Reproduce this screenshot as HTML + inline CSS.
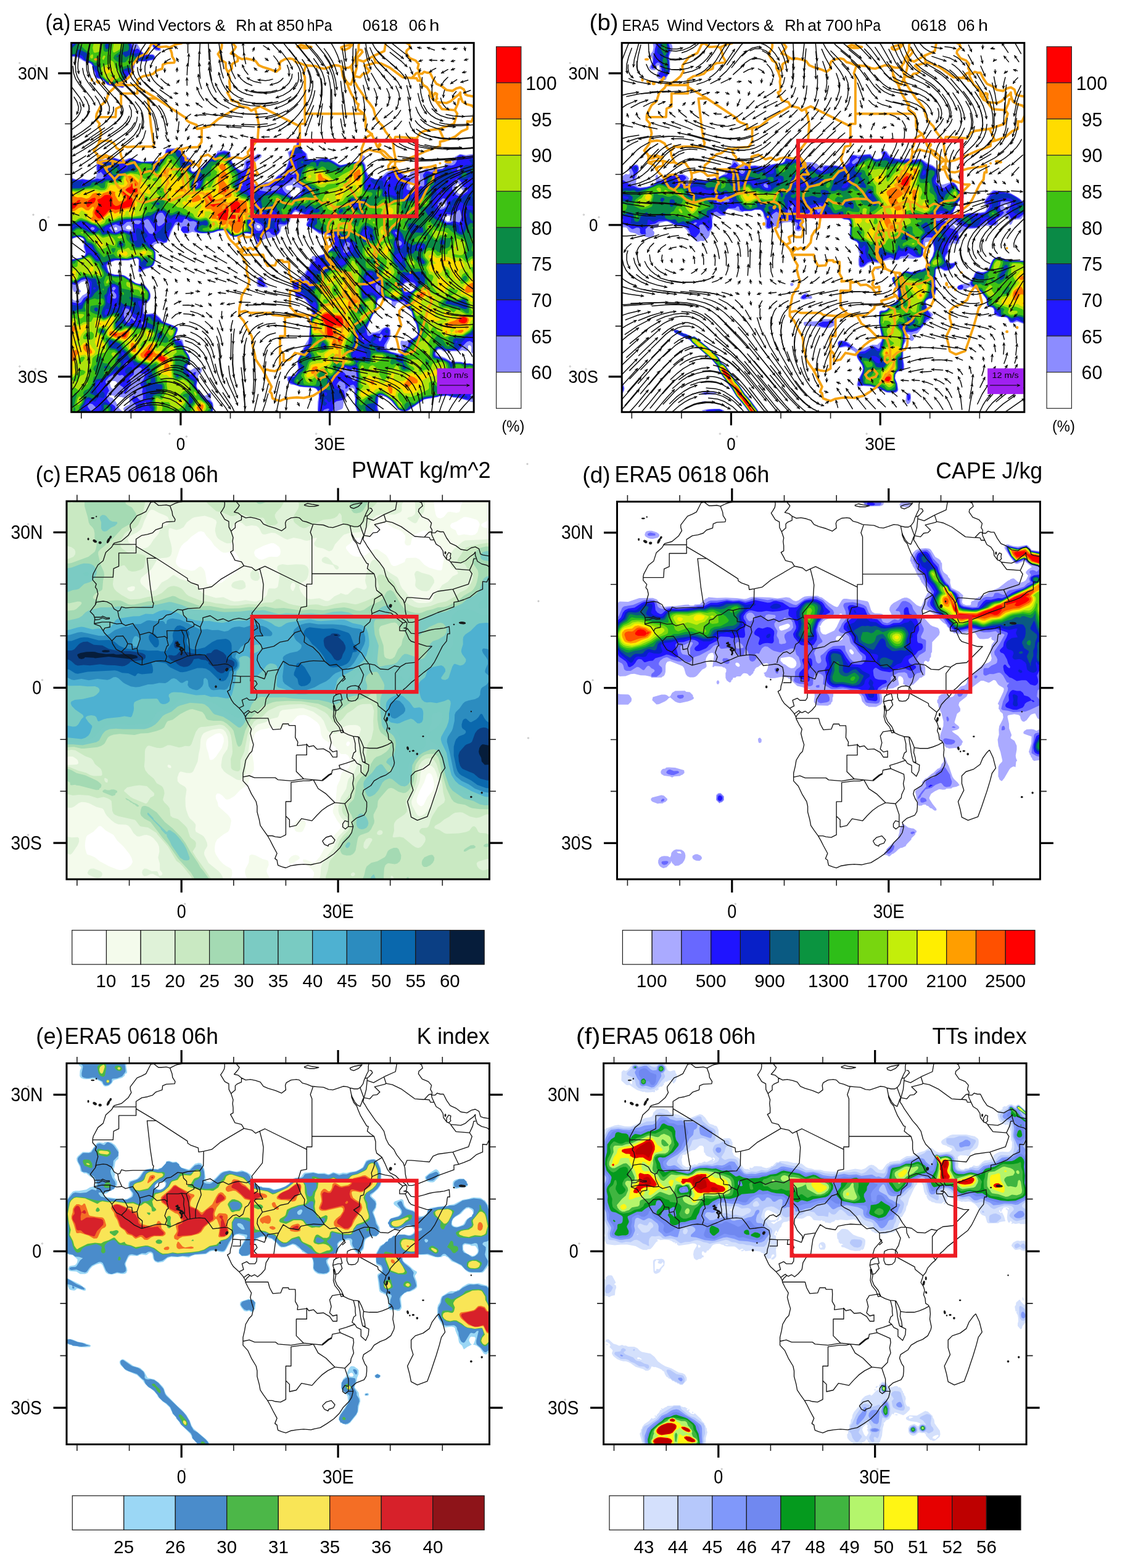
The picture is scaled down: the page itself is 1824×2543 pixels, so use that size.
<!DOCTYPE html>
<html lang="en"><head><meta charset="utf-8"><title>ERA5 0618 06h</title>
<style>html,body{margin:0;padding:0;background:#fff}svg{display:block}text{font-family:"Liberation Sans",sans-serif;fill:#000}</style>
</head><body>
<svg width="1824" height="2543" viewBox="0 0 1824 2543">
<rect width="1824" height="2543" fill="#fff"/>
<defs>
<clipPath id="cpa"><rect x="115.7" y="69.6" width="652.5" height="598.7"/></clipPath>
<clipPath id="cpb"><rect x="1008.2" y="69.6" width="652.6" height="598.7"/></clipPath>
<clipPath id="cpc"><rect x="108.0" y="812.9" width="685.5" height="613.1"/></clipPath>
<clipPath id="cpd"><rect x="1000.5" y="813.6" width="685.9" height="612.4"/></clipPath>
<clipPath id="cpe"><rect x="108.0" y="1724.5" width="685.5" height="618.0"/></clipPath>
<clipPath id="cpf"><rect x="978.6" y="1724.5" width="685.5" height="618.0"/></clipPath>
</defs>
<g clip-path="url(#cpa)">
<path fill="#8C8CFF" d="M111.7 65.6l110.8 0-.5 4 .8 2 5.9 10 3 3.4 4 2.5 12 .4 2 .8 2 2.9 .6 4-2.6 2.1-6 .6-6 1.8-16-.6-2 1.5-1.9 8.6-2.1 5-13 15-1.4 4 .4 6.8-2 2.3-22-3.6-4-1.4-4.8-6.1-3.2-2.6-10-2.1-1.3-1.3-5.6-20-1.5-2-10.9-4-12.7-7.3-12-.2zM217.7 66.3l-1.5 1.3 .1 2 1.4 2.2 2.3-2.2-.6-2zM247.5 67.6l1.1-2 13.1 0-1.8 8 1 8-1.2 1.2-6-.3-4-2.6-3.3-6.3zM483 227.6l.7-.4 2 .9 2 5 .9 6.5 3.1 5 2 .9 4.2 4.1 1.1 6 1.1 2 1.6 1 10 .3 10-2.7 8-.1 12 5.5 8 5.2 4 .4 30-6.5 2-1.1 .6-2-.3-4 1.7-1.8 4 1.5 0 2.8-2.5 3.5 .3 2 3.4 6 .9 8 1.3 4 4.4 6 4.2 2.9 4 2 2 .1 6-1.5 10.7-9.5 13.3-6 2 0 4.9 2 11.1 9.1 4 .3 2-1.3 1.2-2.1 1.2-6 1.6-1.9 2-.6 6-.7 2.9 1.2 3.1 3.6 2 .3 8-4.8 8 2.4 18-2.4 2.8-3.1 1.2-4.4 2-2.2 2-.2 4 1.9 2 0 1.8-1.1-.2-2-2-2 .4-2 14-7.8 10 1.7 10-1.7 8 1.2 0 320.3-6 1.7-2-.2-1.9-1.2 .5-8-.7-2-1.9-1.5-2 .1-1 1.4 .5 6-1.5 1.4-2 .5-6-1.4-6 1.7-16-.3-8 .9-4.6-2.8-3.4-.5-2 .6-1.9 1.9-.7 2 .1 2 1.6 2 12.9 4.6 10 6 16 .5 8 2.3 6-.1 12 2.9 0 60.4-4 .4-6-.9-10-3.1-12-2.8-6-.7-10-3-14 .8-2 1.2-6 .8-2 1-8 .8-6 1.6-26 18-6 1.8-6-1.5-4-2.1-12.2-14.9-7.8-5.6-8-2.9-2.2 .5-1.7 2-1.1 16 2.1 12 1.1 2-34.8 0-6-16 .5-12-1.8-6 .5-8-2.6-2.4-2 .1-7.3 6.3-.8 2 .2 6-4.5 8-1.3 10-2.3 2.1-8 2.9-1.5 3-.6 4-14 0-3.9-2.4-3.2 2.4-4.7 0-2.1-4.1-1-5.9 .4-12 1.7-8-.1-6-3-5.4-2-1.8-4-1.4-21.2-1.4-8.8-3.2-6-.7-3.7-2.1-2.3-5.2-.7-4.8 2.7-1.5 8-.5 2.8-2 2.6-4 1.5-4 .3-4-1.3-10 7.2-14 2.9-7.9 8.6-14.1 1.9-14-.1-10 1.4-12 2-6-2.7-10-8.8-12-4.3-2.2-6 .3-4.3-2.1-5.7-17.1-.6-4.9 .6-3.3 2-1.6 8.5-3.1 5.1-4 3.6-4 8.6-12 3.8-14 1.2-2 9.2-1.2 8-1.9 4-1.9 4-2.3 5.2-4.7 3.1-6-1.8-4-4.5-4 .4-6-1.8-2-14.6-2-14-10.7-4-.5-3.1-2.8 .4-4 1.6-4-1.6-6-3.3-3-14-5.4-4 1.7-1.9 2.7-4.1 12.2-2.4 3.8-3.6 2.2-7.4 1.8-1.5 8-5.1 6.3-4 2-14 2.9-4 1.4-4.4 3.4-5.6 5.8-2-.1-1.5-1.7-.3-6-2.4-6-3.8-3.1-4-1.3-4-.7-4 .4-6 3.2-6 1.9-4 .5-6-2.1-6.5-6.8-5.5-2-8 1.2-8 2.6-6 1-16 0-12-2.5-6 2.5-8 .1-4.6-4.9-.3-4-3.1-4-2-1.3-2 .1-2 1.2-2.7 4-10.4 24-6.9 1.6-8-.4-4 1.1-2 1.7-.7 2 .4 2 3.1 8 0 12-2.8 8-4 4.2-10 2.9-8 5.2-2.6-.3-1.7-2 .9-4 .4-14-3-2.7-12 3.5-22 .1-10 3.7-3.5 3.4 0 4 1.9 6 1 2 2.5 2 8.1 1.5 12 .6 4 1.9 16 11 6 1.7 6 .1 2 .7 2.4 2.5 6 8 1.7 4 .6 4-.5 4-1.9 4-7.4 8-.9 10 .8 2 3.2 1.3 14-1.3 8.2 8 2.5 4 2.4 2 18.9 7 4.5 3 .3 4-3.9 10-.4 2 .8 2 2.7 1.4 6-.8 2.4 1.4 2.8 12 3.9 8 3.3 4 2.3 6-.3 6-3.8 6-.6 2 .6 2 3.4 2.8 2-.1 6-3.8 2-.5 8 .7 1.4 .9 .4 2-1.1 4-5.3 6-.3 8-1.5 6-.1 4 4.5 7.8 6 5.6 2 .7 2-.3 4.3-3.8 4 0 .5 4-1.2 6 4 6 .9 4-.2 8-1.2 2-.8 6-120.7 0-5.6-2.4-4.7 2.4-101.3 0 0-192 4 1.7 4 3.6 2 .7 4-.5 4-3 4-4.8 6-3.3 2-2.2 1.3-4.2 .2-4-1.5-7.1-2-2.1-2-.7-6 1.8-4.6 4.1-.8 2 .5 4 4.2 4-.1 2-1.2 .6-4-1-6 .2-1.8-3.8-1.2-6-3-.8-2 1.4 0-44.7 6 .6 12-1.9 6-1.9 1.8-2.7 .6-4-2.5-8-.2-6 1.2-4-1.6-4-1.3-1.3-4-1.6-6 .2-6.7 2.7-5.3 5.4 0-106.5 12 4.5 6-.3 4-1.2 8 1.7 4 0 4-.4 3.4-1.2 2.2-2 1.5-4-.9-12 1-12 .8-2.2 2-.2 4 1.5 4 .3 8-2.3 10-1.3 10 3.4 6 .5 8-3 4-.4 10 4.6 6 1.7 22-1 8-2.9 4-2.8 3.1-3.9 1-6 1.9-4.1 2-1 12-.3 5.5 1.4 6.5 4.1 2.4 1.9 4.2 6 7.4 5.1 1.4 4.9-1 12 1.6 2 2 .7 4-1.1 9.1-5.6 14.2-14 2.7-1.1 5.5-4.9 1.7-2 .8-3.5 2-1.8 10-.9 8 2.1 2 2.8 1.9 11.3 2.6 6 5.5 6.9 6 2.9 2 0 3.1-1.8 1.2-4-.3-6 2.6-4 3.4-1.6 6-.9 10-7.5 4 .3 2.6 1.7-.6 3.1-10.7 8.9-4.9 8-.8 4 1.9 8-.5 8 1.2 4 1.8 2.4 2 .8 8-.2 6.6-3 7.4-.6 6-2.2 10-9.4 8-4.8 4.4-7 4.5-14-.2-4-2-6 1.3-2.1 6-3 5.5-4.9 2.1-8zM619.7 483.3l-4 1.3-3.4 3-1.9 14-6.9 12-7.7 18-.2 4 2.1 3.2 2 .8 8-.6 6-1.9 8-5.5 6-1.9 3.6 1.9 2 4 .4 6-1.6 8-5.3 10-.1 4 2.9 4 4.1 2.7 14 3.2 2.6-1.9 1.1-4-2.2-10 .5-4.6 2-.6 4 1 4-.4 12-5.8 4.4-3.6 1.1-6-2.9-12-4.1-8-3.4-12-7.6-6-5.5-8.2-4-1.2-4 .5-2.3 .9-3.7 6.9-4-.5-.8-2.4-.1-8-5.1-2.8zM657.7 459.6l-2 1.1-1.6 2.9-.3 4 1.9 3.7 2 .9 8 .5 5.2-3.1 1.7-4-.1-2-1.2-2-7.6-2.6zM667.7 296.9l-2.7 2.7-.8 2 .2 2 3.3 2.2 2 .4 3.4-.6 2-2 .4-2-1-2-2.8-2.3-2-.7zM675.7 280.8l-2 2.4 0 2.4 2 4.3 2 1.6 2 .4 .9-2.3-.7-8-2.2-1.3zM717.7 329.3l-3.6 2.3-.4 1 0 1.7 2 1.8 3.8-.5 1.7-2 .1-2-1.4-2zM723.7 350.3l-1.8 1.3-.9 2 1.4 4 3.3 1.9 4-1.6 1.4-2.3 .1-2-1-2-2.5-1.6zM741.7 296.9l-4 5.9-.3 2.8 5.2 8 3.1 1.2 2-.3 2.9-2.9 .2-2-5-6-2.1-6.2zM177.7 641.1l-.5 .5 .5 2.6 4 .9 4.8 4.5 7.2 13.3 8 7 1-.3-.1-2-2.7-4 .7-2 3.1-2.5 6.7-3.5-.9-6 .2-9-2 .3-2 3.9-2 1.4-6-2.2-6-.5-12-2.8zM179.7 618.6l-1.5 3 1.3 6 2.2 2.3 2 .5 2-.7 2.7-2.1 1.2-2 .1-5.1-2-2-2-.4-4-.3zM219.7 624l-2 3.8 2.1-.2 1.2-2zM185.7 369.3l-.3 2.3 1.7 2 2.6-.5 .6-1.5-.7-2-1.9-1.3zM205.7 366.8l-1.8 2.8 1.4 2 4.4 1 3.3-1 .2-2-1.5-2.4-2-1.4-2-.2zM417.7 364.9l-1.3 .7-.3 2 1.1 2 2.5 1 2-1 0-2.6-2-1.8zM465.7 301.2l-2.7 2.4 0 2 2.7 2.7 4 .3 1.8 1-.8 6 3 3.2 2 .4 2-.8 7.2-4.8 .8-1.3 .9-4.7-.9-2.7-4-.9-6 1.5-2-5.5zM477.7 295.1l-2 .6 0 3.1 2-1zM418.1 449.6l3.6-.8 3.9 .8 2.4 6 6.3 10-.6 .6-12-.1-4-1-1.6-3.5-.1-4 .4-4z"/>
<path fill="#2219FF" d="M111.7 65.6l2.6 0-.9 2 .3 1.7 2 1.1 2-.5 2-1.9 .3-2.4 93.3 0-.6 4 3 10.4 2 1.1 4-2.1 2 0 10 9.6 14 .7 2 1.4 1.3 2.9-1.3 2.6-6 .9-6 1.9-10 0-6-.8-2 1.2-1.4 2.2-2.6 10.9-14 17.1-1.4 4 .2 6-.8 1.6-2 .5-6-1.8-14-2-4-1.7-8-8-8-2.1-2-1.3-1.3-7.2-2.7-4.8-1.9-7.2-2.1-2.9-12-4.9-4-3.2-6-3.1-14-1.1zM249.3 65.6l11.2 0-1.9 8 .7 6-1.6 1.7-6-1.9-3.2-3.8-.9-4zM482.7 231.6l1-1.7 2 1.7 2.1 8 2.2 4 5.9 6 .8 6 1 2 2 1.5 14 .6 8-2.3 8-.1 6 2.3 12 7.2 4 1.6 8-1.4 12-3.6 14-1.4 2 .7 3.3 4.9 1.5 10 3.6 8 2.1 2 7.5 2 2 1.4 4 .3 4-.8 5.3-2.9 7.2-6 5.5-2.7 4.6-3.3 5.5 0 3.2 2 8.7 9.9 9.2 2.1 .5 2-.6 2-5.5 8-.4 4 .8 1.7 2 .9 8 .8 4-.7 8-6.5 4 .6 2-.8 .4-10-2.1-6 0-2 3.7-5.4 2-1 2 .2 6 2 2-.7 3.7-3.1 12.3-1.4 3.5-2.6 2.5-3.7 8 .6 4-1.1 2.4-1.8 2.4-4-.1-6 1.5-2 3.8-2.3 3.7 .3 6.3 2.4 10-2 8 1.2 0 291.4-1.9 3-.1 2 2 4.8 0 14.3-2 .7-2-.9 .2-8.9-4.2-4.4-4-2.2-4 1.1-1.9 1.5-12.1 12.6-22 .6-6-2.9-4-.6-2 .5-2.3 1.8-1.7 2.9-.5 3.1 .5 2.5 1.5 1.5 14.5 4.3 10 5.6 16 .2 8 2.2 6-.1 12 2.8 0 54.5-1.8-1.5 .4-6-2.6-2.4-3.9 .4-2.1 2-.7 2 .4 6-3.7 1.1-6.4-1.1-9.6-3.1-10-.8-8-2.8-14 1.4-2.6 1.3-21.4 3.6-24 16.7-4 2.2-4 1-6-1.5-4-2.1-10-12.8-8-6.4-8-3.8-4-.1-2.1 1.2-1 2-.3 10-1.1 6 .4 4 3.1 10-32.5 0-6.3-18 .8-10-1.3-6 1.4-8-1.1-3.9-2-3.2-2-.8-5.1 1.9-4.9 4.8-2-.5 .5-4.3-1.6-4-6.9-3.9-2 .6-2 2.6-1.5 2.7-.1 2 4 4 7.5 4 2.1 10.2-2 3.7-2 1.2-10 2.1-4 2.6-.5 2.2 1.2 6-2.8 4-.2 6-1.7 1.6-2 .2-3.4-1.8-1-2 .4-2.5 2.4-3.5-2.4-1.2-6 1.9-6 6.4-2-1.1-2-3.6 1.8-22.4-.2-6-3.1-6-2.2-2-4.3-1.4-14.7-.6-7.3-1.1-16-5.6-2-3.2-.7-4.1 2-2 6.7-.5 2-1.2 4.7-6.3 2.2-6-1.8-10 .9-5.2 5.3-8.8 4.7-9.8 4.9-4.2 1.1-2 2.2-10 .9-22 1.5-10 3.5-8-3.3-10-8.8-12.6-6-4.6-6 1.6-2.2-.4-1.6-2-1.5-8-3.1-8-.5-4 .9-2.3 2-1 10-4.1 2-.2 2.6 1.6 1.6 4 1.8 2.2 4 .9 1.6-1.1 .5-2-1.3-2-4.6-2-1.3-2-.4-4 5-10 4.2-6 2.3-5.9 2-1.6 4.1-.5-1.3-4 1.1-2 12.1-4.3 8-4.5 8.2-7.2 3.1-4-.3-2-5.3-6-.4-8-4.6-2-14.7-2.3-14-9.1-4-.3-2.4-2.3 .1-2 3.6-6-3.3-7.4-2-2.1-16-7.5-2 .3-4 4.6-6.1 14.1-1.9 2.9-4 1.7-8-.8-2 .8-.9 1.4 2.9 8-1.6 4-2.4 2.5-3.4 1.5-2.7 0-3.8-2-2.1-2.9-2-1.1-2 .3-4 2.2-2 2.8-2.6 6.7-5.4 4.3-2-.2-4.6-8.1-3.4-3.7-8-1.9-6 .1-6.3 3.5-5.7 1.8-4 .4-5.8-2.2-6.2-6.6-4-1.9-10 .9-8 2.7-6 1-12 .4-6-.9-4.7-1.6-1.7-2-.3-2 .7-2 3.6-6-.1-2-1.5-1.7-4-1.5-6 .5-2-.8-2.4-2.5-3.6-.6-1.4 .6-2.6 5.1-2 .5-6-1.7-2 .5-2 1.7-7.5 13.9-4.5 13.7-2 3.2-4 1-8-3.3-2 .1-7.2 3.3-2.1 2-.8 2 .4 2 3.7 4.9 1.8 5.1 .2 10-2 7.9-2 3.6-2 1.6-12 3.1-6 4.4-2-.2-.3-18.4-1.3-2-2.4-1.3-14 3.4-22 .3-8 3.1-3.6 2.5-1.5 2-.2 2 2.5 8 2.8 4 8 2.4 12 .1 4.3 1.5 17.7 11.7 4 1.4 8 .6 2 1 7.5 9.3 2.1 6 0 4-1 4-4.6 4.7-6 1.6-1.7 1.7 1.8 6-.2 8 1.4 2 2.7 .8 12.4-.8 3.6 .9 6 4.7 5.1 6.4 20.9 8 3.3 2 .9 2-.3 2-4 10-.2 4 2.3 2.5 8 .6 6.1 14.9 5.9 8.6 2.1 5.4 0 4-5.1 8-.5 2 1.2 4 4.3 7 2 1 4-3.2 2-.9 2.3 .1-1.8 6 .1 2 3.1 6-1.6 8 1.2 4 4.7 7.2 8 8.9 2.2 1.9 5.8 1.9 4.3 4.1 1.6 8-3.1 12-107.4 0 1.3-4-.7-2.3-2-2-2 .1-6 3-2 .2-3.3-1-2.5-2 2.2-4 .1-4-6.2-8 .2-4 1.5-3.3 2-.4 4 1.6 3.4 4.1 2.6 1.6 2 .6 2-.6 .2-7.6-1.6-6 1.1-4-.5-2-3.5-6 .1-2 5.1-6 2.5-6-1.4-3.5-6.2-.5-1.2-2 3.5-4 0-2-2.1-1.7-2-.1-8.2 3.8-.7 8-6.7 6 .1 2 2.1 4-.1 4-8.5 13.3-2 1.3-2-.5-2 .7-.4 1.2-3.6 .4-1.6-.4-1.8-2 1.4-1.1 2-.1 6 1.2 1.4-2 .3-4-.7-2-1.8-2-3.3-2-1.7-2-.3-2 .1-2.2 2-3.2 4-.8 2.2-1.8-.1-2-2.1-2.8-2-.9-4 1.2-6-3.3-2 .1-9.1 5.7-5.1 6-.5 2 6 14-3.3 5.1-.9 2.9 .9 6.1 4 5.2 7.3 4.7 1.8 2 1 4-2.1 4.2 6 .7 4 2.2 3 2.9-87 0 0-188.7 6 5.3 8 1.9 4-.6 2-1.6 4.1-6.3 6-4 1.3-2 1.7-6 .4-8-.3-4-1.8-4-2.3-2-3.1-.8-6 1.8-10 7.3-6-1.4-4 .4 0-40.5 6 .6 12-2.2 6-1.9 2.9-3.3 1-4-2.9-10 .2-10-.9-2-2.3-2.2-4-1.4-6 .3-8 3-4 4.5 0-104.1 8 3.3 6 1.2 8-1.1 10 1.5 8-1.1 6-2.1 4 1.1 4-.4 3.1-2.5 .2-2-5.3-6.8-4 2.4-2-5.8-.2-5.8 2.2-9.6 6 1.5 11.7-3.9 8.3-.9 10 3.8 6 .7 2-.3 6-3.5 4-.5 10 4.4 6 1.5 24-.5 10-5.4 3.8-5.3 2.2-7.4 2-1.9 6 .1 6-1 6 1.8 6.5 4.4 1.8 2 2.7 6 7.8 4 1.2 2 .3 4-1.4 10 3.1 3.3 4 .4 12.1-7.7 11.9-12.1 8-5.5 6-6.3 10-2.5 6 1.5 2 1.4 3.2 13.5 2.1 4 4.7 6.4 8 5.3 4 .2 2-.9 2.7-3 1.1-4-1.1-4 .2-2 1.3-2 3.8-1.2 3.5 1.2 .5 2-4.8 6-.4 2 3.4 10-.5 10 2.3 6 2 3.1 1.5 .9 6.5 .8 1.7 1.2 .3 4 2 1.5 14 2.4 8-2.4 8-.9 2.6-2.6 .3-2-2.9-2-4-.9-8 2.1-10 .8-3.2-2 .5-2 2.5-2 8.2-.9 6-2.7 4.9-6.4 3.1-2.6 4-.8 4 3.3 2-.3 .9-1.6-1.3-4 .4-2 5-10 4-14-1.5-8 10.1-8 1.7-2zM561.7 392.1l-2 1.5-3.1 10 0 4 .7 2 2.4 1 4-.8 1.7-2.2 .4-6 1.7-4 .2-2-1.4-2-2.6-1.4zM589.7 546.9l-2 1.1-.3 1.6 2.3 2 1-2zM613.7 459.1l-3.7 2.5-1.5 2 1.7 10 1.5 2.1 2 0 1.8-2.1 1.4-8 0-4-1.2-2zM627.7 286.4l-1.4 5.2 1.4 3.3 2.6-1.3 .6-4-.2-2-1-1.4zM641.7 375.6l-1.6 2 3.6 4.3 1.1-2.3-.4-2zM645.7 389.4l-2 2.2-1.2 4 1.2 2.7 4 .8 2.7-1.5 1.2-2-.1-2-1.8-2.5zM659.7 456.7l-4 1.8-2.3 3.1-.6 6 .9 3.1 2 2.6 2 .9 10-1.3 4-3 1.5-2.3 .9-4-.4-2.3-2-2.4-2-.9-6-1.6zM715.7 310.8l-1.8 .8 1.8 3.1 1.2-1.1-.3-2zM739.7 290.2l-6.1 11.4-.8 4 .5 2 6.4 8.6 4 1.7 4-.2 10-7.1 1-3-1-2.3-6-2.1-1.5-1.6-2.4-6-2.1-2.6-4-2.9zM743.7 271.3l-2 1.7-.8 2.6 .8 1.4 2 .8 2-1.2 .9-3-.9-2.2zM183.7 465.1l-2 2.5 .2 2 1.8 1.9 2-.9 2.2-3-1.3-2zM203.7 500.1l-2 2.5-1.2 9 3.8 10 1.4 1.5 2.5 .5 2.4-2 1.1-3.7 2-1.6 2.7 3.3 1.3 .7 2-.5 0-2.4-4.9-3.8-3.9-10-3.2-2.8zM229.7 521.2l-.4 4.4 2.4 1.4 2.1-1.4-2.1-3.7zM235.7 652.1l-1.7 1.5 1.7 3.8 2-1.3 .4-2.5zM145.7 654.5l-3.3 3.1-.3 2 3.6 5.1 2 1.7 6-2.8 1.7-2-1.1-2-4.6-4.4zM147.7 368.8l-1 .8 .2 2 2.8 1.6 2-.1 1.6-1.5 0-2-1.6-1.2-2-.4zM219.7 357.3l-4 1.8-10 .9-8 6.8-2 .4-8-3.4-5 1.8-5.8 4 5.5 6 3.3 1.2 4-.1 8-4.1 11.3 3 6.7 .2 1.3-2.2 .4-4-1.7-6.5 2-.4 6 1 2-.5 3.5-3.6-2.3-2zM237.7 355.4l-3.9 2.2-1.1 2 1 2 .5 6 7.5 10.7 4 1.3 2-.9 2-2.3 .9-2.8-.4-2-8.5-14.4-2-1.6zM257.7 345.5l-3.7 4.1-.9 4 1.6 10 1 2.4 2 1 4-1.8 6.9-5.6 1.2-2-1-4-4.8-8-2.3-.8zM315.7 296.7l-1.6 2.9 .1 2 1.3 2 2.2 .1 2.9-2.1 1-4-1.9-1.5zM391.7 298.1l-.6 1.5 .6 2.5 1.7-.5 .1-2zM407.7 357.3l-1.4 2.3 4.1 2 2.4 8 2.9 3.9 4 1.2 3.5-1.1 2.2-2 .4-4-3.2-4-9.5-4-2-2zM471.7 273l-1.6 2.6-.4 4 2 2.7 4 1.5 2.6-2.2 .7-4-3.3-5.6-2-.4zM557.7 596.9l-3.1 2.7-.9 2.3 4 2 4 4.8 4 .4 2 1.1 4 7.1 2 1.3 2-.8 2-2.5 .7-3.7-2-14-.7-.7-2 0-1.8 .7-4.2 3.7-2-.1-4-4.7-2-.5zM615.7 482.9l-2 1.3-2.4 3.4-1.5 14-6.2 10-9.3 20-.2 4 1.6 8 2 1.3 2-.1 6-3.6 6-.7 4 .5 3.7-5.4 2.3-2 4-1.9 2-.3 2 .8 2.2 3.4-.2 7.3-2.3 6.7-6.3 10-.7 4 1 2 2.3 2 6 2.9 10.7 3.1 5.3 2.3 2-.3 2-2.1 4-7.6 4-3 2-2.4 1.4-6.9 10.6-6.3 3.6-3.7 .6-6-2.6-12-3.6-6.3-3.9-13.7-6.1-6-6-10.4-2-.8-16 .4-8-4.6-6-1.6-4-.5zM715.7 323.5l-5.6 6.1-.7 2 1.7 6 2.6 2.3 2 .1 4-1.5 3.9-2.9 1-2-.4-10-4.5-1.9-2 0zM743.7 340.8l-10 7.9-8-1.5-4 .7-5.8 3.7 .4 2 4.9 6 2.5 1.5 6-.2 6-2.6 8 2.5 2-.8 3-8.4-3-11.3zM181.7 472.7l-3 4.9 .3 4 2.7 2.2 4 .7 2-.9 1-2-.4-4-4.6-5.8zM205.7 587.5l-2 2.1 0 2 2.3 0 2.7-2-1-1.8zM475.7 289l-6.2 6.6-10.8 6-1 2 1 4 3 4 10 8 4 1.4 12-6 3.8-11.4-2.1-2-5.7-2.8-4-7.9-2-1.7zM617.7 541.6l-2 2.4-1.9 7.6 1.9 2.1 2-1.5 3.2-6.6-.6-2zM416.1 253.6l4.2 0-1.2 2-5.4 2.9-.9-.9 .7-2zM295.6 367.6l6.1-.7 3.6 2.7 1.5 4-.2 2-1.6 2-7.3 .2-2-1.8-1.9-2.4-.1-2zM419.3 451.6l2.4-1.3 2 .7 6.1 10.6 .5 2-.6 .7-2 .6-8-1.5-1.7-3.8zM338.8 639.6l.9-.5 1 .5-.1 2-.9 .8-1.3-.8zM209 665.6l.7-1 2-.2 3.3 1.2-.4 2-2.9 1.7-2-.9z"/>
<path fill="#0631B3" d="M123.6 65.6l87.2 0-.5 4 1.8 8-.6 6 1.1 2 7.1 1.2 6-1.4 2 .9 6 6.2 2 .2 8-2.3 4 .9 1.3 2.3-1.3 1.3-12 2.4-8 .4-6-1-2 1.1-2.4 3.8-1.8 8-1.8 3.6-2 2.2-4 1.9-2-1.9-2-.5-2.5 .7-1 2 1.2 2 2.3 .6 1.1 1.4-.5 2-4.6 8-1.8 8-6.2-1.8-14-1.4-4-1.8-6-6.1-9.7-4.9 1.2-4-.4-2-1.1-2-4-3.3-3.6-8.7-2.4-2.3-9.5-3.7-2-2-2.5-5.2-6-1.8-4.2 1-5.8 0-5-2-1-1.5 .7-8.5 9.3-7.3 1.7-2.7zM250.6 65.6l8.4 0-3.3 11-2 .3-2-.8-2-2.1-.4-2.4zM482.1 239.6l1.6-1.4 2 .9 5.2 8.5-1.2 1.5-6-.6-6 2-1.3-.9-1-2 .6-2zM281.2 243.6l5.5 0 8.3 6 .9 2-.1 6 1.9 5.3 6-2.2 3.2 .9 1.1 2 .3 4-1.8 6 .2 2 3 3.5 4 1.8 4-.6 10-7.2 4.2-3.5 7.8-8.6 8-5.1 6-5.7 8-2.4 4 .4 3.7 1.4 2.3 3.7 1.2 8.3 1.1 2 5.8 8 10.3 10 .6 2-1.7 8-2.7 6 0 2 3.4 7.2 2 2.6 2 1 6-.5 2 2 2.8 5.7 3.2 2.5 1.8-.5 1-2-1.2-8 2.4-1.6 2 .5 6 7.9 2 .1 6-2.8 8 .3 8-2.3 4-.2 12 3.2 16 8.1 2-.4 12-5.9 1.9-2.9 .6-4 5.6-6-1.5-2-10.6-4.7-4.8-9.3-.2-2 2.6-8-1.6-6-.8-12 .8-.8 8-2 4 .4 4 3.8 2 .6 6-.9 8 .6 8-2.4 10 .5 8.7 4.2 7.3 4.8 4 1.3 22-6 12 .1 2 1.1 2 3.2 1.7 11.5 2.1 8-1.1 8 0 10 1.3 1.1 2 .1 8-1.9 6 .7 4-2-.3-2-1.7-1.2-6-2-3.3-2.8-1.5-2 0-2 .8-.4 4-.1 8 1.9 6-.4 1.7 3 .4 6 4.7 4-4 6-.8 2 .5 2 3.5 .9 8-.6 8 2.8 1.2-1.1-.1-2-4.3-8-.2-4 1.4-1.6 8-2.4 2-5.3 2.6 1.3 1.1 2 .6 16-1.1 6 1.3 2 3.5 1.2 3.1-1.2 1.8-2 1-6 2.1-1 3 1 0 2-2.3 4 1.1 2 4.2 .6 4-1.2 2.1-1.4 .2-2-2.9-4 .3-2 1.4-2 4.9-3.2 6 1.1 2-2 1.2-3.9-.6-6 .6-6-1.4-4 .2-2 2-2.1 2-.3 9.3 2.4 4.7 7.5 2 .8 3.7-2.3 1.6-4-1.2-2-6.1-2.3-1.2-1.7 .6-2 4.6-1.1 6 .1 8-5.1 5.1 2.1 1.7 4 4.7 4 .6 2-4.1 4.8-8 3.4-2.5 3.8 .4 4 4.1 4.3 .1 5.7-2.1 1.7-2 .3-2-.8-4-4.2-4-1.7-2 .3-3.4 2.4-2 2 1.4 1.2 .8 4.8-4.8 2.3-2 4.8-.5 10.9 4.5 2.9 1.4 3.1-.2 2-2.6 4-.5 2 2.9 4 9 5 6 5.7 4 .8 10-.9 4.8 1.4 2.5 2 .8 2 .4 6 1.5 2.3 2 .4 2.5-2.7 3.3-10-1.2-6 3.4-3.6 1.1-2.4-.1-4-1-1.9-4-2.8-.4-1.3 .6-2 1.8-1.1 4 1.8 6 0 4 1.1 2 4.5 3.9 5.7 .1 183.1-2-.3-2.7 1.2-3.3 7.5-6 2-4.1 2.5-7.9 8.9-4.4 9.1-1.6 1.3-18 .7-8-3.6-6 0-2.4 1.6-2.8 4-.9 6 .5 2 1.6 1.5 16 4.3 4.5 2.2 5.5 4 8-1.4 6 .3 10 2.5 6-.2 12 2.7 0 41.8-6-1.3-8-.3-8-5.8-8-2-4-3.7-4-.2-3.2 1.6-1.7 2 .6 8 4.8 2 8.4 2 1.5 2-1.2 2-7.2 1.5-12-3.8-38 6.8-4 1.9-10 8.2-11.4 7.4-6.6 2.6-6-1.5-4-2.1-8.3-11-7.7-6.7-8-4.6-6-1-3.7 2.3-.8 2-.6 10-2.6 6 .5 4 3.2 5.2 1.4 4.8-29.7 0-6.5-18 .9-8-1-8 1.7-8-.9-8 2.6-10-1.3-16-1.2-3-2-.8-8 1.6-8-1.7-4.3 1.9-5.1 4-6.6 9.6-7 6.4-1.4 2-.1 2 4.5 8 2 1.9 8 3.8 3.2 2.3 2.6 6 .2 2.4-1.8 1.6-8.2 2.8-6-.6-2 .6-2 3.3-2 .8-1.9-.9-2.1-3.8-2-1.1-1.9 2.9 .9 2 3.5 2-.5 2-2 2.2-2 .4-1.3-.6-5.4-6-.3-14-2.1-6-1.9-2-7-2.3-14-.7-10-1.7-7.6-3.3-4.5-4 0-2 6.1-4 9.7-12 .1-4-3.3-8 .3-4 9.2-15.8 6-5 2.3-3.2 1.4-8-.6-10 .9-17.8 2-8.4 2-2.8 4.1-3 .3-8 1.3-6-1.7-4.7-2-1.5-2 1.3-2 3-3.6-2.1-2.9-6-7.5-10-2-1.3-4-1.1-2-1.6-2.5-6 2.5-7.2 2-1.1 6.8 6.3 3.2 1.5 8 1 2-.1 2-1.4-.2-13 .8-6-.6-3.5-1.9-2.5-.2-2 2.1-.7 6 2.6 8 .5 8.2-4.4 1.8-3.9-.4-2.1-1.6-1.8-6-2.6-5-5.6 .2-2 6.8-3.6 10-7.8 8-3.1 6.2-3.5-1.5-8 4.1-6-2.3-4-2.5-2-6 .4-22-4.2-6-2.6-6-4.5-8.5-3.1 .5-2.1 6.2-1.9 1.7-2 .4-2-1.5-2-4.8-2.7-1.9-3.3-.1-2.5 5-5.5 0-2-1-1.4-2-.3-4 2.7-2 3.3-2 .8-4-1-3.7-2.1-4.3-4.3-4 .1-4 5.1-8.8 17.1-3.2 2.2-4-.4-3.7-1.8-1.5-2 .5-6-1.3-3.9-2-2.2-4-2-2.9-3.9-1.1-.5-2.7 4.5-5.3 3.5-2-.1-8-4.4-1.8 1 1.8 7.1 2 .7 4-1.1 2 .3 2 5.1 2 2.4 2 .5 6-1.7 1.2 .7 .9 2-.5 8 1 2 3.4 1.9 1.2 2.1-1.2 3.5-2 .9-2-.8-1.1-1.6-.9-4-2-1-10.1 1-1.9-1.9-3.1-6.1-8.5-6-1.5-4-2.9-1.3-2 .1-6 2.6-2.5 2.6-.6 2 1.1 5.7 6.2 8.3 .4 2-.6 .7-4 1.3-6-.7-4 .5-7.9 4.2-8.1 1.4-4.4-1.4-7.6-7.6-4-1.7-10 .8-8 2.9-6 .8-10 .5-8-1.4-3.4-2.3-.4-2 .4-2 4.2-6-.2-2-4.6-3.5-8-2-8-4-16-1.5-4 .7-4 3.3-2 .2-2-1.5-7.8-9.7-2.2-1.1-4-.2-4 1.5-6.8 5.8-.7 2 1.9 6-.4 3.2-2-.3-5.3-6.9-2.7-.9-10 2.9-8-.3-16 1.6-4 .7-6 2.9-12 2.1-11.7 5-2 2-.6 2 .3 2.3 2 1.2 4 .3 8 3 6 .1 10-3.3 14 4 2.6 2.4-1.9 6 .9 2 4.4 1.4 2.5-1.4-2.4-14 1.9-5.4 2-.2 8.4 3.6 5.6 5.6 1.4 2.4 0 2-4.9 4 5.1 6 2.7 6 5.7 4.1 2 2.8 .9 3.1-.3 14-2.6 5.7-2 2.1-8 2.3-8-1.3-2-1.3-.6-1.5-.5-8-1-2-3.9-1.9-16 3.4-20-.5-6 2-5.3 3-5 4-.4 2 2.7 3.9 2.5 6.1 3.5 3.2 8 2.1 14.4 .7 19.6 12.5 6 1.7 6 .6 2 1.1 8 10.9 .7 5.2-.3 4-2.4 4.1-4 1.7-10-1.6-2 .7 .6 5.1 3.7 8-.7 8-1.6 2-2 .4-6-2.7-2-2.6-2.1-5.1-3.9-3-6-1.5-2.9 .5-2.6 2-.8 10 .4 4 2.6 8 3.3 3.5 4 1.8 2-.2 4-2.1 2 .1 4 3.3 4 1.5 6 .7 5.8-.6 3.4-2-4.4-8-.6-4 .8-2 4.6-2 4.4-.4 2 .5 5.8 5.9 4.2 .3 8 5.4 22 8.5 1 1.8-.1 2-4 10-.4 4 .7 2 2.8 2.8 3.3 1.2 6.7 4.5 3.1 7.5 5.4 8 2.6 6-.1 4-.9 2-4.9 6-.5 2 3.1 10 4.2 6.4 7.4 3.6 2.1 2 .5 2-1.6 6 .5 2 11 16 4.1 4.4 8 3.7 3.9 3.9 .9 6-.9 4-3.6 8-99.2 0 4.8-8 .2-2-2.9-2-1.1-2 1.9-10-2-1.8-4-.8-1.4-1.4-.5-4 1.4-4 .1-4-1.1-4-3.7-6 .1-2 8.5-16-.3-4-3.1-4-4.9-4-7.1-1.8-8 1.1-2.2-5.3-5.8-3.3-4-1.1-4 .7-1.1 1.7-3.5 14-1.4 2.6-2 1.3-2 0-6-1.2-18 13.8-10 2.4-1.1 1.1-1 2-.4 4 1.5 10 1 1.8 2 .4 4-2.4 2-.4 2 .7 1.6 1.9 .4 2-.3 4-1.7 2-8-1.4-2 2-2 4.2-2 1.1-4-1.1-5.1-2.8-2.9 .2-1.8 1.8-2.5 6-3.8 6 .3 2 5.8 1 1 1 .4 2-3 6-26.4 0 0-172.5 3-1.5 1.2-4 1.8-1.4 10 1.5 4-1.1 6-8.8 8-5 2.3-5.2 .8-16-.1-2-1.1-2-5.9-4.2-4-.7-6 1.9-8 6-2 .6-10 0 0-37.9 6 .9 16-3.9 4.6-2.7 3.4-4.7 2-1.1 4 .4 8 9.8 2 .6 1.5-1 .3-2-1.8-4.5-5.7-5.5-2.3-6.8-2-2.8-2-.8-2 .4-4 3.2-1.5-3.2-.3-8-2.2-3.8-2-1.4-6-1.4-10 1.8-2 .9-4 4.5 0-16.4 4-2 6-5.6 4-.2 8 2.1 10 5.5 6 2.3 4-.3 2.3-2 .8-2-.3-2-2.8-2.8-8-1.7-6-3.8-8-1.5-5 1.8-3 3.2-12 2.7 0-77.9 10 3.8 11.8 .2 1.3 2-3.3 4 .2 2 5 0 2.3-2 1-4 5.7-1.9 10-1.3 8 1.4 8-3.6 8-1 .9-1.6-2.9-3.4-2-1.7-4-1.5-2-2.1-4.5-9.3 .4-2 2.1-2.7 10.2-5.3 5.8-1.3 5 1.3 2.9 4 4.1 11.5 2 1.6 2 0 6-3.1 1.7-2-.3-2-2.3-4 1.8-4 3.1-2.7 4-.7 8 3.9 4 1 22 .3 6 1.4 10-6.2 2.5-3 5.5-9.7 6-.9zM323.7 289.3l-8 4.3-2.2 2-1.5 6 .3 2 1.4 2 5.4 0 3.5-2 1.1-1.6 2.8-8.4-.8-3.7zM411.7 324.5l-.9 3.1 .9 5.1 4 4.9 5.8 4 .2 1 .5-7-1.1-4-5.4-7-2-.7zM559.7 389.4l-7.6 12.2 1.6 12.2 2 2 2 .7 11.9-4.9 1.7-2 3.9-8-.2-4-2.5-4-8.8-4.8-2-.3zM571.7 325.8l-1.5 3.8 1.1 4 4.4 1.5 4-.7 .6-.8-.6-2zM593.7 369.1l-2 .6-2 2.4-2.7 5.5-.5 2 .8 2 4.4 4.2 2 .9 8-1.1-.8-2-3.2-1.7-1.4-2.3-.1-2 2.9-6-2-2zM639.7 373.5l-2.7 2.1-.1 2 5.1 8 .3 2-1.8 6-.2 4 1.4 3.3 2 1.5 6 1.3 2-1.4 3.3-4.7 .2-4-4.8-8-4-10-2.7-2.2zM663.7 403.3l.6 2.3 1.4 .6 .7-.6-.7-2.4zM677.7 397.6l-1.9 2 .3 2 2.4 2 3.2 1 2-.2 2.8-2.8-.8-3zM739.7 552.6l-1.1 1-.3 2 1.4 1.1 1.6-1.1 .5-2zM527.7 635.5l-2 1.2-.2 .9 2.2 4.6 2-.9 .8-1.7-.4-2zM549.7 421.5l-2.8 4.1 .1 2 1.9 2 2.8 1.2 4-.9 3.6-2.3 1.2-2-.8-3.6-2-2.2-4 .1zM171.7 501.1l-2.3 6.5 .3 2.5 2 1 5.4-3.5 1.3-2 .1-2-2.8-2.6zM181.7 462.6l-3.6 5-1.9 8-2.6 6 0 8 2.1 2.3 4-.1 1.9 1.8-.1 4 .7 2 1.5 .7 6-.3 1.7-.4 .8-2-2.9-6 2.8-10-1.3-8 .5-6-.6-2-1.9-2-5.1-1.6zM197.7 570.5l-.8 1.1 .8 5.6 2-.3 2-3.3-1.1-2zM151.7 466.3l-.7 1.3 .5 2 2.6 0 1.3-2-1.7-1.9zM597.7 442.1l-2 1.6-2 4.5-.4 3.4 .6 6-.8 2-3.4 3.3-1.4 2.7 0 10 1.4 4.1 2 .3 8-5.6 4 0 8.5 7.2-2.3 8-.1 10-7.2 12-6.9 14.2-3.7 5.8-.3 7.7-4 1.6-8-1.4-2 1.7 1.6 8.4 10.4 7.3 4 1.4 6.9-4.7 2.5-6 2.6-2.8 2-.8 2 .5 .9 3.1-.7 2-2.2 2.6-3.1 1.4 .7 2 10.4 5.5 2.5 4.5 5.2 4 16.3 4.3 3.8 1.7 4.2 4 2-.2 2-2.2 4-7.6 7.5-8 4.2-8 8.3-6.3 2.9-3.7 .3-6-2.4-12-4.4-8-3.4-12-5-6-6-15.8-2-1.7-4 4.2-2 .9-4 .2-8-.9-19.6-6.9-.4-2 1.5-14-.5-4-5-4.7-6 .1-6-2-1.3-1.4-.2-2 1.2-2 2.7-2 .5-2-2.9-1.8zM649.7 409.6l-6 2.4-2.2 1.6-1.1 2 .1 4 1.2 3.5 4 3.2 4 .1 2.7-2.8 1.5-10-.6-2zM663.7 445.5l-2 .9-6 .3-1.3 .9-.6 2 .3 6-2.4 6 0 6 4 9.8 2 2.1 10-5.1 3.6-2.8 3.3-4 2.2-6 .3-2-5.6-6-2.6-8-1.2-.8zM179.7 554.9l-.9 2.7 .9 2.4 2 1 2-.7 .7-.7-1-2-1.7-2.2zM585.7 565.2l-12 5.2-2.5 5.2 .5 2.5 2 2.5 4 1.6 6-3.5 6-1.3 3.2 4.2 1.3 0 .8-2-4.3-12-1.8-2zM744.9 255.6l.8-1.5 2 .4 .5 1.1-2.5 .9zM762.4 257.6l3.3 .1 4 5.4 4 1.3 0 76.1-2-.9-3.2-4-2.8-1.7-4-.6-6 .6-2-.9-4-4.1-2-.8-5.1 1.5-2.9 3.1-6.3 .9-.9 2 3.2 1.3 2-1.2 .5 1.9-4.8 6-1.7 1.1-10.8-1.1 .1-2 7.8-6 .5-6 6.4-7.7 2-1 10 .6 6-4.9 6.9-3 4.4-6-.1-2-3.7-6 0-2 5.3-2-2.8-7.3-2-1-10 5.5-4-1.6-4.4-5.6-.1-2 5.9-6 3-8 3.5-2 6.1 0 3.8-2-3.8-4-.8-2zM640.3 277.6l3.4 .5 1 1.5-1 1.8-2 .3-2-1.3-.4-.8zM450.2 289.6l1.5-1.4 2 .5 9.1 4.9-1.2 2-3.9 1.7-6-.5-2.1-1.2-.5-2zM400.5 301.6l1.2-.9 1.1 .9 .4 2-1.5 3.1-2-1.4 0-2.4zM272.9 361.6l2.8-1.1 2 .6 1 2.5-.9 4-2.1 3.4-6.7 6.6 0 2 1.9 4-1.2 6.1-2 1.6-2-.3-8-4.7-8.2 1.3-.8-2 7-8.9 4-2.9 6-7.7zM413.6 379.6l2.1-1.4 2-.1 4 .2 1.8 1.3 0 4-1.8 3.6-2 .7-2-1.1zM624.8 535.6l2.9-1.1 1.4 1.1 .6 4-2 1.2-2-.8-1.6-2.4zM207.2 595.6l4.5-.9 2.2 .9-.3 8-1.9 3.2-2 .9-4-.4-3-3.7 .4-4zM751.3 641.6l4.4 .4 2 1.6 .1 2-4.1 .1-4.2-2.1 .2-1.3zM166.3 653.6l3.4-1.5 2 .4 9.8 7.1 .9 2-.2 2-3.1 10-30 0 4.6-3.7 10-4.9 1-1.4 .1-2-1.2-4 .6-2zM223.8 655.6l1.9-1.3 2.3 1.3 2.1 4-.7 2-3.7 1.3-1.1-1.3z"/>
<path fill="#0A8A46" d="M126.5 65.6l80.9 0-.2 4 1.9 6-.2 4-1.2 2.4-2 1.3-4 .4-2 1-1.2 .9 .1 2 5.1 5.5 6-3.5 4-.5 4 1.4 3 3.1-3.8 6-3.2 9.1-2 1.5-6 0-7.2 3.4-1 2 .1 4 2.8 4 .4 2-3.1 6.9-2 1.9-12 .8-8-1.3-13.5-10.3-.7-6-3-6-.8-4.3-4-.9-4-5.1-8.2-3.7-1.9-2 0-2 1.6-4 0-2-1.4-2-12.1-5.5-2 .9-1.1 4.6-1.7 2-5.2 .3-2-2-.4-2.3 2.3-6 7.9-8zM171.7 70.7l-1.6 2.9 .2 2 1.4 3.9 2 .2 2-2 .7-2.1-.2-4-2.5-1.6zM191.7 89.5l-2.4 2.1 .4 1.4 2.2-1.4zM253.3 65.6l2.6 0-2.2 4.4zM280.1 247.6l3.6-.8 1.1 .8 .9 4.6 5.5 5.4 1.2 10 3.3 5.6 6 1.6 6.3 4.8 6.9 4 1.4 2-.4 4-4.2 5.5-1.3 6.5 .9 4 2.4 1.9 2 .2 8-2.4 2-2.4 2.7-7.3 1.5-6-.1-4-2.1-3.6-3.1-2.4 .3-2 8.8-6.9 4-5.4 4-3.4 2-.5 4 1.2 2-.4 .6-.6-.3-4 .7-2 4.5-4 6.5-1.3 4 .7 2 1.2 2 3.4 0 6.6 13.6 15.4 2.2 4 .3 10-2.1 3.2-3.5 2.8 .1 2 5.4 5.5 4 6.8 2 1.7 6 1.3 2 1.2 6.8 7.5 5.2 14.9 4.4 5.1 .7 2-1.1 1.9-6 1.5-8.4 8.6-.5 4 .6 4 1.6 4 2.8 4-.4 2-9.7 .9-8 4.4-8 1.3-2.6-.6-3.3-2-6.1-6.7-4-1.3-10 .5-10 3.5-10 .6-7.7-.6-4.7-2-1-2 .6-2 2.8-2.8 4-2.1 6 1.4 2.2-.5 1.2-2 0-2-1.4-2.8-1.9-1.2-2.2 0-3.9 1.6-4 0-14-5.3-6-3.2-16-3.7-4 .3-6 2.3-2 0-8-7.5-6-2.3-6 1.7-12 8.2-6 .6-8 3.7-28.6 1.6-21.4 6.5-8 3.5-10 5.7-7-5.7-9-2.7-6-3.3-6-1.2-4-.2-8 3.9-10 2.3 0-59.9 4.8 1.1 13.2-.3 15.4-3.7 2.8-2 .1-2 3.2-2 4.5-.1 6 1.6 4 .1 4.3-3.6 3.7-1.6 12 1.2 4-1.1 4-2.3 1.7-2.2 .4-4 1.1-2 12.8-4.5 8-.6 1.9-.9 .5-4-1.6-4-6.5-2-2.1-2 .1-2 1.7-1.4 2-.3 2 1 4 4 14-.7 14 1.1 1.3 2.3-.3 8 1 1.4 2 .5 3.4-1.9 3.1-10 5.5-4.6 6-8.7 2-1.9zM253.7 328.9l-.6 2.7 2.6 1.2 2.6-1.2 .7-2-3.3-1.7zM489.1 261.6l2 0 .6 2.3-2 .8-1.5-1.1zM521 261.6l6.7 1.7 4-.7 4 .8 8 4.3 6 4.5 2 0 22-7.4 12 .6 2.3 2.2 1.3 4 2 16-1 8-.1 10 1.5 2.9 4 .5 8-1.2 6 .6 8-2.4 2.6 1.6 .3 2-1.2 6 .4 2 1.9 1.3 12 .8 6 3.6 2 .1 6-2.2 8 4.8 2 .4 6-1.1 6 .7 8-1.5 12-8.6 1.3-2.3 2.7-10-1-6 .4-4 2.6-6.9 2-.5 2 .7 2 2.5 2.3 8.2-.7 2-4.5 4 .7 14-2.2 14-1.6 3-5.8 5-.7 2 5 8 1.5 1.2 6 1.5 6 4.4 6 1 8 7.1 8 .4 6 1.2 2 1.2-1 4 1.2 2 3.6 4 4.2 2.7 4 .2 2-1.6 7.4-13.3 2.6-3.1 2-.9 2 .2 6 3.5 1.8 2.3 .1 4-4.3 8 .2 2 4.2 3.5 0 26.3-1.6 2.2 1.6 2.6 0 116.3-2-.2-3.5 1.3-5.1 6-7.2 4-6.2 4.7-2 .8-8-.9-4 1.4-1 2-.3 4 2.6 8-4.2 2-7.1 .5-4-1.2-4-4.2-8 1.3-2.5 1.6-3.4 4-1.5 4-.4 4 .1 2 1.7 2.7 16 4 6 2.9 2.1 2.4 1.9 4.9 2 2.7 3.3-5.6 4.7-2.3 7.2 .3 8.8 2.9 6-.5 12 2.6 0 38.5-14-2.3-8-5.4-6-1.8-6-4.8-4 .1-4 1.6-3.7 3.1-5.7 14-16.6 4.5-16 2-4 1.2-13.1 10.3-8.9 3-4.2 5-3.8 1.3-6-1-4-2.3-8.9-12-9.1-7-8-4.2-4-.3-3.7 1.5-1.9 2-1.8 4-.6 6.6-2 1.5-10 1.5-3.4 4.4 .4 4 3 5.2 2 1.1 6-1 2 .4 2.6 2.3 .5 2-23.5 0-1-2-2.6-10-3.4-6 1.1-8-1.2-8 2-10-.3-8 2-8-1.7-18-2.3-6 5.8-5.5 2-.2 10 2.5 2.5-.8 1-2 2.3-12-.5-2-2.1-2-.6-2 1.5-4 1.9-1 4 1.9 2 1.9 2.6 5.2 1.4 .9 8 .4 20.3 4.7 2.4 2 .5 2-.8 4 1.1 2 9.6 4-.1 6 1 2.7 2 .4 3-1.1-1-3.3-3.7-4.7 .1-10 1.4-6 2.2-4 7.5-8 5.5-8 7.7-6 1.8-2 .4-2-2.6-18-4.3-6.9-4.2-13.1-4.2-6-2.2-10 .7-4 4.5-10 6.6-6 4.8-6.3 4-2.1 4-.3 .8-1.3 .6-8-1.4-6.9-2-1.7-6-2.7-6 1.1-6-1.2-8 2.1-6-1.9-4 4.2-1 3 .2 6-1.8 4 .1 2 2.5 4.2 3.5 13.8-1.9 6-1.6 1.7-2 .6-12-1.4-12.7-4.9-2-2-.4-2 .7-16-6.2-8-2.9-6-4-4-4.5-2.6-6-.5-4.2 1.1-4.1 8-.9 10-2.6 8-.2 6 1.4 10 .6 2.2 2 .9 6-2.3 6-3.5 4 .9 3.4 3.8 .4 14-3.8 7.9-3.1 4.1-4.9 9.7-4 5.8-7.1 4.5-2.9 2.9-6 2.9-3.4 4.2 0 16-3.6 8-2 12 1.3 4 5.7 6 1.6 2 .3 2-2.3 2-3.6 1.3-4 .4-8-1-10.9 3.3-2.6 6-4.1 6-11 8-.9 6 3.7 4 1.9 4-.4 2-1.7 1.4-4.3-1.4-9.7-6-6 1.2-20.2-1.2-9.9-2-4.5-2-2-2-.5-2 1.9-4 5.2-7 6.8-5 2.3-4-.1-4-5-4-1.4-2-.6-2 2-5 4-4.1 2 .2 6 5.3 4-1.7 1.8-2.7-.6-2-4.5-6-.3-2 3.4-6 3.4-10-.2-2-3-6 .5-18 1.5-6.1 1.9-3.9 5.9-4 .9-2 1.3-14-4-13.3-7.5-6.7 .3-2 6.2-6 2.6-8 3.1-4 .6-2-.7-2-2.6-2.8-.2-3.2 2.2-1.8 6 1.5 4-1.4 6.3-4.3 5.7-7.3 4-1.6 4 .6 6 3.6 2 .2 9.1-7.5 .8-2-.8-6 1-2 3.9-2.1 4-.3 8 3.5 2-.3 2.1-4.8-.1-3.9-3.7-6.1-1.2-8-1.3-2-8.8-6-5-5.7-2-.8-6 0-6-5.6-2-.4-8 1.7-10-.6-14-4.5-4.1-2.1-1.7-2 .6-2 2.9-2 .8-2-.5-8.6-2-1.9-6-.3-2-1.3 .3-1.9 3.7-3 6 .4 3.9-1.4 .8-2-1-2-1.7-1-6-.4-4-3.5-4-1.4-6 2.8-3.1-2.5-2.9-.6-12 1.7-4 3.6-10 17.9-2 2.2-2 .5-2.6-1.3-3.1-12-4.4-6-2.5-6-1.4-1.6-2-.6-4 1.2-6 8.2-4 .3-2.8-1.5-1.2-1.9-2.4-12.1 4.4-8 10-1.4 8-2.5 6 1 16 5.9 6 3.5 4 .8 18-9.8 6-.1 1-1.4 0-6 1-1.3 1.9-.7-.4-2-5.5-3.9-10-3.2-3.1-2.9-.9-4.6 2-3.5 1.1-5.9 4.9-10.2 2-1.6 6-1.4 2.1-2.8 3.9-1.2 3.9 1.2 1.2 2 .3 4 2.5 0 2.2-6zM551.7 339.5l-2.6 4.1 .6 1.9 2 .4 3.7-2.3 .7-2-.6-2-1.8-1.1zM569.7 321.5l-2.2 2.1-.3 2 .4 6 1.3 4 2.8 2.2 6 1 6 2.6 2.3-1.8 .7-8 7-3 1.5-3-2.1-2-5.4-.6-6 4.1-2-.2-2-.8-4-3.9-2-.9zM639.7 371.4l-4.7 2.2-1.4 2 .5 2 3.6 4 2.2 4-.2 4-1.7 6 1.7 10-.2 2-2.3 4 .8 8 1.8 6 5.4 6 2.5 4.6 2 2.1 2 .8 2-.3 4.4-5.2 .4-2-2.3-6-.1-4 3.6-8.8 2-1.5 8-.1 4-5.1 8 2.8 2-.7 5-4.6 1.5-4-.1-2-2.4-2.6-8-.7-4 .6-6 3.2-2-.6-6.6-3.9-3.4-3-2.2-3-3.1-8-4.8-6-3.9-2.5zM663.7 362.8l-1.8 .8-.2 2 3.6 12 1.9 2 2.5 .2 4-3.1 10 1 2-.8 .6-1.3-.6-5.5-2-2.5-6-1.2-6-4.1zM715.7 388.1l-2.5 3.5-.1 4 2.6 1.2 4-.2 1.4-1 .6-1.8-.5-2.2-3.5-3.8zM725.7 487.6l-2.8 2-.7 2 1.5 1.7 6 .3 6 1.9 6 .7 6 3.4 6 1.7 2 0 2-1.8 .1-3.9-2.2-6-1.9-3-2-.7-2 .4-4 2.3-4 1.1-8-.4zM587.7 497.3l-1.1 .3-.2 2 1.3 .6 2-.6zM523.7 554.5l-2 2-1.9 5.1 .4 2 1.5 1.4 4 .8 2-.6 1.4-1.6 .1-2-1.5-3.2zM507.7 304.6l-1.9 1 3.2 2 1.3 0 .1-2zM589.7 366.9l-2.2 2.7-4.5 10 .1 2 4.4 6 1.1 4 1.1 1.1 2 .1 6-2.7 6 .2 2.7-.7 1.3-2 0-2-3.6-8 1.3-4-.9-2-4.8-3.8-4-1.8-4-.1zM675.7 415.4l-.3 2.2 6.3 8.8 4 2 2.5-.8 .8-2-.9-2-4.4-4.9-4-2.4zM171.7 267.6l2 2-2 1.4-.9-1.4zM183.7 271.6l4-.4 2 1 3.1 5.4 .5 2-.5 2-7.1 2.1-2-.2-2-1.5-1.2-4.4 1.3-4zM763.7 273.6l2-1.4 2-.2 3.6 1.6 .6 2-2.2 2.3-4 0-2.3-2.3zM753.2 279.6l2.5 .5 1.5 1.5 0 2-1.3 2-2.2 1.4-4 .8-1.7-2.2 .7-2 3-3.3zM770.2 311.6l3.5-1.8 0 14.7-1.5 3.1 1.5 .9 0 7-4-7.2-4.1-10.7 .7-2zM761.1 345.6l.6-.8 2-.2 5.1 7 .9 2-.2 2-1.8 2.1-2 .6-2.6-2.7-1.9-4zM433.3 363.6l2.6 0 2.7 2-1.9 2-3 .2-1.3-2.2zM124 369.6l3.7-.5 4 .7 10.6 5.8 7.4 2.2 6-.9 6-4.6 3.6 7.3 2.4 1 8-2.3 12 2 10-3 4-.1 8.7 4.4 .6 2-1.1 4 .7 2 6.9 6 2.2 4.7 4 .6 4-.7 4-5.4 2-.4 7.3 7.2 6.8 4 2 4-.1 12.3-4 7.6-4.6 2.1-3.6 0-1-2 2.7-4 .4-2-1.9-3.7-2-.5-2 .7-4 5.5-1-4-1.4-2-2.3-2-3.3-.8-16 3.4-22-1.5-4 1.1-8 4.9-6.2 .9-1.1 4 1 4 7.7 10 6.6 3.2 6 1.3 14 .4 20 12.4 6 1.8 6 .8 8 8.9 1.2 3.2 .4 4-1.3 6-2.3 1.9-2 .2-11.3-4.1-14.1-2-.5 2 1.5 2 6.8 6 .7 4-1.1 1.4-2 .4-15.1-3.8-2.9-1.7-2-3.1-.4-7.2-1.8-6 .1-8-1.3-4-6.6-3.6-4-.3-7.1 7.9-1.8 8-3.8 4 1.7 8 .3 6-4 6-2.5 8 .2 2 1.8 4 1.2 1.4 2 .4 12-7 8-1.6 3.1 .8 1.7 4 .3 6-1.1 2.3-4 1.6-2 3.6 0 4.8 2 2.2 3.8-.5 2.2-7.7 2 0 6 4 4 1.4 6-.5 8 2.8 6 .5 12-1 6 2.7 4-.2 1.3-2-1.3-2.9-2-1.7-7.8-3.4-2.6-4 .4-4 4-1.9 2 1.2 4 5.9 2 1.2 8 .4 26 9.5 1.6 1.7 .1 2-4.6 12 .9 6 2 3.7 4 4.8 2 .3 4-1.1 2 1.7 3 6.6 5 7.3 1.9 4.7-.3 4-1.6 2.3-5.1 3.7-.8 2-.8 12 4.7 3.5 4.2 4.5 7.8 4.9 .9 1.1-1.2 6 .9 2 5.4 6.3 6 9.6 5.7 6.1 8.3 4.7 2 1.5 .8 1.8 .5 4-1.3 4.1-2 2.6-6 4.8-31.1 .5 .5-2-.8-2-2.6-1.1-2 1.1-.5 2 .5 2-51.3 0 3.5-10-.2-2.8-3.8-5.2 1.6-8-.2-4 2.4-3.1 8.6-2.9 5.3-8-.2-4-1.7-2-6-.6-2.2-1.4-1.3-2-.5-6.6-2-3.1-3-2.3-.7-6-5.8-8-4.5-2.5-12-2.3-12.6-7.2-2.1-2-3.5-8-7.4-6-3.7-8-14.7-6.1-2.3 .1-1.7 2 1.4 8 2.6 2.8 8 1.5 4.2 3.7 1.6 6-3.4 8 .3 2 1.3 1.7 4 .7 .6 1.6-.6 3-2 3.3-2 .8-2-3.2-2 .9-8.4 11.2-9.6 6.4-4 1.8-10.3 1.8-1.7 2.6-2.5 11.4-4.9 6-.2 2 1.6 1.5 4 1.2 1.6 1.3 .7 2-.3 2.2-2 1.5-8-3.3-4 1.6-2 2.7-1.8 5.3-5.1 8 .1 8-2.8 4-16.4 0 0-169 8 .7 6-3.1 6-.8 2-1.4 2-6.4 3.5-6 10.1-6 4.1-6 6.3-5.7 .8-4.3-2.8-4.2-1.6-7.8-1.8-2-6.6-.2-8-2.7-8 2.1-6.2 4.8-3.8 2-10 .1 0-35 6 1.5 5.8-2.6 12.2-3.3 8-5.4 4 1.4 8 8.7 2 .8 3.9-.2 1.7-2-.6-4-1.6-4-6.5-8-3.9-8-3-2.3-6.6-1.7-2.7-6-2.7-3.3-6-2.3-14 1.3-2 .5-2 4 0-6.2 2-1.1 1.2-2.9 3.4-4zM163.7 535.5l0 2.5 2 1.7 2.5-.1 .9-2-.9-2-2.5-.6zM195.7 393.1l-2 .7-1 1.8 .2 2 2.8 1.8 2 .1 2.3-1.9-.3-2-2-2.1zM171.7 593.3l-3.4 2.3 1.4 1.6 2 .4 2.2-2-1-2zM257.7 539.5l-2.5 2.1-.6 4 .6 2 2.5 1.6 2-.3 1.7-1.3 1.6-4-1.3-3-2-1.1zM287.7 607.2l-2 .6-.3 1.8 2.3 2.2 3-2.2zM307.7 641l-1.5 2.6 .3 4-.9 6 1 2 1.1 .2 4-2.6 1.5-3.6-2-6-1.5-2.2zM153.7 499.3l-1.2 2.3 .5 2 2.7 1.7 2-.6 1.4-3.1-.6-2-2.8-1zM535.8 407.6l3.9-.3 4 1.5 4-1.4 1.1 2.2-1.4 4-5.7 7.3-8 2.5-3.6-1.8-1.6-2-.7-4 2.5-4zM578.2 557.6l1.5-1.7 2-.2 3.1 1.9 .8 2-3.9 1.9-2-.8zM241.2 613.6l2.5-.7 1 4.7-1 2.4-2 1.9-2 .7-2-.7-.5-2.3 .6-2zM168 657.6l1.7-1.4 4 .5 4.1 2.9 1.2 2-.1 4-1.2 3.9-3.2 4.1-11.7 0 6-10z"/>
<path fill="#3FC213" d="M131 65.6l8.8 0 1.9 .6 5-.6 53.3 0 .8 6-2.5 8-2.6 2.8-9.8 7.2-2 4 .8 2 3 2.9 6 3 8-.3 2-.8 5.7-6.8 2.3-1.4 2-.2 2 .8 1.2 2.8-3.2 7.7-2 2.1-6 1-6 2.2-4-.8-1.7 1.8 3.4 18-1.7 3-2 .9-10 1.1-8-.6-2-.8-6.9-5.6-1.9-2-1.2-6-2.2-6 1.9-8-3.7-3.7-6 2-10.5-6.3-.5-2 1.5-8-7.7-6-2.8-3.3-4.8-2.7zM157.7 91.2l-1.8 2.4 1.8 1.9 1.6-1.9zM173.7 67l-5.6 2.6-1 2 .9 10 1.5 2 2.2 .6 4-1 1.7-1.6 2.6-8-.2-4-.9-2-1.2-.9zM271.3 253.6l4.4-1.2 4 .6 6.8 6.6-1.1 4 .7 2 7.6 9.9 10 3.3 7 4.8 1.4 4-2.9 10-.4 6 2.3 4 4.6 1.5 8-2 3-1.5 1.5-2 2.8-10 2.7-5 2-1.5 4.7-1.5 1.7-2-.8-6 2.3-8 8.1-4.9 2.5-3.1 0-6 3.5-2.4 4-.4 2.6 .8 1.6 2 .4 4 1.5 4 7.3 8 .6 6.4 2 1.7 2 .6 2 2.6 .9 6.7-.5 2-5.1 4-.8 2 1 4 6.5 6 2.2 4 3.8 4.5 2 1.6 8 2.3 4.3 3.6 2.4 4 2.6 10-.1 4-2.9 8-5.1 6-1.6 4 .5 6 2.5 8-8.6 2.7-6 3.8-6 1.3-6-1.5-6-6.7-4-2.3-12-.2-10 3.8-10 .1-4.6-1-1-2 1.6-1.6 6-1 3-3.4 .4-4-1.4-3.2-2-2.2-4-.7-6 1.5-4-.2-7.8-3.2-8.2-4.8-8-1.3-8-5.3-2-.3-8 3.9-4 0-11.7-10.2 .5-2 2.5-4 .2-2-1.2-2-2.3-1.2-6-.7-4 .7-6 4.3-3.9 .9 1.9 .8 8.5 7.2-.5 2-2.4 2-5.6 2.6-6-.3-5.7 5.7-4.3 2.6-16 1.4-10 0-10 1.8-8 3.1-8 1.7-10 5.5-4 1.3-4-.4-6-2.7-6-1.6-6-3.5-10-2.5-4 .8-6 3.3-10 2.1 0-55.6 16 1.1 12-2.9 10-1.2 6-3.5 4.5 1.2 3.5 3.3 4 .6 2.6-1.9 .4-6 1-2.3 4-1.6 10 1.7 6-1.5 4-2.7 4-7.1 2-1.8 10-3.1 8 0 2-.7 1.1-.9 2.9-9.2 5.3-2.8 12.7 1 2 1 0 2.6-2 2.7-6 .7 2 1.3 4 5.3 4 .6 6-1 4-3.4 3.6-8.8 4.4-4.6 3.6-7.4zM259.7 309.4l-.4 2.2 2.4 1.1 .8-1.1-.8-1.5zM569.8 267.6l5.9-1.7 6 .3 4 1.1 1.8 2.3 2.1 16-.9 10 0 12 .6 2 2.4 1.5 10 .6 2 1.9 0 2-2 2.6-4 1.9-10-.9-8 3.2-6-3.1-2-.3-4 .8-3 1.8-.9 4 .7 8 1.6 8 1.6 2.1 8-1.1 5.9 3 1.9 2-5.2 4-8.6 2.1-2-.6-4-4.3-2.9-1.2 .6-6-2.1-6-1.6-2-4-1.4-2 .1-1.6 1.3-2.4 6-2.6 4 0 2 2.6 2.9 7.1 3.1 1.2 4 3.7 1.8 6-.5 2 .7 2.5 4 7.5 5.3 2 .3 1.3-1.6 2.7-8.6 6-2.4 2-3 1.1-4-2.7-10 1.6-2.7 2-.2 8 3 4-.7 13.7-13.4 4.3-1.3 6.7 1.3 .5 4 2.8 1.2 8-1.6 6-2.5 2 .5 2.4 2.4 .7 2-2 4-.2 4 2.8 8 2.3 1.9 3.6-1.9 2.4-.3 1.1-1.7 1-6-.1-2.1-1.9-3.9 .5-2 11.4-1.3 6 .2 6-6.3 8-5.3 2 .6 .4 4.1-.9 8-2.3 4-5.2 2.3-6-2.3-2.1 0-.4 2 2.1 4 .8 4-2.4 3.8-2 .5-4-.6-6 .3-6-1.4-2 2.7 0 2.7 1.6 4-1.2 2-3.3 2-.9 2 3.7 8 .1 2.7-.7 1.3-1.3 .8-2-.5-6-2.2-2.8-2.1-2.6-4 1.4-.3 2-2.1 .9-1.6-.9-1.1-2 0-2.1 5.1-5.9 3.5-2 .6-2-.7-4-3.8-1.4 2.4-.4 4 1.1 4 7.1 8 .7 2-1.1 2.1-4 .3-1.4 1.6 5.9 8 .5 4-2.6 8 0 2 3.6 15.4 4.8 8.6 1.8 6 0 2-2.5 6-.7 10 .4 4 1.3 2 4.9 2.2 3.7 7.8-1.1 6-2.6 2.5-10-.5-6-1.8-4.1-2.2-3.9-3.9 .1-4.1 1.9-2.2 2 .4 4-2.3 3.3-3.9 .2-2-.9-2-2.6-2-10-2.6-3.6-3.4-1-4-.1-6 5.4-8-.7-5.7-2-3.2-2.2 2.9-5.8 3.8-.1 2.2 1.4 4-1.3 1.6-2-.4-6-2.6-8-1.1-2-1.5-1-4 .1-6-5.1-7.1 0-12.4 .6-2.5 1.8-2 7.6-5.4 2-.6 8 1.7 2-.2 1.2-1.5 .4-10-1.6-12.9-12-8-4-1.6-2 0-2 1.2-4.5 5.3-5.5 10.3-2 .2-4-1.8-18-2-6-2.1-10 2.4-6 0-4-1-1.1-2 .1-6-2.3-2-4.7-.5-3.3-5.5 0-4 1.3-2 5.3-4 1.4-2-.2-2-4-8-4.5-5.6-2-1.1-4 3.7-2 .4-2.7-1.4-4.2-4-.1-2 5-6.1 2-1.3 4 1.2 3.3-1.8 1.4-2 .5-4-2-4-5.2-5.6-10-5-7.9-1.4-2-2 1.2-14 4.2-8 2.5-1.2 6-.9 2 .7 3.8 3.4 2.2 .6 2.8-.6 5.2-3.3 2 0 4 2.1 2.6 5.2 3.4 2.6 2 .1 6-3.3 10 3.7 2.7-1.1 1.8-2 .3-4 1.2-1 1.7-1 4.3-.8zM603.7 346.6l-.6 1 3.9 6 4.7 1.7 2-1.2 .6-2.5-.4-2-2.2-2.7zM609.7 415l-2 .6-4 3.9-6.7 4.1 .1 2 4.6 1.7 5 .3 9.6-6-1.1-2zM613.4 309.6l2.3-.7 2 .7 0 4-2 4.8-2 .1-3.3-2.9-.5-2 .7-2zM443.7 317.6l6-.9 5.6 2.9 1.2 2 .1 2-2.9 5.6-2 1.7-12-5-2.3-2.3-.5-2zM493 319.6l2.7-.7 2 .4 2.1 2.3 1.2 4-3.3 3.4-4 1.4-12.9-.8 4.1-6zM461.8 323.6l1.9-.9 4 .5 11.6 6.4-9.1 8-6.5 11.7-2 1.9-2-.1-3.8-11.5 1.8-1.5 4-.2 2-1.1 1.8-3.2-.3-4-3-4zM693.7 357.6l4-1.1 .8 1.1-.4 2 1.3 2 6.3 6.4 4 1.7 2-.5 .3-1.6-1.5-4 .2-2 1-.9 2 .2 2.4 2.7 .7 4 .9 .9 4 1.6 5-.5 3.4 4 8.1 6 14.8 8 1.5 2 2.4 6 1.3 12-1.3 4-3.3 4-.2 2 2.3 3.3 2 .2 4-4.1 4-1.7 8 3.6 0 111.8-4-.1-2 1-6 6.7-12 7-14 1-4-.5-4 1.2-.8 .6-.1 2 3.3 4 .5 2-.9 4-2 2.1-2 .1-2-1.6-4-7.3-5.6-5.3-.4-2.5-2-2.1-2.4 .6-5 6-.8 2 .5 2 4.6 2 1.4 2-8.6 10-1.4 8 .7 6 3 1.7 15.5 2.3 3.9 2 2.6 4 2.3 12 3.7 3.7 4.2 2.3 1.4 2-.4 2-7.2 4.8-6 6.9-6 2.5-1.3 1.8 0 2 1.4 4-2.1 1.7-4-.2-1.2-1.5 .1-4-1.4-4-3.5-3.1-2 .1-2.2 7 .1 2 2.1 2 4.4 2-1.6 2-20.8 3.2-5.2 2.8-5.3 6-3.5 2.3-2 0-4-1.7-6 0-3.5 3.4-.7 2 .3 4-2.1 1.5-2 0-4.5-1.5-9-12-8.5-6.6-10-6.2-4-.2-4 1.3-4 2.9-6 .8-3.6 2-5.6 6-4.8 7-2 .8-3-1.8-1-1.9 .4-4.1-2.5-10 3.1-12-.9-6 1.9-8-1.8-20 .2-2 1.6-2.9 2-1.2 2 0 10 2.5 2-.7 2-3.7 .7-8 1.3-3 2-1.5 2-.3 12 .4 5.4 2.4 2.6 5.4 6-2.6 1.3 1.2-.1 2-2.1 6 .3 2 2.3 2 6.3-2 4 .4 2.3 1.6 1.9 6 1.8 3.2 4 .9 8-1.2 1.2-.9 0-2-4.9-6-1.8-4 .1-2 2.8-4-.6-2-2.8-2.9 0-3.4 2.2-3.7 7.7-8 6.1-8.3 10-5.7 1.5-2 .5-5.2 2-.8 1.3-2 .7-2.2-2-4-2 2.2-1.8 6-.6-2-1.6-1.6-1.7-4.4 0-2 1.7-2.6 2-1.4-.1-2-1.9-2.1-4-1.1-2-1.8-5.1-13-3.9-6-1.1-6 3.5-16 2.8-4 9.8-7.4 4-.5 8 1.2 1.3-1.3-2.5-8-1.6-16-1.9-2-7.3-3.9-10 0-6-1.9-2-1.5-2.8-4.7-1.4-4 .3-4 1.9-4.1 2-1.2 2 0 2.2 1.3 2.9 4 10.9 11.3 4 1 2-.5 2.8-1.8 1.8-4-.8-2-5-6-1.5-4 1.6-4 5.1-5.9 2-1.8 2-.5 8 2.4 3.1 1.8 2.9 3 2 .3 6-4.2 8.7-3.1 2.7-2 .9-6 2-4-.3-2.7-2-1.2-6 .9-6-2.4-4 1-4 4.8-2 .8-4-2-6.8-7.2-5.2-6.6-1.8-3.4-.6-4 .4-3.3zM753.7 447.2l-2 .9-2.1 3.5 .1 4 2 .8 4-1.4 1.8-3.4-.2-2-1.4-2zM689.7 581.3l1 8.3 1 1.6 2-.6 2.3-3-.1-2zM751.7 483.5l-2 .3-6 3.1-4 .6-6-.5-6-2.3-4 .3-3.6 2.6-3.3 4-1.2 2 0 2 2.1 1.5 10-.5 8 2.7 6-.3 8.7 4.6 5.3 3.9 4 .5 .7-2.4 0-8-.7-3.7-3.7-8.3zM765.1 369.6l.6-1.4 2 .5 .6 .9-.6 1.7-2-.6zM126.9 371.6l6.8 1.1 8 5.6 8 1.4 10-1.4 6 4.2 2 .5 8-2.4 12 1.5 10-3 4 .2 2.4 2.3 .9 6 1.2 2 7.5 7.7 2.1 4.3 1.9 1.2 4 .7 6-.4 6-2.9 2 .1 12 7.3 1.1 4-1.1 10.5-2 1.6-4-5.4-4-1.5-8 1.9-6-2.8-2-.1-16 3.4-14-1.2-4-1.7-4-4.5-4 1.4-6 .1-4 3.4-2 0-9.6-11.1-4.5-8-3.9-3.6-8-3.5-4.5-6.9-7.5-3.1-10 .9-1.5-1.8 1.7-4 3.8-3.1zM181.7 402.6l-1.1 1-.2 2 3.3 5.2 .3-1.2 1.7-1.1 2-4.9-2-1.4zM191.7 391.2l-1.3 2.4-.7 6.9 2 1.1 6 .6 4-1 1.8-3.6-1.1-4-1.6-2-3.1-1.4zM676.6 383.6l3.1-1.7 2-.1 10 .9 1 .9 .4 4-1.4 2.9-2 1.1-18 .7-2-.7-.1-2zM762.9 387.6l.8-1 2-.3 2.5 1.3 .3 2-2.8 5.1-2.3-3.1zM766.2 397.6l1.5-.5 6 1.9 0 8.6-4 1.5-2-.2-2.1-1.3-1.1-2 .1-2zM535.4 409.6l2.3 .3 1.4 1.7 .2 2-1.6 2.4-4 .8-1.9-1.2-.5-2 1.1-2zM142.2 415.6l3.5 0 2.6 2 5.4 7 6.9 3 2.1 6 5 8 1.1 4-.4 2-4.7 4-2 .3-6-3.7-8 .4-6-1.9-4 .1-8 3-4 4-4 2.3-10-.1 0-30.6 2 1.5 6 1.2 2-1.4 2-3.2 3.7-1.9 8.3-2.3zM566.6 419.6l3.1-1.6 4 1 7.6 6.6 5.2 14-2.5 16-.2 14 1.8 16 .9 2 1.2 1.3 14-5.9 2-.4 2 .8 1.9 4.2 .6 8-.4 4-2.2 4-4.6 6-3.3 6.8-6 6.6-6 1.2-5-4.6-3-1.6-2 .1-.7 1.5-1.4 8 1.1 6-2.8 6-.3 8-1.6 8-2.3 3.4-4 1.4-2 1.9-1 5.3 1 3.2 2.7 2.8 3.1 6 6.2 7.4 .1 2.6-4.1 1.8-10-.5-6 .9-2-.4-6-3.3-2-.1-2 .9-2.3 4.7 .5 2 3.7 4 0 2-4.4 6-3.5 1.7-6-1-2-1-4-5.4-2 0-4 3.1-1.3 2.6-.9 6-1.9 4-1.2 6-2.7 1.1-4 .3-12-1.4-1.7-2-.5-6-3.4-6 .5-2 7-8 4.4-12 1.7-2 7-4 1.9-2-1-4-4.5-6-.5-2 2.8-10 5.1-6 .2-2-1.3-2-3.7-1.8-2.4-2.2-.5-16 .9-5.2 2-4.3 6-4 2-3.1 1.3-5.4 .4-10-2.3-16-4.9-4-.5-2 4.5-6 1.5-5.1 4-4.9 3.7-8 10.3-8 6-5.9 2-1 4 .1 6 4.1 4 0 2.6-1.3 7.4-10zM585.7 492.7l-6.9 6.9-.5 2 1.4 6.6 2 .5 2-.8 8-4.4 1.6-1.9 .5-2-.6-2-5.5-4.8zM519.7 548.7l-1.5 .9-1.1 2 .1 4-2.3 8 1.6 2 5.2 2.9 6-.7 3.2-2.2 .8-2-1.1-6-.9-2-6-6.2zM172.3 447.6l3.4-.3 8 2.7 6 .6 6-1.1 4 .2 18 11.4 14 4.2 7.2 8.3 .6 2-.5 8-1.3 1.6-2-.4-3-3.2-5-.3-12-3.6-3.7-6.1-2.3-1.3-12-2.3-1.1-2.4-.5-6-8.4-1.8-4-3-2 .3-6 7.4-4 2-2-.6-1.5-6.3 2.7-8zM167.4 467.6l1.2 2-.9 1.9-2-1.9zM197.7 473.6l2 .1 1.2 1.9 0 2-1.2 .8-2.1-.8-.5-2zM148.3 485.6l5.4-1.7 4 1.7 8-1.5 2.1 1.5 1.1 4-1.2 4.5-4 2.6-6-2.3-10 1.6-1.2 1.6-.5 6 1 2 3.1 2 9.6 3.3 6 5.6 2 1 4-1 10-5.9 4-.5 4 1.8 1.1 1.7-.1 2-4 6-1.1 4 .3 6 1.8 2.2 4 .9 4-.3 2.3-.8 3.7-3.2 12 1.4 8 2 8 .2 6-1.2 4 .1 10 4.1 2 2.3-.1 4.3-3.3 6 9.4 4.3 10 2.2 3.1-.5 2.4-2 .1-4-9.6-11.2-6.4-2.8-1.3-2-1.1-8 2.8-.4 6 1.3 3.5 1.1 4.5 3 7.1 1 4.2 2 .8 2-.3 2-5 12 .6 6 8.6 10.3 6-1.1 2 2.1 3.3 6.7 2.9 4 1.3 4-1.5 2.1-4-7.3-4-1.4-6 1.3-3.8 3.3-.7 4 1.1 6-2.6 4.6-.8 3.4 2 14 1.1 2 3.7 1.4 8-2.8 4 .2 8 5.2 2.1 2 1.4 8 6.5 5.7 7.3 12.3 14.7 13.4 .6 2.6-.7 2-6.5 6-5.7 4-21.6 0 1.1-6 2.8-4.5 1-3.5 4.6-6 1.2-4-1.1-4-3.7-6.6-2-1.8-2-.6-10 2.9-1.7 2.1 1.7 2 4 .9 1.7 3.1 0 2-3.6 12-4.4 4-2.3 8-44.1 0 3.3-12-2.8-8 .6-8 1.6-2.5 2-.8 6 1.1 2-1.1 5.4-12.7-.4-4-1.9-4-3.1-1.5-6-.3-.9-2.2 .1-4-3.1-10 .1-6 2.1-6-.3-1.6-2-.5-6 2.8-10-3.7-12-2.2-10-8.1-8-10-4-3.2-2-2.8-1.7-4.7-2-2-14.3-5.5-10-2.3-.8 1.8 2.8 6.6 2 9.6 2 1.7 8 .5 4 2.8 1.5 2.8-.5 4-3.5 6-.8 6-4.7 5.5-2 .5-4-5.6-8-1.3-1-1.1-1-6.9-2-2.6-2-.7-2 .5-2.4 1.7-2 4 1.3 6-.5 2-2.7 2-2.2 4 .3 2 2.2 2.6 2.5 5.4-.2 2-2.3 .7-2 1.9-1.9 9.4-4.1 6.4-2 2.5-6 2.5-2.1 2.6-.5 2 .8 6-1.3 8-6.4 10-.9 8-3.5 4-3.1 0-3-1.5-1.9 1.5-4.1 0 0-16.2 4 .5 3.8 1.7-.8 6 1 3 2.3-3 .3-2-.6-2.2-1.8-1.8 .2-2 4.6-18-.7-2-2.3-.6-3.4 6.6-2.6 2.2-4 1.3 0-138 4 2.8 12-6.3 10.3 0 1-2-1.8-6 2.1-6 4.1-4zM163.7 533.1l-2 .7-1.3 1.8 .1 2 1.5 2 3.7 2.4 2 .9 2-.3 1.4-5-.2-2-2.2-2zM738.9 591.6l2.8-.6 5.4 .6 6.6 5 8-2 4 1.2 8 .1 0 35.4-14-2.8-8-6-4-.8-3-2.1-1.8-4 .8-1.6 2-1.4 6-.1 2-.7 1.3-4.2 0-4-1.3-3.2-2-.6-8 1-4.3-1.2-1.8-2-.4-2 .3-2zM176.6 599.6l1.1-.7 1.1 .7 .3 2-.9 2-2.4 2-6.1 1.4-1.3-1.4 .5-2zM481.2 615.6l.5-.6 2 .6 1.2 4-1.2 1.1-3.1-1.1-.6-2zM172.9 663.6l.8-1.6 2 .9 .3 2.7-2.2 4-2.1 1.2-1-1.2zM586.3 665.6l1.4-1.7 2.4 3.7 .3 4-.7 .4-2-.8-1.6-3.6z"/>
<path fill="#AEE30C" d="M152.7 67.6l1.9-2 16.1 0-7 .6-.4 3.4 .8 10-2.4 4.2-8 2-2-1.4-1.5-6.8zM185 65.6l11.1 0 .3 2-1.9 12-2.1 2-6.7 3.4-2 0-1.1-3.4zM147.1 89.6l2.6-1.9 1.5 1.9-.4 4-1.1 1.4-2-.3-1.3-1.1-.2-2zM166.7 91.6l1-1.2 2-.3 1.4 1.5-3.4 6-2.1-2zM178.9 99.6l.8-1.9 3.3 1.9 1.5 2 2.3 8 5.8 6 1 4-.8 6-1.2 2-15.9 2.1-4-2-4.2-4.1-3.2-12 .4-2 3-2.8 9.4-3.2zM179.7 121.4l-.6 .2 .6 1.7 2-.1 .8-1.6zM271.7 257.6l2-.6 2 1.2 4 8.6 6.6 4.8 .6 2-2 4-.2 2 2.8 6 2 2 2.2 .7 3.4-.7 1.7-2 .7-4 2.2-1.4 4 1 3.7 2.4 1.4 4-2.1 10 .2 6 2.8 4.7 4 2.2 2 .1 17.7-5 2.3-1.9 4 .4 2-1.2 4-7.2 6.4-16.1-.7-2-3.7-2.4-.7-1.6 .4-2 9.7-10 2.6-3.8 2-.3 4 6.1 5.2 6 1.8 10 4.7 8 0 2-3.5 6-.5 2 1.9 6 8.4 11.3 5.5 4.7 2.5 1.3 8 1.5 4 3.2 1 2 2.2 12-2.9 10-5.7 8-.3 4 1.1 10-1.4 1.7-10.7 6.3-5.3 .8-4-.7-2-1.4-5.6-6.7-2.4-1.6-16-1.2-6 4-4 .4-2.7-1.6 2-6 .2-4-2-4-3.5-3.9-2-.6-10 2-5.9-1.5-2.7-2-1.8-4-1.6-1.6-6-2.4-4.1-4-5.9-2.4-8-1.2-6-5.2-8-2-2-1.6-3.2-5.6-.6-2 .8-6-1-4-3.3-4-4.7-2.3-2 .2-2 1.6-2.5 4.5 1 4 4.3 4 0 2-4.8 .8-6 3.5-2-.5-4-3.4-4-1.9-2-.2-1.6 1.7-1 6 .9 8-1.6 4 .2 6-1.8 4-2 2-15.1 2.5-8-.5-12 1.5-10 4.1-4-.7-4-1.9-2 .3-2 1.9-2 4.8-2.9 2-5.1 1.2-12.2-3.2-7.8-4.4-10-3.8-4 1-6 4.2-10 2 0-51.9 14 1.9 10-3.1 6-.9 12-.4 10 2.4 6-.7 2.9-2.3 1.5-4 .2-4 1.4-1.3 10 1.4 6-1.2 6-3.9 3.5-7 2.2-2 8.3-2.6 12 1.8 6 4.8 6 2.9 6 1.5 2-.8 1.3-1.6-.1-2 1.1-2 3.4-2 4.3-1.2 4.1-2.8 5.9-9.8 4.8-4.2zM289.7 320.3l-1.5 1.3-.4 2 1.9 1.2 3.2-1.2 1.2-2-2.4-1.9zM249.7 289l-1.5 .6-1.5 2 2.4 2 4.6 .9 2-.9 .9-2-.9-2.2-2-1.1zM574.9 269.6l4.8-1.2 4 .1 2 1.2 .9 1.9 1.7 16-1 8 .4 6-.9 12-3.1 3.6-4 1.6-6-2.8-12 2.2-2 1.7-4 6.4-6 1.6-3 1.7-1.1 2-.6 6-1.3 2-4 1.8-4-.1-4-2.5-1-1.2-1.8-6-6.6-6 .3-2 7.9-14 2-2 13.9-4 2.4-2 2.5-4-1.6-1.4-2-.1-6 1.8-8 .7-3.6 1-4.4 4-6 .4-4-1.9-10-8.2-8-.5-1.9-1.8-.3-4 1.3-8 2.9-5.9 2-.7 4 .4 6 3.5 10-1.8 2 .2 2 1.5 2.7 4.8 5.3 3.5 4 4.2 4 2.1 2-.3 12-8.1 14.6-7.4 2.8-2zM557.7 293l-4 2.6 4 1.3 2-.1 2.2-1.2 .6-2-.8-1.2zM334.2 293.6l1.5-.8 1.5 .8 .9 2 .1 4-2.5 3.9-2-.4-1.9-3.5zM447.2 321.6l2.5-1.1 2 1.1 .1 2-2.1 1.8-2-.7-.9-1.1zM490.4 323.6l3.3-1.4 2 .8 .2 2.6-2.2 1.8-2.5 .2-2.4-2zM688.5 325.6l1.2-.4 2 1.1 0 3.3-2 1.7-2-.6-.9-1.1-.1-2zM616 331.6l7.7-1.7 10 2.8 10-1.2 2 .7 1.2 5.4-.7 6 3.5 8.4-2 1.2-6-2.8-2 1.2-4 5.1-2 .5-6-.3-8-3.3-1.8-4-.4-4 2.6-6-2.4-1.6-4-.6-1-1.8 .7-2zM669.4 335.6l2.3 .2 2 1.8 1.7 4-3.7 1-2.7-1-1.2-2 0-2zM541.2 351.6l.5-1.1 2-.3 2.7 1.4 4.3 6 3 2.6 2 .9 8 .6 4 3.5 4.8 2.4 1.4 2-.4 2-3.8 1.1-6-.4-7.7-2.7-2.3-1.7-4-.5-2 .3-6 3.8-3.9 .1-2.1-1.1-.9-.9 .1-2 6.2-6zM596.9 353.6l.8-1 2 0 1.9 3-1.9 1.3-2-.8zM604.5 359.6l1.2-.6 1.6 .6 .4 2.4-2 .8-1-1.2zM693.7 365.6l2-.6 2.2 .6 2 2 .5 2-.7 1.3-4 .4-2-.9-.9-2.8zM617.3 367.6l2.4-1.4 2 .2 1 1.2 5.2 14-.7 2-4.9 4-1 4-1.6 1-3.4-1-1.3-2 0-6-1.3-6 .5-6zM701.9 373.6l1.8-.7 8 2 8 .3 5 2.4 1.8 2-4.8 1.8-8 .2-6 4.6-2 0-2-1.5-1.9-3.1-.6-4zM131.2 377.6l.5-1.4 2 .2 1.2 1.2-1.2 1.1zM152.3 381.6l5.4-1 2 .4 6 4.2 2 .4 8-2.3 4.4 .3 2.9 2 4.1 6 .4 4-1.8 2.6-2 .5-8-2.9-4 6.2-8 2.5-4-3-8-10.4-8-3.3-1.3-2.2-.1-2 1.4-1zM191.3 383.6l6.4-1.7 1.3 1.7-1.3 2.2-4 1.2-3.3-1.4zM737.8 387.6l1.9-1.4 6 2.6 4 .6 2.8 2.2 1.2 2.2 .7 3.8-1.1 10-1.5 4-2.1 1.7-4 .8-10-2.2-2 .4-1.1 1.3 1.4 2 5 2 8.7 .3 2 1 6 6.6 2 .3 6-5.6 2-.9 4 .3 4 1.7 0 14.6-4.2-2.3-3.8-.6-2.8 .6-.5 2 4.6 10 6.7 4.7 0 42.3-2.6 1-1.3 2 0 2 1.9 3.4 2 .2 0 27.2-1.9-.8-2.1-2.7-2-1.2-2 1.3-.3 4.6-3.4 6-10.3 6.9-4 1.3-18 .1-8 3.2-2-1-6-7.3-4-1.4-2-1.7-.9-4.1-1.1-1-4-.3-4 6.7-2-2.5-2.1-8.9-5.9-5.8-1.1-2.2-.8-6-1.3-2-2.8-.3-4 3.3-2 0-2-2.3-2.7-6.7-2.6-4-.9-6 2.3-8 1.8-10 2.1-2 8-4.2 4-1 6 1.6 3.5 1.6 4.5 3.7 6 2.6 3-.3 1.1-2-8.1-10.2-4-3.8-.6-2 .6-2 3.1-2 1.9-6-.2-2-2.8-2-4-.6-1.9-5.4-2.5-4-.1-2 4.3-8-.5-2-5.3-5.9-1-2.1-.2-2 1.2-2.9 2.6-3.1 3.4-1.5 6.3 1.5 2.5 2 3.2 4.3 2 1 2-.1 6-3.1 6 .7 1.8-.8 .5-4 6.4-4 3-4zM755.7 441l-6.3 4.6-3.4 12 1.7 2.7 2 0 6.6-2.7 2.7-2 1.1-2 .2-8-2.6-4.3zM721.7 437.4l-.8 4.2 .4 4 2.4 4.5 2 1.2 2.6-1.7 .7-2-.2-6-.6-2-2.5-2.6-2-.7zM729.7 467.4l-2 1.2-1 3 1.1 8-8.1 4.3-9.5 7.7 3.5 7.6 2 1.4 6-1 6 .6 5.3 5.4 2.7 1.1 4-3.9 2-.5 16 8.7 4 1 2-.8 2.4-3.6 .2-2-2.9-4-1.4-8-4.3-9.1-2-2-4-1.5-4 .7-4 2.8-4 1-4-.2-4-1.7-1.4-2 .9-2 8.6-4 2.6-4-.7-1.5-4-.3-5.5-2.2zM622.3 393.6l3.4-.4 4 1.4 4 3 .9 2 .1 2-2.4 6-.4 4 1.8 9 .7 9 3.9 6 1.5 6-6.1 10.8-12-1.9-2-2.9 .5-6 4.7-6 2.3-10-.5-4-1.9-2-9.1-4.8-4-4.1-2-.6-4 1.8-4 4-4 1.4-4-1.4-2.4-4.3 .2-6 2.2-2.8 8-3.1 14 .4 4.1-2.5zM207.7 401.6l2 1.2 2 2.9 2 .2 14-.4 8-2.3 10 5.8 1 2.6-1 2.4-4-.8-10 2.9-2 .3-6-2-8 1.1-4-.8-5.2 2.9-2.8 .3-12-2.3-1.8-2-.5-4 2.3-4.2 2-.7 8-.2zM142.6 417.6l1.8 0 2.8 2 4.5 7.8 6 3.5 6 7.7 2 5-.3 2-1.7 2-2 .5-8-3.1-6 .8-6-1.9-6.9-.3-1.1-.4-2-2.5-2 .1-2.5 2.8-.7 6-2.8 3.9-4 .9-6-1.3-2 .3 0-9.5 4-8.3 2-1.5 6-1.2 1.9-1.3 .4-6 1.1-2zM663.3 421.6l.4-1 2-.8 4 3 3.1 4.8-.8 2-4.3 .8-2.2-.8-1.8-2-.6-2zM570 423.6l1.7-1.2 2.5 1.2 2.9 6 2.6 2.6 2.3 5.4 .1 8-2.4 12 1.7 6 .1 6 2.6 18-.8 4-1.6 2-4.9 4-3.1 4-5.9 4-.9 2 .7 4 4.1 6 .5 16-4.2 12-4.3 3.5-1.6 2.5-4.7 16 1.7 6 11.1 14-4.5 1.9-11.5 .1-6.5-4.9-8-2.8-1.6 7.7-6.4 7.9-8 .6-4 1.6-4.1 3.9-4.6 8-6 4-1.7 2-1.1 4-.6 0-3.9-2.3-2-2.6-2.7-7.1 1.2-4 5.5-7.6 2-8.1 2-2.4 2-1 8-1.9 4 .1 2.8-1.1 1.1-2-.5-2-1.4-1.7-4.4-2.3-2.3-4 .7-.9 6 1.6 4-.6 7.9-4.1 1.5-2 .4-2-1-8-8.8-9.1-4-1.5-12-2.2-1.8-3.2-.4-10 .9-6 3.3-5.4 6-3.4 3.4-9.2 .3-12-.8-8 1.9-6-.4-10 1.1-6 3.9-8 4.1-6 8.5-6.6 8-1.9 10 .5 12-1 2.2-1 .7-2-1.6-8zM525.7 485.1l-2 2.5-.1 2 2.1 2.5 4 .1 2.3-2.6 0-2-2.3-1.8zM543.7 461.3l-3.6 2.3-1.8 4 0 4 1.4 5.5 2 2.3 2 0 4-1.8 1.6-2 .3-2-1.9-7-2-4.1zM174.5 453.6l1.2-1.1 .9 3.1-.9 2.7-2 1.7-1.1-.4-.8-2zM205 457.6l2.7-.3 10 5.3 8.3 3 5.7 3.8 4 4.5-4 2.5-2 .5-2-.6-1.5-4.7-2.5-1.9-8-.8-8-3.3-2-1.5-1.1-2.5zM634.9 471.6l2.8-1.8 2 0 6 1.2 2 1.2 2 3.4 0 2-2 4-2 .6-8-.2-5.3-2.4-1-2 .6-2zM599.1 487.6l4.6-.8 1 .8 .8 2 .4 10-2.2 4.2-4.3 3.8-4 8-3.7 3.5-4 .8-4.5-4.3 .4-2 4.1-4.2 8-4.2 2-7.6-.6-2-3.4-1.8-2.1-2.2 2.1-2.5zM127.3 509.6l2.4-.7 4 .3 1.7 .4 1.2 2-2.9 3.3-2 1.3-2 .2-3.4-2.8-.4-2zM179 513.6l4.7-1.6 3.3 1.6 .5 2-3.4 8-.2 6 .8 4 3 1.9 8 .9 8-3.6 2-.2 8 1.5 2.7 1.5 .7 2-3.5 8 2.1 1.9 17-11.9 5-1.4 2 .4 8 3.8 1.3 1.2 .7 2-2 4.4-8 5.6-.9 2 10.9-.3 4 1.7 1.4 2.6-2.3 6 .9 1.5 2-.8 4-3.8 4 .3 4 2.3 8-3.6 4 .8 3.6 3.3 3.1 6 .1 2-4.8 4-1.2 2 .5 12-1.9 6-.3 4 1.9 14 1 2.2 4 1.8 4 .1 6-2.1 2 0 2 1.2 6.5 4.8 2.5 10-11 2.9-5.2 5.1-.7 4 1.9 2.1 6 1.8 1 2.1-1 3.8-2 3.2-6 5.7-2 1.1-6-1.9-4 1.5-2-.1-2.1-1.3-.6-2 1-4-2.3-3.1-12-1.1-1.3 2.2 2.3 4 .9 4-2.4 10-2.2 2-7 0-.2-2 2.2-6 .6-4-.3-4-2.6-7.4 .2-2.6 1.8-2.4 2 .1 6 2.9 2-1.3 3.7-7.3 4.2-6-1.5-10 1.1-6-1.5-1.7-4 .1-4-1.2-4-4.3-2.4-4.9-.9-6 1-4 2.1-4-.4-2-3.4-2.7-2 0-6 2.6-2-.1-8-2.7-8-1.1-4-1.7-1.8-2.3-1.6-4-6.6-3-3.1-3-4.9-8-2-2-1.2-4-1.6-2-5.2-2.6-18-5.6-3.2-1.8-1.8-2-.4-2 .7-6-.6-2-2.7-1.6-8-.3-3.1 1.9-.9 4 .9 2 6.1 4 1.7 2 .4 6 4.9 5.6 .5 2.4-.7 10-1.8 2.4-8 1.1-4 1.5-6.6 5-1.4 2-.7 10-1.9 4-4.7 6-.4 2 2.5 6-.8 1.6-4 .5-1.2 1.9 1.2 5.2 2.6 2.8-1.4 2-6.8 2-2.4 6-2 1.3-4-.8-4-3.5-10 3.1 0-116.9 2 1.1 8 .2 2 .9 1.2 2.6-.3 4 .7 2 2.4 1 3.2-1 4.8-3.4 12-.2 4-7.2 8 .7 8 3.8 4-1zM231.7 553.8l-3.9 5.8-.1 2.1 2 .5 1-.6 3.4-4 .6-2-1-1.9zM267.7 564.2l-2.5 3.4-.5 2 .7 2 4.3 2.2 4.9-.2zM131.7 579.1l-2 1.6-1.3 2.9-.7 6.7 6-3.7 3.6-5-.1-2-1.5-1.1zM139.7 539.3l-4 4.5-1 3.8 .6 2 2.4 .6 6-.6 4 1.5 2.7-1.5 1.3-2 .5-4-.3-2-1.4-2-2.8-1.7zM129.7 600.6l-4.1 5-9.1 8-.4 2 1.6 1.4 6 1.8 2-1.1 4-7.1 2-1.9 4.1-1.1 2.9-4-1.4-2-3.6-1.7-2-.2zM261.2 531.6l.5-1.3 2-.6 1.9 1.9-1 2-.9 .2zM273.6 535.6l4.1-1.4 3 1.4 .8 2-.3 2-1.5 3.1-2 1.7-2-.2-2.5-2.6-.9-4zM694.6 541.6l1.1-1.9 2 .4 2.4 5.5-6.4 12 0 2.6 3.6 5.4-.2 8-1.4 4.1-2-.4-2-1.8-2.6-3.9-1.4-4.3-2-1.2-6 1.9-2.3-.4-3.5-6-.3-2 2.1-3.3 4-1.1 11.3-7.6zM665.5 567.6l2.2-.6 1 .6 2 2 .6 2-.6 2-3 2.9-4-.5-2.8-2.4 .8-2.6zM182.7 571.6l3-.3 2.9 2.3 .3 2-.8 2-2.4 1.8-2-.3-3-3.5 0-2zM609.8 575.6l9.9-.2 2.2 2.2-.3 2-7.9 6.7-4 1.7-4 .4-1.2-4.8 .6-6 2.6-1.8zM666.9 583.6l2.8-1.1 6 .7 4-1 2 .3 2 1.7 1.6 3.4-.1 2-6.3 10 .2 2 2.6 1.9 8-4.3 6 .9 1.2-.5 2-2 1.2-6 1.7-2 1.9-.8 4 .3 6-2.2 5.2 .7 2.5 2 1 2 1 4 .2 8 3.8 6-.2 4-3.7 6-1.8 1.9-2 .3-8 .7-8-4.7-4 .4-2.7 1.4-1.6 2 .3 8-2 2.5-14 7.2-12 4.3-2 .4-10-2.3-8-5.8-2 2.1-1 3.6 2.8 8 4.3 4 .3 6-2.4 1.5-2-.8-2-2.5-2.7-6.2-23.3-17.5-6 .4-6 3.7-8 2.2-12 7.9-2-.7-2-2.2-2-4.3 0-4.2 2-4.4 4.7-4.9 .8-2-3.5-2.1-1-1.9 .1-2 .9-2.6 2-2.7 1.6-.7 .9-2-4.5-1.6-.8-2.4-1.2-8.1 2-6.2 2-.7 1.4 1 2.6 7.6 2 1.6 2.4-1.2 2.6-6 1.9-2 3.1-1.4 2 .8 9.3 6.6 .9 2-1.1 4 .2 2 4.7 7.7 2 1.2 2.7-.9 3.3-4 .8-2-.3-6 .9-4 .6-.7 8-.6 4-4.8 2-.6 2 .8 2.8 7.9 3.2 2.2 12-.6 5.5-1.6 2.5-2 0-2-2-2.7-6-3.1-1.4-2.2-.1-2zM531.3 599.6l.4-1.8 6 1.4 2.3 2.4-.5 2-1.8 1.7-2.1 .3-3.1-2-1.1-2zM759.3 605.6l2.4-.9 2 1.3 4.9 5.6 5.1 .9 0 16.9-8-3.2-4.3-.6-2.1-2 1.2-2 .1-2-2.1-6zM314.1 635.6l1.6-.5 2 1.8 1 2.7-.2 2-.8 .5-2-2.1zM127.9 643.6l1.8-.7 2 1.9 1.1 4.8-1.1 3.6-4 3.4-2-.2-1.3-2.8 1-6zM320.4 649.6l1.3-1.4 4 1.2 6 4 1.9 2.2 1.1 6-1.8 4-8.1 8-16.6 0 1.3-4 2.6-4 1.6-6zM111.7 661.6l0-.8 2 .8 .8 2-.8 3.4-2 3.7z"/>
<path fill="#FFDC00" d="M170.8 109.6l2.9-.9 4 .2 4 2.6 .9 2.1-1 2-9.9 4.8-2-2-1.3-4.8 .1-2zM358.3 263.6l3.4-.9 6.8 6.9 1.2 8 3.4 10-2.7 6 0 4 2.9 8 5 8 1.4 5.4 6 1.5 6 2.7 8 1.3 3 3.1 1.9 10-.2 4-1.6 6-4.5 6-1.7 4 .1 12-.9 2-7.1 6-3 1.4-4 .3-4.2-1.7-7.8-9.6-2-.6-6 .9-4-.6-2.8-2.1-3.5-6-1.7-1.1-6 .4-2-1.2-2.8-4.1-.5-2 3.9-6-.6-2-2-.8-6 0-1.4 .8-.6 1.8 .2 4.2-2.2 1.8-4 .9-4.7-.7-1.1-2 1.2-6 5.5-8 .2-2-1.1-2.3-6.2 .3-7.8 5-10.6-3-4.1-2-1.5-2 .7-2 3.5-2.2 2 2.1 2 .1-.6-4 1-2 3.6-3.1 .6-.9-.6-.6-2-.7-6 .4-6-1-4 .7-5.5 3.2-2.9 6-1.6 .6-2.9-.6-1.7-2-1.1-8-2.7-8-2.7-4-6.9-6-.5-2 .9-4-.7-2-3.4-4 0-2 5.7-9.6 2-1.9 4-1.3 4 .5 3.7 2.3 2.3 7.7 4 3.6 4 5.6 10 1.5 1.8 1.6 1.2 6 1.2 2 5.8 7.2 4 3.2 4 .6 8-2.1 16-2.2 4 .2 4 1.8 2-2.1 .5-2.6-1.2-8 2.9-10 3.6-8-.2-2-3.4-6 2-4zM580.5 271.6l3.2-.5 2 2.4 1.1 12.1-1.3 10 .4 8-4.2 8.7-2-1.1-1.6-3.6-.8-6-1.3-2-6.3 1.6-2 0-2-1.2 .8-4.4 3.2-6-.6-2-4.5-2-.5-2 4.3-4 7.3-3.7zM514.4 279.6l3.3-1.2 4 .4 4 5.1 8 4.7 2.8 3 .7 2-2.8 2-8.7 1.4-6 2.4-4-1.2-2.7-2.6-1-4 0-10zM207.4 283.6l4.3-.8 4.1 .8 11.9 10.1 6 2.2 8.5 11.7 2.1 4-.2 2-2.4 1.3-8-3.1-2 .7-2.3 9.1-1.7 2.4-4 1.6-1.6 2 .5 6-5.5 6-.1 2 2.4 4-.5 2-3.2 2-5.2 0-1.7-2 .3-4-1.4-1.5-2 0-2.3 1.5-.6 4-2.5 2-8.6 .6-4.4 3.4-3.6 1.2-2.7-1.2-3.3-5-7.6 5-6.4 7.4-4 1.2-10-2-7.1-4.6-2-2 0-2 1.7-4-8.6-6-2 0-4 5.4-2 .6-4-.6-6 1.3-2-.9-2-3.1 0-33.6 8.9 .9 5.1 4.3 2 .3 2-1.2 2.5-3.4 5.5-2.4 16 0 10 2 6-1 4.7-2.6 3.3-6.3 2-1.4 6 .7 8-1.4 4 .9 3.1-.5 .6-2-.3-6 1.2-4 1.4-2zM501.7 283.6l2 .3 .9 1.7-.2 2-2.7 2-2.3-2 .3-2zM249.2 299.6l3.1 0-.6 2.8-2 1.1-1.1-1.9zM554.2 303.6l3.5-1.8 2 0 2.9 1.8-4.7 8-4.2 10.3-4 2.1-4-.1-1.4-2.3-.3-10 1.7-2 6-3.1zM529.5 321.6l2.2-.7 .8 .7 .6 2-1.4 1.8-2-.9zM535 333.6l.7-1.2 2-.1 1.4 1.3-.5 2-2.9 .2zM628 337.6l1.7-1.9 2 .1 3.9 1.8 1.6 2 .7 4-2.2 3.9-2 1.6-2-.1-3.8-3.4zM343.7 367.6l2-1.1 .1 3.1-2.1 .5zM617.4 373.6l2.3-1.5 2 3.1 .1 4.4-2.1 1.4-2.4-3.4zM155.6 383.6l2.1-.2 2 1.6 .7 4.6 5.3 3.6 1.9 2.4 .1 2-2 1.7-2 .4-2-.8-2-2.2-1-3.1 .6-4-4.5-4zM624.7 399.6l3-1.9 2 .3 2.2 1.6-.1 4-3.1 6-1 4.9-4-.5-4.8-2.4-.3-2 3.1-2.6zM203.3 407.6l2.4 .7 1.3 3.3-1.3 2.7-2 .9-8-2.3-2.2-1.3-.1-2 2.3-1.5zM230.9 407.6l2.8-.8 3 .8 .5 2-1.1 2-3.5 2-2.9 .2-3.5-2.2 1-2zM595.5 407.6l2.2-.3 2 1.8-.9 2.5-1.1 .5-2-1-.6-1.5zM217.7 409.6l2.5 0 1.5 2-4 1.1-1.2-1.1zM696.2 413.6l3.5-.6 2 .5 6 5.1 4-.5 6-2.1 10 1 4 2.1 6 4.7 8-1.1 3 .9 4 6 .4 2-1.4 2.2-6 3.7-1.6 2.1-.4 2 2 5.5 .1 2.5-2.1 4.6-2 .9-2.9-1.5-5.1-9.2-2.6-6.8-3.4-3-6-3.1-3 .1-1.6 8-1.4 2.1-4 2.2-4-.1-10-4.1-2.5-4.1-.3-2 .8-2.2 4-2.7 7-1.1-1.4-2-10-8-.7-2zM133.4 423.6l1.6 0-.8 2-2.5 .3zM764.2 423.6l3.5-1.5 2 .5 2 1.5 .5 1.5-.5 2-4 1.6-4-1.1-.7-2.5zM146.5 433.6l1.2-1.9 2 .1 1.6 1.8 .6 2-1.3 4-2.9 1.4-2.8-1.4-.1-2zM117.6 439.6l4.1-1.2 1.5 1.2-1.1 6 .6 4-1 1.9-2 0-2-1.1-2.8-2.8 .2-4zM158.6 439.6l1.1-.3 2 1.1 .8 3.2-.8 .7-2.6-.7-1.7-2zM625.2 439.6l2.5-1.2 4 .2 2.1 1 .5 2-2.6 4.7-2 1.3-4 0-3.1-2-.3-2 .8-2zM548.6 445.6l5.1-1 10 .6 2.1 .4 5.3 4 .4 4-1.8 6.5-2 2.4-5.1 3.1 .4 2 2.2 2 2.5 .9 8-.6 4 4.9 2 4.6 .7 4.2 .1 4-1.4 4-14.7 12-3.2 4-1.5 3.7-4-7-2-.6-3 1.9 5 4.8 4 1.3 6 5.2 2.3 4.7-.3 12-10.4 18-6.2 18 1 6 8.9 8 .9 2-2.9 2-5.7 0-2.2-2-.4-8-1-.6-6 .6-6-5.3-8.5 7.3-.3 2 4.4 4 .5 2-1.1 2-15 7-10 11.9-2 1.2-8 2.9-2-.5-1.2-2.5 .2-2 5-6.4 2-7.7 1.4-1.9 10.6-2.6 6 .1 2-1 3.2-4.5 .4-2-1.6-6 1-2 8.2-6 .8-2-.9-12-5.1-3.5-6-6.9-4-2.4-2-.5-8 .1-2-1.4-1.1-7.4 1.1-8 2-2.9 2-1.4 3.4 .3 1.5 2 1.3 4 1.1 8 .7 1.3 2-.1 1.7-3.2-.2-2-1.5-5-4-7-.1-2 1.8-6 4.2-6-1.9-4 .2-2 1.8-1.6 6 .4 7.3-6.8 2.9-4 5.8-2.8 4-.2 4 3.6 2 .6 4-1.5 3.8-3.7-.2-2-1.6-1.3-6-1.4-1.5-1.3-3.3-12 .4-2 1.5-2 8.5-6 1.1-2-.8-2-3.9-.9-8.1 .9-1.9 .8-2.7 3.2-9.3 5.5-4 1.4-1.7-.9-.2-2 1-2 2.9-3.3 4-1.8 8-1.9zM543.7 493.3l-.2 2.3-4 6-.5 2 .5 2 2.2 1.8 4.6 .2 4.8-2 .2-2-3.2-6 .3-2 2.1-2-4.8-1.9zM715.1 447.6l2.6 .7 2 1.9 4 6.5 6.5 2.9-.7 2-3.8 2.6-2.8 3.4-2.2 6-1 .8-2-.1-4-1.8-3.6-2.9-1.3-2 1.3-6-1-6 .3-4 2.3-3.2zM765.4 451.6l2.3 0 2.7 4 3.3 2.6 0 20.5-8-1.5-2.9 2.4 .4 2 3.7 4 .4 2-1.6 2-2-.4-1.3-1.6-1.4-4-1.6-2-5.7-3.2-6-1.9-.7-.9 .9-4 4-8 2-2 7-4zM681.6 471.6l4.1-1 4.2 1 3.7 2 2.2 4-.7 2-11.4 8-.9 2 .7 6 2.1 6-1.7 2-6.2 3.5-2 .3-4.6-9.8 .1-4 1.9-6-.5-10 1.1-2.2zM638.4 473.6l3.3-.6 2.3 .6 2.5 2 .3 2-1.1 1.5-2 .7-6.2-.2-1.4-2 .5-2zM526.3 475.6l3.4-1.2 3.4 1.2 1.3 2 .2 2-.9 1.5-2 .4-4.8-1.9-1.4-2zM697.3 479.6l4.4 0 2.9 2 .3 2-1.1 2-4.1 3.8-2 0-.8-1.8-.4-6zM691.7 495.6l2-1.6 2-.1 3.3 5.7 2.7 1.3 6-1.3 1.2 2-3.2 4.7-.7 7.3 .7 1.4 2 .5 4-.7 1.8 .8 .7 2-1 2-11.5 3.2-3.3-1.2-6.7-6-2-3.7 0-4.9 6.8-3.4-.1-2-4.7-2-.5-2zM721.3 505.6l4.4 0 4 2.3 2.3 3.7-.3 4 2 .9 4-1.2 10-5.2 6 .9 10 5.1 2-.7 4-3.8 2-.3 2 1.7 0 7.4-8-1.8-2 1.4-2.5 5.6 0 6-.8 2-1.7 2-9 6.1-15.5-.1-2.5-2 4-2.9 1.5-3.1-1.5-1.2-2-.1-3.4 1.3-.8 2 2.2 4-6 3.8-4 .3-2.3-2.1-1.9-4-.3-8 .7-4 2.1-2 5.7-2.2 4-3.8-2.7-2-5.2-2-2.2-2 0-4zM178.7 515.6l3-1.4 2 0 1.2 1.4-3.3 10 .5 8 1.9 2 9.7 2.4 4-.5 8-3.2 6 1.3 1.5 2-3.1 8-.1 4 1.7 1.9 8 1.2 2 1.3 1 1.6 .6 8 2.4 4.5 2 .3 2-1 10-9.7 2-1.1 6-1.5 2.9 .5 1.3 2-2.4 6 0 2 1.2 2 3 2 6-.8 4.4 4.8 8.8 4 4.5 6 .9 4-1.5 14 1.3 6-.4 3.9-2 .7-6-4.5-4 .5-8-5.7 0-4.4 3.4-2.5 1-2-.4-2-1.6-2-4.4-3.6-4-1.5-5.9 3.1-2.1 .1-16-5.1-2-1.4-2-4.6-2-1.9-8-2.4-3.4-4.7-1.8-8 .7-6-1.5-1.4-6 .3-14-3.1-10-3.8-2-1.5-1.4-2.5 2.5-10-1.1-2.8-2-.4-4.1 1.2-7.9 .2-6 1.3-1.8-1.5-.1-6 2.5-4 3.4-.7 6 2.3 4 .2zM115.5 521.6l2.2-1.1 2 1 1.1 4.1 4.9 3.6 4 0 7.6-3.6 2.4-.4 2.1 .4 2.3 2 .1 2-1.3 2-5.2 4.1-5.2 5.9-3.6 8-8 4-.9 2 2.9 4 4.8 2.4 2 0 6-6.2 2-.7 4 .9 5.2 3.6 2.8 4.6 3.4 3.4 1 2 0 2-2.4 3.5-8 4.3-6-4.1-6 .7-3.3 1.6-8.8 16-.3 2 2.8 6 0 2-2.4 2.8-4 2.1-2.6-.9-1.4-3 0-77.9 3.1-3.1zM125.7 537.1l-2 .7-1.1 1.8 1.1 2.3 2.5-.3 2.4-2-.8-2zM236.6 537.6l3.1-.5 5.6 2.5 1.5 2-.4 2-2.2 2-2.5 .9-2 .1-1.6-1zM158.7 543.6l3 .7 1.4 1.3 .4 2-.6 4 .7 2 4.8 4 .7 2-1.4 2.9-8 3.3-2-.9-4-9.3 3.2-10zM274.7 563.6l3-1.2 3.2 1.2 1.4 2 .2 2-.8 1.6-2 .9-4-1-1.9-3.5zM610.6 579.6l3.1-1.4 2 .3 .4 1.1-4.4 2.1zM672.8 589.6l.9-.9 2 .1 1.1 .8 .5 2-1.6 1.2zM712.9 595.6l2.8-1.7 2 1.3 1.5 8.4-.1 2-1.4 2.1-6-1.6-3.2 1.5-2.8 2.8-2 .4-4-1-12.4 5.8-2.5 2-.7 2 .4 4-.5 2-5.8 8-8.5 4.3-14 0-2.2-2.3-1.8-5.1-4-1.8-2 .5-2.3 2.4-2.8 12-.9 1.2-4-.8-4.1-2.4-4.4-4-3.5-5.7-4-2-10 .9-2 1.4-2.1 3.4-15.9 7.8-2 .4-2-1.1-1.5-3.1 .9-4 2.5-2 8.1-1.2 2.2-.8 1.3-2-1.2-4-5.5-6 3.2-8.4 2-2.7 2 .5 4 3.2 2 .2 4-2 2 .4 2.1 2.8 .6 4 1.2 2 4.1 2.2 2 .1 6-3.7 6.7-6.6 .2-4 1.1-2.3 2 .2 1.5 2.1-1.4 6 .8 2 3.1 3.1 12-.7 4-2.6 1.1-3.8-.6-4 1.5-1.4 12.1-.6 1.9 .2 4 2.6 2 .3 4-1.5 6-4.1 2.7 .5 5.3 3.1 6-6.5zM603.3 599.6l.4-1 2-.8 2 .9 2.4 2.9-.4 2.7-2 .6-2-1.2zM714.6 611.6l3.1-.6 1 2.6-.3 2-1.8 2-2.9 1.3-2 0-2-1-1.2-2.3 .6-2zM765.3 615.6l4.4 .2 4 1.9 0 9-2.6-1.1-1.9-2-3.7-6zM111.7 617.6l5.3 6-.8 2-4.5 2.8zM288.9 649.6l2.8-.6 4 .4 1.5 2.2-3.5 4.2-4 .6-1.7-.8-1.4-2 .3-2zM322.4 653.6l3.3-1 2 .3 3.8 2.7 .8 4-2.1 6-3.5 4-6.4 4-9.3 0 .7-2.1 4.2-3.9-.3-6 .7-2z"/>
<path fill="#FF7300" d="M359.7 265.6l2 .2 4.1 3.8 .4 4-2.6 4 4.1 4.2 .8 1.8-.1 2-4.1 4-1.3 2-.2 2 4.9 6 3.2 8 4.1 6 .6 2-.3 2-1.9 2-9.7 3.1-1 2.9 .1 4 .9 1.2 2 .6 2-.5 16-7.6 6 1.8 6.7 .5 3.6 2 0 6 1.7 6-.4 4-1.6 2.6-4-.9-2 .9-.7 1.4 1.1 8-.2 12-5.2 8-3 2.1-3.8-.1-2.5-2-7.7-12.3-4-.9-5.8 3.2-2.2-.3-2.9-5.7-2.4-2-4.7-2.7-6-.1-1.3-1.2 .3-2 3.6-4 .7-2-.6-2-4.7-4.7-6-.2-3.3-1.1-.4-2 1.5-6-2.6-8 2.8-8 2-1.2 4-.3 2 1.5 4 7.9 4 2.4 4-.3 8.9-4 .2-2-1.3-2-5.8-.7-2.3-1.3 1.9-10-2.1-6 .3-6 2.2-5.9 5-6.1 .4-2-4.3-4-1.2-2-.1-2 1.3-2zM265.6 275.6l2.1-1.2 4 .4 1.2 .8 .8 2-.7 2-3.3 2.4-4 .6-1.5-3zM579.8 275.6l1.9-1.1 2 .6 1.1 10.5-1.1 5.8-2 2.1-2 .2-4-.9-1.2-1.2-1.8-10zM517.5 281.6l2.3 0 3.9 6.7 8 3.3-2 .6-4-.5-6 2.3-2-.2-1.6-2.2-.8-6 .3-2zM207.6 285.6l4.1-.5 3.8 2.5 7.8 8 2.3 4 1.1 4 .5 6-.8 4-6.7 7.6-1.4 4.4 .1 8-2.7 2.7-4 1.8-8.9 1.5-9.1 3.3-6 3.2-2 .1-2.4-2.6-3.6-1.2-2 .9-5.8 6.3-8.2 7.1-6 2.4-8-1-2.5-2.5 .3-2 2.6-2 .5-2-.4-6 2.5-6-1-2.2-2 .2-6 5.7-4-.4-6-4.1-2-.6-4 1.1-5.7 4.3-2.3 .9-2 0-6-2.3 0-24.8 4 2.8 4 .1 6 2 6-.5 8 2.5 4-1.1 2-1.4 4-5.1 2-1.3 4-.7 2 .5 4 5.2 2-.7 3.1-4.1 12.9-4.4 7.4 2.4-.7 2 .7 4 4.7 8 1.9 1.1 4.9-1.1 2.3-2 .5-2-6.6-10-.8-4 2.6-2 9.1-3.9 1.7-2.1 .2-2-3.4-6-.1-2 .9-2zM292.4 305.6l1.3-.5 3.5 .5 4.2 2 1.7 2-1.4 .7-10-.1-4 2.4-2 .1-1.3-1.1-.2-2 1.5-1.2 4-.8zM549.2 313.6l2.6 0-.1 2.1-2 1.7-.9-1.8zM321 315.6l1.1 0 4.1 6-.2 2-4.3 2.4-8 2.1-2-.3-1.3-2.2 .2-2 1.7-2zM717.1 421.6l4 0 .6 1.1 2 .5 2.2-1.6 .9 2-7.1 .1zM763.4 459.6l4.3-1.5 4 1.4 2 1.8 0 11.9-2 .8-8-.3-6 1.5-3.3-1.6-1.2-2 2.5-6.2 1.3-1.8zM681.3 473.6l4.4-.8 2.9 .8 1.9 2-.4 2-3.3 4-5.1 1.8-4-1.1-2-1.9-.6-2.8 1.8-2zM571.2 477.6l2.5-.4 2 .5 4 3.5 1 4.4-.6 4-2.4 2.1-4 1-6 6.4-2 .9-2-.4 1.1-10 5.2-4 0-6zM529.5 505.6l4.2-.1 5.8 4.1 2.2 .6 10 .7 3.8 2.7 4.2 4.7 5.6 3.3 1 2 .3 6-.9 2.3-2 .2-4-1.6-6 1.3-8-.4-1.4 2.2 1.9 4 1.9 2 9.6 3.2 1.4 2.8-5.8 14-5.6 7.4-2-.2-2.4-3.2-5.6-3.6-.2-2.4 2.8-6-.6-1.3-8-1.1-2-1.7-2.9-5.9-.5-2 .6-8-.8-4-5.6-10-1-4 2.2-4.1 4-2.6zM745.6 513.6l4.1-1.5 2 0 4 1.3 3.1 2.2 1.3 2 .2 2-2.6 5.7-2 1.7-2 .4-8-1.3-4 .1-16 5.3-2-.7-.8-3.2 1.1-2 5.7-3.3 8-2.6zM511.2 523.6l.5-.4 2 1.5 .6 6.9-.6 2.3-1.6 1.7-2.4 .3-1.1-2.3-.1-4 1.2-4.5zM159.9 525.6l1.8-1.4 3 1.4-3 .7zM113.2 529.6l4.5-1.2 2.8 1.2 2 2-.1 2-4.7 8.3-2 2.2-2-.8-2-2 0-10.4zM743.2 535.6l6.5-.9 1.8 .9-.3 2-3.5 2.3-4.3-.3-1.8-2zM178.6 537.6l3.1-.5 12 3 12-4 4.1 1.5 0 2-3.3 8-2.8 2-2 .3-8-2.5-6 .3-5.7-2.1-3.6-2-1.5-2 .1-2zM722.3 537.6l1.4-1.9 1.8 3.9-1.8 .9-1.2-.9zM111.7 557.6l0-.6 4 2.4 1.4 2.2-.2 4 .8 2.5 2 .5 4-1.3 2 .7 3.3 3.6-4.5 4-2.8 8.1-2 1.8-2 .5-3.4-6.4-2.6-.7zM212.4 557.6l1.3-1.5 2 0 2 1.5 2.7 10 .1 2-.8 1-2 .6-4-1.6-2-7.8zM244.6 557.6l3.9 0 .2 2-1.9 4 0 2 4.9 7.1 2 1.1 6-.3 11.5 6.1 1.1 4-1.3 6 2.7 2 1.4 4-1.4 4.7-2 1.5-4 .7-1.3-.9-.9-2 1.5-8-11.9-8-3.4-4.2-2-.6-1.4 .8-1.5 4-3.1 1.9-10.5-3.9-3.4-2-1.7-2-.7-2 .5-2 3.8-3 9.9-11zM135.7 559.6l2-1.3 2 0 4 2.8 5.4 8.5 .4 2-1.5 2-4.3 .5-5.6-4.5-2.4-3.1-1-2.9zM507.1 595.6l4.6-1.6 2 .3 1.5 1.3-1.2 4-4.3 5.4-2 1.2-2 .1-1-.7-.3-2 1.3-5.5zM662.3 611.6l1.4-1.7 2-.3 6 2.5 4.8 3.5 1 4-1.8 2.2-6-.1-2 .7-6 6.4-2 .5-4.7-3.7-1-2 5.7-5.6zM601.5 617.6l4.3 0 1 2-1.1 4.4-2 .4-2.7-2.8-.6-2zM629 625.6l2.7-1.2 4 4.1 .7 3.1-.7 6.2-2 .9-2-1.2-1-1.9-2.1-6zM322.2 657.6l5.5-2 2.2 2-.2 3.2-2 4.6-2 2.3-2 .6-2-1.5-2.6-5.2 .6-2z"/>
<path fill="#FF0000" d="M213.9 297.6l1.8-1.1 2-.1 2 1.1 3.1 10.1 0 2-1.1 1.9-2 .5-4-.6-2.9 2.2-.4 2 2.1 6 .3 10-.9 2-4.2 2.2-22 4.5-6-1.5-2 .4-4 2.7-4.6 5.7-5.4 5-4 1.8-2-.4-2-1.5-3.9-4.9-.8-2 .9-4 5.9-10-.1-2.4-1.7-3.6 .2-2 5.5-2.1 6-5 4-.6 4 .7 3.6 3 1 2-.2 6 1.6 3.9 4 2.7 4-.8 12.7-7.8 1.5-2 .3-4-1.3-2-5.2-3.8-1.1-4.2 1.3-2 10.8-4 1.7-2zM361.4 305.6l2.3-1.2 1.6 1.2 1.2 4-.8 1.7-5.2-1.7-.3-2zM367.3 313.6l.4-1.2 2 .5 2.1 2.7-2.1 1.6-2-1.5zM336.3 319.6l1.4-1.3 2 .3 4 5.5 4 3.2 4 1.5 4-1.1 2 .9 0 1.4-2 1.6-6 1.2-2 2.3-2 .4-4-2.4-4-5.2-2.1-4.3-.2-2zM149.4 321.6l4.3-1.1 1 1.1 .5 2-1.7 4-1.8 2-4 1.7-4 4.5-2 .3-1.6-2.5 1.5-6 1.6-2zM125.4 325.6l2.3-1.3 2 .2 .7 1.1-5.7 8-3.9 4-3.1 1.2-6-1.6 0-9.1 10 1.2 2-1zM380.2 327.6l3.5-1.3 2 .5 3.1 2.8 .9 10-3.8 10 3.5 6 .2 4-1.9 .4-4-1.5-8 .7-18-3.8-4.2-1.8-1.4-2 .1-2 1.5-2.4 8.6-5.6 3.6-6 7.8-5.3zM767 463.6l.7-1 2 .1 .6 .9-.6 2.5-2-.4zM680.7 477.6l3-1.7 1.1 1.7-1.1 .9-2 0zM526.1 509.6l5.6-1.3 8 4.2 8 .1 4 .9 4 4.1 3 6-1.5 4-3.5 1.9-4-.6-6-2.3-2.8 1-1.7 2-1.2 4 2.6 8-1.1 2-3.8 2.7-2 .4-2-1.2-1.1-3.9-.2-8-1.1-6-7.5-12-.2-2 1.2-2zM746.4 515.6l5.3-1.8 4 1.5 1.8 2.3-.5 4-3.3 2.6-4 0-4-1.3-1.7-1.3-.4-2zM201.3 539.6l2.4-.5 1.6 .5 .2 2-1.3 4-2.5 1.3-3.1-1.3-1.2-2 .7-2zM182.8 541.6l2.9-1.1 2 .5 1.3 .6 .5 2-1.8 1.2-2-.2-2.2-1zM545.6 545.6l2.1-1 2 .2 2.6 .8 1.6 2-4.2 6.9-2 .7-2-1.7-.6-5.9zM241.5 567.6l4.2 2.4 2 3.6-6 6.3-2 1-4-1.5-1.8-1.8-.2-2 4.5-6zM256 577.6l1.7-1.4 2 0 7.1 3.4 1.6 2-.7 3.7-2 1.3-2-.2-4-1.9-3.2-2.9-.8-2z"/>
</g>
<g clip-path="url(#cpb)">
<path fill="#8C8CFF" d="M1023.2 65.6l9.4 0-2.4 2.2-4 .7zM1056.9 65.6l29 0 .4 2 3.5 6 .7 4-.6 4-3.5 6-1.4 4 .4 6 .8 2.1 .4 15.9-.5 2-5.1 8-.8 2.6-2 1.7-4 0-6-2.1-2.6-2.2 .1-8 4-6-1.5-5.4-2-.4-2.3 5.8-1.7 2.3-5.4-.3-3.6-2-.7-2 4.7-8 .4-2-.2-4-2.9-6 .5-2 3.1-4 1.3-6-.3-4zM1428.2 245.6l2-1.2 4-.5 3.7 1.7 4.1 6 2.2 1.9 8 3.4 12 .7 8-.9 12 1.5 6-.7 6.6 2.1 5.4 3.6 10 4.8 6 4.8 2 2.5 1.3 4.3 .9 12 1.4 4 2.4 3.3 2 .6 2-.5 14-4.4 4 2.2 3.8 4.8 4.2 9.2 2 1.9 4 1.1 .7 3.8-.3 4-6.4 3.7-1.9 2.3-8.5 16-.2 4 2.6 2.6 4 0 18-5 20-.8 6-1.2 2-1.6 1.5-4-.3-2-3.2-3.7-.9-2.3 .9-5.1 9.8-12.9 4.2-3.4 10 1 18 3.9 14.7 8.5 9.3 8.5 4 1.2 0 16.1-6 2.2-4.9 6-11.1 .8-1.4 1.2-2.6 5.6-2 1.6-1.9-1.2 0-6-2.1-4.2-4-1.7-4 0-4 1.3-3.5 2.6-.8 2 .5 4-.6 2-3.6 2.4-10 .5-6-.5-6 1.2-8 3-20 1.7-9.4 7.7 1.5 10-2.1 5.7-4 .4-4-1.1-2 .3-4 3.7-1.3 3-.7 8-5.2 8 .3 4 2.9 3.1 4 1.8 4-.3 6-2.1 2 .3 0 1.7-6 8-4 2.9-6 2.6-5.3 0-6.7-4.7-2-.3-2 .1-2.8 2.9-.8 22 1.9 10-1.1 2-.8 6-6.4 6.8-4 .4-4 2.8-1.2 2 4.2 14 7.9 6-4.9 9-6 3.8-14 17.3-2 1.2-5.6 .7-2.3 2 3.5 4 .4 1.7-2 3-2 .7-3.4-1.4-.6-2 1.5-6-3.4-2-2.1-.2-1.5 2.2-.5 4 1.6 4-4.6 8-.8 6 .3 18 1.4 8 .2 6-.6 2-1.5 1.5-8 1.7-2 1.5-2.2 3.3-.6 6 3.4 8 1.7 10-.3 2-1.4 2-2.6 1.3-10 .3-6-1-10-5.2-14-4.2-14-.7-6 1.2-2-.5-1-1.2 .3-4 2.8-8 4.4-8 2.1-6-.9-6-7.9-12-3.8-11.1-10-6.1-4-1.6-12 1.2-1.9-2.4-.3-6 2.2-2.8 2-.7 8 .4 5.9 3.1 12.1 9.9 2 1.2 2 0 10-2.5 12-5.3 8 .4 6-5.5 1.6-4.2-4.8-26 .4-18 2.8-2 6-.3 3.8-1.7 4.5-6 9.7-6.3 2.9-5.7 .1-12-8-14-1.4-6 2.4-2.8 6-.5 4-1.5 8-7.3 4-.1 6 1.4 4-.4 16-4.1 6-3.8 9.4-16.9 2.2-8 0-6-1-4-2.6-5.3-2-1.4-8 2.4-.2 6.3-2.8 6-.5 8-4.5 4.3-12 1.9-16-1.3-6 1.9-2 1.5-4 .4-10-1.4-10 2.5-8 3.9-6.6-1.7-3.4 0-6 1.6-8 6.3-4 .7-2.5-.6-1.8-4-.4-8 1.8-10-2.2-6 .1-10-3-3.5-8-3.7-2.6-2.8-.1-8 1.3-10-.8-8-1.8-2.2-2-.8-6-.6-8-3.9-6-1.7-12-1.1-10 3.5-8 .4-4 1.3-2-.1-6-3-4-.1-3.3 2.3-3.7 6 .8 6-1.8 6-2 2.3-4 1.4-4.5-1.7-1-2 1.1-6-.4-2-3.2-2.6-4-1.1-12 1.2-3.2 2.5-2.8 5.4-2 1.2-4-2.7-2-.5-8 4.3-4 .4-2-.9-1.8-3.2 .2-10-2.4-6.3-.9-5.7-3.1-3.8-2-1.2-8 0-6 1.8-12 .3-2 1.3-2-.1-14-4-8-1.1-4.8 4.8 1.1 2-.3 4.2-14 1-4.3-1.2-1.7 2.1-1.2 5.9 .2 8-.8 6-3.5 6-.5 4-2.2 4-6 4.8-2 .6-4-.4-4 1.3-2 0-2-1-8.3-7.3-3.1-4-2.6-5.7-4.4-4.3-5.6-2.3-10-1.6-12-6.4-4 .1-8 2.2-2.2 2-.6 4-1.2 1.5-5 .5-3 4 2.2 2 .6 2-.8 4.7-1.9 1.3-6.1 1.6-6-1.3-4-1.9-7.1-.4-4.9-3.2-8-1.6-2-1.3-3.9-5.9-2.1-.9-8 .2-2-.9 0-79.5 4-1.9 6-4.3 2-.1 2 .9 2-.7 1.1-2.8-2.5-4 1.1-4 2.4-2 5.9-2.7 4-.3 2 1 2 4-.2 4-3.3 10-1.7 12 1.4 4 2.8 2 3 .5 12-1.5 8-2.3 2-1.3 3.1-3.4-.6-10 1.5-2.2 2.1 .2 1.4 4 2 2 2.5 .5 4-.7 4-4.7 4-2 24-.2 5.6 3.1 3.7 4-2.6 4 .5 2 .8 .1 2-.9 3-3.2 3-.8 10 .2 10 1.8 4-.7 8-3 10-2.6 9.1-4.9 2.5-8 7.6-6 1.7-4 1.1-5.6 1.4-.4 2.6 1.2 6 7.3 4 2.1 8-1 6 1.3 8-.5 14 1.6 18-4.4 12-.7 3.4-2.9 2.4-8 2.2-.2 6 2 16 1.6 3 4.6 3 1.6 6-.3 8.7 .7 5.4 2 3.9 3.3 2 .4 8-1.6 8 .8 8-.6 12 2.2 2-.7 4.1-3.8 5.6-12 2.3-2.4 2-.8 10 1.1 18-2.1 2 .8 4 5.7 3 1.7 3 .4 6-1.8 1.9-2.6-.6-4-1.4-2zM1546.2 362.9l-1.5 .7 1.3 2 4.2 4.5 2 .3 .8-.8-.8-3zM1630.2 331.5l-2 .5-1.6 1.6 1.6 2.3 4 .6 1.3-2.9-1.3-1.7zM1202.2 274.7l-.1 2.9 2.1 .3 0-2.8zM1613.8 417.6l4.4-1 4 .3 8 3.6 8 .8 2 .9 26 .3 0 105.2-16-5.7-2-.1-6 2-4-.2-2.4-2.1-1.5-4-2.1-2.3-2-.7-12-.9-6-2.7-.7-1.4 .1-6-1.4-3.3-2-1.5-6-1.1-2.2-2.1-.6-8-1.5-4-7.7-9.6-10-6.2-8-2.6-8 4.4-8 .9-2-.3-2.5-2.6-.1-2 2.6-2.8 2-.3 2-1.4 4-.3 2-1.4 6-.5 2-1.6 5.6-7.7 2.2-6 2.2-3.4 4-.7 4 1.4 4 .2 6-1.9 3.1-3.6 2.7-8 3.2-6 1.5-2zM1420.5 433.6l1.7-1.3 2-.1 1.6 1.4 .6 2-2 2-3 0-1.4-2zM1281.6 459.6l2.6-1.2 2 1 .5 2.2-.5 1.2-2 1.3-2-.5-1.1-2zM1305 475.6l3.2-.5 4 3.9 4 1 .6 3.6-2.6 1.2-4-.6-6 1.7-5.1-.3-1.8-2 .7-2 2.2-2.6zM1332.7 517.6l17.9 0 3.7 4 .5 2-.6 3.7-7.8 4.3-8.2 .7-5.9-.7-2.1-1.2-6-1-8-.8-10 .3-2-1-1.1-2.3-.2-2 1.3-1.6 22-.9zM1092.6 535.6l1.6-1 4 .5 10 5.2 4 1 10 5 2-.9 2 .1 6 4.2 12 10.8 2 .9 15.5 14.2 3.6 4 4.9 8.3 6.8 5.7 9.8 14 7.3 12 4.1 4.4 10 14.9 6.2 6.7 13.3 18 3.5 6-.2 4-13.2 0-11.7-16-12-14-7.9-13-5.8-7-12.5-18-7-14-6.7-7.8-20.9-18.2-3.1-1.8-12-12.1-24-11.6-2.2-2.5zM1006.8 619.6l1.4-1.9 1.6 1.9 2.8 10-.6 4-1.8 3.3-2 1.3-2-1.5-1.6-5.1zM1142.6 635.6l15.6 .3 4.3 1.7-4.3 2.2-14 .8-6.6-1-.4-2zM1469.8 637.6l4.4-.4 2 1 .7 1.4 .1 8-.8 4-2 2.7-2 1.2-2-.5-1.9-5.4zM1137.5 651.6l4.7-1 8 1-4 1.8-4 .2zM1146.4 663.6l19.8-.7 8.4 2.7-1.7 2-2.7 .8-20 .7-9.4-1.5-3.1-2z"/>
<path fill="#2219FF" d="M1023.8 65.6l7 0-2.6 2-2 .2zM1061 65.6l22.4 0 .9 6 2.5 8-2.8 12 1.9 22-1 4-2.7 4.1-4 4.4-2 .6-6.4-1.1-2.3-2 .7-5 4-2.9 .7-2.1-2.5-10-1.9-2-2.3-.3-3.1 2.3-2.9 7.1-2 .7-2.4-1.8 .1-2 3-6 .7-12 1.6-4 .7-6 1.8-6-2.7-6zM1430.5 247.6l1.7-1.8 2 0 2.9 1.8 2.2 4 2.9 2.7 10 4 6 .4 6 1.5 8-2 10 1.8 8-1.4 4.2 1 7 6 10.8 4.5 6.7 5.5 1.4 6-3.2 12 .5 2 6.6 7.2 2 1.4 4 .9 6-4.7 6-3.3 2-.7 2 .6 4 3.7 6 12 4.8 4.9 .3 2-8.3 8-10.8 21.8-8-1.1-8-2.2-7.9 3.5-1.9 2-.2 4 2 2.5 2 .4 6-1.2 8 2.3 4 3.8 2 6.6 4 .7 9.1 4.9-.4 4 2 8-.7 2.4-2 1-8-2.7-2 1-5.2 10.3-.7 10-3 4-1.5 4 .7 4 3.7 4.4 2 1.2 4 .6 6-1.1 1.1 .9-1.1 2.4-3.1 3.6-3 2-5.9 2.3-4 .3-8-4.1-2-.2-2 .1-3.5 3.6-1.4 22 2.3 10-2.1 8-.9 2-4.4 4.3-4 .3-4 2-2.1 3.4 3.5 14 4.9 6 .6 2-.9 3-2 2.5-4 1.4-3.7 7.1-4.3 5.2-8 5.5-8 2.3-8-.2-2 .2-.7 1-1.1 6 .4 8-2.8 8-.5 8-.1 14 1.1 6 .3 8-.9 2-5.7 1.2-4 2.3-2.8 4.5-.6 6 3.4 8.7 1.1 9.3-.4 2-2.7 2.2-14 0-12-5.8-16-4.4-12-.8-6.2 .8-1.3-2 .5-2 2.6-8 4.8-10 1.2-6-1.9-6-5.6-8-2.1-4.2-1.1-5.8 1.2-2 11.9-2.3 12-7.4 4 .2 6 3.6 2-1 1.3-7.1 2.7-4.8 .6-3.2-5.3-26 .7-17 2-1.9 6-.4 4-1.7 5.5-7 9.8-6 2.3-6 1.1-8-.5-4-1.7-4-6.5-10.2-1.5-5.8 1.5-2.2 6-.6 4-1.2 6-6.1 2-1.1 4-.1 8 1.7 18-4.6 6.2-3.8 10.2-18 2.2-8-.3-8-4.3-14.6-8-.1-2 .3-2 1.8-1.7 6.6 1.3 8-1.3 4-.3 7.3-2 2.8-2 1.1-4 .4-6-1-8-4.9-2-.5-2 3.1-2 1-8 .8-2.9 3.9-3.1 1.4-4-.2-6-3.2-2-.2-16 7.4-4 0-6-1.6-6 1-4 1.9-5.5 5.5-4.5 1.2-2-1.1-.7-2.1-.1-10 2.4-8-.3-2-3.1-6-.4-8-2.7-4-9.1-4-2-2.4 1.2-21.6-1.2-5.6-2-1.8-8-1.2-8-4.2-4-1-14-2.1-4 .7-8 3.2-6-4.1-4 .8-2-.5-4-2.9-2-.1-8 5-7.7 9.8-1.3 2 2.9 4 .4 2-2.2 4-2.1 .9-2.4-.9-.1-2 2.3-6-.8-2-11-4.3-2-.3-12 2.2-6 4.5-1.7-.1-.1-2 1.8-4.3 .9-9.7-.9-2.2-2-1.6-2-.2-6 4.2-3.3 5.8 .5 4 5.7 6-3.3 4-3.2 2-2.4 .4-2.1-.4-1.4-2 .8-10-3.3-5.5-3-8.5-3-3.2-2-.6-8 0-6 1.9-12 .3-2 .7-3.4-1.1-1.6-2-.9-4-2.1-1-2 .7-2 2.3-12 .5-5.6 5.5-.4 4.3-2 .5-3.7-.8-6.3-4.3-4 .7-3.2 1.6-1.8 4 1.2 10-.1 8-2.1 3.9-4 4-6-9.9-2-1.5-4-.2-2.3 1.7-.7 2 1.8 8-.8 2-6 7-2 .8-4-1.8-2.1-2-2.8-8-6.2-6-4.9-1.6-8-.5-4-1.1-8.1-4.8-5.9-1.7-12 1.2-6 3.7-8 1.5-7.6 7.3 .2 6 .9 2-7.5 .4-2.5-2.4 0-6-1.5-2-4-.7-6 2.6-2-.2-6-4.5-9.3-3.2-.2-2 1.8-4-.4-2-1.7-2-4.2-2.7 0-50.4 2 .1 1.8-1-1.1-6 1.3-1.1 2-.2 2 .9 6 3.9 4 4 6 .9 6 3 4 .3 10-1.3 10-3 4.8-3.4 3.2-3.8 12-1.1 2-2.2 2-4.1 2-1.5 8 .4 14-1.5 4 1.4 2.1 2.4-.2 2-7.6 8 .7 2 5 .8 8-1.5 6.5-5.3 3.5-1.4 4-.2 10 1.7 4 0 11-4.1 7-1.3 8-3.7 6-1.4 1.5-1.6 .5-4 1-2 9-11.8 2 .2 3.8 3.6 .8 2 .2 6 1.9 4 3.3 2.4 2 0 2-1.2 2-3.2-1.1-6 1.1-2.2 2-.3 6 1 8-.8 8 1.6 8 0 16-4.4 12-1.4 4-2.7 2-4.5 2-1.8 6 2.2 6-.4 8 2.5 7.4 7.2 3.4 2 5.2 .3 4-2.1 6.3 5.8 9.7 3.8 2-.8 .5-1 0-4 3.5-2.2 8 .4 8-.8 10 2.5 4-.3 9.3-7.6 1.2-8 1.5-2.4 2-1.1 4 .3 3.4 1.2 .6 1.4 9.9-3.4 10.1-.5 6 6.1 2 1.3 4 .6 6-1.5 3.1-2 .8-4zM1126.2 360.9l-2 1.8 0 1.5 2 .5 2-.5 2.2-2.6-2.2-1.1zM1176.2 317.5l-6 5.2-8 2-.4 2.9 2.4 .9 4-2.1 2-.1 4 1.4 4 .2 4-1.2 .7-1.1-3.6-6-1.1-1.3zM1240.2 297.4l-2 1.3-.1 2.9 2.1 2.2 4 1.1 1.4-1.3-1-4-2.4-1.9zM1284.2 332.4l-2 1.3-4.8 7.9-.4 2 1.2 4.1 2 .6 2-1.4 2.4-3.3 2.6-10-1-1.7zM1324.2 333l-2.2 2.6 .4 2 3.8 7.5 2-.4 2-1.6 2-3.2 .6-4.3-2.6-2.8-4-.4zM1388.2 256.5l-6.3 5.1-.9 2 1.2 2.3 2 .4 2-1 4.9-3.7 1.4-2-.3-2.3-2-1.5zM1026.3 269.6l3.9-1.5 2 .3 2 1.7 .7 3.5-.7 3.5-3.6 6.5-2.4 6.6-2 .3-.8-2.9 1.8-6-.3-2-3.2-6 .3-2zM1608.8 311.6l3.4-1.6 2 0 20 3 6 2.2 7.7 4.4 5.7 4 6.6 6.5 6 2.4 0 12.6-7.1 2.5-6.9 5.7-6 .8-6 2.7-3.6-7.2-4.9-4-.5-2 5-3.7 3.1-10.3-.5-2-2.6-.9-12-.3-2 1.4-1 9.8 1 2.1 5 3.9 .3 2-3.8 4-8.7 6-.7 2 1.2 4-1.3 2.3-8 1.1-4-1.2-1.2-2.2-.1-4-.7-.6-2 .7-6 4.7-6 5.8-6 1.2-10 0-4-.9-8-3.5-8-6.4-1.6-3 .1-2 10.5-4 13-3.4 12 .6 12-1.8 2-.9 4.8-6.5 1.6-4-.6-2-5.8-1.1-1-2.9 .5-2zM1617.4 417.6l4.8 .1 8 3.6 10 1.5 26 .5 0 103.3-18-7.4-6 3.4-4-.4-4-6.5-2-1.5-10.5-.6-8.2-4-1.3-2 .5-4-1.7-4-2.8-1.8-4-.5-3.1-1.7-.9-2-.2-8-7.8-10.8-2-2.1-14.9-9.1-1.6-2-.5-2 .6-2 5.2-8 3.2-7.8 2-1.2 6 1.5 4 .1 6-2 3.9-4.6 2.8-8 3.3-6.1 2-2.2zM1554.1 463.6l4.1-1.5 2 .3 1.6 1.2-.3 4-3.2 2-4.1-.5-1.4-1.5-.2-2zM1301.5 479.6l2.7-1.6 2 .1 1.3 1.5 .3 2-1.3 2-4.3 1.2-2.6-1.2 .1-2zM1346.8 519.6l3.4 1 .8 1 0 2-.8 .7-6-.9-1.5 6.2-2.5 .9-4 .1-4.9-1-4.2-2-.9-1.6-1.3-.4 9.3-4 8-.2zM1093.6 535.6l4.6 0 10 5.3 4 1.2 10 4.7 2-.9 2 .2 20 15.9 14.8 13.6 3.8 4 5.4 9.3 4.3 2.7 3.3 4 7.2 10 8.5 14 4.7 5.2 9.8 14.8 6.2 6.6 12.8 17.4 3.6 6-.3 4-11.8 0-11.8-16-12.5-14.6-8-13.2-17.8-24.2-3.5-6-2-6-8.3-10-20.7-18-3.7-2.4-8.1-7.6-3.9-4.8-23.7-11.2-1.6-2zM1361 553.6l6.7 0 4.5 1.7 8.3 6.3 1.9 2-.2 .9-2-.2-8-3.5-4 .4-6 2.1-2-.9-1.2-4.8 .2-2zM1007.2 625.6l1-1.7 2 2 1 3.7-.7 4-2.3 1.8-1.8-1.8-.5-2 .3-4zM1140.3 637.6l3.9-.9 7 .9-7 2.1-2-.1zM1470.5 639.6l1.7-.9 2 .6 1.6 2.3 .3 4-1.9 3.6-2 .5-1.1-2.1zM1158.3 663.6l8.7 0 4.6 2-.9 2-6.5 .7-18-.6-2.1-2.1 6.1-1.5z"/>
<path fill="#0631B3" d="M1067.6 65.6l14.1 0 2.7 14-2 12 1.5 8 .7 14-1.2 4-3.2 3.1-2 .3-1.6-1.4-.4-6-4-11.6-2.4-4.4 1.3-6-.5-2-4.4-3.2-.8-2.8 .4-4 4.5-8-.1-2.3zM1400.9 253.6l9.3-.1 6 5.2 4 1.9 10-2.2 6-3.2 16 5.1 6 .5 6 1.8 8-2 10 2.8 8-3.6 4 1.1 2.7 2.7 3.3 5.2 12 3.9 4 2.4 1.8 2.5 .3 4-3.7 8-.9 6 .6 2 4.7 4 3.2 4.6 2 1.6 4 1.4 6 .1 2.9-1.7 5.1-6.5 2-1.4 2-.2 4 3.2 5.2 10.9 1.9 6-7.1 10-2.3 6-5.7 9.2-2 1.1-2-.2-8-3.3-6-.3-9 5.5-1.7 2 .4 6 2.2 4 2.1 1.7 5.8 2.3-2.7 6 .9 1.7 2 .2 6-2.7 2 1.1 .5 9.7 4.2 6 .5 2-1.2 4.7-8 .8-1.7 2.5 0 4 3.1 6-.8 6 2.4 10 5 7.7 8.9 .3-.9 2.4-4 2-2.9-.4-3.1-2.3-4 2.4-10-.5-3.6 2.4-.6 8-1.6 6-.2 6.5-1.6 5.5 3.6 5.6 0 3.3-4.4 11.1-9.6 3.1-2.6 2.9-.5 4 2.4 12 .3 10-2.3 4-2.6 8-4.7 4.8-10 5-8 1.1-8-2.2-.7 1.3-.2 18-2.1 8-.6 16-1.4 4 1.1 6 0 10-6.1 2.6-4 4.2-1.5 3.2-.5 6 3.4 10 .4 8-.9 2-2.9 1.2-12 0-12-6.1-8-1.5-6-2.2-13.1-1.4-4.1-2 1.1-4 .2-6 3.4-8 1.1-6-1.7-6-5.4-8-2.8-8 1.3-1.7 1.3-.3 8.7-.1 12-8.5 4 .1 4 4.4 1 .1 3-1.1 2-2.4 3.6-16.5-5.8-26 0-8 1.2-8 2.1-2 4.9-.4 4-1.5 6.9-8.1 8.4-4 2.5-4 2-10 .3-4-.9-4-2-4-5.2-6.8-2-4.1-.3-3.1 1.8-2 8.5-.9 8-7.3 4-.1 6 2 4-.1 16-4.4 4-2 3.7-3.2 4.7-10 5.1-8 2.2-8 .5-4-1.3-10 .1-10-1-3.1-2-1.7-8-.9-8 6.7-1.8 9 1.6 8-.8 10-1 2.5-2 1.3-4-.4-2-1.4-6-8-8-3.6-3.7 1.6-4.3 4.2-6-2-2.1 1.8-3.9 8.8-8-2.8-6-.5-6 2.3-.8 4.2-2 2-3.2 1.7-4-.1-8-2.4-6-.2-2.2-1-2.9-10-.5-4 .7-4-1.1-3.9-2 1-2 3.3-2 1-2-1.5-.6-5.9-2.2-4-9.2-3.9-2.6-2.1-.7-4 1-20-1.7-5.3-4-2-6.3-.7-7.7-4.8-9-1.2-9-2.8-8 .8-.2-2 2-10-.1-2-1.7-2.6-2-.3-10 1.3-9.6 3.6-1.7 2-1.5 4-7.2 5.6-2-.5-2-1.8-6-1.5-1.5-1.8 .3-2 4.5-4 1.1-2-.4-2.6-2-2.7-4-1.1-10-.4-2 .7-.8 2.1 .1 6-4 8 .4 8-1.7 3.5-2 .2-2-1.5-4-8.2-2.3-2-3.7-1.3-2 .5-7.7 6.8-2.3 3-2 1-2-.8-4.7-9.2-3.3-3.2-10 .3-8 2.4-10-.8-1.3-.7-1.9-4-4.8-4.5-8-2.3-2.8-5.2-9.2-9.7-2-.5-8 3.6-10-4.8-2-2.9-2-1.1-8 .1-9.2-4.7-4.8-1.3-10 1.5-2 2-3 5.8-.1 2 1.1 1.7 4 .2 6-5.3 2 .3 .9 1.1 .6 2-.6 4 1.1 .6 10 1.6 6-2 8 0 2 1.8-1.4 6 .7 2 5.8 8-3.7 4-7.4 4.2-1.2 1.8-1.3 6-1.5 1.9-6 1.3-6 2.8-6-.3-4 .8-6 3.5-2 3.9-2 1.5-8-3.2-11.9-.2-8.1-4.6-8-2.5-12-.9-7.7 4-2.3 .2-6-4.1-2 1.2-.6 6.7-1.1 2-2.3 2.1-4 1.4-6-3.6-10-1.2-4-2.2 1.4-8.5-1.4-3.5-2-.6-8 1.5-8-3.2 0-39.1 4-2.3 6-1.8 8 .8 6-.3 8 2.1 12-2.1 12-4.2 6-4.2 2-.5 12.4 1.4 1.6-1.1 2-5.7 2-1.7 2.9 .5 2.8 2 .9 2 0 6 1.7 2 1.7 .7 14 .6 10-.5 6-6.4 5.6-2.4 10.4 1.6 4-.2 12-4.6 6-1 8-3.6 4 .1 6 2.8 4-.4 3-2.7 1.1-4 1.9-2.5 2 .5 6 4.9 4 1.7 2-.9 6-10.2 2-1.3 8-2.3 2 .3 4 3 4-1.3 5.4 .1 2.7 2 1.9 4.3 2 2.2 6 .3 4-2 1.1-2.8-1.1-4.4-1.8-1.6 1.3-2 3.8-2 12.7-2.2 6-4.5 6 2.2 6-2 4 .7 4 2.2 3.5 5.6 2.5 2.2 4 1.2 12 1.4 10.8 5.2 7.2 1.1 3.1-1.1 2.5-2 .7-2-.5-2 10.2-2.9 4 .1 10 3.1 4-1.1 6-3.4 6 2.2 12.6-10 1.6-2 1.1-4zM1410.2 313.6l-2 .4-1.4 1.6 .1 2 1.3 .9 2 .4 2.5-1.3-.5-2zM1496.2 277.6l-1.1 6 1.1 1.1 4-2.4 .6-2.7-.6-2.4-2-1.6zM1414.2 577.3l-.9 .3-.7 2 7.6 8.2 4 1.8 2-.9 .9-3.1-1.5-4-5.4-3.8zM1460.2 528.6l-.9 1 .9 1.2 2 1.2 1.5-.4-1.2-2zM1008.2 317.1l-1.1 .5-.5 2 2.3 2 7.3 1.2 3.1-1.2-1.1-2.6zM1210.2 289.4l-4 2.2-8 2-2 1.4-1.2 2.6 1.2 3.3 2 .6 2-.4 8-4.7 6-1.4 4 1.6 2.7 5 1.3 1.3 2 .2 3.1-1.5 4.5-4-3.6-2.7-8-3.3-5.7-2zM1236.2 294.8l-3.8 2.8 .6 2 4.3 6 6.9 2.8 4.8-.8 1.3-2 0-2-2.6-6-5.5-3.6zM1260.2 291.1l-.8 2.5 .8 2.8 2 1.2 2-.7 2.5-3.3-.5-2.8-2-1-2 0zM1288.2 294.6l-1.2 1-.1 2 1.6 2 3.7 .9 4-.7 4 3.9 2.8-.1 3-4 0-2-1.8-1.8-2-.2-6 3.7-4-3.7zM1306.2 325.4l-1 2.2 3 1.6 1.1-1.6-1.1-1.7zM1374.2 287.4l-2.4 2.2 .7 4-.9 2-7.4 8 1.9 2 4.1-.8 4-2.4 3.3-6.8 2.7-2 .5-2-.5-2-2-1.9zM1234.2 329.6l-1.7 2 1.7 1.6 2-1.6zM1028.6 271.6l1.6-.8 2 .4 .7 2.4-.7 2.6-2 .6-1.2-1.2-1.1-2zM1244.8 271.6l3.4-.6 3.2 .6-3.2 3.2-2 .8-2.9-2zM1626.5 313.6l5.7 .4 5.9 1.6 13 8 9.1 8.1 6 2.4 0 7.5-2 .2-10 5.3-8-.6-4.2-2.9-1.2-2-.1-4 1.5-2 6 .3 1.1-2.3-.6-2-6.5-7.3-4-2.2-6-1-12 1.6-1.5 .9-.5 1.6 .2 6.4-2.1 4 0 2 4.9 8-.1 2-1.4 2-11.5 6.5-8-4.4-8 1.5-1.3-1.6-.3-2 3-2 4.6-.3 10.1-11.7-.1-6.2-3.4-5.8 0-2 1-2 2.4-2 8-3.6 4 .6zM1169.4 331.6l2.8-.4 8 1 3.6 1.4-7.6 5.6-4 4.2-2-.2-3.9-3.6-1.4-2-.3-2zM1286.8 349.6l9.4 .6 1.6 1.4-.7 2-2.9 3.1-4 .2-3.3-1.3-2.1-2-.1-2zM1564.4 349.6l5.8-1.2 4 .5 1.7 .7 2.3 4.8 4-1.4 4-.2 4 1.6 .5 3.2-4.5 7.7-2 1.5-4 .9-10-.6-12-7.7-2.3-1.8-1.1-2 .5-2 2.8-2zM1147.8 357.6l2.4-.8 1.1 2.8-1.1 2.6-2-.7-1.2-1.9zM1247.3 363.6l.9-.5 1 .5 .9 2-1.9 1.2-1.8-1.2zM1544 377.6l2.3 0 .8 2-.9 1.2-1.8-1.2zM1547.5 381.6l.7-.4 2 1.5 2 3.2-2 .4-1-.7zM1613.4 419.6l6.8-1.3 4 1.1 6 3.1 36 1.7 0 101.2-8.6-3.8-3-2-1.2-2-2.6-2-2.6-.1-2 .9-4 4-2 .5-2-1.2-2.4-4.1-3.6-2.6-8-.5-2.8-.9-3.2-5.2-2-.3-3.8-6.5-2.1-2-8.1-2.1-.9-1.9-.1-8-9-12.4-8.8-5.6-7.3-6-.8-2 .9-4 5.5-8 1.4-4 1.1-1.1 2 0 6 1.4 6-1.6 4-2.6 2.9-4.1 4.8-12zM1396.7 427.6l1.5-1.5 2.1 1.5-2.1 2.2-.7-.2zM1094.1 537.6l2.1-1.4 4.5 1.4 9.5 5.4 3.7 .6 6.3 3.6 6-.6 20 16 14.2 13 3.8 4 5.7 10 4.3 2.4 3 3.6 7.2 10 8.5 14 6.9 8 7.6 12 6.8 7.6 10 13.3 5.8 9.1-.2 4-10.6 0-12-16-13-15.3-7.5-12.7-17.8-24-3.4-6-1.8-6-8.3-10-25.2-21.1-8-7.5-4-5.3-8-4.4-10.4-3.7zM1361.5 555.6l4 0 1.8 2-1 2-4.1 1.9-1.4-1.9-.3-2zM1157.8 665.6l6.4-1.2 4 1.2-1.4 2-2.6 .1z"/>
<path fill="#0A8A46" d="M1072.2 65.6l7.7 0 .3 .9 2 15.1-2 6.2-2 3.1-2-1.4-4.8-9.9 2-8zM1076.1 93.6l2.1-1.3 3.2 5.3 .5 2-.9 6 1.2 8.3-2 0-4-7.4-2.2-8.9zM1405.7 257.6l2.5-1.3 2 .1 10 6.5 8-2.1 8-.8 3.6 1.6 1.2 4 1.2 .1 7.6-.1 6.4-2.8 8 1.5 8-.6 7.6 1.9 4.4 .1 2-.5 4-3.1 2-.2 2.3 1.7 2.5 6-5.5 16 .7 3.5 2 1.5 4 0 6-4.4 .9-2.6 .3-6 1.6-2 5.2 .7 2.1 1.3 1.2 2-.8 4-4.3 6 .1 4 1.7 8.9 1.7 3.1 .9 4 2.7 4 1.5 4 1.6 12-1 10-.9 2-2.4 2-6.6 2-2.5 2 .6 2 2.4 2.6 5.7 11.4 .2 2-2.1 8-1.8 1-2.9-1-5.1-11.3-2-1.8-2 .4-6.6 4.7-.3 2 5.4 6 1 4-5.4 6-.8 2-1.4 12 1.1 4 .1 8-1.1 3.2-2.7-1.2-4.8-8-6.5-1.4-6-2.5-2 .1-6 3.5-2-.1-3.1-1.6-.9-2.6-2-1.5-.6 6.1-1.9 4-1.5 2.3-2 1.5-2 .3-12-3.3-7.4-6.8-8.6-3-2 1.7-.8 3.3 10.7 14 .1 2-1.9 2-4.1-.1-4.2-1.9-9.8-6.5-1.2-3.5 2-6-2.8-8.7-2-2.5-2-.7-6 .9-6-3.5-8.9-3.5-1.2-2 .6-24-2.5-5-10-3.7-.8-1.3 .2-4-1.4-2.6-6 .3-4 2.9-4-.5-2.4-2.1-3.6-6.3-2-1.5-2.4-.2 .5-6-1.5-6 .2-4 3.1-8-1.6-2-6.3-1.9-4 .3-1.7 1.6-.1 2 1.9 4 .1 2-1.7 2-2.5 1.1-2 .1-6-2.5-4-.7-6 1.6-10 1-8-4-1.9 1.4-.5 2-1.6 1.2-2 .6-3.8-1.8-.3-2 2.1-2 4-.4 1.4-1.6-1.8-6 .4-2.2 2-.6 4 .6 6 5.8 2-.1 6-5.2 2-.8 6 .4 2-.7 4-6.3 2-1.6 4-.6 2 1.1 2 2.6 2-.9 3.5-5.5-.2-2-1.3-1-6-1.1-6-3.3-6 2.7-2-.5-3.6-4.8-1.2-4 4.8-1.9 4 1 4 3.8 2 .7 10 .1 14-3.5 2-4.3 2-2.1 4 .7 5.6 3.5 .6 2-6.2 2.7-1.3 1.3-1.4 4-3.6 4-1.4 8-3.4 8 .2 2 4.9 .4 6-2.3 2-.1 6 2.3 6-1.4 11.9-10.9 2.6-8 1.5-2 2-.7 1.5 .7 4 10-1.5 2.9-6 .1-1.6 1 0 2 1.1 2 2.5 .8 6-2.9 6 1.4 2-.3 .1-3-3.6-6-1.1-4-5-6 2.9-4-.6-2-6.7 .6-4-2.6-.9-2 1.1-4 3.1-4zM1408.2 306.7l-2 1.6-4.7 7.3-.4 4 3.1 4.4 2 .7 4-.8 2 .8 .6 .9 0 4 1.1 2 2.3 1.9 2 .6 2-.7 2.2-3.8-.2-4.7-6.6-9.3-3-8-2.4-1.1zM1472.2 375l-4 2.3-2.1 2.3-5.1 8 1.2 1.1 6 0 6.4-5.1 .3-4-.7-2.3zM1366.2 327.3l-.6 .3 .2 2 4.4 6.2 2 1 4-1.3 6 3.4 1.7-1.3 .5-6-2.2-4.5-4-1.4-4 1.3zM1285.6 265.6l2.6-1.4 4 .5 2 1.5 6.9 9.4 .6 2-3.1 8 .6 6-3 1.3-2.7-1.3-4.2-4-1.1-5.9-2 .8-4.8 11.1-3 10-.7 8-1 2-4.2 4-.2 4-1.6 2-.5 2 2.4 4 .6 4-4.5 4-.7 2-1.8 .4-6-3-8-2.6-4-.1-2.2 1.3-.5 2 2 4-3.3 3.8-2-.3-3.2-5.5 .4-2 2-2 0-2-3.2-5-4-2.1-4 1.1-2.7 2-.7 2 1.4 4.2-10.7 3.8-5 0-4.1-2-13.8-14-1.7-6 6.4-12 1.9-2 9-4.6 4-.4 2 .8 4 5.6 2 1.1 8-1.6 4.1 3.1 3.9 1.5 8 1.5 4.6-1 5.4-5.4 4-1.4 6-3.8 3.1-3.4 1.6-4-.7-4.8-2-1.4-8-1.6-1.5-2.2-.9-10 .8-2 6.4-2 11.2-1.9 6 2.2zM1264.2 309.1l2 9.8 2 1.4 2.1-4.7-4.1-5.5zM1217.7 277.6l4.5 .2 6 4.5 2 0 4-3.2 2 .1 6.8 8.4-1.2 2-7.6 1.6-21-5.6-1.8-2 .4-2 2.4-2.6zM1170 287.6l4.2-.4 4.2 2.4 3 4 2.4 6 4.8 4 .9 2 .2 4-1.5 3.5-2 1-2-.4-6-4.5-2-.5-6 2.7-2 0-3.5-1.8-3.4-4-3.1-1.8-4-.4-6 1.2-2.8-1-1.9-2-.7-2 1.8-2 13.6-5.9 6-.5zM1245.6 287.6l4.6-.8 3.6 .8 .8 2-.6 4-1.8 1.7-9.2-5.7zM1064.7 299.6l3.5-1.3 4 .1 12 4.1 10 2.1 12 .1 6 1.6 1.5 1.3-.4 8 .9 2 2 1.4 10 4.7 10-2.4 8.9 2.3 4.6 4 6.5 3.5 1.5 2.5 .1 2-1.6 2.4-9.1 3.6-1.3 2-.1 4-1.6 2-3.9 1.6-4 2.9-10 1.9-8 3.3-4 2.6-2-.5-4-2.9-8 2.9-2-1.2-2-3.3-2-1.3-6 .9-5.3-.9-4.2-2-.7-2 .2-5-2-.9-4 .8-12 4.8-1.6-1.7-6-2-4.4-3.4-8 5.1-1.6 2.3-2.4 6.6-2 1.4-2 .1-2-.5-2-1.9-1.4-9.7-.6-1.5-2-1.2-4-.6-8 3.6-8-2.4 0-17.5 6-1.7 12 1 2.3-1.7 1.3-4 0-2-5.6-4.5-9.4-1.5-1.4-2 1.3-2 3.5-.7 6 .6 8-.9 4 2.6 2 .1 26-9.2zM1072.2 320.9l-1.7 2.7 .3 2 1.4 1.7 2 .1 3.4-3.8-1.4-2.4-2-.8zM1088.2 323.2l-2 1.3-.6 3.1 .6 5.6 2 2.2 2-.6 2-1.7 2.3-3.5 0-2-2.2-4zM1545.2 303.6l3-.3 2 2.1 3.9 8.2 1 6-.6 2-2.3 3-7.2 5 .8 6-1.6 3.1-4 3.3-2-.5-4-2.7-4.3-1.2-1.3-2-.1-6 1.2-6 3.6-8 6.9-5.5zM1654.6 333.6l1.6-.9 2 .6 2.5 2.3-.3 2-2.2 3.8-2 1.2-2 .1-2.4-1.1zM1606.5 341.6l3.7-1.3 4 1 2.3 2.3 1 2-.1 2-1.9 2-5.3 2.1-4-.3-2.4-1.8-.7-2 1.4-4zM1564.3 351.6l4.3 0 3.1 2 2.9 6-.4 2.8-2 1.1-2-.1-10-6.3-1.1-1.5 .4-2zM1517.4 377.6l2.8-1.1 5.2 1.1 4.8 8.1-2 1.1-8-2.2-2-2zM1519.9 405.6l2.3 .5 2 2 6.7 17.5-.8 2-3.9 3.2-8 1.8-3.5 3-.4 8-1.8 6-.3 4.3-4.5 5.7 .5 4.2 2 3.5 3.1 .3 .9 2-2 1.2-2-1-2 1-2.4 4.8-.4 4-5.7 6-1.9 4-.9 6-2.9 2 .2 4 2.5 2 1.5 4 0 6-2.1 10-3.1 4-6.8 3.9-7.3 2.1-3.5 0-3.2-2-.5-2 4.5-1.2 4-2.4 3.6-4.4-.2-2-2.3-2-5.1-1.1-6-3 .9 6.1-.6 8-4.3-.1-8-2.7-2.3 2.8 1.7 4 4.6 4 1.2 2 .7 4-.1 12-1.6 8-1.1 14-1.1 2.5-3.4 1.5-1.4 2 .6 16-5.3 8-1.1 4 .1 6 2.9 8-1 8-1.4 1-5.6 1-6.4 .1-10-6.1-10-1.4-6-2.3-10-1.1-2-1.2-1.5-10 2.6-8 .5-8-1.4-4-4.8-8 .6-3.4 8 .3 10 4.8 2.4 2.3 3.6 6.6 2 1.3 6 .7 4-.5 2-1.5 1.6-2.6 .5-2-.7-2-4.2-4-6.2-8 .1-2 5.7-10 2.1-12-1.4-10-4.7-18 0-8 1-6 1.1-2 9.1-2.6 8-8.9 8-2.1 2.8-2.4 1.2-7 3.1-7-1.4-10-1.7-3.6-4-2.8-4-5.1-.9-2.5 .2-2 2.7-1.3 4-.1 4-1.2 6-6.2 4 0 8 3.3 4 .3 4-2.8 5.7-2 4.3-.5 4-1.9 5.7-5.6 3.7-10 5.6-8 3-8.9zM1410.2 600.9l-.9 2.7 .9 1 1.5-1 .8-2zM1616.2 419.6l6-.1 8 5 24 0 12 .8 0 89.8-6 .3-6-2-4-.4-10 3.2-8-4.4-8-1.2-1.1-1-.1-6-.8-1.6-2-.9-4-.1-6-5-6-1-1.6-1.4-.3-2 1-4-1.6-4-9.5-12.5-8-4.4-6.8-7.1-.2-2 1-2.7 2-2.3 2-.8 12 1.5 1.5-1.7-.1-6 8.1-6 2.4-4 4.9-12 1.3-2zM1630.2 429.4l-2.5 2.2-2.5 8-4.6 6-.4 4.4 2 4.6 4-2 2.5-3 .3-6 5.1-8 0-4-1.9-2.1zM1662 519.6l4.2 .8 0 1.9-2.9-.7zM1122.5 547.6l1.7-.6 2.7 .6 9.3 8.3 10 7.4 17.2 16.3 5.3 10 4.1 2 3.4 3.4 10 14.1 6.1 10.5 6.8 8 7.6 12 9.5 10.8 4.5 7.2 3.5 3.8 5.2 8.2-.2 4-9.4 0-16.8-22-8.8-10-6.7-12-18-24-3.5-6-1.5-6-1.3-2-7.1-8-33.9-29.3-1.4-2.7-.2-2z"/>
<path fill="#3FC213" d="M1076 75.6l.2-.9 2 .3 0 4-2-.7zM1409.3 259.6l2.9 .2 2.4 1.8 2.1 6 3.5 2.7 6-.3 6 1.5 16-1.6 2-.4 5-3.9 3-.9 14 1.2 8 1.5 12-.8 2 2.7-.1 2.3-4.4 14 .5 8.3 2 2.6 6 .5 6-1.1 2 .4 1.1 1.3 .8 2 .2 4-1.6 6 1.5 2.8 6 4.2 2 5.3 .6 5.7-4.2 12-8.3 6-4.1 5-2 .3-4-3.3-6-2.2-4-.4-4 1.2-6.3-.6-.2 2 6.5 2.7 6 6.8 6-.5 2.2 1-.4 2-1.8 .8-4 .1-2 3.1 2 5.4 7.8 6.6 .4 2-5 6-.3 6-2.1 6-4.2 4-4.6 .9-10-3.9-6 3.1-1.1-2.1 1.1-2.8 1.6-1.2 2.4-.8 6-4.2 6.5-1 2.3-2 .9-2-.6-2-3.6-4-.1-8-1.2-2-2.2-.8-4 .7-2 1.1-8.7 11-3.3 2-5.9 2-1.5 2 2.6 6-1.8 6 1 8-2.4 3.2-2 .7-4-.9-8-4.1-6-4.9-8-4.7-4-.5-6 2.9-2-1.2-3.1-4.5-2.9-1.9-8-1.1-11.7-3-2.4-2-.6-26-3.3-5.1-4.4-2.9-1.6-2-.3-2 .7-2 1.6-1.6 2-.6 6 2.2 10 .4 1.6-2.4 .2-2-.7-2-4-4-3-8-5.4-6-4.2-6-.5-2 1.8-4 2.2-1.5 2-.1 4.3 3.6 9.7 .6 1.2 1.4-3.8 6-.9 4 6.3 10 3.2 1.5 6 .3 2 2.1 0 8.3 2 .5 1.8-.7 6.3-4 3.5-4 1.6-4 .3-4-.7-4-7.7-10-1.1-10.1-2-1.8-4-.5-2-1.6-.4-2 1.3-4-.7-6-4.2-3.5-2-6.5-2-1.6-2-.4-6.9 0-2.3-2 1.1-4 2.1-2.2zM1442.2 281.3l-2 2.4 2 .7 .7-.8zM1392.2 373.3l-1.1 .3-.9 2 1.1 2 2.9 2.2 2 .2 .9-2.4-.9-1.8zM1264.6 269.6l5.6-.8 3.2 .8 1.3 2-.1 2-2.4 4.6-2 1-4 .3-2-.5-1.6-1.4-.9-4 .2-2zM1288.4 269.6l1.8-1.5 2 1.4 2.2 4.1-.2 2.5-4-2.8zM1169.2 289.6l3-.9 2 .5 2.5 2.4 .5 2-1 8.5-2 2.2-4 1.8-1.1-.5-.1-2 1.2-4-3.8-6 .7-2zM1342.1 295.6l2.1-1 2 2.4 .3 2.6-2 4-2.3 1.3-2.6-1.3-.4-2 1-3.3zM1064.5 301.6l3.7-1.2 6 .6 16 7.5 14-1.6 2 .4 2.5 2.3 .7 2-.2 8 1 2 8 1.4 6 3.3 2 .1 8-2.8 2.3 0 3.4 2 2.3 4.9 6 1 2.6 2.1-.9 2-13.7 5.8-3.2 2.2-1.6 2 0 2 2.1 2-1 2-4.3 0-6 2.9-8 1.6-2-.9-4-3.8-2-.2-4 1.2-6-2.7-6 .5-2-.6-1.4-2 .1-2 1.3-1.6 4-1.6 4.1-6.8 8.9-6 1.8-4 .1-2-.9-1.1-12-5.8-2 0-6 2.5-4-.1-8-2.8-6 0-4-3.1-2-.5-2 1.2-.6 1.7-.3 4-1.8 6 .3 8-1.7 2-7.9 2.8-8 1.6-12.9-6.4-.4-2 3.7-8 7.6-5.7 4-5.5 12.4-6.8zM1208.8 301.6l5.4-.5 6 6.7 8 1.4 6 2.2 14 1 8-2.3 2 .3 3.7 3.2 .9 4-.5 4-3.5 8-.6 .9-2 .1-6-2.7-6 .6-10-4.3-12 4.1-3.2 3.3 .4 4-3.2 1.7-1.8-1.7-.3-2-7.9-1.6-2.4-2.4-1.9-4-3.2-4-1.4-4 1-4 4.6-8zM1545.7 307.6l2.5-1 2 1.7 1.8 3.3 1.2 6-.8 4-2.2 1.8-6-.3-2 1.2-4 8.1-2 .6-2-.9-1.3-2.5 .6-4zM1358.1 311.6l2.1 .3 4 4.7 1.9 1 .6 2-2.5 .6-6-1.5-3.3 2.9-1.1 2-.1 2 2.7 2 3.8 5.1 4 1.8 1 1.1 .2 2-3.2 1.9-8 1.7-4-6-2.2-7.6-3.5-4-.3-4 2-3.8 2-1.3 6-1.1zM1004.2 331.6l8-.8 4 1.9 .6 .9-.7 4-3 6-2.9 .9-6-2.4zM1607.8 345.6l2.4-1.2 2.3 1.2-2.3 2.1-2-.2zM1031.4 349.6l.8-.9 1.8 .9 .2 2-2 2.5-1.3-2.5zM1518.5 415.6l1.7-1.1 4 2.5 2.6 4.6-.3 4-3.9 4-8.4 3.1-4 0-1-3.1 1-4.8 2-3.2zM1614.2 421.6l4-1 4 .4 3.1 2.6 .9 2-.1 2-3.7 10-5 8-1.2 8.4-2 1.9-6-4.2-1.7 1.9 .8 2 2.4 2 4.5 .3 4 2.7 2 .2 2-1 6-5 5.6-3.2 .5-2-.7-6 3-8 .5-4-.6-4 1.7-1.6 4-.6 12 .1 6 1.5 6 .2 0 85-6 0-8-1.8-12 3-2-.3-11.8-5.5 .1-2 2-4-2.8-2-3.5-1.1-6-.7-9-6.2 1.1-4-.8-2-5.3-3.8-3.9-4.2-6.1-10.7-6-1-2-2.3 .8-2 3.2-1.1 2 0 4 2.8 2-.9 7.2-12.8-2.4-4 5.6-8 3.6-10.2 2-3.8zM1632.2 464.9l-7.1 8.7 0 2 1.1 .8 2 .7 4-.5 2.1-1 1.3-2 1.3-6-.7-2-2-1zM1467.1 445.6l1.3 0-.8 2 1.8 2 12.8 2.6 6-.9 4 3.7 2 .7 3.6-2.1 2.4-7.2 2-1.2 4 .9 1.9 1.5 .5 2-.8 4-2.1 4 .7 10-5 14-5.2 8.2-4.4 3.8-1 2-.6 6.8 .4 1.2 4.4 4 1 4-3.8 12.6-2 1.3-2.1 .1 .9-4-4.8-7.1-6-2-6-4-4-.5-2 .6-1.9 3 .1 4 2.2 4 .3 2-.7 1.1-2 .4-6-2-2 1.3-2.1 3.2-.4 2 1.7 4 4.8 4.3 2.3 3.7 0 14-1.1 6-.2 8-1 6-1.4 2-4.6 3.2-1 2.8 .9 16-4.3 8-.9 4 0 6 1.8 6 .1 4-.6 1.6-2.7 2.4-4.2 2-3.1 .5-2.2-.5-4.7-6-3.1-1.2-10 .6-8-3.1-8.4-.3-1.3-2 .2-4 1.5-4.4 8-1.2 6-8.7 2-1.1 10-1.6 4-1.7 2.7-3.3 1.9-4 .4-2-.7-2-6.3-4.7-3.7-5.3 .4-4 7-14-2.2-16-2.3-10-3.4-8 .2-8.1 2-5.8 10-4.6 6.5-7.5 1.5-.5 2.6 .5 2 4 3.4 1.3 3.5-1.3 4.5-4.3 6.3-1.7-.4-4-1.9-3.4-1.1-.6 .8-6-2.7-10 .2-6-3.9-4-7.3-4.1-2.9-3.9 1.7-2 5.2-.3 4.5-1.7 3-2zM1422.2 609l-.9 2.6 .9 1.5 2 .1 1.4-1.6 .4-2-1.8-1.5zM1123.9 547.6l2.3 .2 26 21.5 10.5 10.3 3.6 8 .1 2 1.8 2 3.1 0 3.1 2 11.5 16 5.7 10 5.4 6 9.2 14.2 10.3 11.8 3.5 6 6.5 8 2.4 4-.2 4-8.2 0-1.8-2-15-20-8.8-10-6.7-12-18-23.7-4.3-8.3-.8-6-1.7-2-3.2-1.9-4-4.8-4-2.8-29.9-26.5-.9-4zM1399.9 585.6l6.3-.2 6 1.6 2.6 2.6-.1 4-2.5 1.5-6 1.1-2-1.9z"/>
<path fill="#AEE30C" d="M1395.8 267.6l4.4-1.2 2 .1 1.4 1.1-1.4 3-6 1.9-2.9-.9 .1-2zM1456.1 267.6l4.1-1.1 10 1 6 1.6 12 .2 2 .5 1.4 1.8-.7 6-2.8 8-1.6 10-1.7 4 1.9 2 4.9 2 2.1 2 1.6 6-.1 2-2.7 6 .2 2 1.5 2.2 6-1.1 2 1.9 5.1 11 .3 4-1.4 2.1-6 3.4-2 .2-16-5.5-10 1.8-4 2-1 2 .7 4 2.3 2.6 5.4 3.4 1.2 2-.2 4-2.7 2-14.2 6-.1 4-.9 2-14.5 6.9-7.2 9.1-1.4 4-1.4 1.3-14-5.6-8 .7-2-.7-9.4-5.7 .9-8-1.5-4.5-2-2.8-8-3.1-2.9 .4-3.1 1.9-1.2-11.9-3.8-8-.2-2 5.2-.7 8 1.9 4 0 1.5-1.2 .7-2 .2-6 1.6-1.9 2-.2 2 .5 1.5 1.6-1.4 6 .6 2 3.3 1.4 6-.3 4-2 10-8 5.6-3.1 .2-2-1.1-2-2.7-3.2-3.3-6.8-6.2-8-.4-12-4.7-6-2.6-12-4.1-4-.7-2 1.8-2 4.2-1.2 4 .7 8-1.4 4 1.1 6-.2 1.8 1-1.8 8 1 8 1 2.6 2 0 8-11.4 5.3-5.2 .5-6zM1418.2 353.3l-2.1 8.3 1.5 2 2.6 .2 2.3-2.2 .2-4-2.5-4.8zM1426.2 372.3l-2.9 3.3-.7 4 1.6 3.3 2 1.2 2 0 3.8-2.5 1-2-2.8-4.7-2-2zM1210 303.6l2.2-.3 2 .9 4 5.1 8 1.7 8 3.6 8-.7 8 .8 6-1.5 2 .4 1.8 2-.1 4-1.7 2.1-2 .7-6 .1-6 1.6-4-.5-6-2.2-12 3.9-6 3.4-8 .9-2-1.6-5.3-8.4-.8-4 6.1-9.3zM1064.8 305.6l3.4-1.5 3.1 1.5 .5 4-.9 2-2.7-.5-1.9-1.5-1.9-2zM1077 309.6l1.2-1.5 2 .5 4 3 .8 2-.8 1.1-2 .3-2-.8-2.9-2.6zM1050.1 311.6l4.1-1.5 2 1.9 .9 7.6-2.7 8-.4 4-2.3 2-5.5 2.1-4-.5-3.8-1.6-4.2-4-.1-4 1.8-2 4.3-2.1 4.2-5.9zM1101.3 311.6l2.9-.1 0 2.8-3.2-.7zM1546 311.6l2.2-1.5 2 1.4 .6 4.1-.6 2.2-2 .3-2-1.6-.8-2.9zM1115.1 325.6l3.1 .4 6 3.4 6-.6 2.4 .8-.9 8-2.6 4-4.9 4.5-2 .7-2-.4-6.7-6.8-2.3-4-.5-2 .7-4 .8-2zM1100.1 339.6l2.1-1.4 1.9 1.4 2.2 4 .1 2-2.4 0-3.3-4zM1477.9 395.6l2.3-1.5 2 .1 .9 1.4-2.9 1.7zM1516 421.6l4.2-.8 2 .5 .8 2.3-2.3 4-4.2 2-2.3 .1-2-1.1-.3-3 2.3-3zM1615.2 423.6l3-.8 3.3 .8 .8 2-.3 2-1.8 5.1-2 2.3-6 2-1.6-1.4 .4-4 1.2-4.1zM1641.2 427.6l3-.5 10.5 .5 11.5 5.9 0 75.3-6.3-1.2 .1-4-2.6-2-10.2-4-3-.4-2.5 .4-2.8 2 .6 2 2.7 2.2 6 .2 1.7 1.6-.6 2-5.1 2.7-6 .3-2-1-1.6-2-.4-2 1.5-4 0-2-19.5-6.9-2-1.1-.7-2 .7-2.8 4-.4 4.9-4.8 9.1-1.8 4-2 2-2.7 2.1-5.5 7.3-10-.1-2-4.5-8 0-6-2.8-.2-.9-1.8 .7-12zM1460.2 453.6l6-.8 20 3.3 4 2.7 2 .5 4-1.1 6-3 2.2 8.4-.4 6-5.8 14-4 4.8-4 1.5-2.3 1.7-2.2 14-1.5 1.4-4-.8-3.2-2.6-1.1-2-.5-6-2.8-8 1.6-6.2 6-1.7 .3-2.1-6.6-8-3-6-6.7-3.9-4.7-4.1zM1603.4 463.6l.8-1.3 2 .2 1.7 1.1 1 2-1.3 2-.3 2 5.6 8-1 2-3.7 1.2-4-.4-2-1.3-2.6-3.5-1.6-4 0-2zM1445.4 503.6l.8-.7 2 .4 6 3.9 4.2 .4 1.8 2-2.4 6-6.3 8-1.1 4 2.1 4 6.9 6 1.6 4-1.3 6 .8 6-.9 6 .6 8.3-2 4.8-4.1 2.9-2.6 4-.2 4 1.5 12-.2 2-3.1 6-1.2 4 .3 16-2.4 2.8-4 1.9-2-.6-5.1-4.1-10.2-4 .2-2 3.5-6-.3-8 1.5-2 6.5-4 5.5-8 1.6-4-1.2-2.8-6-1.6-4.3-3.6-1.5-4 1-4 2.8-5.1 2-1.5 6.7-1.4 6.6-4-.6-2-4.7-3-2.8-3-4-12 1.2-4 6.5-8-.7-2-2.2-2.4-2-.9-6-.6-1.3 1.9-.7 3.2-1.5-1.2 1.4-4-.6-4 .6-2 4.3-4zM1489 509.6l3.2 .9 .5 1.1-.5 2.9-2 .6-1.6-1.5-.7-2zM1122.3 549.6l1.9-1.1 2 .4 26 21.4 10 10.2 1.2 3.1-.2 2-1 1.2-2-.8-25-22.4-3.3-2-9.7-9.6zM1167 593.6l3.2-1.4 2 .6 4 4 9.1 12.8 5.5 10 5.6 6 9.8 15.3 9.5 10.7 3.5 6 6.5 8 2.6 4-.3 4-6.7 0-1.1-.8-15.8-21.2-8.8-10-6.6-12-18.4-24-4.4-9.4z"/>
<path fill="#FFDC00" d="M1459.3 269.6l9.7 0 3.9 2 1.3 1.5 2 .4 4-2.3 6-.2 2 .8 1.2 1.8-.5 6-4.7 11.7-5 4.3-.8 4 1.8 3.6 6 2 2.7 2.4 1 4-.9 6 .1 8-2.9 3.6-4 1.1-4-1.6-6-6.3-10.4 3.2-.3 2 2.7 3.8 6.8 4.2-1 2-3.8 3.1-1.8 2.9-1.8 12 .4 6-2.8 1.6-4 .4-2 1.5-1.9 8.5-2.1 2.2-4 1.3-12-3.4-1.8-2.1-1.5-4-3.4-4 1.5-12 1.2-1.5 8-1.2 6 1.3 2-.9 .5-3.7-2.3-6-17.4-22-1.8-4 1-2 2-.8 4-.1 10-10.5 7.8-2.6 .6-2-1.6-6 1.2-3.6 2-1.7 8-2.8 2.2-1.9 .7-2-.9-3.9-2.6-2.1zM1427.3 281.6l.9-.8 2 .1 2 2 1 4.7-.5 4-2.5 2.6-6 2-2-.1-3.3-2.5-.8-2 .1-2.5 1.4-1.5 4.6-2.1zM1216.8 313.6l3.4-1.2 4 .1 5 3.1 .7 2-1.1 2-2.6 1.7-10.8 4.3-3.2 .8-3.2-.8-5-8 .2-2.2 4-1.7 2.7 3.9 1.3 .9 2 0zM1048.7 315.6l3.5-1.1 2 1.4 .7 1.7-.7 4.6-2 2.2-2 .6-3.1-1.4-1.3-2 .9-4zM1496.2 329.6l2-1.6 2 .9 4 6.7 .3 4-2.3 1.9-3.3 .1-2.3-2-.9-8zM1117.6 333.6l.6-.7 8 1.3 1.2 1.4 .2 2-1.9 4-3.5 1.7-2-1.1-2.5-4.6zM1385.7 353.6l2.5-1.3 6.2 1.3 2.5 2 .7 2-.5 2-2.9 3.2-2 .5-4-.9-2.2-2.8zM1404.1 355.6l4.1-1.1 1.8 1.1 .7 4-1.4 2-3.1 .6-3.5-2.6 0-2zM1411.9 369.6l6.3 .1 1.5 1.9-.2 2-5 12-2.3 2-2 0-4-2.2-1.3-1.8 .1-2 3.5-6 1-4zM1654.3 439.6l1.9-1.3 2 .1 8 9.6 0 49.6-10-.6-6-4.3-14 2.5-9.2-1.6-2.6-2-.7-2 1.4-4 9.1-3.5 4-2.7 4-8.6 10.7-11.2-.5-2-3.8-4-1.1-4 .8-2 4.2-4zM1477.6 461.6l2.6-1 2 .7 8 8.1 2 1.1 2.2-.9 .6-6 1.2-1.3 2-1.3 2.6 .6 1 2 .1 4-2.6 6-1.9 8-3.2 3.5-4 .5-3.2-2-1.7-8-5.1-5-3.2-5zM1446.1 509.6l2.1-.1 4 3.3 .6 2.8-1.5 2-1.1 .5-2-1.3-2.5-5.2zM1445.3 533.6l1 0 1.7 2-1.8 1.2-2-.2-.8-1 .8-1.8zM1124.1 549.6l2.4 2-.3 1.3-2.3-1.3zM1127.4 553.6l2.8 .5 2 1.4 18 14.1 8.3 8 1.5 2 .2 2.9-2-.3-4-2.2-10-9.6-4.2-2.8-3.8-5.1-4.6-2.9zM1451.7 561.6l4.5 0 2 1.7 .4 4.3-2.4 3.2-4.4 2.8-3.6 5.8-2 .5-4-1.1-4 0-4-1.6-1.9-3.6 2-6 1.9-1.6 6-.6zM1447.7 587.6l.5-.7 2 3.5 .7 7.2-3.9 8-.8 14.8-2 2.9-2 .7-12-4.4-1.7-2 3.7-13.7 6.2-4.3 4-6zM1168.4 593.6l3.8 0 8.4 10 10.5 18 7.1 7.5 7.6 12.5 6.4 6.6 7.3 11.4 2.7 2.4 5 7.6 .6 2-.7 2-5 0-1.9-1.4-15-20.6-9-10.1-6.3-11.9-18.6-24-3.7-8-.3-2z"/>
<path fill="#FF7300" d="M1482.2 273.6l2-.4 2 .8 1 3.6-1 3.4-2 2.1-2 .5-1.2-6 .1-2zM1466.7 281.6l1.5-1.8 2-.2 8.7 4 1.8 2-4.5 8-1.4 8-.2 6-1.9 6-8.5 1.2-2.8 2.8-6.2 4-.8 2 .1 2 1.1 2 6 6 1 4-2.4 3-6 1.2-2-1-3.8-5.2-4.2-3.5-1.6-2.5-2-4 .2-6-2.7-4-.8-4 1.3-2 5.7-4 7.9-2.3 1.5-1.7 1.3-4-1.7-8 .8-2 8.1-2.5zM1481.7 307.6l2.5 .1 1.9 1.9 .1 1.5-1.6 4.5-.1 8-2.3 1.4-2-.6-1.5-2.8 .8-4-.4-8zM1222.1 315.6l2.1 1.1 .2 .9-2.2 .7-.9-.7zM1453 349.6l1.2-1.7 2-.1 1.5 1.8-.4 2-1.1 1.3-2 .1-1.3-1.4zM1437.3 353.6l2.9 .1 2.7 1.9 2.1 6 3.5 4 1.4 4-.3 2-1.4 1.7-2 .5-2-.6-6-3.6-1.2-2-3.7-8 1-4zM1656.1 447.6l3.5 0 1.7 2-.1 2-3 2.6-4-.5-2.3-2.1 .6-2zM1652 465.6l2.2-.8 2 .5 4 7.4 6 1.6 0 18.5-6 .9-2-1.5 0-.8 5-3.8 0-2-1.7-4-3.3-4-2-.4-2 .8-4 7-2 1.6-4 .4-1.1-1.4-1.4-6 1.3-6 1.2-2zM1490.8 477.6l1.4-.6 2 .7 .6 1.9-.6 1.4-2.4 .6-1.7-2zM1435.4 571.6l.8-1.3 2 0 1.3 1.3 .5 2-1.8 1.4-2-.3-.9-1.1zM1170 595.6l2.2-.3 2 1.6 6 7.2 4 6.2 2.5 7.3 3.5 5.9 4 2.5 4 4.6 6.1 11 9.9 10.5 2.5 7.5 3.5 2.4 6 8.1 .4 1.5-1 2-1.9 0-3.5-2-.8-2-5.2-6-8.2-12-9.8-11.2-8-14.8-16.2-20-2-4-.9-4zM1435.8 605.6l2.4-.5 4 .8 2 1 1.4 2.7 0 6-1.4 3.4-2 1.8-4 .2-3.9-1.4-2.8-2 .3-4 2.4-6.3z"/>
<path fill="#FF0000" d="M1470 285.6l2.2 .1 1.9 1.9-1 8-.9 2.9-2 2.4-4 .9-4.6-2.2-1.3-2 .2-2 1.7-3.1zM1646.1 473.6l2.1-.8 2 .8-2 4.8-2 .3-.8-1.1-.2-2zM1171.9 599.6l2.3-.4 6 6.6 2.3 3.8 1.3 4-.3 2-1.3 .9-8.9-10.9-1.8-4zM1437 611.6l3.2-1.1 2 .2 1.1 .9 .6 2-1.8 4-1.9 1-4.5-1-1.4-2 .8-2zM1190.9 627.6l2.1 0 1.1 2 2.1 1.1 2 2.3 4.7 8.6 .4 2 3.9 4 .5 2 2.5 .5 2 1.9 .6 1.6-.6 2 8.3 12 .4 2-.7 .5-4-5-3-5.5-5.4-6-4.9-8-6.3-6z"/>
</g>
<g clip-path="url(#cpc)">
<path fill="#F4FBEC" d="M104 808.9l598.6 0 2.3 18 1.7 8 1.4 3 2 1.8 4 1 4-1.4 2-1.5 6-7.4 4-.4 10 1.7 4-.9 1.6-1.9 1.4-8 3.4-8 .2-4 47.4 0 0 31.6-16.2 8.4-1.7 2 .6 2 3.3 2.5 14 2.7 0 572.8-293.9 0 5.1-12-.1-4-3.1-4.7-13.6-11.3-1.7-4 1.3-.9 4 .2 10 4.6 4-.5 2-1.4 6.9-8 6.4-12 10.7-8.1 6-14.4 10.7-11.5 .5-4-6.5-8-6.4-12-.8-4 5-18 1.9-22 4.7-10 2-10 2.8-4 8-4 1.9-2 1.7-4 .7-6-1.4-6-2.8-4-4-2.1-6 .3-2-.9-5.1-7.3-4-4-6.9-5.2-8.1-4.8-4.6-4-2.8-6-1.5-12-1.9-4-3.1-3.7-12-8.5-6-2.7-4-.6-6 .5-4 1.4-8.5 9.6-19.5 11.2-4 .2-8-2.1-4 .2-16 3.3-6 3.4-2 2.2-2 3.9-3.1 19.7 .2 12 2.4 12 .2 12-6.1 10-3.6 12-3.7 4-8.3 5.9-9.8 10.1-8.2 5.1-4 .7-2-.5-6-6.5-4-2.4-2-.6-2 .4-1.5 1.8-.7 2 .2 4 2.7 6 1.3 6.5 16 14.7 3.6 4.8 1.4 4-2.3 12-1.5 4-1.5 2-7.7 4.5-10 8-2.7 5.5-1.3 8 .4 6 1.3 4 6.3 10 5.8 6 4.2 3.2 8 4.4 1.9 2.4 .6 6-2.8 14-269.7 0 0-23.8 1.5-2.2-1.5-5.6zM160 1340.1l-8.6 8.8-9.4 5.5-2 2.5-1.5 6-.8 8 .7 6 2.4 8 1.2 1.1 6 1.7 6 2.9 8 6.3 15 8 13 5.1 4 1 4-.1 6-1.7 4-2.2 4.4-4.1 2.2-4 .3-2-1.7-6-3.4-6-9.6-12-10.4-10-5.8-8.8-12.4-7.2-7.6-6.8-2-.5zM322 862.3l-12 8.3-6.1 6.3-5.9 4.3-4 4.3-2.7 5.4-5.5 16-.8 4 .9 4 3.3 4 4.8 3.2 16 3.6 5.6-.8 6.4-5.1 2-1 2 .1 4 3.8 2.4 4.2 2.9 18 .7 2.1 2 1.3 18-2.6 4-1.3 14-11.1 7.8-4.4 2.2-2.6 2.7-5.4 1.8-6 .1-6-1.2-4-5.4-9-2-1.5-4-.2-10 2.4-4-.4-4-1.9-10.5-9.4-5.5-8.1-7.6-7.9-3.5-6-4.9-1.3zM440 880.7l-12.5 4.2-13.5 6.8-1.8 3.2-.1 2 1.2 4 1.4 2 5.3 4 4 .8 2-.2 10-4.3 4-.4 8 .5 2-.4 2.9-2 1.3-2 .7-4-.5-4-1.8-4-6.6-5-2.3-1zM618 848.6l-4 1.8-4 3.5-4 4.7-4 6.6-4 4.2-6 2.8-12 .1-4 .8-2.8 1.8-5.2 6.4-5.1 3.6-1.9 2-.2 2 2.4 4 4.8 5.6 4 2.7 4 1.3 10 .8 4-1.3 14-9.8 4-1.4 4 0 14 9.4 3.3 4.7 4.7 10 2 2.1 2 1 4-.3 14-6.1 1.5-4.7 1.7-2 14.8-.5 5.8 2.5 8.2 9.1 8 4.7 14 4.1 4 .5 2-.8 .9-1.6 1-8 2.5-10 .3-6-.7-4.3-1.7-3.7-5.2-6-9.1-6.3-4-3.7-2.6-4-3.4-8.7-4-1.8-4 .3-12 5.3-5 4.9-1.5 4-1.6 8-1.9 1.7-4 .1-2-1-1.8-2.8-.1-2 1.3-6-.4-4-5-6.6-4-2.3-10-3.6-10.3-7.5-3.7-1zM752 838.5l-12 7.5-8 2.8-2 3.1 .5 3 2.1 2 5.4 2.6 1.3 1.4 2.3 6 2.4 1.4 8-1.8 12 1.8 6.1-1.4 4-4 3.6-12-.3-2-2.1-4-2.4-2-10.9-3.2-6-1.3zM350 1190.1l-12 7.1-2 2.1-1.5 3.6-.4 4 .8 6 2.7 8 2.4 11.2 2 .6 4-1.5 4-3.9 9.7-14.4 3.1-10 0-6-2.8-5.9-4-2zM564 1202.5l-2 1.7-.8 2.7 .8 2.4 2 .9 2.2-1.3 1.4-4-1.6-2.5zM694 1254.4l-2.3 2.5-4 12-7.7 14.5-4.2 11.5-.3 4 .5 2.6 2 3.3 4 2.8 2 0 3-2.7 5.7-12 8.5-10 2.4-6 .2-6-1.8-8.8-1.8-5.2-2.2-2.5-2-.5zM485.8 1328.9l6.2 .2 2.5 1.8 1.4 4-.7 4-3.2 7.3-2 2.6-2 .7-4 0-4-1.1-2-2.1-.9-3.4-.2-4 1-4 3.6-4zM405.1 1386.9l2.9-1.1 6 1.3 12 6.2 7.1 1.6 2.1 2 .5 6-2.7 6-.8 4 1.3 4 4.2 8 .9 6-37.4 0-.3-4-3.4-10-.3-4 .9-4 5.2-10 .7-9.9zM476.3 1386.9l3.7-.4 4 1.5 2.1 2.9-.9 2-9.2 6.3-4 1.3-2-.5-2.3-3.1 .8-4 3.8-4z"/>
<path fill="#DFF2D8" d="M104 808.9l535.4 0 2.6 3.9 2 .7 2-.6 1.6-4 11 0-6.7 8-.6 2 .2 8-.6 2-1.9 2-9 3.7-24-.2-6 1.8-6 5.5-8 13.2-3.7 4-4.3 2.4-6 2-16 1.1-8 2.6-2.4 1.9-12.6 14-3 6.8-2 2.7-4 1.5-2-.3-8-4.2-10-2-3.7-2.5-1-4 4.7-8.3-2-.4-3.6 .7-6.4 3.1-4 .9-4-.5-6-2.2-12-2.1-10 3.2-4-1.5-16-9.2-6-.5-10 2.7-4-.4-2-1.9-4-8.3-4-3.2-8-1.1-8 1.6-2-.4-6-5.4-4-.9-6.3 2.1-2.3 2-2.3 4-.7 6 1.5 12-.5 4-.9 2-2.6 2-5.9 .4-4-1.5-8-4.5-2.8-2.4-2.5-4-2-8 .3-4 2.3-10-1.3-3.1-6-3.6-12-3.7-16 2.2-4 1.6-9.1 6.6-5.3 8-5.6 3.2-6 1.4-10-3.1-2 .9-.7 3.6 .2 8 4 14 1.1 6 0 6-1 4-1.6 2.8-2 1.6-4 1.1-10 .8-3.9 1.7-2.1 2-8.3 14-16.6 14-1.7 4-.1 2 1.6 4 10.8 10 4.3 1.7 4 0 4-1.7 2.5-2 7.5-10.1 10-5.3 8-6.5 2-.4 10 6.3 12 3.8 12 6.3 4 3.2 7.3 8.7 4.7 3.3 18 5.5 12-1.1 12 5.4 6 1.6 6-.3 12-2 14 2.1 4 .1 6-2.1 6.9-4.5 3.6-4 1.9-8 1.6-2.6 10 .3 3.2-1.7 1.5-2 3-20-.5-2-3.7-6 0-4 2.5-2.5 6-1.3 8 1.2 14-1.1 10 .2 4 .9 4 2.4 2.3 4.2 .3 4-.8 6-1.8 5.1-2 2.7-6.6 4.2-3.4 4-.8 4 2.2 6 5.7 8 5.3 4 5.6 .9 14-1.5 10 4.2 4 .2 3.5-1.8 6.5-5.7 9.4-4.3 .6-1.2 8 2.7 4-.4 8-7.4 6-3.3 4 .4 8 2.7 3.3-1.5 1.3-2 .1-2-2.1-6-.6-4 1.5-10 8.3-20 2.2-2.5 4-1.2 4 1.5 2 1.8 6.2 8.4 4.2 4 9.6 7.1 10 5.9 2 3 3.2 10 2.8 5.3 6 6.5 4.5 6.2 9 8 4.5 2.4 4 .8 10 0 6-1 4-2.2 1.7-2 2.3-8.5 7.7-7.5 5-8 9.3-5.4 8-9.1 8.1-3.5 .4-2-.8-2-1.7-2-8-5-1.9-5 .1-10 1-6 1.6-4 3.2-4.6 13.3-11.4 4.7-2.5 28-1.2 16-1.6 0 557.3-281.2 0 2.8-12 .7-12 2.1-6 10.5-16 7.1-8.5 2-3.7 4.3-11.8 2.2-4 9.6-10 3.6-6 .5-4-.6-2-1.6-2.4-6.2-5.6-3.7-6-1.6-6 .4-8 3.9-14 8.6-14 2.4-12 1.5-4 8.7-10 9.5-22 .1-4-2.2-6-.5-4 2.2-10-1.1-14.1 3.3-9.9-1.5-4-3.8-2.5-4-.7-10 .4-4.3 .8-4.5 2-2.6 2-6.6 7.4-2 1-4 .6-4-.7-4-1.9-2.5-2.4-1.5-2.4-5.3-13.6-4.6-6-12.1-8.7-16-5.7-6-.1-28 3.1-2.7 1.4-1.7 2-1.8 6-1.8 2.7-10 2.2-10 5.6-12 3.3-4 3-5.1 7.2-2.8 8-3.6 28-4 18 0 12-4.5 10.4-4 3.4-2 .5-4-.7-16-9.8-4.8-3.8-4.1-6-.6-4 1.8-12 1.7-4.5 6.6-9.5 1.3-6 .3-6-1.1-8-3.1-7.3-4-4.3-4-1.4-4 0-10 1.7-9.8 3.3-4.2 2.3-2.7 3.7-2 6-1 14-2.2 10-1.6 12-7.2 16-2.2 2-3.1 .9-6-.2-8-2.2-2 .2-2 2.3-2.4 7 .3 6 3.5 4 8.6 5.2 2 2.8 .4 2-1.9 14 .3 12 1 6 3.5 10 2.3 4 6.5 6 3 4 .3 2-.9 6 1.1 4 10.4 5.8 2.6 2.2 2.5 4 2.6 6 .5 4-.5 2-3.6 6-1.2 4 .6 4 6.5 12.5 16 13.1 4 4.4 2.3 4 3.8 10-99.6 0-6.5-8.5-10-5.1-4 .1-6 3-4 .9-2.7-2.4-1.1-4 1-4 2.8-2.3 4 .3 8 4 8.7 0 1.3 1.6 2 6 4-.8 1.4-2.8-.8-2-3.4-4 0-10-2.9-10 2.1-10-.5-8-2.7-6-6.8-8-4.4-3-6-1.8-4 .1-8 2.5-4-.5-5.6-5.3-4.7-8-3.7-3.9-4-1.5-12-.5-6-2.4-6-4.8-6.8-6.9-2.6-4-2.6-6-2-1.7-10-2.8-12-5.9-6-1.4-6-.3-4 1.4-8 6-4 1.9-4 0-8-1.6 0-67.6 20-1 2.3-1 .9-2-1.2-3.9-1.8-2.1-6.2-3.9-6-.3-8 2.9zM246 826.5l-2 .7-1.8 1.7-2.2 3.3-6 12.8-3.5 9.9-2.4 4-6.1 4.8-11.1 5.2-2.9 3.3-.7 2.7 1.2 4 3.6 4 5.9 3.7 6.4 2.3 5.6 1 6-1 4.1-2 3.9-3.8 5.1-8.2 6.9-8 1.3-2 2.7-8 4-3.2 6-1.3 2.3-1.5 1.4-4 .3-4-2-4.4-4-2.6-10-3.9-8-4.4zM272 1240.6l-.5 2.3 1.7 2 2.8 .9 1.6-.9-.2-2-1.4-1.9-2-.8zM476 944.8l-2 .2-1.9 1.9-1.1 4 .4 4 2.6 3.5 2-.5 3-7-.4-4zM690 1240.5l-4 3.6-2.5 4.8-1.9 6-.7 10-1.6 6-9.9 22-2.1 6 0 4 1.3 4 7.4 14.2 2 2 2 .8 4-.8 4-2.5 4-4.3 6.4-9.4 10.8-22 2.9-10 0-4-1.3-6-3.6-12-3.2-6.6-4-3.8-4-2.1-4-.5zM214 950.7l-6.9 2.2-1 2 1 2 2.9 1.8 2 .3 2-.1 3.7-2 1.3-4-1-1.8zM671.3 808.9l15.5 0 1.8 4 .6 4-1.1 10-1.3 4-6.7 8-4.1 8.1-2 1.5-2 .1-3.5-1.7-8.5-6 2-1.8 6-1.5 3.6-2.7 1.3-2 .7-4-.6-12zM523.2 904.9l2.8-1.7 2-.2 4 1.7 4.4 4.2 3.6 5.3 2 1.4 4.4 1.3 2.5 2 .5 2-1.3 2-2.1 .8-2-1-4-6.1-12-2.7-4-1.6-1.6-1.4-.8-2 .3-2zM410.9 922.9l1.1-1 2-.2 2 1.4 4 7.2 .7 4.6-.4 4-2.3 2.8-4 .2-3.5-1-2.5-1.7-1.5-2.3-.9-4 .5-4zM673.9 926.9l2.1-1 2 .3 6 2.9 12 3.2 4 2.3 2.1 2.3 1.9 4-.1 4-7.9 12.3-4.6 1.7-7.4-.7-6.7-3.3-3.3-3.1-.9-2.9 .9-8-2.1-10zM389.6 940.9l4.4 .3 3.4 3.7 1.1 6-.8 2-1.7 1.4-4 1.6-4 .3-8-2-4-1.9-1-3.4 2.2-4 3.6-2zM104 1356.9l0-1.7 6 2 6 1 10-.5 2 1.8 .2 5.4-2.4 6-7.8 11.5-2 2.4-2 1.2-10-3.3zM146.8 1408.9l5.2-.3 10.9 4.3 2.1 2 .9 2-.9 4-3 2.3-4 .9-4-.9-9.8-4.3-2-2-.3-2 2.2-4zM417.7 1426.9l2.3-1.9 2 .3 2 1.8 .5 3.8-8.4 0z"/>
<path fill="#C9E9C2" d="M104 808.9l9.5 0 .5 5.1 2 2.1 2.1-1.2-.1-3.3-1.3-2.7 119.9 0-4.4 20-4.6 14-3.5 8-4.1 4.4-14 6.6-3.7 3-5.6 10-1.9 8 1 4 2.2 2.8 12 8.4 4 .5 10-.4 4.8 .7 5.8 2 1.6 2 .3 2-2.8 14-1.7 2.5-4 2.6-8 2.5-6 .5-5.8-2.1-6.1-8-2.1-.2-12.2 4.2-2.9 2-1.1 2 .8 10-1.7 12 .7 4 1.7 4 3.5 4 8.3 6 10.9 6.2 4 1.1 14-.7 14-3.6 12-1.2 10-4.6 10.1-9.2 4.6-2 5.3-.7 6 1.2 6 2.8 2.9 2.7 5.1 6.7 4 2.8 18 7.2 4 1.2 12 1.3 10 2.5 10 .6 14 2.7 12 .1 16-2.5 16 1 12-3.2 11.3-.4 6.7-4.6 4-.9 16 7.5 8 2.2 12 1.9 4 .1 10-2.2 10-.7 4 .3 8.5 2.4 5.5 .2 14-3.9 12-2 6 .3 14 2.7 4-.7 12.5-4.6 15.5-6.7 4-2.8 1.8-4.5 1.2-10-3.3-10-.1-4 .5-2 1.9-2.7 4-.7 8 3 10 6.2 2.5 2.2 12.7 26 2.8 4.3 4 4 6 4.1 8 3.1 6 1.4 4-.1 16-2.7 12-4.8 14-2.9 14-8.1 8-6.8 8-3.4 3-2.1 5.1-6 3.2-6 1.7-6-.1-6-2.7-4-6.2-4.4-4-6.9-2-1.4-6.4-1.3-3-2-.8-2 .3-2 5.7-8 4.2-7.7 4-3.1 9.7-3.2 14.3-2.9 10-1.4 8 0 0 441.3-8-1.3-4 1.1-8 3.8-6 .9-10-2.2-12-6.4-4-.6-8 .8-4 1.9-6 4.8-7.8 4.2-6.2 5.4-8.4 4.6-1.3 2 .3 2 1.4 1.1 6 1.8 8 5.3 4 1.2 20-.7 12-2.3 5-2.4 4.6-6 2.4-.9 2 .6 2 1.9 3.4 6.4 2.6 1.8 10 .7 10 5.1 0 40.3-4-3.4-4-.3-14 3.8-2.7 2-.6 2 1.1 4 2.2 3 2 1.8 4 1.9 4-.4 12-3.8 0 23.5-268.8 0-1.1-6 .2-4 3.4-10 1.9-12 2.4-4.4 8.7-9.6 3.6-16 3.6-8 4.1-5.3 8.4-8.7 3.1-6 .5-6-1.1-4-2.9-3.7-6-5.3-2-3-1.3-4-.2-6 1.5-5.5 2-3.9 7.1-8.6 2.3-4 3.6-16 1.6-4 5.4-8 8.2-8 1.8-2.5 1.9-9.5 3.7-12 1.8-18 1.9-4 4.6-6 .6-2 3.1-14-.5-14 1.2-16-2.3-8.4-2-2.2-2-.8-12 .4-4 1-4 1.9-8 6.5-9.4 5.6-6.2 8-4.3 4-4.1 2.6-4 1.1-4.3-1.7-8.4-12-4.8-4-14.5-7.4-18-4.9-6-.6-18 .4-16 1.8-4 1.3-14 6.6-3.7 2.8-7.6 8-8.7 4.3-4 2.9-7.8 12.8-2.7 8-5.4 28-6.2 14-.2 14-1.7 3-2 1.1-4-.4-4-1.6-2.4-2.1-1-2-.6-14 2.5-8 .5-4-1-16-1.6-10-2.1-6-2.6-4-5.7-5.4-4-1.8-4-.4-22 3.1-8 .5-4 1.8-4.5 6.2-7.2 20-2.3 2.8-2 .5-6-.5-6 2.1-4 .5-14-3.8-4-.1-8 4.2-4 .7-6-.6-12-3.4-2 .3-2 1.4-2.4 3.9-.7 4-.2 14-.9 10 1.7 6 4.5 6.1 9.5 7.9 4.5 7.3 8 4.6 2 2.1 2 4.8 .6 5.2-2.5 10 2.1 4 6.2 6 2.6 4 1.4 12 3.6 3 8 2.4 2 1.3 10.1 9.3 3.4 4 4.5 14 2 2.3 6 4.6 1.8 3.1-.4 6-5.1 8 5.7 9.7 16.2 22.3 7.8 12.1 2 2.6 2 1.1 1.8 2.2-32.4 0-6.3-10-11.1-13.9-6-6.5-6-4.2-14-23.8-17.1-19.6-.9-1.8-14-9.1-12-1.8-2-1.5-6-7.9-2-1.4-26-5.6-6-2.6-2.2-2.3-1.7-4-1.4-16-2.7-2.3-4-2.2-6-1.8-10 1.8-14-4.4-16-.9-10 .9-8-2-6 .3 0-44.2 4-.7 4 .4 14 5.7 14 3.9 6.3 3.5 5.7 1.7 12-.4 1.6-1.3 .1-2-.5-4-1.7-4-9.5-7.6-3.4-6.4-2.6-3-10-3.7-16-9.4-6-.7-12 1.7 0-310.4 8-1.3 7-3.2 2.9-4 .4-4-1.4-4-4.9-3.5-6-1.7-6 .2zM170 1261.5l-1 1.4 .9 4 1.9 2 2.6 0 .5-4-.9-1.6zM218 1274.6l-11.9 2.3-4.1 4.1-1 1.9 11 9.8 4 2.4 20 8.1 1.6-.3 1.8-2 4.6-7.3 5.1-2.7 .9-1.3 .2-2.7-1.5-2-10.7-9.9-12-1.4zM614 1346.9l-2.1 2-.7 2 .3 2 2.5 1.3 2 0 3.2-1.3 1.2-2 0-2-1.2-2-3.2-.7zM634 1420.5l-.6 2.4 .6 2.5 2 2.1 2 0 .4-2.6-.5-2-1.9-2.3zM690 1230.4l-6 4.4-4.3 6.1-2.5 8-1.5 16-2.3 8-7.4 14.8-8.1 11.2-.2 4 2.4 10-.8 4-3.3 3.9-12.1 8.1-2.1 2-2.5 4-.7 4 .5 8-2.6 10 1.5 1.3 10-1 6 1.3 16 13.2 4 2.5 4 1.1 4-1.4 3.1-3 4-6 .9-4-1-4-1.6-2-6.4-4-1.1-2 .2-2 1.3-2 2.6-1.8 8-.7 2.2-1.5 1.8-3.1 2.4-8.9 2.8-6 9-14 9.8-7.2 1.6-4.8-3-12-1.7-16-9.1-30-3.8-6-3-2-5-1.3zM572 1414.7l-3 2.2-.2 2 1.2 1.8 2 .5 2-.8 1.3-1.5 .5-2-1.8-2zM598 1358.9l-4.6 2-3.4 6-.8 6 .8 2.1 2 1.8 2 0 2-1.6 7.4-12.3 .1-2-1.5-1.4zM263.8 808.9l7.8 0-1.6 1.7-2 .3zM332.2 808.9l280.7 0-.7 4-2.2 3.8-8.3 8.2-3.7 11.7-2.4 4.3-8.4 10-6.1 4-5.1 1-6-.5-8-2.1-3.9-2.4-3.4-4-.6-2-.1-8.1-2-3.9-2-1-3.1 5-4.9 3.3-6 1.6-12 1.1-12 5.5-6.9 2.5-9.1 5.1-4 .5-6-2.3-8-6.1-1.9-3.2-.3-4 1.3-6 6.3-10 1.2-4 0-4-.7-2-3.9-2.3-8-1.8-4 0-4 1.2-4 2.7-4.4 8.2-7.8 8-2.2 4 .4 4 4.4 8-.4 2-4 2.5-10 1.2-2-.5-2-1.6-2.7-7.6-1.3-2.1-2-1.2-14-.1-20-5.6-4 .2-10 3-4-.2-12-5.5-11.5-2.5-13.7-12-4.7-6z"/>
<path fill="#A4DAB3" d="M137 808.9l67.6 0-1.5 4 .8 4 2.1 1.9 8 4.1 6 9.2 1 2.8 0 4-1 2.9-2 2.9-5.8 4.2-14.2 8.2-16 17.5-8 5.9-4 4.4-7.5 6-3.2 4-.2 4 2.9 12 1.7 6 4.5 10 .9 6-1.9 8-1.2 14.8-2 2.3-6 2.4-3.8 2.5-3 4-.5 2 1.1 2 2.2 1.2 6 1.5 12 1.2 16-1.4 6 .3 4 1.2 10 5 4 .9 6-.3 22-5.2 16-1 24-7.7 4 .7 6.8 3.6 31.2 11.1 6 .9 12-.1 24 4.1 24-.3 16-2.2 14 .8 12-1.7 16 3.3 14-.8 28 4 16-1.7 20 1.4 18-3.2 16-1.5 8 1.4 12 3.8 6 .6 6-1.9 10-6.7 16.3-7.3 4.3-4 5.4-10 2-2.1 4-1.8 2 .2 4 2.9 12 20.2 6 7.2 4 2.5 6 2.2 8 2.1 6 .3 4-1 8-3.4 10-2.2 8-2.9 10-.7 6-1.6 18-9.9 8-6.8 12.5-7.2 3.7-4 3.4-6 1.9-6 1.9-10 .1-4-.9-4-6.7-10-1.5-4 .3-4 3.1-10 4.2-5.4 6-3.2 8-2.1 10 .5 0 425.8-20-.2-12-1.6-4-1.2-8-4.3-12-1.9-6-2.8-4-4.8-8-16.9-8-27.9-3.8-18-2.2-5.3-2-2.7-4-2.2-6-.3-6 .9-4 1.4-4 2.6-5.2 5.6-4.2 6-1.8 6-1.1 16-1.1 6-3.3 8-5.3 7.5-4 3.1-4 .7-8-2.1-8-5-4-1.3-4 .9-2 1.8-12.7 14.4-2.5 4-1 10-6.2 12 0 4 1.4 6-.5 4-4.9 10-3.5 4-2.1 1.4-12 4.3-2.8 2.3-1.4 4-3.2 18-2.3 4-2.3 2.4-4 1.9-6 .2-6-1.3-2-1.7-1.8-3.5-.6-4 .4-4.5 1.9-5.5 4.1-6.4 4-4.1 7.3-5.5 1.8-2 .9-2.4 .8-9.6-.8-9.1-2-6.1-5.6-8.8-.6-4 2.2-5.3 6.7-6.7 1.1-2 1.9-8 1.6-12 2.1-6 5.4-8 7.6-6 3.8-4 5.1-12 5-8 3.7-3.2 8-3 8-5.1 4.4-4.7 2.8-6 .3-4-1.5-4.6-3.1-3.4-10.9-8.4-2-2.9-1.8-4.7-2.3-14 0-14-1.5-26-.4-2.4-2-3.2-2-.2-2 1.1-6.3 6.7-3.7 2.6-24 6.9-4.3 2.5-13.7 10.3-8 3-4-1-10-6.1-14-5.8-28-4-22-.6-18 1-6 1.3-12 4.7-4 1.9-4 3.1-14 14.7-10.4 21.5-5.6 21.5-2 3.3-2 1.4-2-.7-2-4-5.4-21.5-2.9-4-7.7-7.2-6-3.6-4-1.1-12-.1-8-1.1-2-1-1.7-1.9-2.7-6-3.6-4.2-16-4.6-4 .4-6 2.4-10 5.4-12 9-8 2.3-2 2.2-4 8.1-4 2.5-8 3.1-14 3.4-12 .6-10 2.4-24-1.7-10 1.3-4.4 1.4-3.6 2.2-2 2.4-3.9 7.4-2.1 2.3-4 2.5-6 2-22 2.4-4-.2-12-2.7-16 .9 0-218 6-3.5 10-1.1 4-1.9 6.9-6.7 1.3-2 .1-2-2.3-1.2-4-.2-14 2.9-8-2.3 0-62.3 8 0 4-.8 27.2-10.1 10.2-8 1.9-4 1.5-8-.8-4-2.7-6 .1-8-1.1-6-2.3-3.6-4.4-4.4-1.8-4-1.5-8-5.2-18zM634 1010.3l-16 4.8-2.2 1.8-1.4 4 1 8 6.3 18 .9 14 .9 4 2.5 2.7 6 1.4 4-.7 4-3.4 5.2-12 5.1-6 .9-2 1.6-8 3.2-6.7 .6-3.3-2-4-6.6-5.2-4.8-6.8-3.2-1.5zM357.8 810.9l2.2-1.8 2 .3 1.7 1.5 .5 2-2.2 1.8-2-.2-2-1.6zM414.2 808.9l22 0-1.4 2-4.8 3.7-4 2-4 .9-3.6-.6-2.4-1.9-1.1-2.1zM568.7 808.9l31.8 0-12.5 19.8-4 2.6-6 1.3-4-.5-2-1.5-2.3-3.7-1.9-10zM104 858.9l1.7 2 .8 4-.8 4-1.7 2.2zM107.7 1246.9l2.5 0 5.7 2 8.1 4.9 14 3.4 17 7.7 3.6 2 4.6 4 1.4 2-.8 4-2.6 2-.7 2-4.5 .3-28-7.1-4-.4-2-1-6 .9-2-.6-.6-4.1-9.4-5.1 0-15.8zM168.2 1280.9l1.8-.7 4 1.3 4 0 2-.9 4-.3 2.8 .6 3.2 1.8 .1 2.2-3 2-.1 2-1 .8-4 1.4-14.8-6.2-1.2-2zM203.3 1294.9l.7-.7 4 2 8 5.2 6 2.5 3.5 3-1.5 1.4-2-.3-4-3.4-2-.6-2-1.9-2-.5-4-3.5-2-.3zM233.1 1306.9l2.9 0 5.5 2 12.5 8.5 13 15.5 13 10.5 13.1 13.5 7.4 10 7.9 14 12.2 18 4.4 8 5.1 6 9.9 13.9 1.3 4.1-22.6 0-9.3-16-20.2-22-16.8-24-8.7-10-19.7-26-10-5.1-5.1-4.9-1.4-4 .8-6 1.7-4.6zM786.3 1368.9l3.7-1 2.7 1 .9 2-1.6 2.2-4 .9-2-.4-1.6-.7-.3-2zM763.1 1370.9l4.9-.5 3.2 2.5-.9 2-2.3 1.1-6 .8-7.3 4.1-2.7 0 0-2 1.4-2zM638.2 1374.9l5.4 0 2.7 2 4.1 10-.4 6-2 4.4-4 3.3-4 .8-10-1.3-2 .4-3.1 2.4-1.6 4-.6 4-.7 12 .7 8-36.8 0 4.7-12 2.2-10 1.9-4 7.3-5.7 10-2.5 12-6.7 2-2.9 2.4-6.2 1.6-1.8 3.2-2.2zM695.6 1386.9l4.4-.7 2 .8 2.3 3.9-.4 4-2 4-3.9 4.1-6 2.9-4 .1-2.2-1.1-1.8-3.2-.3-2.8 1-4 3.3-4.4zM659.6 1422.9l2.4-.7 1.2 2.7-3.2 2.6-.9-2.6z"/>
<path fill="#7BCBC3" d="M163.1 836.9l2.9-1.8 4 .3 2.3 1.5 5.7 6.9 4 1.9 8 .9 .2 2.3-4 4-6.2 2.9-6.6 5.1-3.4 1.1-2-.2-2-1.1-2.1-3.8 .2-10-2.3-6 0-2zM784.1 894.9l5.9-1.4 8 1.3 0 16.8-6-1.7-8-1.1-4-2.5-1.1-3.4 .8-4 1.5-2zM130.7 914.9l5.3-1.1 8 .1 4 1.1 4 2.6 3.8 5.3 1 4-.5 4-2.6 6-3.7 4.8-4 2.2-9.4 3-8.6 8-4 1.3-6 .8-10 3.9-4-.4 0-39.5 6 .4 6-.8zM794.9 932.9l3.1-1.1 0 373.7-12 .4-8-1.5-10.5-5.5-15.5-4-18-12.4-4-4.9-2-3.7-5.2-15-3.2-12-2.4-14-2.2-8-2.2-4-2.8-3.1-6-2.8-6 .6-12 4.8-6.4 4.5-6.7 8-4.5 8-.8 16-1.6 8-2 4.4-4 4.5-4 1.6-6-1-4-2.5-10-8.1-4-1.3-2 .3-6 2.6-3.8 3.5-6.2 12.2-6 6.8-4 2.7-4 1.4-2 0-2-1.1-2-3.2-4.3-10.8-.5-6 1.1-4 4.5-6 8.7-8 6.5-9.2 6-4 2-.2 2 .7 8 11.1 2 1.3 2 .2 2-1.2 1.4-2.7-.6-4-2.8-3.5-5.5-4.5-.1-2 2.5-4 7.1-5.2 2.4-2.8 2.2-6 1.2-10-.9-8-2.9-5.5-4-3.7-10.8-6.8-2.9-4-1.3-4-2.1-20-.6-18 1-6 5.5-14 .4-6-1.4-4-7.8-14.2-2-2.5-2-.8-6 .5-4 1.4-2.5 1.6-3.5 4-1.4 4 0 2 2.6 8 .1 4-1.3 4.1-4 4.9-6 3-12 1.9-8 2.5-7.1 3.6-10.9 7.2-4 .1-10-3.7-16-3.4-18-.5-24-1.9-12-1.7-24 .3-14-1.4-4 1-8 6.5-4 5.1-10.7 28.4-3.3 5.1-4 3.7-2 .4-2-.7-14-10.7-10-6.1-14-4.2-2.2-1.5-7.8-10-6-4.5-4-1.2-20-1.5-16 4.5-4 1.9-10 8.1-10 4.2-4 2.5-8.2 10-4.2 4-5.6 3.6-6.1 2.4-5.9 1.5-4 .2-30 0-12-.8-10 .7-6 2.2-2.8 2.2-3.2 4-5.3 10-4.7 2.8-22 4.7-16-1.2-14 .1 0-199.6 18-3.9 6-1.9 4.9-3 5.8-6 5.3-3 19.2-5 16.8 .2 12-1.7 6 .4 12 3 6 .2 16-4.1 22-2.2 20-4.5 4 .4 16.6 4.3 13.4 6 4 1.2 20 1.3 10-.2 12 2.4 10 1.1 26-.9 16-2.1 12 .5 8-.6 4 .3 22 6 12-1.6 24 1.3 16-1.1 16 1.6 6-.7 14-3.2 14-.8 12 2 14 6.5 8 .8 8-.6 4.3-1.2 3.7-2.5 6-2.2 5.7-7.3 4.3-3 10-3.1 4 .1 1.1 2-.6 2-4.6 12-2.5 4-2.3 2-3.1 1.4-12 .3-2 1.2-1.3 3.1-.5 6 1.3 14 6.4 18-2.4 26 1.6 6 .9 1.5 2 .9 9.9-2.4 10.1-1.1 4-1.2 4-2.6 8-10.6 4-2.8 4 .1 14 4.9 6.8 3.3 3.2 0 3.6-2 4.1-6 3.6-12 2.7-5.4 4-3.7 8.6-2.9 9.4-5.7 2-2.3 1.9-4 .1-4.7-2-5.3-3.9-4-4.1-.8-4 .5-14.2 6.3-8.4 6-7.2 8-4.2 .8-2-.8-1.9-4-.1-12 2.6-6 3.4-2.9 10-3.5 9.2-5.6 10.8-3 10-.8 6-1.5 14-7.9 11.1-4.8 8.9-7.8 10-4.5 4-3.1 3.8-4.6 3.2-6 5-14.3 4-3.1zM238.9 1318.9l1.1-1.1 8.8 9.1 .4 2 20.8 20.1 1.2-.1 1.2-2 1.6-.7 2 .3 8 5.5 6 6.4 8 10.5 4.3 8 5.1 14 0 2-1.3 2-4.1 .6-4-.4-6-4-13.8-20.2-2.6-6-4.9-8-.7-4-2-.2-7.1-7.8-.6-2-21.2-22zM581.8 1320.9l2.2-1.5 2 0 4 1.6 4 4.4 2.6 5.5 .8 4-.9 4-2.5 3.5-4 2.2-4 .3-4-1.1-2-1.6-1.7-3.3-.6-4 .4-6 1.9-5.6zM562.6 1366.9l3.4-1.5 1.7 1.5 .3 2-2 4.6-2 1.5-2 .3-2.1-2.4 .2-2zM604.7 1418.9l1.3-.8 .8 .8 4.4 12-10.2 0-.8-4 .3-2 1.5-3.3z"/>
<path fill="#79CBC2" d="M136.7 928.9l3.3-1.1 2 .3 1.2 .8 .8 2-2 2.5-4 0-1.3-.5-1.3-2zM104 932.9l0-1.3 2-.3 4 .5 2.4 1.1 1.4 2 .2 2-1.9 4-4.1 2.3-4-.1zM796.1 952.9l1.9-.9 0 28.3-2-.6-2 .5-4.9 4.7-3.1 1.4-6 0-3.8-1.4-1.1-2 1.3-4 7.9-8 5.7-12.1 3.2-3.9zM268.2 982.9l7.4 0 14.4 3.8 4.6 2.2 8.3 6 5.1 2 4 .1 12-1.9 20 1.9 16 3 16-1.3 16-.2 22-2.7 12 1.1 26 7.1 12-2.4 24-.5 12-1.6 6 .1 14 2.5 16-3 14-1.7 10 .9 6 2.2 8.6 4.4 15.4 3.9 4 2.4 4 4.4 3.1 7.3 4.4 24-2.1 18-3.4 9.5-3.4 4.5-12.6 8-14 15.4-8 2.5-2.8 2.1-1.4 2-2.4 10-2.2 4-5.2 5.5-4 2-14 .4-12-1.6-22 1.3-18-1.3-6-1.1-12-3.7-12 .9-5-.4-5.2-2-9.8-6.2-6 .1-8 3.2-8.3 6.9-4.2 10-5.8 10-5.7 13.6-2 2.9-2 .9-4-1.2-24-15.1-8-6.4-4-1.8-18-5.8-20-1.7-10.2 .6-3.8 .8-4 1.8-10 9.3-4 2.6-18 6.3-4 2.1-8.2 13.1-3.8 3.3-4 1.8-4 .7-8-.7-12 1.7-26-1.5-12 1-6 2.2-4 3.1-14 15.5-12 5.7-6 1.8-4 .3-26-1.4 0-186 26-6.8 14-1.6 2-1.3 6-7.8 4-1.4 12 .3 28-6.2 14 1.1 10-.7 14-3.5 12 .1 12-3.6zM746.8 988.9l5.2-1 6 0 12 3.8 8.8 5.2 5.2 1 8-1.4 3-1.6 3-3.3 0 306.6-8 1.8-6-.5-12-7.1-16-5.5-16-9.2-4-3.3-4-5.9-5.2-11.6-3.4-14-2.7-16-2.7-7.5-4-6-4-4.4-11.7-8.1-1.4-2-2.9-10.2-4 3.1-1.3 3.1 .3 4 1.7 6-1 4-3.3 4-10.5 8-10.7 14-2.3 4-1.2 6 .2 12-1.9 5.9-2 2.3-2 .9-2 .1-2.7-1.2-2.1-2-1.7-4 .2-12-3.4-12 .3-4 3-12 1.8-14-.3-8-2.3-6-4.7-6-4.1-3.1-8-3.3-4-3.4-2-4.2-1.2-6-1.6-16-.2-10 1.8-6 5.2-6.9 10-9.7 6-2.9 4 .9 14 8.6 4 .4 1.6-2.4-.1-4-1.5-5.7-4-8.3 .4-2 5.6-9.2 6-2.9 8-7 14.3-8.9 11.9-10 7.8-8.4 6-2.1 8-.2 2-1.4 2.8-5.9-.4-12 2.4-16-.7-4-3.7-8 .2-4 2.2-4 3.2-3.3 4-2.8zM710 1154.8l-6.9 2.1-2.5 2-1.1 2-.2 12-4.7 12 .1 2 1.3 1 6-3.7 10-8.3 4-5.7 1.8-7.3-1.1-6-2.7-2.1zM643.6 1096.9l.4-1.1 2-.2 4 1.8 4.8 3.5 .4 2-1.5 2-3.7 2.5-4 .7-2-1.7-1.2-3.5z"/>
<path fill="#4EB1D1" d="M258.3 990.9l7.7-1.6 8 .9 14 3.7 14 8.2 14 4 12 1.1 12-.2 8 1.8 10 1.2 4-.1 12-2.9 26-.5 12-3.8 6 .1 8 2 8 2.9 6 3.1 6 4.3 6 1.9 4-.8 7.8-5.3 4.2-1.3 32-5.2 4 0 10 2.3 6 .6 32-2.4 6 .2 4 1.1 10 4.5 14 2.9 6 3.7 2.7 3.6 2.1 6 1.7 12-.1 8-4.3 16-4.7 8-17.4 15.8-22 12.2-3.2 4-2.8 11.4-2 4.6-2 2.1-4 1.9-6 .3-8-2.4-26 5-12 .2-10-1.9-12-6.1-10.9-3.1-2.1-2-.6-2 1.8-26-.9-4-1.3-2-2-1.4-4-1.3-4-.1-2.6 .8-3.4 2.5-6 8.3-8 7.2-4 2.5-2 0-2-1.9-.7-2.6 .8-10-2.6-12-2.9-4-2.6-2.1-4-1.1-4 .3-4 1.5-2 1.6-.7 1.8 1.7 6-.2 6-1.8 4-3.4 4-2.5 18-4.6 18-1.7 4-2.8 2.8-2 .8-4 0-14-2.5-10 .2-10-3.1-14 .3-24-4.4-12-.4-4 .6-4 2.9-.6 2.8 1.8 4-.1 4-3.1 3.2-4 1.6-4 .2-3.1-1-2.1-2-2.8-4.7-2-1.1-24 .3-9.2 3.5-3.1 2-1 4 .4 6-.5 4-2.6 8.3-2 2-10-1.8-8 1.5-20 2-6 1.6-8 3.6-1.6-1.2-2.3-6-2.5-2-5.6-1-5.9 1-3.2 2 .2 2 4.2 6 5.9 6 .2 2-3.5 10-2.6 4-5.3 3.8-6 1.7-28-2.9 0-19.6 14 2.5 4-.1 2-.8 2.8-2.6 5.2-8.7 3.3-3.3 0-2-1.4-2-11.9-8.1-5.6-5.9-1.7-4 .2-2 1.1-1.5 5.3-2.5 12.7-1.1 18-4.2 4.1-2.7 4-4 1.2-2 .2-2-.7-2-1.8-2-5-1.8-12 .2-12-1.3-18 .2-4-1.3-4-2.7 0-85 10-2.1 12-3.7 6-.9 4 .4 14 3.8 10-1.4 6.1 1.6 3.9 .3 4-1.4 4.5-2.9 4.4-4 3.5-6 2.2-2 3.4-1.6 24-3.9 10-.1 10-3.7 12 .4zM412 1046.4l-4 2.9-2.9 3.6-.3 4 1.2 1.8 2 .9 4-.2 5.7-2.5 4.3-3 1.7-3 0-2-1.1-2-2.6-1.4-4-.3zM777.1 1010.9l10.9-.8 10 .5 0 280.3-8 1.6-4-.4-21.8-9.2-20.2-11-6-5.4-6-9.6-4.3-16-3.7-19.8-7.7-16.2-1.6-6 .6-4 8.8-16 2.9-8 1-6 .1-8 2.7-16-.6-4-2.2-2.1-2-.3-5.6 2.4-12.4 3.3-10-1.5-6 .5-4-.9-4-3.5-1.9-3.9-4.2-16 .3-4 1.6-4 2.2-2.6 6.6-5.4 1.4-2.1 2.4-7.9 1.6-2.3 4-3.2 4-1.6 12-2.6 2 .1 3.1 1.6 2.9 4 .1 4-6.9 10 .5 2 2.3 1.4 4 .4 3.9-1.8 1.6-2 5.9-18 2.6-3.9 2-.2 8 2.6 4-.9 2.4-1.6 2.8-4 .2-4-6-8-1.6-4 .4-4 2.5-8-.1-8 .7-4 3.1-4 8.9-6 9.9-10zM643.5 1126.9l4.5-.3 6 2.9 10.4 9.4 5.6 8 2 1.4 8-1 4 1.8 1.9 3.8 .4 4-.5 10-1.8 4.4-4 2-3.4-.4-6.6-6-4-1.5-10 3.5-8 3.8-4 .9-10-1.9-3.9-2.8-2.1-4-1.6-10-.8-10 1-6 2.6-4 2.8-2.4 4-2.5z"/>
<path fill="#2C8CBF" d="M272.3 1004.9l3.7-1.5 4-.3 12 1.8 13.6 6 8.4 5.2 10 4.6 4 .3 8-.7 8 1.6 10-.2 10 2.6 5.9-1.4 6.1-4.3 4.3-1.7 7.7-.6 8 1.4 12-4 6-.3 12 1.9 6 2.5 4.6 3.1 4 4 .9 2-.2 2-1.3 2.1-2 .8-12-.4-12-1.7-6 .7-2 1.5-2.9 7-3 4-9.3 6-6.8 9.6-2.7 6.4 .7 2 3.4 4 1.5 4 .2 4-1.1 3.7-3.4 4.3-5.7 4-2 12-2.9 8.4-4 6-4 1.5-8-.5-10 1.1-4-1.2-3.7-5.3-1.5-10-2.8-2.9-2-.4-2 1.9-.3 7.4-1.7 4-4 4.2-3.5 1.8-2.5 .3-6-1.4-5.3-2.9-2.5-4 1-6-1.2-1.1-2 .1-6 3.7-2 0-2-.9-6-5.2-4-1.4-4 .9-6 4.9-4 2-10-.3-10 2.2-8 .2-14 4.1-6 .5-8-1.4-9-4.3-3.2-2-7.8-6.9-4-1.9-4 .2-6 3.5-4 .9-16-1.6-14 2.1-12-2.1-12 2-4-.9-12-6 0-65.6 10-1 12-3.8 6-.8 28 6.1 8 .2 8.3-2.4 9.7-6.8 12-4.7 4-.9 6 .1 8-4 12-.6 10-5.5 4-.4 10 1.2 12-.4 2.7 2 1.3 3.2 2-.5 .4-4.7zM218 1032.3l-2.8 4.6-1.1 6 1.9 4.5 2 1.4 2 .3 2-.4 2.3-1.8 2.1-4 .6-4-1-3.4-2-2.5-2-1.3-2-.2zM495.4 1010.9l6.6-.6 14 2.2 24-.1 14 1.1 6 .9 12 3.9 12 1.7 4 2.4 2 2.8 2 7.7 .1 6-1.6 6-8.2 16-8.4 14-5.6 6-8.3 4.7-16 6.1-4.2 3.2-5.7 6-5.4 4-10.7 5.1-8 4.8-18 5.9-8 .3-6-1.7-4.3-2.4-12.1-8-2.8-4-.7-8 2.2-18-1.8-12 1.5-2.7 4-2.7 6-2.5 12-2.6 4-2.6 2.3-2.9 .7-4-1.1-2-7.5-6-2.7-4-2-6-.2-4 1.5-4 7-5.9 4.2-2.1zM782 1052.9l2-1.4 6 1.1 4 2.5 4 4.6 0 224.8-6 1-6-.8-16-5.6-10-7.2-12-5.6-8.6-7.4-2.5-4-1.4-4-6.7-32-4.1-16 .2-4 1.3-4 6.5-10 1.5-4 2.7-12 .3-10 1.7-4 6.1-6 5.6-8 3.4-2.8 6-2.2 10-1.8 5.9-3.2 2.5-4 .4-6 1.3-4 1.9-2.1 6.3-3.9 3.2-4 1.5-6-.3-4-1.1-2-4.7-4-.7-2 1-4 3.6-8 0-6-1.9-4-5.9-8-1.4-4zM636.7 1136.9l5.3-1.5 6 1.4 6 6.1 3 6-.1 4-2.7 4-10.2 7.2-4 1.3-4-.9-2-1.8-1.7-3.8-1.3-8 .5-8 2.5-4z"/>
<path fill="#0A68AD" d="M287.3 1014.9l4.7-.7 6 2.3 5.7 4.4 3.1 4 .4 4-4.2 8-.5 4 1.2 4 2.4 4 1.9 2 4 2 8 .2 12-3.1 12-8.8 8-3.7 14-1.4 3 .8 3.2 2 2.6 4 .8 4 .1 18 1.1 2 3.2 1.5 2.6 2.5 1.9 4 .1 4-.6 2.2-3 3.8-3 1.8-6 2-2 7.8-4 6.2-4 2.1-4-.1-2-.8-16-15.9-6-3.5-6-1-8-.1-18 5.9-6 1-4-.2-16-7.6-4-3.2-1.6-2.4-2.4-1.5-16-2.4-6.7 1.9 2.2 6 .7 6-.8 4-1.4 1.1-16 1.6-6-1.5-1.8 .8-2.2 3.4-2 .1-10-4.5-10-.7-8-3.1-4-.8-44 2.2-16 3.2-4-.7-10-6.3-8-.7 0-45.6 12 .2 14-5.3 6-.8 6 .2 18 4.8 16-.5 5.4 .9 4.6 2.2 7 5.8 8.3 4 2.7 .5 12 2.1 16 .4 8 1.3 16-.1 4 1.2 6 .1 4.9-1.5 2-4 6.9-10 1-4-1-6 .6-4 3.1-8zM496.7 1018.9l5.3-1.6 22 2.5 16-.5 8.4 1.6 15.6 5.1 2 1.2 2.6 3.7 5 14 2.4 .7 2.6 3.3 .9 4-.2 2-1.3 2.2-6 .9-2.1 6.9-2.7 6-3 4-2.6 2-5.6 2.6-8 2-8 1-4-.8-3.9-2.8-1.5-2-5.7-12-4.9-7-8-8.6-6-4.9-6-8.3-7.4-7.2-.3-2 1.1-4zM247.1 1026.9l2.9 .6 2 1.4 2.8 4 2.8 6 .1 6-1.7 3.5-2 1.5-2 .1-2-1.1-6-7.3-2.4-4.7-.5-4 .9-2.8 2-2.2zM483.3 1074.9l2.7-.1 8 7.1 10 17 .2 4-1.5 4-4.6 4-4.1 1.7-5.6 .3-3.3-2-1.2-2-1.6-8-5.8-6 .3-4 3.2-8 .6-6zM778.3 1158.9l1.7-1.5 2 1.1 3.4 6.4 3 4 3.6 2.6 6 2.3 0 103.8-4 .9-6-.6-14-5-10-7.1-16-8.4-3.2-2.5-2.8-4-2.1-6-4.2-20 0-14 2.1-8 1.7-4 4.5-4.7 8.5-3.3 2.2-2 .7-2-.6-2-4.8-3.5-1.3-2.5-.2-4 1.6-6 1.9-2.5 2-.8 2 .2 6 5.3 2 .2 8-4.5 3.8-3.9z"/>
<path fill="#0B3F84" d="M536.3 1028.9l1.7-1.3 4-.6 6 .7 2 1.2 2.3 2-2.3 1.7-1.8 .3 8.4 8 3.2 6 .6 4-1.1 4-3.4 6-1.9 6-1.4 2-3.1 2-3.5 .3-3.8-2.3-5.2-8-9.3-10-2-4-1.1-8 1.2-4 4.2-3 6-1.8zM134.9 1040.9l7.1-.3 10 5.1 14 1.1 10 5.5 16 3.5 18 0 20 3.2 4.1 1.9 1.9 2-.1 4-3.9 3.7-20.7 2.3-1.3 2.3-4 2.9-4 1.8-4 .7-12-1.6-12-.2-12-1.6-16 2.1-10-.7-10 .9-4-1.4-6-5.7-4-2.4-4-.7-4 .4 0-16.5 6 1.8 5.9-.1 2.1-.7 2.5-1.3 7.2-8 2.7-2zM283.3 1040.9l.7-1.1 4-.7 2.2 3.8 .4 4-2.6 4.9-4-.8-1.2-2.1-.6-4zM573.7 1048.9l2.3 .7 .8 1.3 .2 2-1 1.9-2-.4-1.1-1.5-.5-2zM345.6 1054.9l2.4-1.4 4-.2 10 4.9 4.4 4.7 1.6 6 8 1.7 3.1 2.3 1.1 2-.2 4.3-2 2.3-2 1-4 .7-2 3.8-2 1.9-2-1-4 3.5-4 .5-6-3.2-7.1-7.8-6.3-4-.8-2 .6-2-2.4-.4-2-1.8-8-1-4-1.6-7.7 .8-3 6-3.6 4-3.7 2-6 .8-6-1.7-4.4-3.1-3.6-3.7-6.4-2.3-5.2-6 .4-2 1.2-.3 4 0 4 1 4-1.1 6-6.5 2-.7 5.1 1.6 8.9 1.4 2 1.2 4 .2 8 2.1 4 .3 2 1 4 .3 2-.5 .3-2 1.7-1.1 6.1-.9zM778.7 1180.9l5.3-1.2 4 .6 10 5.2 0 80.1-8 .1-10.8-2.8-3.7-2-7.5-6.3-18-7.7-2-1.8-2-3.4-2-6.8-.8-10 2.1-6 8.7-9.9 2-1.4 6.8-2.7 2.4-2 5.1-14 3.7-4.8z"/>
<path fill="#061D3B" d="M540.9 1028.9l5.1 0 2.3 2-5.4 0zM285.5 1044.9l.5-1.8 2 0 0 4.5-2-.1zM165.6 1054.9l4.4-.9 6 .5 1.4 .4 .4 2-3.8 1.1-6 .1-2.6-1.2zM130.6 1058.9l9.4-1.6 10-.2 4 .1 5.6 1.7 12.4 1.9 12-.5 4 1.1 4 .1 8-.7 12 .1 8.8 2 2.4 2-.4 2-8.8 2.1-38-3.9-22 2.3-2-.7-14-.7-2 1.9-4 1.1-4-1.3-2.7-4.8 .5-2zM779.7 1208.9l2.3-1.6 2-.1 10 2 1.7 1.7-.1 4 2.4 3.9 0 21.1-12 .6-5.1-5.6-.7-6-3.2-6-.9-4 1.1-6z"/>
</g>
<g clip-path="url(#cpd)">
<path fill="#AAAAFF" d="M1408.8 811.6l1.7-1.4 14 .9 6.8 2.5 1.7 2-.3 2-2.2 2.1-4 1.3-20 .2-2-1.8-2-.2-3.5-3.6 3.5-3.4zM1460.3 815.6l4.2-1.6 4 0 7 1.6 2.9 2-.8 2-5.1 2.2-4 .6-6-.4-4.1-2.4 .2-2zM1048.6 861.6l3.9-.9 4 .1 8 2.4 3.4 2.4 1.2 2-.1 2-2.5 2.3-8 2.1-4-.2-4-1.2-4-2.6-1.3-2.4 1.2-4zM1630.8 883.6l1.7-.9 2 .1 8 2.8 8 .7 14-2.6 2.9 1.9 5.1 6.2 18 2.7 0 236.1-.7 1 .2 18-2.2 2-.2 2 .1 2 2.1 2 .7 11.4-7.6-3.4-1.6-2-2.8-6.3-2-.1-4 1.3-2 1.5-6 8-4 2.6-2-.3-2-1.6-1.8-3.1-.7-4-2.3-2-7.2-1.3-10 1.8-1 1.5 .1 2 2.3 10 .3 8 3.8 10-.1 2-1.3 2 .1 2 6.2 4 3.6 7.9 0 5.9-1.8 10.2 .6 4 1.8 4-1.7 2-.9 8.6-2-1-2 .1-4 2.2-2 2.4-8 13.8-4 5.1-2-.7-2.5-2.5-.3-2-1.3-2 .2-16 1.9-3.9 4.1-4.1 .6-2-3.1-14-3.4-10-1.2-10 2.2-8-.4-8 .9-6 5.2-10 1.3-4-.9-6-4.5-4-.4-2-1.9-2 .7-6-2-2 9.2-20 .8-4-.9-2-7-4-2-2-3.3-5.6-2-1-2 .1-6 3.7-2 .4-8-3.2-4-.1-15.3 11.7-4.7 6.4-3.2 7.6-10.8 8.3-1.3 1.7-1 4 2.9 6-.3 4-5.1 4-4.2 14 1.3 2 5.2 4 1.3 2-.4 2-3.3 2-8.2 2 1.6 2 8.6 6 6.9 8.2 .6 1.8-1.5 2-.1 2-7 6.2-4-.9-10 1-2-1.1-2-.1-3.3-3.1-.3-2-3.9-4-.1-2-3.4-4 .4-4 5.5-16 .2-8-3.6-14-1.5-2.7-.7-3.3-2-2-.5-6-1.8-2-.1-4 1.9-2 .4-4 4.8-3.6 6-1.1 4 1.8 4 4.4 4-1 2-1.9 5.2-8.6 4.8-5.4 2-1.3 5.4-1.3 2.4-2 1.1-2 1.5-8 3.2-4 8.4-5.5 12-11.6 2-.2 2-1.6 6-1.9 4-3.1 1.3-4.1-2-8 .1-6 2-8 4.5-6-4.4-2-.8-2 .6-2-1.3-.4-4 2.5-8 .8-6-.2-3.3-2.7-2.1-4-2.6-3-4-1.8-24 4.1-2-1.7-4-.1-2-1.8-2-.3-3.2-3.4-.4-2-3.8-4-.6-2.3-5.7-3.7-12.2-12-10.1-6.2-6-2.5-4-.5-1.3 3.2 1 6 2.3 4.8 10 11.2 3.4 2 8.6 2.6 2 2.3 1.2 5.1-1.2 4.1-11.1 11.9-.3 16-1.5 2-.2 6-1.9 2-.4 4-2.6 2.2-2-1.8-2-.6-2.4 2.2-.1 2 2.3 8-.3 10-.6 2-2.9 1.3-2 1.9-3.7 .8-1 2-9.3 8.9-2 .2-2 1.8-8-.2-2-2-2.3-.7 .7-6-1.2-4-3.2-2.8-2-.2-1.9 1-.7 4 1.8 8-.9 2-2.3 .8-2 1.9-2 .4-2 1.5-12 1.2-5 2.2-1.6 2-.8 4 1.9 12-2.5 4.7-8 4.2-12-.1-2-1.5-2-.2-6.8-7.1-1.9-8-3.3-4-4-1.4-10-.4-12-3.9-6 .7-8 2.1-1.2 .9-.4 6-1 2-.2 6-2 2-.3 2-.9 .9-2 .4-2 1.5-2 .2-16-.5-4.4-4.5-.6-2 1.4-8-.4-4.8-2.3-3.2-2.9-2-8.8-3.9-14-3.2-12-11.6-2-.3-2-1.8-10-1.1-10 2-8 .4-2-1.4-4-.3-2.9-2.8 .1-2-1.5-2 .3-.7 2-.4 2-1.6 2.3-5.3 1-6-1.3-1.5-2-.5-6 1.1-4 2.2-3.1 2.7-2.9 1-2.8 3-.2 2-1.9 2-.1 2-5 4.7-2.4-.7-1.4-2-2.2-1.3-4-.5-2 .7-4 4.4-6 .2-2 1.8-4 .3-.4 2.4-2.3 2-.4 2-.9 1-2 .1-4.2-3.1-1.9-4-.1-8 1.1-2 .1-4-1.9-2-1.1-1-2-.1-2-1.6-12-.6-2 1.6-1.3-.3 2.6-18-1.2-4-2.1-1-3.5 1-2.7 2-3.4 6-.8 4 1.6 8-.3 2-1.9 2-5 2.3-8.2 9.7-2.7 2-3.1 .9-6 0-4-1.7-2.6-3.2-2.9-10-2.5-3.4-20-8-4 .9-2.3 2.5-1 4-.2 10-1 4-1.5 2.6-2 .7-2 1.9-16 .3-2-1.9-8-1.6-8-.4-10-2.5-6 .6-8 3.2-10 .6-2-2-2-.4-4-4.3 0-109.2 2-.5 6-5.2 14 .5 18-6 22-.2 6 2.1 2 1.9 6 9.3 4 1.1 8-1 12-.4 14-2.1 6-.1 2 1.4 6-.1 2-1.6 8-.3 10-9.4 2-.2 2-1.9 14 1.3 14-.5 18 .6 12 1.5 4-.4 6-2.3 4-.6 28 .8 12 1.5 14-1.8 5.9 1 6.1 4.5 4 1 4-1.4 6-4.3 4-1.8 6-.9 12-.5 4 .4 2 1.5 4 1 12 8.8 8 5.1 4 1.6 2-.6 6-9.9 2-2.4 2-.6 4-.1 8 1.2 10 0 16 3 2 2.2 3.8 12.2 2.2 3.1 4 2 8 .2 4 .9 6 6.2 4 1.1 2.9-1.5 1.5-2 .5-2-.4-2-3.1-6 .5-4 2.2-4 3.9-3.6 14-7.6 4-1.1 4 0 4.9 2.3 11.1 9.9 6 2.6 2-1.7 5.2-12.8 5.4-10-2.6-4.5-9-11.5-.4-2-1.8-2-.2-2-3.7-4-.1-2-1.7-2-.2-2-1.5-2-.4-2-3.9-6-.4-2-1.8-2-.2-2-1.7-2 1-7.2 4.7-6.8 3.3-3.4 6-2.1 10-1 6 .6 2.8 1.9 7.2 11.6 6 3.6 2.8 2.8 .3 2 1.7 2 .1 8 1.1 3.8 2 3 6 4.6 .8 2.6 3.4 4-.2 6 2.4 8 12.1 6 6.6 6-1.7 10 .3 2 1.4 2 4.9 1.9 6-.1 2-1.5-.5-2.3 1.4-2 1.1-1.1 2-.3 4-4.1 2 0 2-2 2 0 2-1.8 4-.2 2-1.7 2-.2 6-4.8 14.5-5.8 15.5-12.1 2-.6 2-1.6 4-1.2 2 .4 6 5.5 4 .9 4.8-1.3 3.3-2 1.5-2 3-6-3.8-4 0-2 3.5-4 6.2-4-12.5-10.2-10 4.8-2 .5-3.4-1.1-7.4-10-8.9-14 0-4zM1192.5 1075.6l-.2 2 1.2 2 3 1.9 2-.2 1-1.7-.4-2-1.6-2-3-1.2zM1276.5 1011.5l-12.6 4.1-1 2 1.3 4 2.3 1.2 2-.2 8-2.9 3.1-2.1 1.2-2-.2-2-2.1-1.8zM1362.5 995l-2 1.8-2 3.5-2 1.5-14 1.9-4 1.4-4 2.8-2 2.4-2 4.1-2.2 1.2 1.5 2 .5 6 2.2 3.6 2 1.4 4 .7 14-6.6 4-5.9 5.2-11.2 4.2-6-.2-2-1.1-2zM1378.5 1052.9l-.9 .7-.6 2 .6 2 2.9 3.5 2.3 .5 1.5-2-.3-2-3-4zM1278.5 1065.3l-12 1.6-.9 .7-.3 4 5.2 5.3 2.1 .7 5.9 4.5 4 1.7 4-.3 2-1.2 2.2-2.7 .7-4-.9-3.2-2-2.8-4-3.1-4-1.3zM1358.5 1031.4l-2 1.2-1.5 3 .2 2 1.3 1.4 4 .4 4.4-1.8 1.4-2-.5-2-3.3-2.1zM1163.2 1103.6l1.3-.3 1.7 2.3 0 2-1.7 2.3-2-.6-.7-1.7 0-2zM1093.2 1121.6l1.3-1 16-.3 2 1.8 6 .4 5 5.1 0 2 1.5 2-.5 1.8-3.6 2.2-5.5 2-12.9 2.6-4-.7-4-1.8-8-6.6-2 .9-3.3 3.6-3 2-9.7 4.3-4 .7-7.2-7 1.2-5.1 14-4.1 6 .1 2.8 1.1 3.2 2.4 2-.5 3.3-5.9zM997.7 1125.6l.8-.7 8 1 12 .4 2.3 1.3 2.6 4 .8 2-.6 4-5.1 5.2-16-.1-4-3.6-2 0 0-12.7zM1689.8 1179.6l.7-1.1 0 53.5-14 2-2.9-2.4-.3-2-2-2-.2-2-1.7-2-.2-2-1.3-2 4.2-14 .4-11-12-4.3-1.1-.7-.1-2 1.3-2 3.9-2.6 8-.6 4 .9 4 1.9 7.2-3.6zM1229.7 1197.6l.8-.9 2-.2 2.4 3.1-.4 4-2 1.5-2-.4-.8-1.1-.8-4zM1532.3 1227.6l3.5 10 2.7 4.8 5.7 17.2 2.6 4 6.4 6 2.5 4-5.2 2.4-6 1.1-2 1.6-8 .4-2 1.4-4 .2-6-.8-7.2 3.7-5.8 4-2.8 6 .1 2 5 8 6.4 8 .3 2.4-2 .7-2-.4-4-3.4-2-.2-4-3.8-2-.2-2-1.9-4 .1-2 1.5-4 .4-2-.9-1.2-4.3 .6-2-2.3-2 .1-6-2-8 1.4-2 7.4-6 2-3.9 2.5-.1-2.3-2 .8-2 5-5 2.8-1 7.2-6.6 2.8-1.4 7.2-7.2 2-.2 2.7-2.6 1.2-4 3.3-4 .2-2 1.1-2-.3-2zM1079.3 1245.6l1.2-.9 4-.3 10 .7 14 3.8 .7 .7 .5 4-3.2 3-2 .3-2 1.6-10 .7-2 1.5-2-.1-2-1.4-10-1.2-4.1-2.4-1-2-.1-2 .8-2 2.4-2.5 4-.7zM1688.3 1271.6l2.2-1.2 0 44.4-2-.1-1-1.1-.1-2-1.1-2 .9-6-.8-10 1.1-10 0-8zM1163 1287.6l1.5-1.4 4-.1 5.5 5.5 0 6-3.5 3.6-2 .2-2 1.7-5.6-5.5 .2-8zM1072.4 1289.6l4.1 .9 5.4 5.1 0 2-1.9 2-1.5 1.5-2 .1-2 1.8-6-.1-2 .6-8-2.9-1.7-1-1.4-2 0-2 1.7-2zM1462.4 1337.6l2.1-1.5 8 5.8 6 1.7 2-.2 2 1.1 3.6 3.1-.1 2-1.9 2-.2 2-6.2 6-.2 2-7.7 8-1.3 2.6-6 2.8-2 0-4 2.4-4 4-4 3.1-2 .4-4 3.8-2 .1-2-1.7-4-.5-1-1-.2-2 3.5-4 .2-2 9.5-9.5 4-2.5 4.3-4 3.6-12 .1-4zM1096.2 1377.6l8.3 .5 4 2.3 2 3.1 .9 4.1-.4 4-1.5 4-3 4.5-6 3.6-6 .5-4.9-4.6-1.1-3.1-.9 3.1-7.1 7.2-2 .1-2 1.1-2-.3-4-2.3-2-2.3-1.4-3.5 .1-4 1.6-4 3.7-2.7 4-.6 6 .2 4 2 1.4-2.9 .5-4 1.4-2 2.7-2.7zM1098.5 1381.3l-1.4 .3 2.1 2 5.3 .8 .2-.8-2.2-2.8zM1127.1 1385.6l3.4-.4 5.2 2.4 1.7 2 .7 2-.8 2-2.8 2.3-2 .1-4-.3-4-1.9-1.7-2.2-.4-2 1-2z"/>
<path fill="#6868FF" d="M1410.3 811.6l15.3 2 3.3 2 0 2-2.4 2-14 1-6-.2-2-2.1-2.4-.7-1.1-2 1.5-2 6-.8zM1054.2 863.6l8.3 1.9 0 2.9-10 .6-2-.8-.5-.6 .3-2zM1631.6 885.6l2.9-1.2 1.9 1.2 6.1 1.5 8 1.1 14-3.5 8 8.4 16 2.2 2 1.3 0 193.1-2 1.9-1 4 1 5.4 2 2.3 0 11.2-3 1.1-5 4-1.4 10 3.3 4 4.1 2.4 .1 5.6-.1 .9-2 1.1-17.2 8-6.8 2.3-20 1.2-8-2.4-8-.9-2-.9-1.2-1.3 2.8-12 7.9-18 .3-4-1.5-2 .1-2 3.5-4-3.9-.9-6.2-11.1-3.8-3.8-2-.8-2-.1-8 2.3-6-.3-6 2.9-2-.3-2.1-1.9 0-8 1.4-2 6.7-.2 4.9-3.8 7.1-3 2-2.2 .7-4.8-1.7-4-2.9-4-.6-4 .7-2 8.3-12 7.5-13.4 0-1.1-3.4-1.5-4.6 .1-2-.7-4-3.6-10 1.8-10 .3-4-.9-6.9-3-5.1-.7-6 .5-20 4.5-6-.8-2.3-1.5-7.7-8.6-.3-1.4-2.1-2-3.2-6-1.8-2-13.4-10-5.2-5.4-6-4.5-1.3-2.1-.1-4 5.2-10 1.8-8-3.6-5.7-5.5-6.3-6.5-15.8-6-6.7-3.7-5.5-.3-4.2-3.5-5.8-.5-2 4.3-10 3.7-3.8 10-2.4 4 .1 2 1 4 4 4.3 9.1 9.6 10 2.1 10.3 4 9.8 4 6.5 6.5 7.4 3.5 6.4 6 2.4 5.4 5.2 2.6 6 .8 8 1.2 2.5 4 2.6 14 1.9 6-.2 2.1-.8 .9-6 1-1.3 8-6.9 4-1.3 10 .1 2-1.2 2-4.7 2-.9 3.9 .2 8.1 3.1 2-.3 2-1 2.6-3.8 3.2-2 14.2-2.9 9.9-3.1 6.1-6.1 2-.4 1.6-1.5-1.7-4 .2-2 2.7-4 .3-2-2-2-.5-2 1.2-2 4.2-1.1 3.6 1.1 2.4 1.7 2-1.2 2.1-2.5 .8-2-.3-2-14.6-3.9-10-8.2-12 5.4-2-.4-9.1-10.9-6-12zM1313.4 969.6l5.1-1.7 4 .1 11.8 5.6 8.2 9 8 6.8 1.7 4.2-.3 2-1.4 2-10 2.4-6 3.8-5.6 5.8-2.4 5-1.1 5 .1 4 4.2 10 3.8 6-.4 2-6.6 4.2-6.1 11.8-.4 2 2 6 .9 6 1.6 3 2 1.3 2-.2 2-1.3 1.2-2.8-1.4-6 .2-2.4 4-2.6 8-7.8 8-4.7 2-.3 16-.7 1.5 .5 1 8 7 12 4.5 4.7 4 1.1 6-.3 3.3-1.5 1.7-2 .7-4-1-2-5.6-6-5.1-7.4-6.9-6.6-1.6-4-1-6-1.1-2-4.8-4-6.6-1.2-2.1-.8-2.2-2-.5-2 2.8-4.1 2.7-5.9 6.6-8 .4-2-1.3-10-3.4-8-.2-2 1.2-2.8 2.8-1.2 11.2-1.1 12 2.6 6 2.1 4 2.8 3.9 9.6 3.5 4 4.6 1.9 8 .3 2 .7 2 1.9 2.2 5.2 1.8 1.6 6 1.5 3.3-1.1 4.7-3.5 4-1.7 6 1.5 2.8-2.3 1.1-4-1.1-6-.8-1.5-2-1-2 .2-2-.9-.3-.8 4.3-5 4-6.8 2-2.2 2-.9 4 .1 6 2.8 4 3.8 2 6.7 11.3 15.5 2.1 8 3.9 8-.4 4-4 8-.2 2 1.3 1.9 5.8 2.1 1.2 2-.6 16-1.9 2-8.5 4.9-3.7 5.1 .5 4 3.2 3.7 .7 2.3 1.8 2 .3 2 1.6 2-.4 5.9-2 1.2-6 1.3-6 5.7-4 2.5-2.9-.6-1.4-2-1.7-5.3-4-2-10 .6-10 5.5-1.6 1.2-.7 2 0 8-1.7 3.3-4 2.5-8 2.5-3.9 3.7-.9 6 1.1 8-.3 4-2 2.6-4 1-14-1.2-2-.7-1.7-1.7-2.8-8-7.3-8-2.2-1.3-12-1.3-6-1.8-6-.8-12 1.2-6-.2-2-.7-12.2-7.1 1.1-10-.9-3.5-4-3.3-6-1.9-2.4 .7-2.6 6-1.2 6-.1 6-1.3 2-2.4 1.1-4 .3-8-3.8-6-.2-5.1-1.4-2.9-1.6-1.5-2.4 2.1-8-.2-6 2.7-4 5.7-4 1.1-4-3.2-12-4.1-4-2-8-2.6-1.9-4 .1-10 3.1-6 3-2 .1-10-2.5-4-2.2-6-4.6-4-.4-2 .7-3.2 2.6-4.8 8.7-4-.8-2 .9-.4 1.2 2.4 4-.1 2-2.8 4-3.1 1.4-2-.2-2-1.1-1.5-2.1-1.3-10-1.2-3.2-2-2.7-2-.6-.4 .5-1.8 8-1.7 2-4.1 .1-4.6-2.1-5.4-6.6-6-3.1-4-.8-10 1.2-2-.4-4-4.7-2-1.2-2-.2-4 2.2-5 5.6-17 9.1-8.6 2.9-2.4 2-2.2 4-2.8 2.4-4-.1-6-2.9-6 1.8-4-.4-10-3-6-3.1-2-.3-4.9 1.6-5.3 4-2.2 4 .4 2.9 4 3.5 .8 1.6 .4 4-.5 2-2.7 3.7-6 4.4-8-.1-.7-2 .7-2.9 4.1-3.1 .9-2-1.5-2-3.5-1.7-4-3.8-2-.3-2 1.4-4 5.2-2 .4-6-4.2-2-.9-2 .1-10 6.1-6 .2-2-.5-2.5-2-1.5-6.7-2-2.9-6-3-6-4.3 0-4.6 1.8-4.5-.1-2-1.7-3.9 0-47.5 6.5-6.6 5.5-13.4 2-2 2-.9 14-2.3 18-7.6 10-.9 6.7 1.1 3.2 4 2.1 6 2 2.2 4 1.7 4 0 5.6-1.9 4.4-.5 14 1.2 24-2.8 6-1.8 8-.4 3.9-1.7 6.1-4.4 4-1.3 10 .1 16-2.1 10 1.5 10-.7 10 1.9 6-1.4 6-2.7 4-.7 20 3.5 8-1.6 2 .8 14 0 18 8.1 4 .6 2-.7 12-8.7zM1118.5 1041.3l-8 4.1-6.7 2.2-.8 2 1.2 8 2.3 3.5 10 1.9 2.5-1.4-.1-10 4.4-8-.8-2.1zM1196.5 1041l-2 .9-2 3-.4 2.7 .7 2 1.7 1.8 2 .5 8-1.1 1.2-1.2-2.3-4-4.9-4.1zM1214.5 993.4l-3.1 2.2-1.4 2-.1 4 2.6 4 2 1.6 2 .3 4-1.9 2.4-2 .9-2 0-2-.7-2-2.6-2.8-2.3-1.2zM1242.5 997.2l-2 2.4 0 2.1 2 2.7 4 1.2 4-.4 6-2.6 1.3-3-1.4-2-9.9-1.3zM1272.5 1001.4l-2 1.5-2 3.1-2 1.3-8-.3-3.2 4.6 .5 4 4.8 8-1.2 6 .1 2 3.3 6 .5 6 3.2 1.2 6.9-1.2 1.4-2-3-8 .2-4 3.9-4 6.6-3.1 3.6-4.9-1-8-2.3-4zM1172.9 1067.6l5.6 0 4 1.8 .3 4.2-.7 2-1.6 1-2 .2-4-1.4-2-1.8-.9-2-.1-2zM1257 1083.6l1.5-.5 2.1 .5 1.3 6-.2 2-1.2 .9-2.5-.9-2.3-6zM1580.7 1095.6l3.4 0 .4 .7 .3 1.3-2.3 2.6-2 0-.5-.6-.6-2zM1323.8 1111.6l4.7-.9 0 4.3-4 .2-2-1.6zM1559 1117.6l4.7 0 .2 2-1 4-4.4 5.6-4 .9-1.9-2.5-.1-4zM1334.3 1121.6l2.2 .2 2 1.2 5 4.6 1.5 4 0 4-1.2 2-3.3 1.4-10 1.4-2.8-.8-2.1-2-.2-4 5-10zM1098.6 1127.6l7.9-.8 1.7 .8 .6 2-1 2-1.3 .8-4 .8-3.7-1.6-1.2-2zM1534.5 1163.6l0-.9 2-.8 2 3.6 0 2.8-2 2.2-1.8-2.9zM1625.9 1177.6l.6-.5 2 1 1.1 3.5-1.1 2.5-4 .3-.8-.8 .8-5.2zM1542.9 1179.6l1.6-1.4 2-.2 2.8 1.6-.8 .7-2 .2zM1678.4 1189.6l4.1-1.3 8 .5 0 36.6-2 .8-4 .7-4-.7-8-4.6 .4-10 2.5-10 .8-8 .5-2zM1531.6 1197.6l2.9 0 12 2.4 1.9 1.6 .1 2-1.5 2-4.4 2-8.1-.1-3.1-1.9-2.1-4 0-2zM1527.9 1245.6l2.6-1.3 2 .3 8 12.4 .7 4.6 2.2 6-.6 4-2.1 4-6.2 1-2-.5-2-1.1-4-4.7-2-.6-8 3.4-6 4.6-10 2.5-6.9 9.4-1.1 2.9-3.2 3.1-1.3 0 .5-3.4 6-8.5 7.5-8.1-1.4-6 .1-2 1.2-2 6.6-3.6 6-1.5 3-6.9zM1082.4 1249.6l2.1-1.4 2-.2 6 2.5 6-.2 2.3 1.3-.1 2-8.2 3.4-4 .1-5.3-1.5-2.9-2 .3-2zM1165.4 1287.6l3.1 0 4.2 4 .3 2-.1 4-2.4 2.5-2 .3-2 1.4-4.4-4.2-.3-2 .7-5.8zM1494.4 1293.6l2.1-.2 4 1.7 1.7 2.5 0 2-5.7 2.2-2.9-.2-1.1-1-.5-3 .3-2zM1074 1295.6l2.5-.1 .9 2.1-1.8 2-3.1 .7-.9-.7 .6-2zM1476.8 1349.6l3.7-1.2 2.8 1.2-.9 2-3.9 1.3-2.2-1.3zM1444.9 1371.6l3.6-1 1.4 1 .2 2-1.2 4-2.4 3.1-4 3.4-2 .7-3.3-1.2 1.2-6zM1072.9 1397.6l1.6-.8 6-.5 2 .4 .9 .9-.1 2-2.8 2.4-4 .8-2.8-1.2-1.2-2z"/>
<path fill="#1F14FF" d="M1406.1 815.6l2.4-1.4 2-.3 5.8 1.7 2.9 2-2.8 2-8.9 0-1.7-2zM1634.2 885.6l16.3 3.8 14-3.8 7.1 8 16.9 2.7 1.7 1.3 .3 1.1 0 19.2-2 1.6-16-4.1-2-.8-8-7.2-2-.8-12 5-2-.5-8.2-9.5-3.3-6-2.9-8zM1492.2 895.6l8.3-1.4 2.9 1.4 3.1 3.1 6.5 12.9 7.1 8 2.3 8 8.1 15 4 5 2 1 2 2.3 2 4.8 1.5 1.9 6.5 3.3 2.5 2.7 2.7 6 2.1 10 2.7 3.2 4 1.5 14 2.1 10-.7 8-9.9 4-3 8-.1 12-2.6 6 .2 6.9-2.7 9.1-6 8-3.8 8-2.1 4.7-2.1 5.3-3.7 9.1-4.3-4.6-4-.2-4 1.2-2 4.5-2.6 8-.9 6-5.7 0 112.2-1 1-.3 2 .2 16 1.1 5.3 0 9.1-5.4 15.6-4 8 1.7 6 .3 4-.6 2.6-2 2.6-2 1-2-.1-6-1.7-6-6.3-2-.5-6 0-8 1.4-8-4.8-4-1.4-7.2-6.8-1.8-4-1-6 .5-2 1.5-1.8 2 .2 2.5 3.6 2.9 2 1.3 0 .8-2-3.5-5.5-1.8-6.5-4.4-8-1.8-1.9-4-1.5-1.7-2.6 .8-2 4.9-5.2 1.3-6.8 4.2-8 2.2-6-1.3-2-16.4-5.7-14 1.9-12-.8-14-2.8-4 .2-18 4.2-6-.3-4.2-2.7-11.9-16-13.9-10.8-3.1-3.2-6.6-8-.9-4 4.2-12 2.2-4 .2-2-6-9.3-5.6-6.7-4.4-13.5-8-8.5-2-8-3.1-6 .3-4 1.6-4 1.3-2zM1318.4 971.6l6.1 .7 8 4 2.9 3.3 3.1 5.3 7.2 6.7-.1 2-7.1 3.5-4 3-8 9.7-3.6 11.8 1.7 10-.3 6-3.8 6.4-2 2.2-2 .9-6-1.6-8 1.2-4-.8-4-3.6-7.2-8.7-1.3-4 .1-2 4.5-8 .2-4-3.5-10-2.8-3.2-4.6-2.8-1.5-2-.3-4 .9-4-.5-2-14 3.5-12 .9-10-1.3-8 1.5-6 .1-10-2.4-4 .2-5.2 3.5-3.9 6 .4 4 2.8 4 1.4 4-2.8 8 1 10-1 4-2.7 1-10-1.1-6 1.4-2 0-4-1.9-14-.8-2.6 1.4-1.7 4-1.7 1.6-12.4 6.4-3.2 4-2.4 1.8-9.5 4.2-2.5 .5-4-.4-2.3-2.1-.1-2 1.1-2 5-4 .8-2-.6-2-1.9-1.7-4-2-6-.8-12 4.2-8 .5-3.8 1.8-1.6 2 0 2 4.1 14 .3 2-1 2.3-4 0-10-3.8-4-.5-8 3.1-10 2.7-4 4.1-6 .4-6 2.1-2 0-4.2-4.4-3.8-.9-2 .5-2 1.7-2.8 4.7-3.2 3.3-4 2.7-2 .4-2-1-1.8-5.4-2.2-3.1-9.9-6.9-1.7-2-2.5-8-3.9-8 0-34.8 .6-1.2 3.4-4.4 6.2-5.6 3.2-8 3.3-4 5.3-2.7 10.3-1.3 11.7-7.5 4-1.8 12-.9 2 .3 2 1.4 1.2 2.5 1.1 10 3 4 4.7 2.5 2.8-.5 6.5-6 4.7-2.2 4-.4 12 .9 22-1.7 10-2.1 8-.5 12-6.1 10 .1 16-3.4 10 1.3 10-.8 10 2.8 16-4.3 20 4.4 4-.4 6-2.4 4-.4 10 2.5 12 8 8 .4 4-1 7.2-6.7 4.8-3.3 4-1.4zM1377.7 981.6l4.8-.4 18 5.1 2 2.3 3.8 9 4.2 3.8 4 2.2 8 .9 8 7.8 4 1.4 4 .4 4-.8 6-2.8 10-.5 3.6-2.4 1.7-2 1.7-4 .4-4-.6-6 .7-4 2.5-2.6 2-.5 2 1.4 2 9.7 4 1.2 2 1.4 5.2 5.4 2.1 4 2.3 10 .2 4-3.5 8 .3 10 1.4 2.9 6 1.3 1.5 1.8 .5 4.1-2 3.7-6 2.7-4 5.5-10 6.9-1.2 1.1-.5 2 1.7 3.9 2 1.5 7.7 2.6 1 2-.4 2-4.3 3.3-4 1.1-6.4-2.4-3.6-2.4-4-.4-10 2.8-6 3.3-4 1.3-12-1.9-4-1.6-6-3.6-2.2 .5-2 2-.7 2 .9 8 2 4.2 2 1.3 4 1.1 12 .9 1.6 2.5-.9 2-6.7 3-6.5 5-1.5 3.7-.7 4.3 .9 10-.5 2-1.7 1.3-2 .4-10-1.5-2-1.1-6-12.8-4-3.2-6-1.6-10-.8-14-2.6-4-.1-6 1.2-6-.6-6-3.1-3.2-3.5-.9-2-1.2-10-2.1-8 .3-2 3.4-6-.3-3.8-1.6-4.2-.3-4 .9-4 2.9-6 4.1-3.5 4-1.5 4-.4 6 .2 2.9 1.2 3.1 3.3 6 9.8 6 7.8 4 2.8 14 .7 4-2.7 3.3-5.7 .3-4-.7-2-1.5-2-7.4-5.4-5.5-8.6-5.5-6-3.7-10-3.3-4.1-7.2-5.9-1.4-2-.1-4 1.8-4 2.9-2.9 7.8-5.1 0-2-3.3-4-.6-6-1.9-6 .6-2zM1242.1 1017.6l2.4-.5 4 .6 4 2.5 2.6 3.4 .2 4-.9 6 .3 6-.7 2-1.5 1.6-2 .4-6-.8-4 .3-4 1-4 2.1-2-.4-1-2.2 2.4-8-1.4-2.5-6.7-3.5-1.1-2 .1-2 2.3-4 3.4-3.2 2-.4 6 1.4zM1303.2 1067.6l11.3-.1 1.7 2.1 .5 2 .4 6-.6 1.9-3.7 4.1-2.4 4 0 4 2.6 8-.5 4.1-2 2-12-4.8-2-1.3-1.1-2 .1-4 1-3.1 6.7-6.9 .1-4-2.7-8 .2-2zM1640.7 1119.6l1.8-.5 6 1.5 6-.1 4 3.1 2 4.2 6.1 1.8 3 2 2.9 3.7 2.5 .3 2.2 2-.7 .9-2 0-2-2.2-2 .1-6 2.6-2.9 2.6-1.1 2.9-2.3 3.1-9.7 3.7-6-.2-10.5-3.5-1.9-2 0-2 .8-2 4.2-4 .8-2-.7-8 1.6-4 1.7-2.4zM1684 1191.6l2.5-.3 4 1 0 29.9-4 1.3-4-.3-4-2-2-2.9-1-4.7 .3-6 3.7-12 1-2zM1507.5 1273.6l1-1.1 4 1.1-6 3.3-1.5-1.3zM1164.3 1291.6l2.2-1.5 2 .3 1.6 1.2 1 2 0 2-1.1 2-1.5 1.1-2 .2-2-1.1-.9-2.2z"/>
<path fill="#0820C8" d="M1632.8 887.6l1.7-1.6 4 1.7 12 2.3 14-3.9 6 7.6 6 1.9 12 1.6 1.6 2.4-.2 18-1.4 1.3-8-1.9-2-1.1-6-.9-12-9.4-12 5.3-2-1-7.7-8.3-3.1-6zM1495.7 897.6l4.8 .2 4 3.3 5.5 14.5 8.5 7.6 8.3 16.4 5.6 8 3.9 2 1.7 2 2.5 6 2 .5 6.2 5.5 2.2 4 2.2 10 1.4 3.1 2.5 2.9 3.5 1.8 16 2.4 6-.2 6-1.2 1.9-.8 8.1-8.5 16-4.2 12-1.3 20-11.2 16-6.6 14-7.8 .6-.4-.6-1-3.5-3-.7-2 .4-2 1.8-2.1 2-.9 4-.4 4 1.3 4 2.9 2-.8 0 96.2-2 0-2 1.8 1.6 12-.4 10 1.7 10-1.5 6-1.4 3-2 1.8-2-1.2-2-3.9-.5 .3-.7 2 2 10-.4 2-1.5 2-2.9 1.4-2 .1-4-1.1-3.8-2.4-1.6-2-1.2-8-1.4-3.2-6-4.5-4-1.1-6 1-2-.3-2-1.4-1.1-2.5 2-6-.9-3.1-2-1.8-6-1.8-2-1.4-1.2-3.9 0-4 2.3-4 6.9-4.8 9.5-1.2-2.7-6 0-2 2.5-6-3.3-.3-10 2.5-8-1.5-8-3.6-26 2.7-4-.3-10-2.9-6-.5-4 .6-8 2.7-8 1.4-4 0-2.4-.8-2.6-2-12.4-16-15.1-12-5.3-8-1.3-4 .4-4 1.4-4 5.7-10-5.6-10-7.8-8-1.4-4-2.4-14-1.2-1.6-4-2-2-2.1-5.2-10.3-.2-4 1.4-3.3 2-1.7zM1306.5 975.6l6-1.3 8-.3 8 2.9 4.5 4.7 3.1 10-9.6 14.5-2.8 5.5-3.1 10 .5 8-1.8 6-2.8 2.8-4 1.7-10 1.3-4-1.2-2-1.4-4-3.9-2.2-3.3-.2-4 3.6-6 1.2-6-.9-8-2.7-8-.4-6 .2-2 7.8-10 4.2-4zM1174.3 977.6l4.2-1.1 8 .9 10-.9 14 4.6 12-2.4 2.9 .9-.9 2.5-8 2.4-4 2-10.2 11.1-.9 4 2.2 8 0 4-4.9 8-.8 4-1.4 1.5-2 .7-4-.1-12-2.4-6 1.8-8 .3-3.4 2.2-3 6-1.9 2-3.2 2-2.5 .6-10 .1-10-4.4-8-1.6-6 .9-8 2.2-8 .6-14 3.7-10 1-4 2.3-1.4 2.6 2.8 8-.4 2-1.9 2-3.1 .6-8-.4-8-2.1-2 1.7-2.2 4.2-1.8 1.5-4 .5-8-1-3.2 1-2.2 2-3.4 6-1.2 1-2 .3-14-11.8-4-4.4-8-17.2 0-21.8 2-2.5 3.5-7.6 7.4-6 1.5-2 2.9-8 4.7-3.3 4-.6 6 .2 4-1 8.3-7.3 3.7-2.4 4-.5 8.1 .9 1.3 2 .1 2-2.6 10 1.4 2 3.3 2 10.4 2.7 4.2-.7 6.6-8 5.2-2.5 26-.2 12-1.1 8-1.7 8-.2 12-5 12 .2zM1254.4 979.6l4.1-.9 4 .9 3.2 2 .8 2-1.9 2-5.7 2-6.7 0-3.3-2 0-2zM1384.2 989.6l2.3 0 2 4.3-2 .9-1.2-1.2-1.2-2zM1393.9 1001.6l4.6-.3 4 .7 3 1.6 5 4.3 10 1.4 8 5.8 8 1.6 4-.2 10-2.7 10-.8 6-2.7 6-1 2-2.4 2-1 2 1.3 4.3 6.4 .3 4-4 6 .9 8-.4 2-5.1 2.6-1.2 3.4 3.2 10.9 3.3 5.1 .5 2-.8 2-3 2.1-8 2.4-3.5 3.5-2.7 6-1.8 1.8-6 2.1-10 7.1-4 1-6 .1-6-1.8-6.8-8.3 0-4 2-6 0-2-1.2-1.5-2-1.1-10-1.6-12-6-10.1-11.8-3.2-8-9.9-12-2.3-4 .2-2 1.3-1.5 10-4.4 2.5-2.1 3.5-4.6zM1243.7 1029.6l2.8-1.9 2 .1 .9 1.8-.9 3.1-2 1.8-2 .4-2-1-.2-2.3zM1346.4 1057.6l4.1-1.6 4-.1 4 .4 4 1.7 3.6 3.6 3.6 8 6.8 10.1 2 1.5 12 .7 3.5 1.7 4.5 4.4 11 5.6 .7 2-.4 2-5.9 4-1.2 2-1.6 6-1.8 2-3.4 2-5.4 .6-10-.3-16-2.8-10 1-6-1.7-3.5-2.8-1.7-4-.6-6 .1-4 2.1-8 .4-4-2.4-14 1-6zM1650.5 1087.6l2-1.9 4.2 1.9 .9 2-1.1 1.4-2 .4-2.9-1.8zM1410.5 1101.6l2 .4 2.9 3.6 .7 2-1.3 4 1.7 2.3 1.3 3.7-.9 12-.4 1-2 1.1-4-.2-2-1.4-1.7-4.5 .6-6 3.6-6-2.5-4-.4-2zM1641.7 1127.6l.8-1.2 2-.3 4.1 1.5 1.5 2-.7 8 .9 6-1.8 2-3.4 0-2.6-2-.5-2 1.2-6zM1683.8 1195.6l2.7-1.2 4 1.2 0 23.6-4 1.8-4-.5-2-1.3-2.3-3.6-.9-4 1.2-6.2 3.6-7.8z"/>
<path fill="#0A5A82" d="M1633.3 887.6l1.2-1.1 4 1.6 12 2.3 4-.6 10-3.3 6 7.7 6 1.7 6 .6 2 1.2 4 .3 1.2 1.6-.4 18-.8 .7-8-1.8-2-1.1-6-.9-10-8.6-2-.7-12 5.1-2-1.1-7.2-7.6zM1494 903.6l2.5-1.9 2 0 2.9 1.9 1.6 4-.5 2.5-1.2 1.5-2.8 1-2-1.5-2-3.7zM1508.6 923.6l1.9-1.3 4 0 2 1 2 2.3 6.9 14 3.8 6 1.7 2 5.6 3.2 3.4 6.8 3.8 2 .8 2.1 3.6 3.9 2.4 8 1.4 2 2.8 8 2.8 2 3 1.1 16 2.2 10-.8 7.3-2.5 7.8-6 4.9-2.9 8-2.3 10-1.2 16-8.7 22-10 15.8-8.9 .1-2-3.5-2-.8-2 .6-2 1.8-1.4 4.3-.6 3.7 1.8 2 2.9 4-.3 0 89.5-4-.7-2-1.9-3.4-7.3-2.2-8-2.4-5.4-5.7 11.4-.3 2 1.2 2 8.8 6.9 1.1 3.1 0 2-3.1 8-.9 8-2.5 6 .4 8-4.4 12 .2 4-.8 .4-.9-4.4-1.1-1.1-3.5-8.9 .1-2 3-6-.5-2-7.1-4.7-3.4-7.3-.1-2 .9-2 3.7-6 1.3-6-.1-8-2-4-2.3-2.5-2-.7-8-.2-10 3-6 1-4-.6-6-2.5-18 2.4-10 2.3-4-.5-8-2.8-6-1-6 .7-8 3-8 1.3-4-.2-4-2.3-10.9-14.4-15.1-12.1-3.1-3.9-1.9-4-1.1-4 .1-4.1 2.6-5.9 4.7-6 .1-2-6.7-12-5.6-6-3.9-8-.8-4 .3-2zM1307.2 977.6l9.3-1.6 4 .4 3.8 1.2 5.2 4 1.1 2 .5 4-4.8 14-3.8 8-3.7 10-.6 8-1.2 4-4.5 3.4-6 1.7-4-.5-4-1.8-3.5-2.8-.7-2 .3-2 3.1-6 2.1-10-3.6-14 .5-6 4-8 3.4-4zM1177.9 979.6l18.6-1 4 1.3 5 3.7 1.1 2 0 2-1 2-5.8 6-1.7 4 1.4 10-1 4-6 5.3-4 2.4-12-.9-16 4.1-3.3 3.1-3.4 6-3.3 2.2-10 .3-12-3.9-6-.6-24 3.3-10 3.1-10 .4-8.6 3.2-2.5 2-1.2 2-1.7 6.7-2 2.1-2 .3-6-1.6-4 0-4.6 2.5-3.5 4-3.9 .9-8-.2-4 1.9-4 4.1-2 .1-6-3.5-8-6.5-4-5.5-3.2-9.3-.8-1.3-2-.9 0-17.3 2-.8 6-10.9 9-6.8 3-8.2 1.9-1.8 2.1-.8 10 .6 4-.9 4-2.6 5.5-6.3 2.5-1.2 4 1 1.1 2.2-3.9 8-.1 2 1.2 2 3.7 2.2 6 1.7 14 1.7 4-1.3 5.8-8.3 4.2-2.5 28-.7 18-2.6 10-.1 10-3.9 10 .8 4-.3 6-1.8zM1396.3 1015.6l2.2-.5 4 .5 4-.9 6 1.3 6-1 2 .3 8 3.5 6 .8 20-3.2 8 .1 4 1 5.2 6.1 1.3 4-.1 2-3.5 10 .6 14-1.5 2-8-1.2-10 1.5-4 0-8.4-6.3-1.4-2-.8-6-1.4-3.7-2-2-2-.6-2 .7-2 1.9-9.5 15.7-2.5 .1-8-3-13.3-9.1-1.2-2-2-8-5.4-6-.5-2 1.6-2zM1682.5 1041.6l2-.9 1.9 6.9-.6 10 1.8 8-1 6-2.1 2-2.4-2-1.3-6 1.1-10-.6-8zM1652.3 1057.6l2.2-1.4 2-.1 1.9 1.5-.4 2-3.5 .8-2.4-.8zM1350.3 1059.6l4.2-.1 4 .8 3 1.3 2.1 2 3.5 12-.6 12 2 2.6 2.2 1.4 3.8-.1 8-5.2 4-1 2 .5 5.3 5.8 6.3 4 0 2-3.6 7.5-3.2 4.5-4.8 1.9-6 .4-18-3.1-10 .5-4-1.3-3-2.4-1-2-.6-6 3.1-10 .2-4-2.1-20 1.4-2.9zM1428.6 1067.6l3.9-1.3 4 .2 12 5.1-2.6 6-3.4 3.2-4 1.5-6 0-3.8-2.7-2.9-6 .7-3.3zM1684 1199.6l2.5-1.8 2 .1 2 1.7 0 16.2-2 2.1-2 .7-4.1-1-1.9-2.1-1.2-3.9 1.1-6z"/>
<path fill="#0B9440" d="M1633.8 887.6l.7-.6 4 1.4 12 2.5 14-4 6 7.7 18 4 .7 1 .1 4-.1 12-.6 2-16.1-3.5-10-8.8-2-.4-12 4.7-2-.9-6.8-7.1zM1511.4 923.6l3.1 .1 2.4 1.9 8.1 16 5.5 7.8 2-.3 2 .8 2 1.8 2.8 5.9 3.9 2 4.9 8 .4 2.5 2.7 5.5 3.3 9.7 6 2.7 16 2 10-.8 10.7-3.6 11-8 4.3-1.5 12-2.1 16-8.8 22-10 20.3-11.6-.3-1.7-2 .4-3.3-.7-1.2-2 1.3-2 3.2-.6 1.7 .6 1.3 2-.9 2 1.9 .8 6-1.8 0 83.2-2-.3-2-1.4-2.9-4.5-4.2-14-.9-9-4 6.4-2 1.3-2 .1-10-3.3-4.1 .5-1.9 2.2-6-1.1-2 .2-6 3.8-8 1.6-8 3.5-6 1.3-8 .6-14 4.3-4 .1-10-3.6-6-1-6 .7-8 3.3-4 .9-6 .3-3.4-1.1-2.6-2.4-8.5-11.6-5.5-5.3-10-7.3-3.8-5.4-1.6-6 .1-4 3.8-8 3.9-4-7.8-14-6.6-8-4.1-8 .1-4 2-2.6zM1308.2 979.6l6.3-1.3 6 .7 4.2 2.6 1.8 4-3.4 16-6.3 16-1.8 10-2.5 2.8-4 .9-4.9-1.7-1.9-2-.6-2 2.1-14-3.3-12-.4-4 1.3-6 1.8-4 2.9-4zM1188.2 981.6l4.3-.9 4 .2 4 2.4 1.4 2.3 .2 2-1 2-7 8-.3 2 2 8-1.3 3.6-2 1.7-4 1.9-8 .6-12 3.5-10 1.9-3.5 2.8-3 6-1.5 2-2 1.1-8 .4-10-3.5-8-1.1-10 .3-16 3-8 3.2-10 .7-11.7 3.9-2.7 2-3.6 5.9-2 1.5-6 .1-14 4.8-10 1.6-10 3.3-4-1.1-8-5-3.6-5.1-2.4-8.1-4-2.3 0-13 4-2.3 4-8 1.9-2.3 9.2-6 4.3-8 2.6-1.6 10 1.9 6-.5 18 7.3 18 1.1 4-1.6 5.1-8.6 2.3-2 2.6-1 12-.7 14 .1 20-2.7 8 .5 10-3.4 16 1.7 6-1.2 8-4.3zM1452.2 1019.6l6.3-.1 4 .8 4 2.8 2.7 4.5 .1 4-3.4 14-1.4 3.1-2 1.3-10 1.9-5.7-2.3-4.3-3.9-6-11.1-4-5.3-2-1.3-6 1.6-3.5 2-2.6 8-1.9 2.2-4 2.1-4 .5-4-.9-6-2.9-2.4-3-.2-4 2.6-8.4 8-.4 6 2.1 4-1.5 3.9-3.8 2.1-.4 2.2 .4 5.8 3.3 2 0 12-4.4zM1666.2 1039.6l2.3-1.3 2 .1 1 3.2-1 4.6-2 .6-2.6-1.2-1.2-2 .2-2zM1356.1 1073.6l2.4-1.3 2 2.9-.5 14.4 2.5 3.9 2 1.6 4 1.6 4 .4 2-.5 6-3.8 4-1.7 2 .1 4 3.1 2.4 3.3 .1 2-1.8 4-2.7 3.4-2 1.3-4 .9-16-3.2-10 .4-3.1-.8-2.7-2-.9-2-.3-4 3.5-10-.4-8 1.6-4zM1684 1203.6l2.5-1.9 2 .4 1.7 3.5-.3 6-1.4 2.8-2 1.4-2-.1-2-1.6-1-2.5 .3-4z"/>
<path fill="#2EBE18" d="M1634.3 887.6l14.2 3.8 6-.9 10-3.1 6 7.7 18 4.1 0 17.3-4 .2-10-3.1-2 0-10-8.7-2-.4-12 4.6-2-.9-6.3-6.6zM1509.6 925.6l2.9-1 2.5 1 5 8 3.3 8 5.4 8 5.8 .9 2 2.2 2.2 4.9 4.1 2 4.6 8 1 4 3.2 6 2.9 9.3 6 2.3 16 1.9 10-1 13.2-4.5 8.8-6.6 4-1.6 10-1.8 20-10.7 20.6-9.3 23.4-13.3 4-1.1 0 75.5-2 0-2.7-3.1-3.1-10-2.2-10-2-3.9-4 4.8-4 2.7-12-1.8-13.9 2.2-6.1 2-14 7.4-4 1-10 .7-14 5.6-4 .2-10-4-6-.9-6 .8-10 4.1-6 .4-4-.7-3-2.6-5-7.5-6-6.6-12.9-9.9-2.7-4-1.3-6 .2-4 2.2-6 4.7-6-4-6-1.3-4-2.4-4-6.5-7.4-4-7-1.2-3.6 .5-2zM1310.5 981.6l4-.5 4 .8 2 2.1 1.1 5.6-2.8 16-5.6 10-.7 8.9-2 2-2 .2-2-1-1-2.1 .2-4 1.7-6-3.9-12-.6-6 1.3-6 1.7-4 1.5-2zM1190.6 983.6l3.9-.3 2 1 1 1.3 .1 2-1.1 1.8-6 3.6-4 .5-2-.4-1.3-1.5 1.3-4 2-2zM1150.3 989.6l6.2-.5 10 3.6 10.3 6.9 4.8 6-.5 2-1.9 2-10.7 6-10 1.1-5.5 2.9-1.7 2-2.2 6-2.6 2.3-6 .2-20-6.2-10 1.1-10 3.1-8 .1-2 .6-4 3.1-10 1.7-11.9 4-6.1 4.8-12 5.8-26 6.5-6-1.1-7.7-4-2.7-4-2.6-8-5-3.1 0-7.8 4.8-3.1 5.2-8.9 3.7-3.1 6.3-3.3 6-6.2 2-1 6 1.2 10 .1 16 5.6 26 2.1 1.3-.5-.3-6 1-4.3 2.9-3.7 3.1-1.3 8-1 18 .3 16-2.6 12 .7zM1444.2 1023.6l8.3-1.2 6 .1 4 1.4 3.4 3.7 .7 2-.2 4-3 10-1 2-1.9 1.6-4 1.1-4 0-4-2.2-4-4.4-5-8.1-.8-4 2.5-4zM1381.8 1097.6l2.7-.5 1.3 .5 1 2-2.3 3.6-2 1-3-.6-1.1-2 1.1-2z"/>
<path fill="#78D60F" d="M1635.5 889.6l1-1 12 3.2 2 0 8-2.7 6-1 6 7.5 16 3.1 1.7 .9 0 16-1.7 .9-2-.1-2-1.1-10-2.2-10-8.7-2-.2-10 4.1-2 .3-2-.9-6-6.3zM1509.3 927.6l1.2-1.1 2-.5 2.5 1.6 3.5 6 2.2 6 .6 4-.8 1.2-6.6-5.2-4.5-8-.8-2zM1685.3 943.6l5.2-1.8 0 69.3-2.2-1.5-5.8-16-1.1-6 .4-8-1.3-1.9-1.6 5.9-1.9 4-2.5 2.8-4 3-4 .4-8-1-6 1.6-10 1.6-6 2.1-12 6.5-14 2.3-10.5 4.7-5.5 1.4-4-.9-8-3.5-6-.8-6 .8-10 4.3-6 .3-4-1.2-13-16.4-3-2.8-8-5.2-2.1-2-2-4-.6-6 1.2-6 2.3-4 2.6-2 .8-2-2.2-2.9-2.3-5.1 .3-4.5 4 3.5 .3-1 1.7-.9 2-.4 2 .9 1.9 2.4 2.1 4.8 4 1.5 8.8 17.7 3.2 10.9 6 1.9 20 1.6 4-.5 17.2-5.9 6.8-5 4-1.8 8-1.4 22-11.8 22-10zM1309.5 987.6l3-1.9 2 .6 2.1 3.3-.2 2-2.1 4 .6 8-2.4 2.8-2.8-.8-2-4-.2-4 1.1-8zM1127.5 993.6l7-1 12 1.5 8-2.1 4 1.1 5.4 4.5 .6 2 .5 10-2.5 1.3-8 1.1-3.9-2.4-2.1 .2-5.8 3.8-1.7 2-.2 2 .9 2 2.8 2.5 .6 1.5-.6 2-2 .5-4-1.6-8-1.6-6-3.6-4-1.4-6 .6-14 5.2-2.3-.1-3.1-2-1.2-2-2.1-8-4.2-8 .4-4 1.5-2 3-1.6 4-.8 18 .6zM1031.2 1005.6l9.7 0 3.6 .8 10 4.3 22 3.6 4 2.6 2.1 2.7 .7 2-.1 4-1 2-1.7 1.2-16 6-8 5.4-10 5.1-6.6 2.3-17.4 4-6-.6-6-2-4.1-3.4-2-4-1.4-6-4.8-4-.2-2 1.6-2 2.9-1.9 2.8-6.1 5.2-5.5 8-3.6 6-4.3zM1448.6 1025.6l5.9-.7 4 .5 3.8 2.2 1.3 2 .3 4-1.4 4.6-2 4-2 1.7-4 .7-4-1.4-4-3.4-2.7-4.2-.9-4 .5-2 1.4-2z"/>
<path fill="#C3EE0A" d="M1636.1 889.6l2.4-.1 10 2.8 8-1.6 2-1.2 6-.4 6 7 8 1.2 2 1.1 7 1.2 .1 16-3.1 .4-2-1.1-10-2.3-10-8.6-2-.2-4 1.3-6 2.8-2 .3-1.2-.6-6.8-7.2zM1510.9 929.6l1.6-1.1 .9 1.1 1.1 2.2 0 3-2-2zM1686.6 943.6l3.9-1.2 0 14.7-2 .2-8 4.2-4.9 4.1 2.5 2 1.2 2 .1 4-3.5 10-3.4 4.6-4 2-8-.1-8 2.3-12 2-7.6 3.2-10.4 6-14 2-12 5.4-4-.1-8-3.5-6-1.1-8 .5-10 4.5-4 .3-4-.9-3.6-3.1-4.9-8-5.5-6.4-12-8.5-2.3-5.1-.4-6 1.9-6 2.8-2.7 4.1-1.3-3.7-8 0-2 1.6-2.3 2-.4 2 1.1 4 7.6 2-.2 2 1.2 8.5 17 3.5 12.4 8 1.8 20 .8 20-6.6 10-5.9 8-1.9 20-10.9 24-10.9 14-7.6zM1689.7 961.6l.8-1.2 0 40.3-2-1.4-2.6-3.7-1.7-4-.7-4 1.9-14 2.9-6zM1127.4 995.6l5.1-1.1 4 .3 12.7 4.8-.5 2-6.2 7-8 2.2-4 2.4-2 .1-10-3.4-4-.6-4 1.4-6 3.9-4-.4-4-3-4.8-7.6-.2-2 .9-2 4.1-2.1 6-.3 14 1.5zM1150.9 999.6l3.6-1.6 2 .5 .9 1.1-.7 2-2.2 .3-1.5-.3zM1025.5 1009.6l9-1.5 8 1.3 24 8.7 6-.2 2 .7 1.7 1 1.2 2-.2 2-4.3 4-10.4 4.8-8 5.9-16 7.3-14 3.4-10-1.4-4.4-2-3.5-4-3.8-12 2.2-6 3.5-5 4-2.9 8-2.6zM1452.4 1027.6l4.1 .1 2 .8 2.6 3.1-.6 4.4-2 3-2 1.3-2 .4-4-1.1-3.6-4-.3-4 1.2-2z"/>
<path fill="#FFEE00" d="M1661.1 889.6l1.4-.3 2 .8 6 6.6 8 1 2 1.1 6.3 .8 .7 8-.6 8-2.4 .1-2-1.2-10-2.4-10-8.7-2-.1-12 4.4-6.4-6.1-3.6-6.6-1.1-3.4 1.1-1.2 12 2.3zM1688 943.6l2.5-.6 0 12.9-10 4.5-7.1 5.2 3.3 4 .4 4-3.8 8-2.8 2.9-18 6-14 2.5-8 3.3-8 5.5-4 1.1-12 1.4-10 4.7-4-.2-8.1-3.2-5.9-.5-9.8 .5-8.2 4-6-.3-4-3.1-4.4-8.6-5.6-7-10-5.5-2-1.6-2.1-3.9-.8-6 .8-4 2.1-2.9 4-1.5 1.1-1.6-3.9-8-.2-2 1-1.6 1.2-.4 1.2 0 2.2 2 3.4 7.4 2-1.1 2 1.3 8.2 16.4 3.8 14 8 1.2 20 .6 20-6.7 10-5.1 10-3.6 18.8-10.4 31.2-14.6zM1689.8 973.6l.7-1.1 0 21.8-2-.9-1.3-1.8-1.2-4 .5-4.8 2-7.1zM1129.1 997.6l5.4-.6 6 1.2 2.4 1.4-2 4-2.4 1.7-10 1.8-2.7-1.5-1.2-2 .1-2 1.5-2zM1098.9 1001.6l1.6-.6 4 .4 2.9 2.2-1 2-1.9 1.3-2 .6-2-.4-1.8-1.5-.7-2zM1029.2 1011.6l7.3-.3 10 2.8 8.1 3.5 5 4 1.3 4-.5 2-2.6 4-4.3 4-11 4.5-8 4.3-10 2-8-1.1-4-1.5-4-3.9-2-5.4-.6-6.9 1.2-4 1.4-2 4-3 10-2.6zM1450.9 1031.6l3.6-1 2 .7 1 2.3-.9 2-2.1 1.2-2-.2-1.6-1-.9-2z"/>
<path fill="#FF9E00" d="M1638.4 891.6l12.1 1.6 12-3.2 8 7.3 16 3 .6 9.3-.6 5.4-14-3.4-10-9.1-2-.1-7.3 3.2-4.7 1.1-6-5.8-2-3.4zM1686.3 945.6l4.2-1.9 0 11.1-10 4.3-8.6 6.5 2.5 4 .2 4-2.1 4-4 3.7-16 7.1-10 1.4-12 4-10 6.9-4 1-10 .7-10 4.2-4-.3-6-2-8 0-10 .4-8 3-4-.1-3.1-2-2.7-4-.7-6 .6-2-2.1-.2-2.3-1.8-2.8-6-.9-4.2-1.7-1.8-.3-2.6-1.8 6.6-2.2 .8-4-1.1-2-1.4-1.6-2.3-1.1-4-.1-4 .8-2.2 2-1.9 4-.5 .9-1.4-4.9-10.1-.4-1.9 2.4-1.4 2 1.5 4 8.8 2-2 2 1.5 2 3.6 6 12.7 4 14.9 28 1.2 25.1-8.8 8.9-4.6 6-2 20.4-11.4 21.6-9.4 14-6.9zM1029.4 1015.6l5.1-1.3 14 3.6 7.7 5.7 .5 2-1.7 4-4.5 4.8-10 3.3-10 4.9-8 1-8-2-2.5-2-3-6-.8-4 .7-4 3.8-4 3.8-1.4 8-.6z"/>
<path fill="#FF5000" d="M1660.5 891.6l2.3 0 5.7 5.7 2 1 8.9 1.3 7.1 2 0 12.2-2 .3-12-3.8-8-7.9-2-.9-4 .5-6 2.8-4 .9-5.7-6.1-2.4-6 12.1 0zM1688 945.6l2.5-.9 0 9.1-6-.1-.7-2.1 .4-2zM1531.4 953.6l1.7 0 2.3 6 7.1 12 .9-2-.1-2-1.8-2 .1-2 .9-.7 8 16.8 4 14.7 10 .5 20 .2 8-3.6 16-5.2 8.8-4.7 5.2-1.5 22.3-12.5 23.7-10 6-1.1 1.8 1.1 .4 2-7.6 8 2.6 2 .6 2-1.6 4-2.2 2.1-16 8.4-10 1.2-12 3.3-4 2.2-4.8 4.8-3.2 1.8-12 .7-10 3.4-8-1-20 1.3-10 1.6-4-1.2-2.5-2.6-.7-8-.8-1.5-2 .5-2.6-3-4.3-14-1.8-2-4.5-12-2.8-4.4zM1544.5 972.3l-1.3 1.3 3.3 5.9 1-1.9-1-1.4-1.6-.6 .5-2zM1532.1 969.6l2.4-.1 2.7 2.1 .8 4-1.5 4.1-2 .6-2-.8-2-3.2-.3-4.7zM1036.2 1017.6l9.8 2 4.5 3.4 4 1.6 .6 1-5.3 6-3.3 2-9.7 2-14.3 4.9-4-.5-3.4-2.4-2.7-8 .4-2 1.4-2 4.3-1.7 6 .3 2-.7 6-5z"/>
<path fill="#FF0000" d="M1645.4 895.6l15.1-1.8 2 .9 4 4 2 .7 4 .2 12 2.2 .8 1.8 .2 8-1 1.3-10.6-3.3-9.4-10-2-.8-4 1.2-6 3.1-4 .1-4-5.2 0-1.6zM1688.6 947.6l1.9-1.5 0 5.6-1.7-2.1zM1658.7 963.6l7.8-1 2 .3 .5 .7-2 2-4.3 2 4.5 2 1.7 2-.7 2-5.3 4-10.4 4.8-4 .9-3.6-1.7 2.8-4-1.2-.5-14 3.8-2.2-1.3 2.5-4 3.3-2 11.4-6zM1548.1 977.6l.4-1.4 .9 3.4-.9 1-1-1zM1544.4 981.6l.1-1.5 4 5.9 .9-4.4 1.1-1 1.2 7 1.2 2 .2 4-.6 1.6-1.5-5.6-.5-.5-.7 .5-1.3 2.2-2-3zM1622.1 981.6l2.4 .6 .9 1.4-1.3 4 .1 2-3.7 5-4 2.6-4 .3-6-2-16 4.3-30 3.6-6-1-1.8-2.8 .3-2 1.1-2 2.4-.3 26 2.7 13.2-6.4 8.8-2.5 10.9-5.5zM1034.1 1021.6l4.4-1 4.8 1 3.1 2 2.1 3.7 .9-1.7 3.3 0-2.2 2.2-2 0-2 2.5-2 .9-10 .1-4-1.7-.9-2 .8-2z"/>
</g>
<g clip-path="url(#cpe)">
<path fill="#9BD7F5" d="M131 1722.5l2-2 69.9 0 1.1 1.4 2.2 .6-1.6 6 1.5 10-.4 2-1.7 .4-1.5 1.6-.3 2-4.2 3.5-14 3.9-2.4 4.6-3.6 3.5-4 1.7-4 .2-2.2-1.4-3.8-5.9-6-3.2-6-1.6-12 .4-4-.3-4.2-1.4-2-2-.6-2 .4-8 1.8-4 .1-2-1.5-1.6-2-.9-.4-1.5zM160.5 1852.5l7.5 1.2 1.4-1.2 2.6-.5 7.9 .5 6.1 4 1.7 2 4.3 6.4 .7 3.6-.7 10.7-3.9 3.3-1.1 2-1.4 8-1.9 6 .4 2 2.1 2 .3 2-1.1 4 .5 2 4.1 6-.2 6-5.8 6.8-2 .3-2 1.8-2 .2-4 3.4-5.3 1.5-1.1 2 2.9 2 3.5 1.1 24 3.5 8-.7 6.4-3.9 1.3-2-.2-4-4.2-6-1.4-4 .3-6 1.8-3 12-3.7 3.4-3.3 6.6-9 4-2.9 8-1.3 12 .6 2.1-1.4 3.9-.8 6.7-7.2 .2-2 1.1-1.1 4-.9 6 1.9 6-.3 4.9 4.4 .3 2 2.8 2.9 12 3 2-.8 8-8.1 6-1.8 4 .8 2 2 3.5 8 2.2 18 2.3 2.1 4 .5 2-.5 8-6.6 6.9-7.5 5.1-2.8 10-1.8 8 1.9 4 .2 8-2 8 2.7 5.8 3.8 1.7 2 2.2 8 6.3 7.5 2 .4 2 1.4 4 .3 2 1.3 12 .8 4.6 2.3 3.4 .4 10-2.5 6-2.5 6-3.6 6-7.8 4-2.3 10-1.4 4-5.9 2-1.1 14-.8 8 1.7 10-.4 6 1.9 2-.3 6-3 10 2.6 6-1.8 6 .5 6-1.7 8-1 6.9-3 5.1-3.5 5.3-10.5 4.3-2 10.4-.5 3.5 2.5 1.4 2 4.4 10 1.1 8-.1 16-1.1 4-4.1 6-11.1 10 .5 2 5.5 5 2 3 .6 4-.6 6-4.3 8 6.2 18 3.5 6 .5 6-1 2 0 2-4.9 4.8-10 .5-4 1.9-3.2 2.8-1.5 4-1.3 9.5-1 2.5-5 6-2 1.1-4-1.3-7.8-9.8-2.3-4-.9-6-1-1.4-2-.2-8 1.4-6 3-1.7 3.2 .9 8-1.9 4-9.3 6.4-5.7 5.6-.9 2-.4 2 .6 2 2.9 6 1 4-1 4-4.5 3.6-4 .6-8.5-.2-3.5-1.3-3.6-2.7-2.9-4-.2-14-1.8-4-7.5-5.9-6-3.6-2-.4-.7-2.1-3.3-3.3-2-.6-6-5.3-4-.7-12 4.3-6 .3-4-2.5-4-5-8-6.6-4-.4-2-1.6-4-1.2-2-.2-8 1.6-5.6 5.2-1.7 4-.7 4 .9 8-1 2-2.3 2-7.6 4.5-10 .2-4.8-4.7 .1-6 9.4-16 .7-4-2.2-2-9.2-2.5-4 .9-4.5 3.6-10.6 20-2.9 3.4-2 .9-4 0-8-2-6-.1-4 1.3-6 4-18 1.2-4.3 1.3-5.7 3.1-10-1.7-8 1.1-10.8-.5-6 2-6.5 6-8.7 1.6-4-1.5-2.1-2.1-2-4-.7-6-1.2-1.8-2-.7-2 .3-4 3-2 .3-6-1-4 .6-2 1.5-2 .2-10-.6-2 1-2 2.3-4.1 8.9 .1 4 1.8 4 .6 4-1.6 4-2.8 1.5-4 .2-8-1.2-8 1.9-6.3-.4-3.3-2-1.7-2-4.7-11-2-1.9-2-.5-6 1.6-6 3-4 4.3-4 6.5-4 1.8-8-.1-6-3.9-10-.7-2-1-1.7-2.1 1.5-4 2.2-1.4 6-.8 3.4-1.8 1.9-4 .3-4-7.6-7-6-.4-2-1.7-2-.2-2-1.8-2-.3 0-13.6 .6-1-.6-3.1 0-44.4 1.6-6.5 .4-12 8-13.7 4-4.2 4-1.3 6 0 12-2 6-3.8 6-1.4 2.3-1.6 .9-2 .1-2-3.3-6.7-6-3.5-6-5.2-4-.2-2-1.6-2.5-.8-1.2-2-.9-6-5-10-.3-4 1.9-3.3 8-7 10 .2 2-.5 2-1.9 8-11.1 2-1.6zM258 1917.8l-4.3 2.7-1.6 2-.5 2 .6 2 1.8 1.4 2 .9 4 .2 4-1.8 2.8-2.7 1-2 .2-3.4-2-1.9-2-.3zM705.7 1896.5l2.4 0 2.4 2 2.6 4 .1 4-1.3 2-7.9 8.3-2 .6-4 .1-4.7-1-3.3-1.9-1.1-6.1 7.1-5.8zM740.4 1912.5l5.6-.9 6 .1 5 4.8 .1 2 1.7 2-.2 2-2.6 2.5-8 1-8 2-4-.6-1.9-2.9-.2-4 .7-4 1.6-2zM764.4 1942.5l3.6-.4 10 .5 2 .4 4 2.9 2.1 .6 5.5 8 4.4 15.1 2 2.7 0 35.9-4.1 4.3-1 2 .9 4 4.2 3.6 0 18.9-3.6 3.5-.4 4.6-1.9 3.4-7.7 10-2.4 1.5-18 .2-4-.8-4-2.1-8-8.4-8-4.2-8-3.1-6-6.6-2-.4-2-1.8-4 .2-2 1.8-6 .5-4-.4-14-4.2-6 .6-26-1-4 .7-2 1.6-1.1 3.9 .7 4 1.4 2 9 6.7 6 5.7 6 3.6-.1 2-2.9 4-.2 2 3.2 8.8 .4 7.2-.9 2-3.5 2.9-6.1 3.1-5.9 .8-2 1.5-2 .4-3.5 3.3-2.2 4-.3 2 1.3 14-1.3 3.1-2 2.1-4 .6-2-1.2-10-.6-2.1-2-.4-2 .5-10-2-4.4-.4-3.6-3.6-3.6-2-.3-2-1.7-2-.2-2.7-2.2-.5-2-3.1-24 .9-2 5.6-4 .6-4-.8-2.7-2-2.4-6-2.5-1-10.4 .7-8 6.5-12 1.8-.7 2-1.8 2-.4 4-4.1 2-.3 2-3.7 2-1.8 2-.2 4-3.6 6-.5 2-1.5 10 0 8 1.3 5.4-2.7 2.8-4-.1-2-1.2-2-2.9-2.7-4-1.9-4 .5-6 2.7-4 .7-2 1.6-4 .2-4 .1-2-1.7-4-.4-3.2-3.1-.2-2-1.7-2 0-2 1.7-2 .3-2 3.1-2.8 12-3.8 2-1.5 2-3.9-.1-2-1.9-3.8-8.3-6.2-1.5-2 .1-2 1.7-2.1 10-3.4 2-.1 1.9 1.6 1.7 8 2.8 4 3.1 2 8.5 2.7 2 1.4 6 7.2 4 .6 4-.4 2-1.6 2-.4 1.4-1.5 1.9-6 2.7-2.6 2-.9 12-2.1 16-1.4 2-1.3 8-1.1 14-7.3 10-1.7zM756 1959.9l-3.3 2.6-5.4 6-9.3 5.4-2.8 2.6-2 4-.3 4 .6 2 2.3 2 2.2 .8 4 .1 8-2.8 2-1.8 2.2-4.3 3.4-4 7.2-4 .4-2 1.8-2 .1-2-1.7-4-5.4-3.2zM754 2018l-2 1-.9 1.5 .1 6 2.6 4 4.2 3.1 8 3.4 4-1.1 3.5-3.4 1-2-.1-4-2.4-4.5-2-1.5-6 .1-2-1.5zM104.7 2074.5l1.3-1.1 4-.2 20 10 6 4.6 2 .7 1.2 2-.3 2-.9 .7-2 .1-10-3.2-2 .4-1.9 2-2.1 .6-6-1.2-2-1.4-2.5-6-4.6-4-.8-4zM757.1 2082.5l2.9-1.1 8 .6 8-.8 14 4 8 7.9 0 94.4-8 8.2-2 1-2-.4-2-1.3-6-8.7-6-4.4-5.3-1.4 1.3-.9 2-5.4 .8-3.7-.8-2.1-6-.7-2 1.5-1.4 3.3 .1 2 1.3 3.1 2 2.6 1.3 .3-7.3 3.7-6 4.3-2.8-6-4.2-4-1-1.9-1.3-8.1-4.2-10-.7-4-1.5-2-4.3-1-10 1.2-2-.5-3.5-3.7-7.7-14 0-12 1.2-5.7 2.8-4.3 2.2-8 1.2-2 11.8-7.4 4-1.3 2 .4 6-.5 2-1.7 2-.1 6-5.1zM403.3 2106.5l2.7 1 4 .1 4.6 4.9-.9 10-2.6 4-3.1 1.7-4-2.3-4 1.1-4-.8-4-4.4-3.1-5.3 .4-4 1.9-2zM108.9 2172.5l1.1-1 2-.1 6 1 8 3.5 12 2.3 2 1.3 6 1.5 1.2 1.5-1.2 2-8 .6-10-.3-2-1.3-8-.5-2-1.6-6-1.4-1.8-1.5-1-4zM197.7 2204.5l2.3 .1 2 1 14 9.4 11.3 3.5 6.6 6 5.3 10 10.8 2.6 7.7 5.4 6.3 6.5 2.1 3.5 1.9 6.1 2 3.5 18 18.4 6.9 6 7.2 8 5.9 10 2.9 8 3.1 4.6 20 16.9 4 4.5 2 4-.8 4-14.5 0-.7-.7-12.6-13.3-1.4-4.5-2-3-16.5-16.5-.6-2-5.3-6-.5-2-5.6-6-.4-2-4.2-8-6.3-6-4.6-3.2-6.8-6.8-1.7-2-.5-2-5.2-6-5.8-5-2-.5-2-1.8-6.4-6.7-1.6-2.9-10-9.5-18-7.5-8-8-2-3.7-.2-2.4 .9-2zM568.1 2216.5l1.9-1 4 .6 6 4.2 1.5 2.2-.1 6-2.4 6-.8 6-2.9 8 .1 2 6.1 8 .7 6 1.7 4 .4 4-2.3 8-1.6 10-1.6 2-.5 2-10.3 12.8-4 2.7-4 .8-2-1.3-2-.1-2-1.7-2-.3-2.8-4.9 .2-4 1.7-4 2.9-5.1 5.3-6.9 4.7-8 .2-2-.7-8-1.2-2-8.3-8.2-.9-3.8 0-6 .3-2 1.6-2 1-3.8 4.8-4.2 2.2-4-.6-2 3.6-7.2zM570 2226.3l-2 .4-2.4 1.8 .1 2 2.3 2.1 3.9-.1 1.3-2-1.2-3zM611.1 2228.5l.9-.7 4.8 2.7 0 2-2.8 2.8-4-.2-2.5-2.6 0-2zM591.3 2260.5l4.7-1.4 2 1.4 .1 2-2.1 1.1-4 .1-.7-1.2z"/>
<path fill="#4A8CCB" d="M131.6 1722.5l2.1-2 3 0 3.3 1 6.5-1 30.1 0 1.4 .9 4 .6 6.1-1.5 14 0 .8 2-.3 4 1.1 10-.4 2-5.3 7-8 3.3-8 .6-.8 1.1 0 4-1.2 2-4 3.3-4.8 .7-3.2-1.8-2-4.8-12-6.1-4-.3-6 1.2-4 0-4-.9-2.5-1.3-1-2-.1-4 2.1-10-.5-2.5-4-2.9zM171.6 1854.5l2.4-2 2 .1 6 3.1 2.9 2.8 7 10-.2 6-7.8 8-.5 8-4.3 8 .3 4 2.9 8 4.3 6 1 4-1.7 6-1.9 2.2-2 .4-2 1.8-2 .2-2 1.5-8 1.3-8 .2 .1 2.4 3.6 4 8.3 2.4 26 3.2 8-.5 6.6-3.1 2.5-2 1-4-.6-2-4.6-6-1.4-4 .5-5.4 1.9-2.6 8.1-2.4 4-2 3.6-3.6 5.2-8 5.2-3.5 6-1.2 12 1.1 6-2.6 7.1-7.8 .9-2.6 4-.2 6 2.1 6-.5 4 2.8 .8 2.4 3.2 3.4 12 4.5 2-.7 8-7.7 6-1.6 4 1.1 3.1 5 1.9 6 .6 8-1.4 8 1.5 2 2.3 .9 6 .6 3.8-1.5 13.5-14 2.7-2.2 4-1.9 8-1.4 12 2.3 10-1.2 6 2.2 3 2.2 2.7 4 2.3 6.8 6.6 7.2 11.4 3.5 10 .9 8 3.4 8.2-1.8 10.1-4 6.6-4 7-8 4.1-1.5 8-.5 2-.7 1.7-1.3 2.3-4 2-.8 12-1.6 8 2 10 0 6 1.7 2-.3 6-2.8 2 0 8 3.2 6-1.7 6 .2 6-2.5 10-1.9 10.1-5.5 1.7-2 4-8 2.2-1.7 6-2.1 4.4-.2 3.6 2.3 2.6 3.7 4.1 10 .8 8-.7 8 .4 6-1.5 4-3.7 5.2-6 5.6-5.3 3.2-1.1 2 .4 2.3 8 7.6 1.5 4.1-1.1 6-4.1 6-.4 2 4 10 1.8 8 3.6 6 .9 10-4.2 4.2-6-.6-4 .5-7.5 3.9-1.8 2-2.4 14-2.3 3.1-4 2.8-2 .1-2-1.1-6.2-8.9-1.1-4 .6-4-.4-2-2.3-2-4.6-.2-8 1.7-6 3.1-3 3.4-.4 2 1 8-1.8 4-16 12-1.2 2 .6 4 3.9 8 .4 4-.7 2-3 2-5.8 1.1-8-1.3-5.4-3.8-2.4-4 .7-8-1.3-6-1.6-3.5-4-3.6-13.1-8.9-3.8-4-5.1-3.9-4-1.6-2 .1-10 4.1-4 .8-4-.3-2.1-1.2-5.5-6-6.4-5.5-12-4.9-6 .6-8 3.4-2.6 2.4-2.7 6 .2 10-.2 2-1.1 2-7.6 5.1-3.1 .9-6.9 .1-4.3-4.1 .3-5.6 10.7-16.4 2.4-6-1.1-2-12-1.9-6 1-4 3-6.7 9.9-5.3 10.8-2 2.6-2 1.1-2 .3-10-1.9-6-.2-4 1-6 4.2-2 .7-16 1.2-10 3.3-10-.9-8 1.4-10-.8-6 1.3-8.4 5.9-7.6 1.7-4-1.4-1.9-2.3-1.8-10-2.2-2-2.1-.7-4 .4-4 2.6-6-.3-8 3.2-8-1.7-4 .7-2.1 1.8-5.6 12-.3 2 2 6 .3 4-1.1 2-3.2 1.8-4 .2-6-1.3-8 2.8-2 .2-4-1.2-4-3.9-5.3-12.6-2.7-1.7-2-.3-2 .3-11.3 5.7-3.8 4-4.3 6-2.6 1.3-5.7-1.3-8.3-3.5-8 .9-2-.7-.9-.7-.2-2 1.1-1 2-.6 6-.2 2-1 6-9.6 4.3-3.6-5.9-2-6.4-.5-4-3.1-10-2.3-4-3 0-8.1 2.7-3 .5-2-.8-4-2.4-3.6 0-25.3 .8-3.1 0-10 1.8-8 .7-12 3.3-6 7.4-9.1 4-1.4 8 .9 10-.8 8-4.9 2-.2 6 1.8 1.9-8.3 .1-2-1.3-4-4.7-8.8-12-6.4-6.2-.8-1.4-2-2.1-8-3.5-6-.9-4 .3-2 1.2-2 6.6-6.2 2-.6 8 .4 4-1.3 3.9-6.3 6.1-7.2 4-.7 6 2.5 2-.7zM260 1916l-5.5 2.5-3.7 4-.5 4 1.9 2 3.8 1.4 4 0 4-1.6 4-3.8 1.6-4 0-2-1.1-2-2.5-.9zM386 1983.7l-1.2 .8-.3 2 1.5 2.5 6 4.8 4.4 .7 .2-2-3-6-3.6-2.5zM486 1962l-3.4 2.5-.9 2 .5 2 1.8 1.7 2 .1 2-1.2 2.3-4.6-.3-2.2-2-.8zM701.5 1902.5l4.5-1.9 2 0 2.4 1.9 .8 2-.4 2-6.8 6.8-2 1.2-6 .5-4-1.8-1.3-2.7 .8-2 4.5-3.9zM744 1912.5l8-.2 4.4 4.2 .2 2 1.6 2-.2 1.4-4 1.7-12 2.2-4-.3-2-3 .1-4 1.9-2.7zM763.2 1944.5l4.8-1.1 10 1.2 4 1.4 4 3 3.8 5.5 3.7 12 2.5 10.9 2 4.9 0 22.5-2.7 3.7-5.3 4.8-5.6 1.2-1.9 2 0 2 5.1 4 .1 4-1.5 8 1.3 4 3.6 6 .2 2-1 4-6.7 10-2.2 2-3.4 .7-14-.1-4-.9-6-3.7-6-7-14-7.1-12-10.7-2-.3-2 .7-4 3.8-4 .7-4-.7-12-4.3-12 .7-24-1.1-4 .4-1.8 .9-.8 2 0 4 .9 4 3.7 4.6 9.1 7.4 4.9 6 .7 2-.8 4 .4 2 2.6 6 2.2 8-.4 2-2.7 3-8 4.4-4 .7-4 1.9-6.8 6-1.4 4 2 12-1.8 4.1-2 1-6 .2-6.3-1.3-1.7-2-.2-4 1-8 2.2-6-.4-2-2.6-1.5-6-1.1-6.6-3.4-1.4-.9-1.7-3.1-1-10-2-10 .7-2.2 6-4.7 .7-5.1-1.2-4-1.5-2.4-6-2.6-2-2.4 0-12.2 5.5-10.4 2.5-3.4 4-2.8 4-4.4 2-.2 1.3-1.2 .2-2 2.5-2.2 2-.1 4-3.7 6-.6 2-1.3 6-.2 4 .2 6 1.6 4-.3 3-1.4 7-5.3 6-1.1 2-1.4 .4-2.2-2.4-1.1-6 1.2-2-.5-6-4.3-4-1.5-4 .8-6.4 3.4-7.6 2.6-6 .2-2-1.7-4-.4-2.8-2.7-.2-2-1.7-2 0-2 1.7-2 1-2.6 2-1.6 12-3 3.8-2.8 1.4-2 .6-2-.5-4-7.1-10 .2-2 3.6-2.3 2-.3 1.2 .6 3.3 8 3.5 3.9 2 1.2 10 2.8 2.4 2.1 5.6 7.8 2 .5 8-1.8 3.9-2.5 1-2 1-6 2.1-1.5 14-3.2 16-1.8 2-.8 8-.1 4-1.8 10-6.3zM690 2009.3l-1.7 1.2 .1 2 1.6 2.4 2 .2 2-2 0-1.5-.5-1.1zM756 1957.9l-5.5 4.6-5.7 6-6.8 4.2-3.9 3.8-1.8 4-.7 4 .3 2 1.4 2 2.7 1.5 4 .7 4-.6 8-2.8 2-2.4 3.2-6.4 4.8-4.2 2-.5 1.3-1.3 .5-2 1.8-2 .7-4-.3-2.5-2-1.9-6-2.7zM754 2016.1l-2 .6-1.9 1.8-.6 2 .5 7.3 2 3.5 7.2 3.2 4.8 3.4 2 .5 4-1.1 3.5-2.8 1.6-2 1.2-4-1.9-10-1.3-2-3.1-.5-6 1.8zM107.1 2074.5l2.9-.3 4.4 2.3 9.6 6 9.1 4 2.7 2 1.4 2-1.2 .9-4-.6-12-4.5-1.6 .2 1.6 .8 .7 1.2-.7 1.2-2 0-1.1-1.2 .8-2-1-2-6.7-1.7-3.7-2.3-.9-2 .1-2zM758.1 2084.5l3.9-1.3 6 .3 6-.8 6 2.1 8 1.2 3.3 2.5 2.9 6 1 12 .8 2 2 1.4 0 72.3-6 7.7-4 3-2 0-2-1.3-3.9-5.1-7-6-.8-2-.1-4 3.8-16-2.8 0-3.2 3.4-2 .6-4-.9-2 1.2-8 13.3-2 1.6-2-.4-2-1.2-2-3.5-2-6.1-.8-6-1.9-4-.9-4-2.4-2.3-2-.9-12 .7-4-1-8.2-10.5-1.6-4 .4-14 4.4-8 .9-6 2-4 8.1-4.3 8-.7 4-2.3 6-1.9 6.2-4.8zM401 2108.5l3-.6 6 .3 3.6 4.3-1.9 10-1.7 3.1-2 1-4-2.4-4 1-4-1.5-4-4.4-1.4-2.8-.1-2 1.5-2.6 2.1-1.4zM109.5 2172.5l4.5-.5 12 4.6 8 1.3 6 2.9 6 1.7-14 1.5-14-1.7-2-1.4-2.6-.4-4.1-2-1.4-2-.2-2zM196.1 2206.5l1.9-.9 2 .2 14 9.6 10.2 3.1 3.2 2 4.6 3.5 1.6 2.5 1.2 4-.4 4 1.7 2 3.9 .7 4-.4 6 1.2 6.6 4.5 8.4 10 2.6 8 2.4 3.5 27.6 26.5 4.4 5.5 5.1 8.5 2.7 8 4.2 7.1 6 3.3 13.4 11.6 3.5 4 2.2 4-.7 4-13.2 0-1.2-1.1-12-12.9-.6-4-1.9-4-15.8-14-2.2-4-5-6-.8-2-5.4-6-4.1-10-1.8-2-4.4-4.2-6-3.8-6-5.7-2.4-4.3-5.6-6.9-10-6.9-4-4.3-2.4-5.9-3.6-2.5-7.7-7.5-14.3-5-5.6-3-6.5-8-.7-4zM572.9 2220.5l3.1 .3 2.4 1.7 .9 4-1.3 2.7-2-.7-3.6-6zM611.7 2228.5l4.5 2 .1 2-2.3 2.2-4-.2-1.8-2 .2-2zM561.5 2234.5l2.5-.6 10 1 2 .8 .6 4.8-2.9 10 4.5 8 .1 4 3.7 6 .7 4-2.6 8-.4 8-1.7 4.5-10.8 13.5-3.2 2-4 1-4-.7-2-1.6-2-.3-.7-2.4-1.6-2 .3-3 2-4.7 7.5-10.3 5.9-10 1.6-10-1.1-2-8.4-6-3.3-4-.5-2 .3-8 2.3-4zM592.4 2260.5l3.6-.1 .3 2.1-3.9 0z"/>
<path fill="#4CB748" d="M164.5 1724.5l1.5-1.4 2-.4 2.7 1.8 1.7 4-.1 4-2.3 12-2 1.7-2 .1-4-2.1-2.1-3.7-1.9-8-.3-2 1.2-2zM188 1728.5l4-.4 4 1.5 2 2.9-.2 2-1.7 2-2.1 .6-4-1.2-3.7-3.4-.3-2zM172.3 1752.5l1.7-1.4 2 .1 1.3 1.3 .2 2-1.5 1.7-2 .2-1.9-1.9zM157.9 1864.5l2.1-1.4 10 1.9 6-.6 2.7 2.1 1.2 4-1.9 3-4 2.2-2 .3-12-2.8-3-2.7-.5-2zM137.3 1880.5l6.7 .3 2 1 3.1 4.7 .9 6.1-2 1.6-2-.2-8.9-3.5-2.2-4-.7-4 1.8-1.8zM599.3 1886.5l4.7-1.2 2 .5 2 1.5 2.1 3.2 2.5 6 .7 8-1.1 14-1.9 4-6.3 6.5-8.9 5.5-1.6 2-1.5 4 .1 4 3.5 6 .2 8 3.7 14-.1 4-1 2-2.4 2.5-8 4-8 1.9-2 1.4-4 5.4-2.4 6.8-1.6 1.6-4 .7-8 0-10-1.8-8-2.5-2 .6-1 1.4-.2 6-.8 1.5-5.9 4.5 .4 2 8.3 8 1.5 4-.8 2-6.1 4-7.4 .7-8 3.4-2-.5-2-1.6-8-7.7-8-6.3-9.9-6-4.1-6-2-.2-8 1.7-6.1 4.5-3.9 1.9-6-.1-7.4-5.8-4.6-6.5-2-1.1-6-.8-6-3.2-4-1-8-.5-6 1.8-3.4-.7-1.2-2-.3-10-1.1-2.7-2-2.2-12-4.3-10-1.3-2 .3-2 1.4-2 2.9-1.2 3.9 1 10-.5 4-5.3 7.8-4 3.8-9 2.4-2.2 2-3.7 6-13.1 1.7-8 5.4-10 2.9-12 1.4-22 1.9-8-1.2-16 2.4-4-1.8-12-8.4-8-3-4-.2-5.5 .9-8.5 2.7-2 0-8-4.2-18-2.3-2-1-4-4.9-2-1.3-2-.4-4 .8-5.3 2.6-4.2 4-1.3 4 1.5 4 .1 4-2 2-2.8 0-1.8-2-.4-2 1.3-6-2.3-2-6.8-2.9-18 4.1-4.2 2.8-3.7 6-4.1 1.2-2.8-1.2-3.2-4.6-2.1-5.4-1.6-8-3.6-6-1.5-4 1-10-3.4-22 2.7-18 .5-2.1 2.3-3.9 3.7-3.6 4-2.1 14 1 22 5.5 10-.3 8 1.4 10-.5 20 2.7 10-1.3 8 3.7 2 .2 2-.7 4-3.6 8-1.1 4-2.3 2.6-3 1.4-4.5 2-2.7 2-.9 8-.9 4-1.7 4-2.7 4.5-4.6 3.8-8 2.4-2 7.3-2.4 1.7-1.6 4.3-7.7 4-.6 8 2.3 4 0 2-1.2 6-5.9 4-1.2 2 .3 2.5 2 1.5 4-.2 4-1.8 3.5-2 1.8-6 3.3-2.4 5.4 .2 2 2.2 1.9 4 1.5 14 2.4 12-1 4.3-2.8 3.8-6 7-6 3.7-6 3.2-2 6-1 22 5.9 8 9.7 8 7.6 8 2.2 14 2.4 8 3.9 4-.4 18.8-8.3 5.2-3.5 8-7.3 4-1.1 6 .3 4 1.9 3.1 3.7 2 8 .6 8 2.3 3.5 2 .7 2-.5 2.3-1.7 1.6-6 4.1-3.9 1.4-4.1-.1-4-1.1-2-5.6-6-.9-2 .3-2.2 4-.3 10 3.3 6 1.2 6-.6 8-2.7 2 .1 6 3.5 4 1.3 8-1.3 4-1.6 6-5.2 10-2.8 12-6.3 2-2.4 2.9-6zM378 1948.4l-4 1.5-2 2.6 .9 4 3.1 5.4 2 .6 6-.3 4-1.1 2.8-4.6-.7-4-4.1-3.3zM504 1948.2l-2 .8-3.3 3.5-2.7 1.7-12 1.9-4 2.1-6 1.9-4 2.3-1.8 2.1-2.9 8-6 6 1.7 2 3 .8 4-1 6-3.2 16 .4 2.4 1 3.6 5.3 2 1.3 10 3.2 10 .5 2-.7 2.1-1.6 3.1-4 1.8-4 .1-2-1.1-1.2-8 .9-4-2-5.9-13.7-.3-4 .7-6-.5-1.3-2-1.2zM516 2006.4l-2 .2-1.7 1.9-.8 2 .5 3.4 2 1.7 4 .4 4.9-1.5 3.1-2-5.4-4zM240.4 1900.5l5.6-1.2 10 2 8-.7 2 .6 1.2 1.3 .1 2-1.3 3.4-2 1.8-6 2.5-8 5.5-8 10.5-2 1.7-14 2.3-6-1.3-3.7-2.4-1.7-4 1.8-4 3.6-2.3 10.4-3.7 2.1-2 3.5-8.6zM173.8 1916.5l2.2 .4 2 1.5 1.5 2.1 .5 2.3-.6 1.7-3.1 2-5.2 0-2.7-2-.2-2 1.8-2.8zM777.3 1954.5l.7-.5 .9 .5 1.1 1.6 .4 4.4 6.1 6 2 4 3.8 18-1.7 6-.6 6.5-2 1.9-8 3.2-10-.3-8 2.1-16-1-4-1.7-3-4.7 .5-2 2.9-2 5-2 10.6-1.5 6.4-4.5 1-2-1.4-6 .6-2 5.9-6 6.4-10 .7-2zM717.9 1960.5l10.1-.4 6.4 2.4 2.2 2-9.4 18-5.3 6-1.9 4.7-2 .6-2-.9-2-3.1-.2-3.3 .9-4-.8-2-3.9-4-5.3-4-2.2-4 0-2 1.5-2 2.9-2 3.1-1.1zM661 1970.5l3-.7 3.6 .7 .8 2-1.3 4-1.6 2-7.5 3.7-8 6-6 2-4 .2-4-1.6-2.3-2.3-.7-2 .3-2 1.8-2 4.9-1.7 8-1.5zM596.4 1990.5l1.6-1.5 2 .9 .2 2.6-2.2 3.3-2 1.1-1.5-.4-.7-2zM652.5 2008.5l3.5-.6 8 1.6 6-.5 2 .2 2 1.3 1.1 2 3.4 12 .1 2-.8 2-3.8 1.8-8 .4-8-1.7-5-2.5-3-4-2.3-6 .6-4 1.2-2zM730.7 2012.5l2.3 0 1.7 2 .7 6 4.6 .3 2.4 1.7 .6 4-.8 2-4.2 3.6-2 .4-2-1-4-5.7-5-3.3zM699.8 2020.5l2.2 .1 8 4.6 1.1 3.3-.6 2-1.7 2-2.8 .5-2-.7-8.5-5.8-.4-2 1.2-2zM623.7 2030.5l2.3-.8 10 2.8 4 2 4 3.3 4.7 8.7 11.1 16 0 2-1.8 1.9-2 .6-10-.3-14-4.4-1.4-1.8-6.8-18-1-10zM192.3 2038.5l1.7-.8 1.6 2.8-.1 2-1.5 1.5-2-.1-.7-1.4zM760.9 2044.5l9.1-1.4 4 .4 6 3.3 1.1 1.7 0 2-3.1 5.5-2 1.5-6 .8-8-.5-2.8-1.3-1.8-2-.5-2 .1-4 1-2zM626.8 2076.5l5.2-1.9 2 .3 .9 5.6 2 6-.9 2-6 2.9-4.8-.9-2.3-2-.9-2 .1-6 1.9-2.9zM657.5 2078.5l2.5-.7 4 1.2 2.6 3.5 .2 2-.8 2-4 2-6.5-2-1.6-2 .2-2 1.9-3zM761.7 2092.5l4.3-1.3 10-.4 4 .6 2.1 1.1 6.5 10 .4 6 4.8 12 4.2 4.9 0 46.3-3.5 4.8-6.5 6.4-2 .4-2-.7-4-3.8-1.4-2.3-.3-2 1.2-4 4.7-8-2.2-7-1.2-1-12.8 .9-12-2.1-16-10.1-4-.4-8 1.1-4.6-1.4-5.4-4-2.3-4 .3-5 2-3.8 8-.4 6 1 1.8-1.8 .1-2-1.3-2-6.6-4.7-4-4.7-.7-2.6 .7-2.3 2-1.3 2-.3 6 2.8 2-.1 14.2-6.8 2.6-2 3.2-3.8 2-1.1zM246.4 2244.5l3.6-.5 .9 .5 3.1 4 4.5 4 2 4-.5 3.1-2-.6-2.9-2.5-3.1-5.8-5.6-4.2zM561.9 2244.5l2.6 0 1.2 2 2.3 .7 .7 1.3-.3 4-2.4 1.8-2-.5-1.6-1.3-.4-1.5-2-1.1-.2-3.4zM289.8 2294.5l2.2-.4 2 .7 8 8.5 2.1 5.2-.2 2-1.7 2-2.2-.2-4.1-3.8-1.3-4-4.6-7.6zM555.8 2298.5l2.2-.6 .8 .6 1.7 2-.2 2-2.3 .6-2.3-.6-.6-2zM326.1 2338.5l1.9-.9 2 .4 2.8 2.5 .8 2-1.6 3.4-4-1.1-2-2-.5-2.3z"/>
<path fill="#F9E556" d="M164.5 1728.5l3.5-1.9 1.6 1.9 .2 2-2.5 8-1.3 2.4-2 .4-2-2.2-1.1-4.6 1.1-4zM190.1 1732.5l1.9-1.8 2 .4 1.4 1.4-1.4 2.3-2.1-.3zM173 1752.5l1-.9 2 .2 .8 .7 .2 2-1 1.1-2 .2-1.3-1.3zM160.7 1866.5l3.3-.4 10 1 2.7 1.4 .2 2-2.9 1.9-10-1.1-2.4-.8-1.6-1.8zM139.5 1886.5l3.5 0 3 2.1-2 .8-3.3-.9zM603.8 1886.5l2.2 .7 2 1.9 4 9.4 .2 6-1.3 14-2 4-4.9 5-10.5 7-2.9 4-1.3 4 3.7 10 1 6 3.7 12 0 4-1 2-8.7 5.8-8 2.6-2 1.4-4.7 6.2-3.3 7.6-2 1.2-10-.4-20-4.5-2.7 2.1-1.4 6-1.4 2-2.5 1.2-6-.3-8-4.8-2-.3-2 1-2 3.6-1.7 5.6 .2 2 1.7 2 5.8 1.8 8-1.1 4 .7 4.7 2.6 3.3 4 0 2-2 1.2-4 .5-10 4-2 .2-4-1.4-3-2.5-5-6.8-2-1.6-12.5-5.6-2.3-2-3.2-6.7-2-.7-10 3-2 .8-6 5.1-2 .9-4 .1-4-1.8-4-3-6-8.4-8-1.1-8-3.9-14-2.5-2-1.1-3-8.7-3-5.2-4-3.8-2-.8-14-.1-6-1.2-2 1.2-4.3 7.9 0 16-2 4-3.7 4.6-4 2.5-8 2-6.9 6.9-11.1 2.3-9.2 5.7-8.8 2.8-12 1.5-22 1.8-8-1.4-8 1.9-8 .1-4-2-10-7.2-10-3.8-4-.3-16 2.9-8-3.4-6-1.2-2.7-1.7-1.3-2.4-6 1.8-2-.3-2-1.5-6-6.9-2 0-8 4.2-8 2.7-4 2.4-10-1-12 1.7-14.5 7.3-1.5 1.4-2-.5-3.5-4.9-2.2-8-5.2-10 1.6-8-2.7-10-2.1-16 3.5-18 2.5-4 4.1-3.4 4-1 14 1.4 20 8.9 4-2.8 4-1.3 10 1.5 10-1 20 3.1 10-.4 10 4.1 2-.2 6-4.2 2-.1 3.1 1.4 4.9 4.2 1.4 1.8 1 6 3.6 .2 3.4-2.2-.8-2-3.9-4-2-8 2.9-4 1.2-6 1.2-1.7 10-3 4-2.3 7.8-7 4.2-7.5 2-1.3 8-2.1 4-5.5 2-1.4 4-.9 10 .6 2-.5 4.3-5.4 3.7-2.2 2-.2 2 .6 1.6 1.8 .7 2-.5 4-1.8 2.4-6 2.2-1.9 1.4-4.1 6.9-2 1.6-3.9 1.5 .3 2 17.6 4.5 10 1.2 8 .2 4 .9 2-.4 8-5.2 3.8-7.2 6.2-4 2.5-6 1.5-1.5 4-1.9 4-.2 18 5.9 4 3.1 10 11 4 3 22 4.5 8 4.7 4-1 20-9.5 12.4-10.1 5.6-1.3 5.3 1.3 2.8 2 1.8 4 .5 12 3.4 12-1.1 4-2.7 2.2-10 1.8-12 3.9-6 3-.9 1.1-2.1 8-1.9 2-6.7 4-1.4 2-.4 2 2 2 9.4 2.4 12-6 12 0 3.4 1.6 4.3 6 8.3 4 2 .7 6-.9 6 .4 4.4-2.2 7-8 1.4-4 .2-4-1-1.1-2-.6-8 3.6-2 .1-2-.8-2-3-3.1-8.2-.8-6 1.1-8-1.5-6 1.4-8 3.9-8 1-8-.5-2-5.5-3.7 0-1.6 2-.1 6 2.9 8 .6 4-.4 10-3.6 2 .2 6 3.4 4 1.3 10-.7 2-1.1 4.4-5.2 2.8-2 8.8-2.3 12-5.7 2.5-2 2.6-6 1.5-2 3.4-1.8zM158 1958.2l-2 2.2-.7 2.1 .3 2 2.4 .9 2.6-.9 1.4-2-2-3.6zM180 1996.4l-2 .8 0 2.2 6 4.7 2 .3 2-1.1 4.3-4.8-.3-2-2-1.3-2-.1-6 1.6zM238 1966.5l1 2 3 2.2 2-2.2-1.1-2zM256 2010.3l-3.3 2.2-.2 2 1.5 1.9 4 1.1 3.7-1 1.2-2-.1-2-2.8-2zM272 1972.4l-2 2.1-.5 2 1.5 6-.4 6 1.4 2.7 2 .9 2-.7 1.6-2.9-1.4-8 1-6-1.2-2.2-2-.6zM312 2010.4l-1.9 2.1 4 0-.6-2zM376 1945.2l-4 3.2-2.7 4.1 .1 2 4.6 9.4 2 2.1 2 .1 3.8-1.6 6.2-.4 2-1.8 3.1-5.8-.6-4-2.5-3-4-2.5-6-2.1zM412 1953.8l-1.9 .7-.1 2 2.1 2 5.9 2.8 6-.6 2.4-2.2-.1-2-1.6-2-2.7-1.3zM243.8 1900.5l4.2 .1 8 1.8 6.3 .1 2.4 2-.3 2-1.8 2-4.6 2.3-8 5.8-10 10.8-14 3.3-4-.5-4-1.7-1.7-2-.4-2 2.1-3.9 4-2 6-1.3 4-2 2.2-2.8 2.8-8 3-2.6zM709.9 1962.5l16.1-1.4 4.5 1.4 2.3 2 .5 2-1.3 4-5 10-3 3.2-2 .8-2.2 0-13.5-14-1-4 1.2-2zM776.6 1966.5l1.4-1.3 2-.3 2 .6 3.6 3 1.7 4 3.4 16-3.4 12-2.5 2-4.8 1.8-10-1.1-10 3-8-1.1-6.8-2.6-1.3-2 .8-2 2.7-2 4.6-1.3 8-.9 6-4.1 1.7-3.7-1.2-6 .3-2zM659.1 1974.5l2.9-.2 .6 2.2-2.3 2-2.3 .9-4.7 5.1-3.3 2.6-4 1.6-4 .6-4-.7-2.6-2.1-.8-2 .5-2 2.5-2 10.4-2zM653.6 2010.5l4.4-.5 10 1.3 3.4 1.2 1.5 2 3.6 10-.5 2.8-1.1 1.2-2.9 .9-6 .3-6.5-1.2-4.5-2-3.4-4-1.7-6 1.3-4zM698.9 2024.5l1.1-.7 2 .2 5.2 2.5 1.4 2-.6 2-2 .5-2-.9-4.4-3.6zM628.5 2034.5l3.5-.6 4 .5 4 1.8 2.8 2.3 10.4 16 2.8 6 0 2.2-2.6 1.8-7.4 .5-12.1-4.5-1.9-2.3-6.3-15.7 .3-5zM761.4 2046.5l4.6-1.7 6 .2 5.9 3.5 .5 2-1.8 4-2.6 1.8-4 .6-7.1-.4-2.9-1.5-1.2-2.5 .8-4zM624.5 2080.5l3.5-1.8 2 .1 2 1.7 1.8 4-.1 2-1.4 2-4.3 1.4-3-1.4-1.4-2-.4-2zM657.6 2082.5l2.4-1.5 2 .1 2.2 1.4 .4 2-1.9 2-2.3 0-2.8-2zM775.6 2092.5l4.4 .7 2 1.8 4.5 7.5 .4 6 3.4 6 2.3 6 5.4 6.7 0 37.8-4.1 9.5-5.9 6-2 .6-2-.8-1.9-1.8-1.9-4 1.8-5.3 4.1-4.7-4.1-10.4-2-.5-10 1.3-12-2-4-2-5.2-4.4-8.8-4.9-4-.4-6 1.3-6-1.3-4-2.7-2.3-4 .9-4 2.8-2 4.6-.6 6 1.4 2-.3 2-2.2 1.5-6.3-2.6-6 .3-2 2.6-4 2.5-2 15.7-9.1 10-4.4zM562.8 2248.5l1.2-1 2-.3 1.8 1.3 .6 2-.7 2-1.7 1.2-2.8-1.2zM297 2304.5l1-1 2.4 1 1.6 2 0 3.7-2 .5-2-1.5-1.3-2.7z"/>
<path fill="#F46E25" d="M243.8 1906.5l4.2-1 2.6 1 1 2-.8 2-1.9 2-8.9 6.6-1-.6 .3-2 3-8zM588 1906.5l4-.4 2 .8 10 6.8 .8 2.8-1.4 4-3.5 4-11.9 8.4-4 .9-8-1.7-4-.2-1.1 .6-.9 1.8 .8 4.2 1.7 4 3.5 3.1 8 4.7 2 2.4 1.4 5.8-1.3 4-10.8 16-4.8 10-4.5 5-2 .9-4 0-10-4.1-6-.2-2.5-3.6-.3-4 .7-2 3.1-4 7-5.6 4.1-6.4 .3-4-1.6-2-2.8-.6-24 5.6-6 .2-3.1-1.2-1.5-2-.3-2 4-10-.1-4-1.5-8 .9-4 3.6-3.9 2-.5 2 .4 4 3.2 2 .5 2-1.5 1.2-2.2 .9-2 1-6 2.2-2 2.7 .1 2 1 6 3.8 2 .3 10-1.6 4-2.6 3.1-7 2-2 10.9-2.4zM376.7 1914.5l1.3-1.7 2-.3 6 1.1 2 .9 6 5.7 4 2.4 6 5.9 4 2.9 22 5.1 2.7 2 .5 2-1.2 2.1-10 .6-8 3.5-10-.2-6-1.2-2-1.1-5.2-5.7-8.8-7-4-.6-8 2.1-2-.8-2-2.1 0-3.6 2-2.5 6-4.1zM478.6 1920.5l3.4-1.4 4 .6 2 2 .6 2.8-1 8-5.8 8-1.8 5.7-2 1.8-4 .7-10-2.3-10-.5-4.8-1.4-.6-2 .5-2 3.5-4 5.4-3.3 10-4.5zM281.2 1922.5l2.8-1 2 .7 4 3.1 14.1 7.2 3.9 2.9 6 1.6 1.3 1.5-.4 2-2.9 2.6-2.2 3.4-1.3 4 .1 4 1.4 2 10 4.3 6 5.2 2 .2 16-12.9 6.7-12.8 3.3-5 4-2 3.3 1 5.2 6-.1 4-2.4 2.6-6.1 3.4-6.7 8-3.2 8.5-.2 3.5 2.2 3.4 3.9-5.4 2.1-1 10 .7 2.8 2.3 .6 4-1.9 8 2.8 12 .3 4-.5 2-2.1 3-4 2.2-4 .7-4.7 .1-1.3-1.4 1.5-8.6 .4-8-3.9-10.5-2-1.5-4.2 4-7.8 4.3-6 5-6 8.7-4 2.6-12 3.2-14 1.4-5.3 2.8-2.7 2.8-4-1.5-1.6-1.3-.2-4 3.8-5.5 .9-2.5-2-8 .7-4 2.4-2.1 4-.8 1.4-1.1 .2-2-3.6-7.4-2-2.4-4-1.2-10-6.3-5.7-6.7-5.9-4-1.9-4 .4-4 1.2-2 13.9-11.7zM441.8 1950.5l2.2-.9 2 .6 2 5.1 3.9 3.2 .1 2.6-2 1-2-.7-6-4.7-1.5-4.2zM135.3 1952.5l.7-.7 2.1 .7 6.2 18 1.7 1.2 10 1.9 10 1 2 1.2 1.7 2.7 2.4 8-.2 2-1.9 2.2-3.9 1.8-2.1 2-5.3 12-1.7 2-5 .3-8-4.8-14-4.4-4 .5-2-.4-.6-1.2-3.5-12-4-10-.1-4 1.9-6 .5-6 2.3-4 3.5-3.4 4-.1 4 2.1 2-1zM183 1954.5l5-1.9 6 1 16 6.6 10 5.6 2 1.8 1.6 2.9 3.8 12 2 2 2.6 1.2 8 2.1 8 .7 4.8-2 2.9-6 2.3-.5 2.6 2.5 .7 2 .2 6 .8 2 5.8 6 .4 2-.6 2-3.9 2.4-14 .1-4.3 1.5-5.7 4-2 .6-4-.6-4-4-2-.8-8 3.2-2-.9-4-3.9-8-2.3-4-6.4-6-4.1-2.5-2.8-3.4-10-4-6-1.5-6-4.3-6-.1-2 .9-2zM429 1972.5l5-1.5 2 .2 1.6 1.3 1.1 2 .8 4-1.5 4.8-2 1.3-2 .2-6-1.7-2 2-4-3.8-.8-2.8 .8-2 2.5-2zM776.9 1982.5l1.1-.6 2 .5 2 2.4 1 3.7-1 4.8-2 2.3-2 .4-2.9-1.5-.7-2 .2-6 1.4-3.5zM482 1984.5l2 .2 2.2 1.8 1.1 8-.8 2-4.5 1.3-4 0-6-1-2-1.6-.2-2.7 2.2-4.2 3-1.8zM436.5 1990.5l1.5-1.4 4-.5 4 1.6 .8 2.3-2.8 1.8-2 .1-4.1-1.9zM287.8 2014.5l.2-.7 2 .4 6 7.3 4 1.8 10-1.7 3.8 .9-.1 2-3.7 .7-12-.4-8 1-2.4-1.3-1.2-2-.2-4zM659.1 2020.5l.9-.7 2 .1 1.2 .6 .3 2-3.5 .3zM267.9 2022.5l4.1-.9 2 .9 .6 2-1.3 2-1.3 .7-4 0-1.9-.7-.6-2zM634.7 2042.5l2.3 0 2.6 2 .7 2-.7 2-1.6 .6-2-.4-2-2.1-.4-2.1zM774.9 2118.5l1.1-.6 4-.1 6 2 4 6 4 1.7 1.8 3 2.1 18-1.7 10-2.2 3.4-2 .7-2-.6-1.5-1.5-4.5-9.4-2-.6-6 1.4-6 .4-10-3.4-12.1-10.4-1.9-2.7-1-3.3 .3-2 1.9-2 10.8-1.4 10-2.4 2-1.2z"/>
<path fill="#D7212A" d="M246 1908.5l2.3 0-.2 2-2.1 .8-.7-.8zM588.9 1908.5l3.1 0 2 .9 6.1 5.1 1.5 2 .2 2-.7 2-5.6 6-7.5 4.9-4 .5-12-3-2 .1-2 1.6-1.3 5.9 1.8 6 4.9 4 9.6 6 1.5 2 .4 4-2.3 6-10 14-2.7 8-1.9 3-4 2.8-6-.1-10.7-7.7-1-2 1.2-4 4.7-4 5.9-10 .9-4-1-3.5-2-1.7-2 .1-26 6.3-4 .1-3.6-1.3-.9-2 2.7-6 .8-4-.9-12 1.9-2.8 2-.7 6 1.8 4-.4 2-2.7 4-9 2-1.1 6 3.4 4 .9 6-1.5 6-.7 3.9-3.2 2.1-6.3 2-2.4zM562 1947.5l-2.4 3 .4 1.4 2 .7 2.4-2.1-.4-2.6zM379.4 1916.5l2.6-1.5 4 .6 6 6.6 6 2.7 8 7.2 4 1.5 8 1.2 7.4 3.7-1.8 2-9.6 4.6-8 .1-8-1.9-14-13.2-7.9-3.6-.9-2zM481.5 1920.5l2.9 0 2.4 2 .6 4-.4 4-1.8 4-9.1 10-20.1 .2-4.9-2.2-.2-2 3.2-4 3.9-2.5 10-4.3 8-6.3zM281.3 1924.5l2.7-1.2 2 .8 14 8.4 6.9 6 1.8 2 .1 2-2.6 8 .1 4 .9 2 2.8 2 6 1.7 4 2.3 6 7.4 2 .3 6.6-7.7 5.4-3.3 4-.6 2.4 1.9 .4 2-1.5 6 .6 8-1 2-8.9 5.8-4.9 4.2-2.1 2-3.7 6-3.3 2.6-4 1.8-8 2-14 1-6 1.4-2.5-.8-.1-2 2-6-.8-8 1.4-2 4.6-2 1.4-1.5 .8-2.5 0-2-3-6-1.8-5.6-2-2.6-6 0-8.1-3.8-5.2-6-6.7-5.2-1.5-2.8 0-2 1.5-3 14-12.6zM354.4 1938.5l1.6-1.4 2-.4 2 1.2 4 4.1 0 2.2-2.5 2.3-9.5 5.2-2-.7-.1-2.5 1.9-6zM185.5 1954.5l4.5-.9 3.7 .9 14.3 6.9 10 6.9 2.2 2.2 3.4 6 .8 6 .9 2 4.7 3.1 6 2.1 10 .8 10-1.1 9.2 9.1 .7 2-1.1 2-4.8 1.3-10-.4-6 1.8-6 2.9-2-.4-4-3.9-2-.9-4 .6-4 2.4-2 .4-6-4.4-6-1.9-4.7-5.5-6.4-4-1.7-2-2.2-8-4.1-8-1.2-6-4.1-6-.6-2 .5-2zM123.1 1956.5l2.9-1.1 2 1 1.5 2.1 2.5 8-1.3 6 .2 6 1.1 1.2 8-4.9 2-.3 10-.1 12 2.6 2.7 1.5 1.2 4-.7 4-9.9 10-3.7 8-1.6 .7-14-4.3-3.7-2.4-2.3-2.5-2-.8-4 .3-2-1.7-2.3-9.3-3.7-6-.7-4 .7-2.6 2.9-3.4-.9-6 .3-2zM136 1962.5l2 .5 1.6 3.5-1.6 2.3-6-2.3zM355.6 1972.5l2.4-1.4 3.5 1.4-.8 4 1.3 1.1 3.1 8.9 3.7 8 .6 4-.6 2-1.3 2-3.5 2.2-6 .2-1.1-.4-.8-2 1.9-14 0-7.3 1.1-2.7-.5-2-2.6-1.8zM479 1988.5l3-.9 1.7 .9 .4 4-1.6 2-3.1 0-5.7-2 .8-2zM775.1 2120.5l2.9-.9 6 1.4 2 1.5 2 4 4 1.2 2.6 2.8 2.4 14 .1 6-1.1 5.8-2 3.5-1.5 .7-2.5-.5-2-2.4-4-8.7-10 2.6-4 0-3.9-1-8.1-4.4-7.6-7.6-2.5-4-.2-2 1.4-2 18.9-4.3 3.2-1.7z"/>
</g>
<g clip-path="url(#cpf)">
<path fill="#D4E0FC" d="M1048.7 1722.5l5.9 .2 2 2.2 2 1 2-2.5 4 1.1 6-1.1 4 .6 3.7 2.5 1.5 2 2.8 7.5 4 1.5 6-1.7 2 .4 1.1 4.3 1.5 2 .7 4 .2 2-1.9 2 0 2-3.6 4.8-1.4-.8-2.6-3.4-2-1.1-2 .2-4 2.5-2-.6-.5 .4 .5 2-2-.6-.5 .6 .6 2-3.7 4-2.4-.2-3.5 2.2 1.2 2-3.7 2.5-2-1-.7 .5 .5 2-1.8 .9-2-.4-8 .8-4-.4-2-.9-2 .5-10-3.2-12-8-4 .1-2-.9-7.2-6.5 .3-14 2.9-2.9 4 1.2 2-.7 2-1.6 6-7.8 4-1.9 8 .1 6-1.7zM1018.6 1750.3l-.7 .2 3.5 4-.1 2 3.3 2.3 .2-4.3-.9-2-2.6-2zM1633.7 1792.5l2.9-1.2 4-.3 4 2.3 2 .2 4-2.4 2 .3 12 11 1.8 2.1 .5 4 1.7 1.1 0 143.4-2.5-.5 1.3 2-1.7 2 .2 2 2.7 5.1-.6 2.9 .6 3.4 0 13.2-2 .2-2 1.6-10 .4-2-1.2-6 1-4-1.2-2 1.2-.9-.6 1.2-2-2.3-2.6-2 3.1-1.8-.5-1.5-4-.6-4 1.2-10-.7-2-3.3-2 2.7-1.3 2 2.5 1.6-1.2-1.6-1.6-2-.7-5.6 .3-.7 2-2.2 2 0 2-1.5 .9-1.1-.9-.2-2-.7-.5-.9 2.5 2.9 3.1 2-1.7 3.3 6.6 2.3 8-9.6 1.5-2 1.8-14 .3-2-.2-2.2-1.4-2.9-10-5.1-2-2.5-2-3.2-8-2.5-4-4-4-5.6-3.2-4-.8-6 .7-2-.8-4 .8-2-1.2-6-1.3-14-6.5-1.9 8.3-2.1 4.1-2 .5-1.1-.6 2.2-2-1.1-1.9-4 3.4-10-.7-2-1.4-4-.3-2-2-2-.4-2.4-2.7-2.1-4 .7-2-2.2-.8-2.5-5.2-1.5-10-2.5-4-1.5-1.1-5.5 1.1 .2 2-2.7 2.4-3.1 5.6-7.5 16-2.6 10-1.6 2-1.2 6.5-6 10.5-2.6 1 1.5 2-7.8 18-1.5 2-3.6 2.2-8 .8-2 1.7-12-.1-2-1.1-6-.2-2-1.9-2-.4-8-8-2-.5-2-1.5-4-.4-2-1.8-2-.1-6-6.1-4-1.5-12 1.4-10-.9-4 .9-4-.4-2 2.4-4 .9-2 1.8-4-.4-2-.9-2 .7-2-2.6-3.1 0-.9-2-2 1.2-10-.6-2-.9-2.6-3.7-3.4-2.4-4 .1-6 3.6-2.7 .7-9.3-.6-4 1.2-2-1-.7 .4 .4 2-3.7 2.7-2-1.6-2 1.6-6 .7-2.6 2.6-1.4 5.2-2 1.8-4 7.8-2-4.3-2 2.9-1.6 4.6 3.3 2-.2 4 2.8 8-2.9 10 .7 10-.5 2-3.6 3.7-2 .5-2.4-.2 .8-2 4.8-4-1.2-2.3-2 .4-1.8 1.9-.6 4-1.6 .8-4 .2-5.3-5-.2-2-2.5-2.6-2-.1-2-2-14-1.9-10 1.4-2-2-2 2-2-.1-2-.7 5.1-2-1.1-.9-2-.4-4 2-5.8-4.7-2.2-1-12 .1-4.1-1.1-1.9-1.8-2 .1-4-1.8-6 .4-4 1.4-2.2 1.7-2.3 4-1.5 .8-2 2.7-2.7 .5-.4 2-.9 1-2 .3-2-2.4-2 .1-.8 3 .3 2 .5 1.1 2 .9 .5 2-2.5 .7-2 2.3-4 .4-2 1.6-2-.1-3.5-2.9-1.1-6 .9-6 4.8-8-.2-2-2.9-1.8-4-.1-6 1.5-16 2.1-2.9-1.7-.3-2-.8-.8-2 1.4-.6-.6 .6-2.2-2 1-4.2-2.8-3.8-1.5-8-.5-6 .8-2-1.2-2-.1-1.7 .5 2.1 2-3.2 2-5.9 8-3.3 3.2-4 .3-2 1.2-6-.2-4-1.4-8-4.6-13.6-2.5-10.2 0-10.2 1-12-1.5-2.1-1.5-1.9-4-1.1-6 1.9-2-1.2-4-1.6-2.5-2-1-2 .1 0-158.7 4.6-5.9 3.4-2.6 14-4.7 6-.9 10 2.3 8 .2 2.7-.3 7.3-2.8 4-2.1 8-7 4-1.7 6-.6 4-1.5 1.7-2.3 .9-4 5.4-5.3 4-.1 2-1.7 6 .4 2 1.9 2-.1 2 .8 3.3 4.1 2.7 1.3 12 2.3 8 3.9 4 .9 8-.5 14-5.4 4 1 4.7 4.5 5.3 8.1 2 1.9 6.4 2 1.6 1.2 2 0 2 1.6 2.3 5.2 .3 8 1.4 4.4 2 1.6 2 .3 12-1 3.3 2.7 .2 2 1.6 2-.4 16 1.7 2 .1 2 1.9 2 3.6 2.6 2 .2 3.2 3.2 1.3 2-.1 4 1.7 4 3.9 5 4 .7 2-.4 2 1.4 1.2-.7-1.1-2 1.9-.9 2 .8 2-.8 2-2.1 4-.3 8 .6 2 1.3 6 1.3 2-.3 4-1 2-2 2-.2 6-5.9 4-.2 2-1.8 2 .1 10 .4 10 2.5 10 .2 4 1.6 6 4.9 4 1.9 6 .9 4 1.4 10 .4 6 1.9 14 1 14-.5 22-4.2 10 1.6 6-2 6-4.8 4-1.3 4 .7 2 1.9 2 .8 4 4.1 4 1 2.4-1 5.6-7.6 2-2 2-.4 2-2.2 14-2 2 .5 2.1-2.3 7.9-4.8 2-.8 6-.1 4-.8 6-3.4 6-2.4 6-1.4 8-5.3 4 .3 8 6.2 4 1.3 18-1.7 3-3.1-.3-2-2.7-.9-2-1.7-2-.1-2-1.8-5.9-1.5-2-2-.8-2 .5-2 2.2-2.3 12-7.3 4-1 22 .2 14 3 4.8 3.4 1.1 2 .3 4-.4 4-1.5 4-1.7 2-8.6 5.4-1.7 2.6-1.2 4-3.1 .8-2-1.4-10-.3-3.9 2.9 1.1 8-.4 8 1.7 2 3.5 2.3 4 0 2-1.7 6-.3 2-1.8 2-.1 4-3 4 1.1 4-.5 6-5.8 4-2.7 6-.4 4.3-1.1-1.2-2 .9-.8 2 1.9 1.3-1.1-1.8-2 .5-.5 2 .7-.4-2.2 2.4-2.2 4-2.2 4-1.8 4-.6 10 .6 2-.8 2.8-3 1.2-3.9 .3-8.1-1.8-4-.4-14-2-6 0-2-2.4 0 .7-2-2.4-1.1-2 1.7-2-1.9-2 .1-4.7-2.8-3.1-6-1.4-6 .3-4 2.9-3.9 2 0 3.2-2.1-.6-2 2.3-2 1.1-.4 2 .5 2-.7zM1134.6 1857.9l-8 7.2-4 .3-2.6 1.1-9.4 6.4-2-.5-2.7 2.1 .6 2-1.6 4 1.7 8.5 6 3.7 2 .2 12-4.8 2 .9 1.9-.5 1.9-2 2.2-.7 2 .4 6-2.6 2 1.2 1.7-.3 8.1-4-.2-2-1.6-1.6-6-1.8-2.9-2.6-.4-2-2-2-.2-8-2.5-2.6zM1156.6 1876.9l-1.8 1.6 3.1 2-2.3 2 1 1.1 2.6-3.1-.5-2zM1176.6 2018.1l-1.4 .4 3.4 .7 2.8-.7-2.8-.8zM1184.6 1960.4l-1.5 2.1 1.5 .9 2 .2 1.9-1.1-1.2-2zM1242.6 1963.6l-2 2.9-.4 2-.5 4 .9 3.2 2-1.9 4 4.4 4 1 6-.4 3.6-2.3 .8-4-.7-2-1.7-1.9-12-5.9-2 0zM1264.6 1972.6l-1.2 1.9 0 2-2.8 3.4-2-1-2 2.9-4-.2-2.8 .9 4.8 2.7 6-4.1 5.8-2.6 1-2zM1530.6 1932.1l-.6 .4 .6 .6 2 .5 2-.1 1.2-1-3.2-1zM1132.6 2018.8l-1 1.7 1 3.2 3.2-1.2-.3-2zM1363.2 1994.5l1.4-1.3 2-.1 4 0 4 1.2 8.9 8.2 7.1 2.8 6 1.4 4 1.9 1.9 1.9 .6 2-.5 6-2 6.4-2 2-2-.5-2 2-8 .7-8-1.6-10-4.4-4-.6-.8-2 .8-1.3 2.6-.7-2.6-1.5-2 .2-2.8-2.7-.4-4-1.9-2-.3-4-.1-4zM1257.8 2000.5l.8-.7 1.4 .7-1.4 3zM1647.6 2012.5l3-.4 4 .8 2-.9 2 .8 2-1.3 2.5 3 2.9 8-1.4 4.2-2 1.7-2 .4-4-.9-2-1.4-2-.3-6 1.1-2-1.2-4.7-5.6 .5-2 2.2-3.2zM1331.7 2014.5l3.3 0 2.5 2 .9 2 .3 4-1.8 4-6.3 .3-2.3-2.3-1-4 .3-2 1-2zM1330.6 2017.9l-.8 .6-.7 4 1.5 1.4 3.2-1.4zM1061 2042.5l11.6-1.1 3 1.1 1.6 2 .6 2-.8 6-4.4 4.9-2 4.5-2 2.2-4 1.7-2 0-2-1-1.1-2.3-.7-16 .4-2zM1064.6 2043.1l-3 3.4 0 14 1 .7 1.4-.7 0-2 .6-.4 4 .4 7.3-8-1.3-4.1-2 2.9-2 .5-3.8-1.3-.2-2 2-2zM985.8 2068.5l4.8-.3 2 .7 5.1 9.6 .6 2-2.3 2 .6 1.2 2 .8 .4 2 .2 2-1.6 4-.7 8-6.3 1.4-2 1.7-2-.1-2-1.5-4-.3-4-4-2-.6 0-2.5 2-2.6 1.1-3.5-2.5-2 1.4-2.1 4-10.4 2 .9 .5-.4-1.5-2zM1657.2 2104.5l1.8 0 .7 4-1.1 .5-.7-.5 .1-2zM1651.9 2108.5l.7-.7 1.4 .7 1 2 5.6 6.1 2-1.5 .7 1.4-.8 2 2.1 1.3 3.8 12.7-.1 6-1.1 2-7.7 8-1.7 2-1 4-2.2 1.3-4.6-5.3 0-4 1.1-4-.4-6-.9-4-2.3-4 1.4-2-2.3 .4-1.2-6.4 0-2 1.7-2 .3-4zM983.1 2172.5l3.5-.6 8 7.4 6 1.7 2 1.2 2 .3 4-1.5 2.9 1.5 3.1-.2 4 1.7 10 .3 4.8 2.2 4 4 3.2 2 14 2.8 6.6 5.2 5.4 7.3 6 4.4 6 3.6 10 3.5 12 6.6 6 1.2 4 2.2 2.9 5.2-.1 4-6.8 7.5-4 0-2-1.8-2-.2-2-1.8-2-.2-2-1.9-2-.1-4-3.9-2-.2-2-2.1-2-.7-2.7-4.6-1.3-4.3-2-.6-2-2.3-4-2-6-2.4-2 .4-4-1.4-2.1 4.6-1.9 1.5-2 1.1-4-.2-3.6-2.4-12.4-3.7-8-5.8-4-2-4-1.2-4 0-4-1-6-2.5-6-4.9-1.9-2.9-.7-2 1.4-4-.8-1.6-4.5-4.4 1.7-2-1.2-3.2-6-3.5-2 1.3 .5-2.6zM1034.6 2201.3l-1.8 1.2 1.7 2 2.1-1 2 1.5 2.5-.5-4.5-2.8zM982.5 2180.5l2.1-.9 .7 .9-.7 1.4zM1429 2242.5l1.6-1.4 6 1 4 6.1 2 1.4 4 .1 4-1.6 4-.4 2 2.2 2-.1 2 1.5 1.2 1.2 .3 2 1.9 2 .1 2 1.8 2 .1 2 1.7 2 1 4-1 4 .9 4.6 2 3.3 4 1.2 1 2.9-1 2.3-5.8 5.7-4.2 2.8-12-4.4-2-.1-2 3.3-2-1.3-4.5 7.7-1.5 1.4-4 1.7-2 2.8-2 1.1 .4 3-1.8 6-1.2 12-3.5 10-3.9 6.2-6 1.1-2-1.7-2-.2-5.3-5.4-.2-2-2.5-2.6-2 3.3-4 2-2 3.6-2 .7-2 2.1-4 .2-2.2-1.3-3.6-4-6.2-4.7-2.5-3.3-.4-2-.4-4 1.7-2 0-6 1.9-2 .2-6 1.9-2 .6-6 1.7-2 1-6 2.3-4.5 8-9.5 3.9-10 1.6-2 4.5-4.3 8-2.7 2 1.9 2-1.5 6-6.4 4-2.1 .7-6.9zM1404.6 2309.6l-5.5 4.9-1.2 4 2.7 7 2 3.1 2 1.1 3.2-5.2 .2-2-1.5-2-.4-2 .5-1.5 1.4-.5-1.4-.5-1-1.5 1.7-2zM1420.3 2248.5l2.3-.8 1.4 .8-3.4 2.7-1-.7zM1417.5 2254.5l1.1-2 1.2 2-1.2 .9zM1081.8 2280.5l.8-.6 8-.2 2-.8 10 0 2 2 4 1.4 2-.5 2 1.8 2.4 .9-1.9 2 1.5 .9 2-1.6 2.1 .7-2.6 2 4.2 4 4.3 .9 2-1.4 10 9.5 1.4 3 4.1 4 .1 2 1.9 2 .1 2 1.6 2 .2 4 1 2-2.7 10 .5 14-103.7 0-.5-8.7-3.2-11.3-.1-2 1.7-2 .2-4 1.8-2 .1-2 3.5-4.7 7.7-5.3 4.3-4.9 2 1.4 4.7-2.5-.7-1.2-2-.8 2-1 2 1.4 .3-2.4 3.7-3.8 2-4.3 2 .5 .5-.4-1.5-2 1-.6 2 1.1 3.6-2.5 2.4-.7zM1499.6 2288.5l1-.3 4 1.2 7.5 7.1 .1 2 2.3 4 .9 6 8.5 12 .7 6-1.3 4-7.5 6-3.2 .4-2-1.3-2 .1-7.3-7.2-.2-2-2.5-2.4-4 .1-4-1-2 .6-4 3.7-4 1.2-4-1.5-2-1.8-1.7-2.9-.4-6 2.1-4 2-1.5 6-1.8 6 4.3 3.7-5-5.7-2.2-10-1.3-4-1.2-2.6-1.3-1.3-2 .7-2 5.2-2.9 12 .1zM1516.6 2328.1l-4 1.9-.7 2.5 4.7 1.6 5.3-5.6-1.3-1.4zM1474.6 2297l-1.1 1.5 1.1 2.5 6.2-2.5-2.2-1zM1121.7 2290.5l.9-.9 2.2 .9-2.2 1.2zM1449.7 2294.5l4.9-1 .8 1-.8 1.1z"/>
<path fill="#B6C8FB" d="M1041.6 1726.5l5-1.6 4 .1 6 4.7 4 1.3 2-.1 2-1.2 2-2.8 2-1.1 4-.5 4 1.9 2.4 3.3 .5 4-3.2 6 1.7 4 .1 2-1.1 2-4.4 4.4-5.7 7.6-6.3 5.3-6 1.4-8-1.9-8 .3-3.3-1.1-3.9-4-1.8-8-2.2-4-2.8-2.1-6.1-1.9-2.2-2 0-2 1.4-2 6.9-5.9-.1-2.1 .9-2 1.2-.9 2-1 2-.1 4 1.5 2-.1zM1635.5 1794.5l3.1-1.9 2 .2 4 3.1 2 .7 2-3.3 2-.8 2 .3 11.3 9.7 1.9 2 .3 2-4 4 4.3 6 1.9 6-2.2 10 1.2 12-3.8 10 .4 2 4.7 7.9-.1 2.1-2.8 6 .6 4 2.3 6.9 0 64.7-2-.2-4 1.5-3.9 3.1-1.3 2-.3 2 1.6 2 3.9 2.5 1.3 3.5 .8 10-1.5 2-2.6 1-12.1 3-3.9-1.2-6-4.8-1.7-2-.2-2 1.9-3.3 4.9-4.7 .2-2-.8-2-2.3-2.2-4-1-8-.4-8 2.4-8 3.5-2 0-4-2.2-6-6.1-8-3.1-2-.1-8 1.8-6-2.3-5.7-4.3-2.3-.7-8 1.5-4-.4-4-2.6-12.8-11.8-5.2-2.3-4.5 .3-6.6 4-1.6 4 0 8-1.3 1.9-2 0-10-5.3-2-2.1-3.4-6.5-3.1-14-3.5-4.7-2-.9-8 1.8-3.6 1.8-1.2 2-1.5 6-1.6 2-5.1 4-5.1 6-8.3 6-.7 2 5.1 5.1 1.3 2.9-1 6-3.1 8-1.2 1.5-5.2 2.5-1.6 2-1.2 8-3 6-1 4-2 2.9-2 .7-5.8 .4-10.2 2.1-8-1.1-3.1-3-2-8-.9-1.3-2-1.3-10-2.6-3.6-2.8-4.4-5.6-2-.5-4 1.8-2 .2-10-.1-3-1.8-3-3.7-6-4.8-2-.2-2 .7-5.5 6-2.5 1.3-4-.6-4-3.4-1 .7-1 6.9-8-1.4-8 .1-2.7-1.6-3.3-4-2-1-10-1.5-2.3 .5-4.2 4-3.5 2-4 .8-10-.7-6 3-4 .8-4-1.6-2-1.6-3.6-6.7-2.4-2.5-8-4.7-4-.7-8 1.4-4 2.3-1.4 2.2-3 10 0 2 1.2 2 6.5 6 3.8 6 5.2 4 1.3 4-2.6 10-4.5 6-2.5 5.8-4 3.7-14-.2-8-2.3-6-.2-6-1.9-6 .1-6-2.4-6-.5-6-3-4-.8-26 6.4-4-1.6-6-1.1-6-2.6-4-.7-4 .3-8 2.6-8 .2-6 1.9-2-.1-8-5.8-6-1.6-10 .4-4-.5-4-3.7-2-.6-6 .9-6-.4-2 1.7-1.6 2-1 4-.1 4 .7 4-2 0-2.9-2-5.1-1.7-6-4.4-4-1.7-4 .2-6 3.5-8-.5-6 1.6-4-.8-8-3.3-8-.3-1.3-.6-1.2-2-1-8 1.6-6-.1-2.8-6.8-13.2-.1-12-5.1-8 0-37.4 2-3.1 1.2-5.5-1.2-3.6-2-1.3 0-47.8 2.9-13.3 1.7-4 6.4-10 5-3.5 12-.8 8 1.1 10-.1 14-4.2 14-6.2 10-.2 2-1.2 2.2-2.9 2.5-8 3.3-2 19.2 4 8.8 4.8 8-.2 8 3 4-.4 10-2.7 4.8-2.5 4 0 1.9 2 1 4 1.3 2 9.3 8 8.3 4 2.3 2 .6 2-.2 12-1.8 4-1.5 1.5-2 .4-4-.7-6-4.2-4-1.5-4-.1-6 1.9-6 .7-2 1.2-2.3 6.8-4.5 8-9.2 5.2-3.3 2.8-4 6-1.6 4 .3 2 1.3 2 8.3 8 5 3 4-.9 4-3.3 4-1.6 16-3.6 6-.4 8 .6 8.4-3.8 2-2 1.3-4-7.1-6-2.6-3.7-1.1-4.3 1.2-4 1.9-3.2 2-1.2 6.2-1.6 7.8-4.6 4-1 3.1 1.6 1 2-.1 3.6-5.8 4.4-2.2 8-5.1 8 1.4 2 3.7 2.5 2 .1 4-1.6 4-.6 6 .5 3.4 1.1 1.7 2 3.4 8 7.5 9.5 4 1.9 8-1.8 8 .7 8-3.4 6 1.1 4-.2 8-5.8 4.6-2 2.6-4 2.8-.2 2-1.7 2.7 1.9 9.3 2.7 8 1.6 10 .7 12 6.7 8-.1 14 2 10 3 12 1 16-3.1 10 .5 8-1.3 4 .3 8 3 3.7-1 3.5-2 6.8-6.4 2 .1 2 1.3 5.3 5 2.7 1.5 10 1.2 2-1.2 .9-1.5 2.3-8 4.8-4.2 6-1.8 10-.7 10-6.8 10-1.9 14-4 6-2.9 4-3.7 4-.4 4 1.5 2.4 2.9 3.6 1.7 2-1 4 .8 12-1.8 4 .3 6 2.2 3.3 3.8 2.1 6 .2 10 .6 2 1.8 2.1 2 .8 8 .6 3-1.5 5-.6 2-1.8 2-.1 2-1.1 5.1 1.6 2.9 .1 2-1 6-5.8 2-.9 18-3.7 3-2.7 3-4.5 4-2.4 14 .3 2-.1 2.5-1.3 2-4 1.6-8-.8-8-3-10 .5-10-.7-6-2-4-2.1-2-2-1-8-1.4-2-1.1-2.1-2.5-1.8-4 .3-2 3-4 10.6-7.7zM1052.6 1982.3l-2.4 4.2-1.6 1.1-4-.6-6-2.5-2 .3-2 1.7-.7 2 .4 2 6.3 7.4 2 1.1 4 .3 4-1.2 2.3-1.6 2.6-4 2.9-2 .9-2-.2-2-2.5-3.5-2-1.1zM1110.6 1992.3l-2 .9-1.5 3.3 .7 4 2.8 1.4 2.9-1.4 1.7-4-.6-2.8-1.4-1.2zM1168.6 1956.2l-1.2 2.3 .8 6-1.3 4 1.7 .6 4-1.4 4-.4 4 .8 6 2.7 2 .2 4-1 10 2.8 2.2-.3 5.8-3.6 4-1.5 2.8-2.9 .3-2-1-2-4.1-1.5-10 1.1-8-3.8-16 0-8-.8zM1224.6 1948.2l-2.8 2.3-1.1 2-.1 2.8 2 2 6.1-.8 2.4-2-.4-2-2.1-3.6-2-1.1zM1034.6 2000.3l-2 1.7 0 1.1 2.1-.6zM1555.2 1842.5l9.4 0 4 .8 6 3 6.6 2.2 1.1 2-.5 2-5.2 8.4-4 3.4-8 .9-6 2.4-6 0-2.2-1.1-3.8-7.3-2-1.2-6-1.6-3.1-1.9-1.1-2-.2-4 .4-2 4-.8 8-.1zM1592.2 1964.5l.4-.7 2-.1 1.5 2.8-3.5 .2zM1610.4 1968.5l4.2-.5 5.9 2.5 2.1 2 .8 2-.6 2-7.2 6-5 .6-6-.6-1-4 .4-6 1.6-2zM1380.5 2010.5l4.1-.8 10 .9 2 .9 1 1 .4 2-1.4 5.7-2 2-4 1.3-6-1.1-5.2-3.9-1.3-2-.2-2zM1648.5 2016.5l2.1 .1 2 1.1 2 2.3 2-2.4 2-.9 2 .6 2.4 3.2 .3 2-.7 1.9-2 1.3-2-.2-3.6-3-.4-1.3-6 3.3-2-.1-1.6-1.9-.3-2 .8-2zM983.5 2084.5l3.1-1.6 2 .4 4 2.9 1.2 2.3-3.2 6-4 3-4-.3-1.8-2.7 .8-6zM1653 2118.5l1.6-.4 2 .8 4 3.2 2 3 3.1 7.4-.2 4-2.9 4-2 1.3-4-.1-2.8-3.2-1.2-6-.1-12zM1009.6 2186.5l1.5 0 3.4 2 .1 2-3.2 2 .2 2 3 2.2 12 4.8 4 4.3 2 1.1 6 1.2 6 3.4 6 1.4 2 2.5-.4 3.1-1.6 1.3-2-.3-4-3.2-8-.4-8-5.2-6-2.3-4-3-4-1.1-8-.2-10-7.2-.5-2.4 1.6-2 6.9-.5 2-.9 .3-2.6zM1026.5 2188.5l2.1-.7 .7 .7-.2 2-2.5 .4zM1080.7 2222.5l1.9-1.5 4 .7 10 6.7 10 2.2 2.1 1.9 1.4 4-.3 4-1 2-2.2 2.2-4-.2-2-1.7-1.7-.3-2.3-1.7-2-.3-2-1.7-2-.2-4.2-4.1-3.8-6.2-1.8-3.8zM1429.2 2244.5l1.4-1.1 2-.1 4 2.6 1.6 2.6 1 4-1 4-3.6 3.9-2 .4-5.1-6.3-.2-6zM1448.9 2256.5l1.7-.5 6.9 .5 2.9 2 6.6 24-.4 3.1-2 2.1-4 .1-8-2.2-4-2.6-1.5-2.5-1.4-8 3.5-4-4.1-6-.2-2 1.1-2zM1433.6 2270.5l1-1.3 2-.1 3.8 3.4 1.9 4 1.3 8-.6 8-1.1 4-3.3 3.6-2 .6-6-1.8-2 12.7-1.8 4.9 .8 2-.1 2-1.3 2-1.6 7.2-2 3.1-4-2.6-1.3 .3-.8 2 1.3 4-1.2 1.8-2 .6-2-1.2-2.4-3.2-.8-2 .1-2 3-6-2.7-4-.3-2 3.8-4-4.7-8.2-2-2.4-2-.5-2.3 3.1-4.6 4-5.6 12 .8 2 4 4 .5 2-4.8 6.4-2 1.7-2 .2-2-1.1-4.2-5.2-2.6-8-3.2-3.2-.1-2.8 1.9-2 .2-4.2 2.9-3.8 7.1-14.8 6-8.8 2-6.1 2-1.6 4-.8 7 2.1 2.5 2 .5 1.2 6-1.1 6-2.7 2 .6 2 2.5 1.5-6.5zM1092.4 2280.5l10.2-.2 1.8 4.2 1.6 2 9.9 8 4.7 2.7 6 1.9 14 10.1 1.8 3.3 .8 12-2.1 8 1.1 14-98.2 0-.3-6-3.1-16 .7-6 2-4 2.3-2 5-2.1 14-9 5.6-6.9 2.4-1.9zM1499.5 2294.5l3.1-1.2 2 .1 3.2 1.1 1.9 2 .3 4-1.2 8 1.1 4 2.7 3 1.2 3-1.2 2.8-6 3.3-2-.2-2.2-1.9-1.8-.6-2 .8-4-.1-2-.8-3-3.3 .2-4 2.8-3.9 4-1.2 4 1.5 1.1-.4-5.1-6.8-5.8-3.2 1.8-2.7zM1477.8 2312.5l2.8-1.2 2 .1 2 1.3 2.9 3.8 .3 4-1.2 2.6-2 1.7-2 .7-4-.2-3.8-2.8-.9-2 .2-4z"/>
<path fill="#8098FA" d="M1027.1 1728.5l3.5-1 2 .7 1.9 2.3 .1 1.1 10-3.1 4 .1 6.7 5.9 3.3 1.5 6-.5 1.1-5 1.3-2 1.6-1.2 4-.6 2 .6 2 1.7 1.6 3.5-.1 2-.8 2-2.7 2.9-3.1 1.1 .9 4-.7 2-6.7 12-4.4 4.3-4 .9-8-2.7-2-.3-4 1-2-.2-2-1.3-1.4-1.7-.6-5.6-3.4-4.4-3.8-8-.2-2 2.5-4-3.1-.2-2-.8-.7-1-.3-2zM1637.2 1794.5l1.4-.8 2 .3 4 3.4 4 1.8 .2-.7-1.2-2 .9-2 2.1-1.5 2 .3 10.7 9.2 1.8 2 .6 2-1.1 1.3-2 .6-4-2.3-4-3.7-1.1 .1 4.8 8 6.8 6 .5 2-1.6 4 .1 4-1 6 .6 12-5.5 12 .4 2 4.1 6-1.1 6 3.7 12 1.7 16 1.5 6-2.9 14 2.9 10 .1 14.1-18 10.8-4 .7-6-1.4-12-.4-8 1.5-10 .9-5.4-4.2-6.6-2.6-6-3.8-2-.2-6 2.7-4 .2-2-.9-6-5.3-2-.6-10 1.8-4-.7-4-2.6-10-9.5-4-2.2-4-1-5.9 .7-4.1 1.7-3.9 2.3-5.8 6-4.3 .7-2-1.1-2-3.2-3.7-14.4-2.4-6-1.9-2.7-4-1.1-14 5.8-1.8 2-1.1 6-1.4 2-6.5 4-7.2 7.5-6 2.9-8 1.4-4-.6-2.3-1.2-1.7-1.3-1.7-2.7-4.3-11.6-2-2.2-2 .6-4.5 5.2-1.3 4 1.4 2 11 6 4.7 6 4.7 1.9 8 5.4 4 1 1.1 1.7-2.2 4-2 6-4.7 6-2.2 6.4-2 1.4-4 .1-2 1.5-3.2 6.6-3.8 4-3 1.5-2 0-2.5-1.5-4-6-5.5-5.5-4-1.8-8-1.9-2-1.3-2-2.7-1-2.8-.1-6-2.3-2-6.6-2.8-18-3.3-14 3.3-6 3.3-2 .2-2-1.3-6.9-7.4-3.1-1.7-2 0-10 1.4-6 2.7-6 4.2-8 1.2-8 3-8 1.7-1-.5-.6-4-2.6-2-9.8-.9-6 2.5-2-1.8-.6-1.8 1-10-2.4-1.9-4 .6-6 3.8-2 0-2-1.1-2.5-3.4-3-2-2.5-.6-2 .6-2.4 4-3.6 1.5-2-.8-4-4.6-2-.6-2 .4-4 2.5-8.4 7.6-5.6 2-4 .2-8-3-10 .8-14-2.4-4.8 .4-3.2 2-1.3 2-2 8-2.7 3.7-4 .9-4-1.2-4 .1-2 1-1.7 3.5 .4 2 7.3 6.4 6-.1 6-2.5 6-.7 8-2.9 4 .9 6 5.8 4 .6 4-1.2 10-1.3 8-2.9 6-1.1 3.9-3 2.4-6 1.7-1.7 2-.7 2 .3 .7 2.1-.5 2-3.3 4-1.2 4-.7 4 1 4 2 1.1 6 .3 2 1.1 3.9 5.5 5.6 4 1.3 2 .3 2-1.2 4-7.3 10-4.6 2.3-8 1-14-2.5-14-1.1-8-3-12-2.8-6 .8-14 5.1-4 .3-12-1.4-14-4.4-8-.8-.7-1.5 .7-2.2 6.3-5.8 .6-2-.4-2-1.7-2-2.8-1.6-6-.9-8 .9-4.3 1.6-1.7 2.4-3.7 13.6-4.3-.3-8-2.5-8 2.1-2-1.1-4-4.3-5-3.9 .2-8-1.6-4-9.6-7.6-4-1.5-2 .4-6 3.3-2-.2-8-3.9-2 .1-2.2 1.4-.8 2-1.5 10 1.4 6-.2 2-3.4 8-1.7 2-3.6 2.4-12 1.9-4 0-12-3.2-2-1.1-1.4-2-.7-4 2.4-8-.1-2-6.6-12-1.3-12-4-8-4-12-.3-7 2.1-3-.1-2.8-1.4-3.2 7.3-16 .6-4-.6-2-4.6-6-2.6-14 1.9-24 2.2-12 2.1-6 5.1-10.2 4-4 12-1.5 8 1.2 10 .4 10-3.1 6-.9 8-3 14-1.3 4-2.3 6-8.6 2-2.2 2-.8 8 1.1 3.2 1.2 2.8 2.6 10 2.7 8-.7 6 2.6 4 .5 8-.7 6 2.2 1.3 .8 1 2-.7 4-1.3 2-3.7 2-1.4 8-6 6-3.2 6.9-4 5.5-2.9 5.6-9.1 8.1-12 6.6-3.6 3.3-2.5 4 .2 2 1.9 2.2 4 .5 6-1.4 2 .2 10 6.5 8 3.5 4-.6 6-5 12-3.4 12-1 8 1 8-1.5 8 .8 4-1.2 8-5.2 4-.5 4.4 1.1 5.4 8 4.2 3.4 4 5.1 2 1.9 4 1.4 8-.7 6 .5 10-2.5 8 0 10-4 8-1.9 6-3.6 4-.4 24 5 12 5.1 12-1 7.7 1.7 8.3 3.4 12 1.8 4 0 6-2 12-2 8 1.7 12-1 8 2.5 16-2 2 .3 6 3.6 4-.7 6 2.2 2-.1 2-1.1 2-2.5 2-4.5 1.2-7.6 1.1-2 3.7-2.7 4-1 10-.7 10-5 10-2.3 10-3.3 8 1.4 2 1.4 2.9 4.2 3.1 2.8 4 3 2-.4 4-11.4 .4-4 3.6-2.1 4 1.5 12-1.8 4 .6 4 1.7 2.4 2.1 1.9 4 .9 4 .3 8 1.5 4 3 2.6 8 1 4-.4 10-2.9 8 1.5 4-.4 8-7 18-4.4 12-8.9 6-.9 8 0 4-1.5 9.3-12.7-8.3-18-.5-4 1.2-10-1-6-1.7-4-3-3.3-10-2.7-2.4-2-.7-2 1.4-4 7.8-6 .8-4zM1136.6 1824.5l4 .7 8 5.8 6.3 3.5 .3 4-1.6 6-1 1.2-2-.1-12-4-2.1-1.1-1.6-2-1.2-8 1.1-4zM1565 1848.5l3.6 0 4 2.6 1.1 3.4-1.1 2.9-2 1.5-6 .4-6 1.7-2-.5-1.2-2-.3-4 1.5-1.6 4-1.4zM1160.8 1862.5l1.8-1.4 2-.4 2 .2 2 1.2 .9 2.4-.9 3.3-2 1.7-2 .3-2-.9-2-2.5-.4-1.9zM1651 1964.5l3.6-1.1 4 1.2 2.2 3.9 0 2-1 2-2.9 2-4.3 1.3-4-.2-2.5-1.1-2-2-.1-2zM1656.2 2128.5l2.4-1.4 2 1.6 2 3.4 0 3.3-2 2.4-2 .4-2.4-1.7-.9-4zM1006.2 2196.5l4.4 2.1-2 1.3-2-.7-.9-.7zM1100.1 2234.5l4.5-.2 2 2.2 0 2-2 1.9-2-.7-3.4-3.2zM1429.8 2246.5l2.8-1.3 2 .6 2.5 2.7 .8 2-.2 4-3.1 3.3-2 .3-2-.8-2-2.8-.5-4zM1435.6 2272.5l1.1 0 2.4 2 1.7 4 .9 6-.7 10-2.4 3.5-2 .8-2-.4-2.1-1.9-3.4-6-.2-2 3.7-13.8 2-2.1zM1455.9 2274.5l2.7-1 2 1 2.2 4 .2 2-1.6 2-4.3 0-3.2-2-.9-2 .6-2zM1400.6 2282.5l2-.6 1.8 .6 .9 2 .1 4-1.3 6-3.6 6-9.9 10.5-2-1.1-.4-1.4 1-6 2.9-6 5.2-6 2.2-4zM1091.4 2286.5l5.2-.9 4 .8 10.9 8.1 15.1 8.7 9 7.3 1.5 2 1.1 4 .3 16 1.3 14-93.4 0-1.2-12 0-6 4.5-12 8.9-7.7 8.9-6.3 5.1-6.2 8.7-3.8 7.3-4.9zM1415.5 2286.5l7.1 .2 2 .5 1.6 1.3-1.5 18-2.1 2.9-2 .2-4-1.3-6-7-2.5-4.8 .7-4 1.8-3 2-1.9zM1492 2312.5l2.6-1.6 2 0 3.2 1.6 1.5 2 .3 2-.5 2-1.7 2-2.8 1.2-4-1.6-1.8-3.6zM1476.7 2314.5l3.9-1.8 2 .4 1.9 1.4 1.7 4-.2 2-1.2 2-2.2 1.4-2 .2-4-1.4-1.5-2.2-.3-2zM1414.3 2316.5l4.3-.6 4 .8 2.9 1.8-.4 2-4.5 1.9-6-.2-2.9-1.7-.3-2z"/>
<path fill="#7088F0" d="M1030.3 1728.5l3.1 2-.5 2-2.3 1-2-.2-1.3-.8-.5-2 1.8-1.8zM1069.2 1728.5l3.4-.6 2 .8 1.7 1.8 .7 2-1.1 4-3.3 2.3-2 .2-2-.8-2-2.8 0-3.6zM1043.4 1732.5l3.2 .2 2 1.1 6 5.6 9 3.1 .8 2-1.1 10-2.7 4.4-2 .9-2-.2-1.6-1.1-2.4-4.3-2-1.1-2 1.2-.4 2.2-1.6 1.9-2 1.2-4-.3-2-2.3-.6-2.5 .9-6-2.5-4-.7-6 .7-2 1.9-2zM1649.1 1794.5l1.5-1.1 2 .5 10 8.6 1.9 2 .7 2-2.6 1.4-4-2.3-4-3.7-2-.3-4.1-5.1zM1636.4 1796.5l2.2-1.7 2 .2 9.1 7.5 6.3 8 7.8 6 .8 2-2 2.2-3-.2 1.8 4-1.6 8 1.2 10-1.4 4-3 2.8-2 .7-4-.7-2-1.4-2.4-3.4-.7-4 2.2-12-1.9-10-4.4-4-8.4-4-1-2 2.2-4 2.4-2 .7-2-1.1-2zM1073 1816.5l3.6-.8 2 .4 6 5.5 8 .4 6 3.1 6-.8 6 1.5 2 1.8 3.3 8.9-.4 2-4 6-.9 3.3-4 7.5-2.8 7.2-8.8 8-10.2 6-8.3 6-1.4 2-.3 2 .9 4 2.9 3.8 2 1.2 2 .3 10-1.5 16 6.5 6 1.2 4-1.5 6-5.1 10-2.7 12-.5 8 1.1 8-.7 8 2.1 12-5.4 2.4 1.2 1.6 5.8 2.8 2.2 3.2 .8 4-1.3 2 .4 8 7.3 6 1.5 12-.3 18-2.5 16-4 8-4.3 4-.8 6 1.8 20 3.6 10 4.5 10-2.2 4 .1 4.5 1.4 7.1 4 18.4 4.1 6-2 6-.5 6-1.9 8 1 10-2 4 .6 6 2.3 14 .4 2.9 2 3.1 5.6 2 1.3 4.1 1.1 0 2-8.1 8.4-2.8 5.6 1 10 1 2 2.8 1.5 2-.4 1.7-1.1 .9-2 .3-6 1.1-2.2 2-.9 4 1.2 4 2.7 5.6 7.2 8.4 3.9 1.9 2.1 1.7 6-.7 4-4.2 6-4.7 2.8-4 3.4-6 2.9-6 .7-8-4.7-8.9-3.1-3-2-.6-2 2.8-8-1.9-4-2.4-1.2-18-1.3-12-2.6-14 1-4-.9-8-5.7-2-.2-8 .2-10 1.5-12 3.9-12 2-6 2-10-1.1-4 .2-4.9-1.8-3.5-8-1.8-2-3.8-2.3-10-.2-8-1.8-6-2.3-8 1.5-6-.7-4 1.1-10.3 4.7-1.7 1.2-3 4.8-3 1.8-4-.3-8-2.6-12 1-14-2.1-6 1.2-4.4 3-1.7 2-1.9 5.7-2 1.6-8 .7-4 .9-1.7 1.1-3.2 10-.6 4 1.5 4.8 8 2.7 10-1.3 12 2.2 2-.3 4-2.9 4-.5 12.2 5.3 5.8 3.3 4-1.3 10.6-8 3.4-.9 2 .6 6 7.2 4 2.2 8 2.4 6 3.6 2 2.5-.3 2.4-6.1 8-5.6 2.8-4 .3-8-1.3-14-3.7-6 .6-2-.4-6-3.6-8-.4-6-1.9-2-.1-16 8.6-14-2.2-2.8-2.7-.6-2 .9-4 2.7-6-.2-5-2-.8-6-.2-6 .6-8-3.7-18 2.9-9.7 6.2-5 4-5.3 2.8-4 1-2-.7-2.7-3.1-.5-2 1.5-6-.5-2-1.8-2.3-13.4-9.7-4.3-6-.6-4-1.7-1.2-2.3 1.2-1.1 4-1.7 2-4.9 3-4-.3-6-3.4-4 1.1-5.5 3.6-.7 2 .2 6-1.5 6 1.5 7.2-.2 2.8-1.8 4-2 2.1-4 1.8-12 1.2-8-1.8-4-2.6-.8-2.7 3.5-8 .1-2-.7-2-7-10-.6-2 .7-6-.4-2-6.8-14.7-1.9-7.3 2.1-8-.1-12 1.4-4 4-6 1.3-6-1.6-4-4.9-6-2.5-12 .3-10 2.5-22 1-4 4.4-8.3 5.6-7.7 2.9-2 7.5-1.3 20 2.9 8-2.4 8 1.9 3.2-1.1 4.8-3.1 12-1.7 4-1.2 2.8-2 4.5-8zM1106.6 1928.4l-.7 2.1 2.7 .4 2-.4 .7-2-2.7-.7zM1649.2 1872.5l3.4-1.9 4 .8 4 4.9 1.9 4.2 2.4 26-1.7 12 2.5 10 .3 8-1 4-1.9 2-12.5 6.6-4 1.3-18-.5-10.5 .6-17.5-5.3-8-5.3-10 .5-6-3.9-4-1.2-4 .6-6 2.1-4 .4-4.3-1.9-9.7-9.2-4-2.3-4-1.2-6 .2-6 1.6-6 2.8-6 3.9-2-.6-.7-1.2-3.3-9.1-1.9-6.9-.4-6-1.3-2-2.4-.5-8 .3-14 6.5-2.4 1.7-1.3 2-.9 4-1.3 2-6.1 4.5-6 6.7-2 1.2-4 1.1-6-.4-4.5-3.1-4.1-6-3.2-10 0-2 4.3-12 1.4-8 1.7-2 4.4-1.5 10-.9 10-4.6 10-1.2 8-3.5 2-.2 4 1.3 8 5.7 2.9 2.9 3.1 7 2 1.7 2 .1 2-1 2-2.9 1.7-6.9 .6-6-.3-3.8-1.4-2.2 .5-2 2.9-1.7 2 .4 2 1.7 8-1.1 6 .1 5.9 2.6 1.7 2 1.4 4 1 12 1.8 4 4.2 3 8 .8 14-2.8 10 1.7 4-.7 8-7.4 16-3.9 4-2.2 6-4.8 4-1.9 14-1.1 4-2.1zM1432.5 2246.5l2.1 .5 1.4 1.5 1.2 4-.5 2-1.7 2-2.4 .7-2-1.1-1.7-3.6 .7-4 1-1.3zM1434.2 2276.5l2.4-1.2 2 2.2 1.7 7-.2 8-1.5 3.3-2 1.2-2-.5-1.8-2-1.9-6 .4-4zM1092.7 2290.5l3.9-.4 4 .9 16 8.8 9.8 6.7 4.4 4 2.3 4 2.2 10 2.3 22-88.9 0-.9-14 2.2-8 4-8 16.6-13.2 4.3-4.8 3.7-1.9 6-1.7 6-3.8zM1493.5 2312.5l3.1-.8 2 .9 1.5 1.9 .4 2-1.9 3.3-2 .7-2-.3-2.2-1.7-.8-2 .2-2zM1478.2 2314.5l2.4-.7 2 .6 1.9 2.1 .5 2-.4 2-2 2-4 .1-2.4-2.1-.4-2 .5-2zM1413.5 2318.5l5.1-1.2 4.4 1.2-.7 2-3.7 .9-4.5-.9z"/>
<path fill="#059A1E" d="M1028 1730.5l2.6-.9 1.4 .9-1.4 2.1-2-.5zM1068.5 1730.5l2.1-1.3 2-.1 2 1.1 1.2 2.3-.1 2-1.1 1.7-2 1.2-2 .1-1.9-1-1-2zM1040.6 1750.5l2-1.2 2 0 2.6 3.2-.5 4-2.1 1.7-2.1 .3-2.7-2-.4-4zM1649.7 1794.5l.9-.7 2 .6 4 3.1 7.4 7 .6 2.2-2 .8-10-6.9-3.6-4.1zM1637.6 1796.5l1-.8 2.6 .8 6.4 6 7 8.6 7.7 5.4 1 2-.7 .7-2-.7-8-6.5-4-1.6-2 1.1-2-.1-5-2.9-.9-2 1.1-4-2.7-4zM1074.2 1822.5l2.4-.5 6 3.2 6.6 1.3 2.9 2 2.9 6-.2 8 .9 4 .9 2.8 3.6 5.2 .2 2-.7 2-8.2 10-6.9 5.1-6 3.3-4 .5-4-.6-2 .3-2 1.4 0 2 3.5 6 1.9 8 4.6 5.5 2 .9 12-3.3 8 2.6 16 3.5 4.5-1.2 7.4-6 8.1-2.1 10-.2 10 1.3 6-.5 10 3.7 4 .1 4-1.1 14 10.3 2 .1 4-1.5 6 3 10 2 6-.9 10-.1 5.3-2.1 6.7-1 6-2.4 10-1.4 8-4.1 4-1 26 5 8 4.7 2 .4 12-3.4 4 .6 7.8 4.6 10.2 2.6 6.3 3.4 2.2 2 2 4-.6 6-4.9 8-3 2.9-4 2.2-20 3.2-6 2.7-4 .9-8-2-2 .3-4 2.7-2 .5-4.3-1.4-2.1-2-2.6-4 2.2-6-1.2-1.5-2 .4-1.3 1.1-.4 4-2.3 .4-8-4.8-12-.9-8-1.8-6-2.3-8 .5-4-2.1-2-.1-4 3.4-4 2.3-20 1.7-6 3.9-12 3.6-4 .2-8-1.2-8 .7-9.2 4.5-6.8 5.9-8 .8-2 .9-3.6 4.4-1.4 6-3.6 6-1.4 4.9-10 1.9-8 2.5-6 .1-2 .8-4 3.4-4 1.2-4-.5-3.5-2.3-1-2 0-6-3.5-6 2-3.1 2 .1 6 5.7 2 .4 1.5-1.1 .4-2-2.1-12-1.8-.9-2 .2-6 3.9-8 .8-2 .9-2.8 7.1-1.2 1.1-2 0-2-1.1-1.7-2-.6-2 .5-2 1.8-2.6 4-2.9 4.4-6.5-.1-2-1.7-2-2.6-1.4-4-.5-2.5 1.9-1.5 6.3-6 .5-4 1.3-6.6 3.9-5.4 4.6-8 .2-14.8 7.2-.3 2 2.1 6-.1 2-3.2 6 .2 2 2.9 6-.3 4-1.9 2-2.6 .9-6 0-6 1.2-4-1.1-1.6-1-.8-2 4.6-8 .3-6 1.5-1.5 4-.6 2-1.5 .9-2.4 .3-6-.7-2-2.8-2-7.7-3.9-6-1.4-2-1.3-1.9-3.4-3.3-10-.5-4 .6-6-1.8-8-.1-4 1.4-4 4.5-6 2-8-.2-2-1.2-2-6.5-8-2.7-10 .5-10 2.8-10 .4-12.6 6-8.2 6-3.7 1.2-5.5 1.9-2 2.9-.4 6 1.9 6.7 .5 3 2 2.3 5.9 2-.3 2.2-3.6 3.8-3 2-.4 8 1.3 12-5.3 10-1.2 6-2.1 2.2-1.3 3.8-6.7zM1108.6 1924.3l-6 2-1.6 2.2-.2 2 1.8 3.3 2 .9 4-.1 6-1.2 1.2-.9 .6-2-1.8-4.9-2-1.6zM1198.6 1914.3l-2 2.4 0 4.3 2 2.2 4 .6 1.4-1.3-1.4-4.5-2-3.4zM1654.1 1824.5l.5-.6 2.1 .6-.1 .6-2 .8zM1652.6 1832.5l2 .1 1.4 1.9 1.3 6-.7 2.4-2 1.6-2 .2-2-.5-1.6-1.7-.5-2 1.9-6zM1516.4 1874.5l2.2-1.3 2 .3 4 3 8-1.5 4 .4 4 1.6 2 2 1.4 3.5 .7 12 1.1 4 1.3 2 3.5 2.8 4 1 8-.1 8-2.2 4-.4 14 3.2 2-.4 6-7.9 2-1.2 14-3.3 14-8.2 14-.8 4-1.5 8-5.6 2-.2 2 .7 3.1 4.1 1 4-.7 8 1.8 14-.8 12 2 8 .5 6-.9 6-4 3.7-12 5.1-12 .6-12-.9-18.9-4.5-11.1-7.4-8 .4-8-2.9-4-.6-4 .5-6 2.4-4 .5-4-1.9-8-7.9-8-3.7-11.1 .6-12.9 2.9-2-1.1-2-2.8-1.9-5-.1-2 4.5-10 3.5-5.9 2.1-8.1 .6-4-.5-4-3-6zM1485.5 1884.5l3.1-.6 2 .6 9.2 6 2.4 4 .7 4-.5 2-2.6 2-9.2 1.7-16 7.9-2.7 2.4-5 8-8.3 9-4 1.5-4-1-8-10.8-2-4.7 4-20.1 2-2.2 12-2.2 10-4.4 10-.3zM1384.4 1910.5l4.2-.4 6 3.1 10.8 1.3 3.8 2 .3 2-.9 2-2.8 4-.6 6-4.4 6-.2 4 3.2 8-3.2 2-16 1-18-3.4-3.2-1.6-6.8-7.5-.4-2.5 1.2-4 5.9-8 .3-6 5-3zM1427.9 1948.5l.7-1 6 4.3 6 3.1 2 1.6 1.1 2 0 2-6.4 10-1.9 2-4.4 2-6.4 1.2-12.8-5.2-2.2-2-.3-2 1.9-6 .5-6 8.9-1.2 4-1.9zM993.9 1978.5l1.9 0 2.1 2-1.3 1.5-2.3-1.5zM1152.6 1988.5l2-.7 2 .4 8 3.9 1.4 2.4 .1 2-1 2-6.5 5.2-2 .4-2-1-3.9-4.6-.2-6zM1209.6 1994.5l3-.1 1.7 2.1 .8 6-4.5 .1-3.8-2.1-.7-2 .4-2zM1224.5 1998.5l4.1 .8 4 2.3 .1 2.9-1.4 2-2.7 1.1-2-.1-8.7-3-.7-2 5.4-3.5zM1430.7 2248.5l1.9-1 2 .6 1.6 2.4 .3 2-1.9 3.3-2 .5-2.4-1.8-.5-4zM1434.4 2280.5l2.2-1.5 2.4 5.5-.2 8-2.2 2.5-2-.5-2-3.4-.5-2.6 .4-4zM1089.5 2296.5l3.1-1.6 4-.3 14 4.4 4 1.7 10.1 7.8 3 4 1.4 6 3.5 7 2.9 21-84.2 0-1.2-12 2.7-10 2.9-6 11.7-10 5.8-4 3.8-4 3.6-1.7 6-1zM1492.8 2314.5l1.8-1.8 2-.2 2 1.2 1.1 2.8-.9 2-2.2 1.2-2-.3-2.2-2.9zM1477.4 2316.5l1.2-1.1 2-.5 2 .9 1.2 2.7-.6 2-2.6 1.4-2-.5-1.8-2.9z"/>
<path fill="#40B540" d="M1071.6 1730.5l1.1 0 1.9 2-.4 2-1.6 1.4-2 0-1.4-1.4-.1-2 1.5-1.9zM1040.8 1752.5l1.8-1.6 2 .4 1 1.2 .4 2-1.1 2-2.3 .6-1-.6-1.2-2zM1650.2 1794.5l2.4 .5 4 3 6.8 6.5 .5 2-1.3 .6-10-7.1-3.2-3.5zM1638.2 1798.5l.4-1.6 2 .5 6 5.5 3.4 5.6-1.4 .2-4-2.9zM1077.4 1830.5l3.2 .1 2 .8 6.7 5.1 4.4 20-5.4 10-5.7 5.6-6 2-6-.5-4 .5-3.9 2.4-.9 2 .1 2 2.6 8 .2 6 9.9 13.9 2 0 2-1 6.4-4.9 3.6-1.7 2-.1 6 1.9 8 .8 10 1.9 6-1.5 6.2-5.3 7.8-2.2 6-.2 14 1.7 6-.1 2.5 .8 5.5 3.5 14 4.3 2 1 3.2 3.2 2.3 4 .9 8-2.9 14-1.5 2.2-4 1.5-18 .9-12 3.5-8-1.3-2 .7-2.9 2.5-7.1 9.2-6.3 4.8-5.7 12.2-2.2 1.8-5.8 2-4.6 0-3.4-1.7-2.2-2.3-1.2-4 2.7-6 .9-4-.3-2-1.2-2-2.7-2.4-4-1.5-10-1.3-2-3.1-6-1.8-6-3.2-4-1.2-4 .5-2 1.1-6 6-4 2.6-6 .5-1.9 1.8-1.8 4-5.6 4-8.7 1.8-6 3.4-4 1.2-8 1.2-6-1.7-10-7.3-1.5-2.6-.9-6 .5-6-5.2-14 0-2 1.1-2.5 4.4-3.5 1.4-2 1.9-6 2.3-.9 1.2 2.9 .3 4-1.6 4-.4 4 2.5 4.8 2 2.7 2 1.2 4-.6 4-3.3 1.6-2.8-.2-2-4.6-6-.2-4 3.4-6.5 5.3-3.5 1.4-2-1.3-10-.6-2-2.5-2-4.3-.1-5.9 2.1-6.1 5.3-4 1.6-4-1.5-4-3.8-2.5-5.6-.3-6 1.6-6 4.4-8 .2-4-1.2-6 1.3-4 4.5-4.9 2-.4 7 3.3 3 .5 3-.5 5-2.8 6 .2 4-.8 8-5.7 8-2.3 6-3.2 6-1.9 10 .4 8.4-3.9zM1112.6 1922l-4 1.5-2 .3-2-.9-2 .5-3.1 1.1-.9 1.1-.9 2.9 .2 4 .7 2.3 1.5 1.7 2.5 1 4 .1 10-.9 2-1.5 .7-2.7-1.6-6-2.7-4zM1517 1874.5l1.6-.9 2 .3 4 4.4 4-1.6 4-.4 4 .5 4 2.1 1.2 1.6 1.1 4 .5 14 3.2 5 4 3 4 .5 8-.8 8-2.4 4-.5 6 1.2 3.7 2 5.4 6 2.3 4-1.4 5.1-.3 4.9-.9 2-2.3 2-2.5 .8-12-1.9-14 2.6-4-2.3-6-6-6-3.2-6-.8-16 1.3-4-.7-2-1.8-.8-4 5-14 2.2-12-.4-2.9-4.3-9.1zM1654.6 1884.5l.8 2 .2 6 2.7 8-.4 10 1 10 1.8 8-.1 6-2 4-3.1 2-8.9 3.4-14 1.1-14-4.1-12-1.1-4.6-3.3-6.9-10-.2-2-.1-10 1.8-4.9 .8-7.1 .7-2 1.7-2 12.8-3 10-6.2 4-1.7 8 .7 8-.4 7.7-1.4zM1483.6 1888.5l3-1.1 2 0 5.7 3.1 3.9 4 .5 2-.5 2-1.6 1.2-8 1.7-7.6 5.1-9.4 4-3.9 4-3.5 6-3.6 4.3-4 3.4-2 .2-2-1.7-7-10.2-.7-2 1.5-12 1.2-4 2.8-2 8.2-2.3 10-4.7 10 .7zM1268.1 1902.5l4.5-.5 22 4.1 12 6.1 4-.6 6-3 4-.4 8 3.9 12 4 3.7 2.4 2.8 4 .4 2-.7 4-4.2 6.2-6 3.9-8 1.7-12-.7-6 2.8-2 .2-8-5.6-2-.2-4 3-2-.2-.8-5.1-1.6-2-3.6-2-12 .2-8-3-6 2-6-.1-4-1.2-6-4.5-6 .1-1.5-1.5-.9-6 .3-2 1.7-2 4.4-.9 8-4 6-.1 4-.9zM1380.3 1914.5l4.3-1.1 4 .4 2.6 2.7 .8 2 0 6-1.5 8 .4 2 3.2 6 .5 2-.3 2-2.1 2-5.6 2.3-6 0-12-2.8-3.8-3.5-2.7-6 0-2 1.7-4 5.8-6 4-6 2.4-2zM1215.4 1918.5l3.2-1 1.5 1-.2 4 1.2 4 .1 2-.6 .5-2 .4-2.4-.9-1.6-8zM1421.8 1960.5l2.8-1 2 .1 4 1.6 1.4 1.3 .6 2-.1 2-1.1 2-4 2-2.8 .3-5.2-2.3-2-2 .5-2zM1432.5 2248.5l2.1 .8 1.1 3.2-1.1 2.3-2 .6-2.3-2.9 .3-2.3zM1434.3 2284.5l.3-.8 2-.6 .6 1.4 .6 4-1.2 4.1-2-.6-.7-1.5-.4-2zM1084.7 2300.5l1.9-1.3 6-.5 10 2.1 8 .6 4 1.9 8 7.1 1.1 2.1 .8 6 4.2 6 1.5 4 2.5 10-.4 2 1 6-77.9 0-2.2-8 0-4 1.8-8 2.6-6 3.3-4 5.7-4.9 8-5.1 4-3.9zM1493.7 2314.5l.9-.8 2-.3 1.7 1.1 .5 2-2.2 2.3-2-.3-1.3-2zM1478.9 2316.5l1.7-.5 2 2.3-1.5 2.2-2.5-.6-.7-1.4z"/>
<path fill="#B4F56C" d="M1649.8 1796.5l.8-1.7 2 .7 3.9 3 4.1 4.7 2.2 1.3 .2 2-10.4-7zM1071.8 1840.5l4.8-1.7 8 3.4 2.2 2.3 1.9 6-.5 4-3.5 4 .3 6-2.4 4-4 2.2-10 .3-4 .9-2 .8-2.6 3.8-1.2 6 .2 4-1.2 8 .4 4 2.4 3 6 4.1 4 6.7 2 1.7 2 1 2 0 9.1-8.5 2.9-1.8 8 1 8-.4 12 1.6 6.7-2.4 5.3-4.4 6-1.6 12 .7 12 1.8 2 .6 4 3.4 8 1.7 8.5 3.8 2.5 2 2 4 .7 6-3.1 12-3.3 2-7.3 1.6-8 .4-8 1.4-10-.8-4 .6-5.8 4.8-6.2 8.3-4 1.8-4 .2-6-1.6-6-3.2-2-1.9-1.7-3.6 .2-2 1.5-1.1 2-.7 6 .8 2-.7 2.6-2.3 1-2-.2-4-4.3-10-1.1-1.4-4 0-2.8 1.4-3.2 .5-4-2.1-4-.2-2 .6-1 1.2-3 10.7-2 3-2 1.4-4 .5-12-4.6-2-.5-2 .5-14 10-10 .8-5.8 2.2-1.5 2-.5 6-2.2 2.1-10 1.7-4.7 4.2-7.3 2.4-4 .2-4-2.3-3.4-4.3-1.2-4 8.3-10 6.3-5.6 3.7-8.4-.6-4-4-6-.1-2 .8-2 2.2-1.4 2-.1 8 .9 2-1.9 .5-3.5-.5-2.6-6.9-15.4-5.1-5.2-2-.7-4 .7-14 7.1-4 .1-4-2.7-1.2-3.3 .4-4 7-16-.6-6 .4-2.5 2-2 12 0 6-2 10-2 26-12.3 6 0 6 2.1 4 .5 2-.8zM1074.6 1847.5l-1.7 1-.7 2 .3 4 .9 2 3.2 2.7 6.2-.7 1.4-2-5.6-6.2zM1517.6 1874.5l1-.6 2.3 .6 3 4 .7 2.1 2.9-2.1 5.1-.9 4 .6 3.4 2.3 1.1 2 .5 4-.6 12 7.6 14.3 6-2.6 18-5 6 .5 4 2.4 2 2.4 1.4 4-1 4-3.6 6-2.8 1.4-18 2.7-4-1.5-10-10-20 1.3-4-.4-3.4-1.5-.8-2 .2-2 3-14 .9-10-5.6-12zM1466.5 1892.5l4.1-.7 8 1.7 8-2 2.1 1 .3 2-1.4 2-6.8 6-10.2 5-7.6 7-4.4 5.2-2 0-2.2-7.2-3.6-6-.3-4 2.1-2.6zM1625.5 1892.5l3.1-.6 10 2.6 3.7 2 1.8 2 1.1 2-.2 2-2.4 3.7-10 2.1-2 1.1-2 2.4-.4 2.7 4.4 8.5 2 1.3 4-.6 8 1.9 1.9-1.1 .9-2 1.2-7.6 2-1.3 1.2 .9 1.2 2 2.1 14-.5 3.7-2 2.3-6 1.9-8-1-6 3.2-4 .3-12-4.1-10-1.6-2-1.9-1.4-2.8-3.3-4-1.3-2.7-.2-7.3 1.8-14 2.4-1.8 8-1zM1648.2 1898.5l2.4-.5 .6 .5 1.5 2-.1 2.8-2 1-2.4-1.8-.9-2zM1269.2 1906.5l3.4-.6 8 3.2 6-.1 9.1 1.5 7.1 4 3.7 4 .1 .9 .2-.9 1.8-.5 6-4.7 4-1.5 2 .2 10 3.2 10 4.4 3 2.9 .7 4-1.9 4-5.8 4.7-6 2.1-6-.1-15.8-8.7-2.2-7.8-6 3.2-8 2.6-2 .1-4.5-2.1 .5-7.4-2-3.1-2-1.4-2-.5-4 2.4-4 1.2-4-.3-2.6-2.9-.2-2 1-2zM1252.6 1912.5l2 .4 1.5 1.6-.4 2-1.1 1-2-1.1-1.2-1.9zM1382.1 1918.5l1.1 0 .9 2-.2 4 2.2 8 3.4 8-.1 2-1.3 2-3.5 1.8-2 .2-12-2.5-2.2-1.5-1.2-2-.8-4 1-4 1.2-1.5 6.7-4.5 2.2-2 3.1-5.1zM1112.6 1960.5l2-1 2 .2 1.6 2.8-.7 4-.9 1.6-2 1.1-2-.3-2.2-2.4 .2-3.1zM1431.6 2250.5l1-.9 2 .9 0 2.8-2 1.1-1.4-1.9zM1086 2300.5l2.6-1 4-.1 4 2.9 8 2.4 6 0 2.8 1.8 2.4 6 2.3 2 .7 2 1.8 1.5 1.5 2.5 .3 2-.9 2 1.3 4 1.2 2 4.6 2.8 2.2 3.2 .3 2-1.7 2 1.1 6-67.8 0-.5-2-1.6-.5-3.9-3.5-1.1-2 0-2 2.5-4 .7-4 1.7-4-.8-2 1.3-4 6.3-6 15.3-8.6 .7-1.4zM1096.6 2323.6l-2 1.5-.7 3.4 .7 9.1 2 1.1 1.6-10.2-.1-2zM1495.1 2314.5l1.9 0 .7 2-1.1 1.2-2.4-1.2z"/>
<path fill="#FFF514" d="M1650.2 1796.5l.4-.8 2 .4 4.7 4.4-.7 .7-4-2.3zM1046.4 1846.5l6.2-2 4 .7 2 1.1 3.7 4.2 3.4 6 4.9 3.6 3.9 4.4-1.2 2-12.7 3.8-3.3 12.2-2.1 2-.6 3.2-2 2.5-2-.8-6-4.7-2-.7-.7 .5-1.3 1.4-.9 4.6 1.4 6 1.4 2 2.1 1.3 8-.6 6 6 6 4.7 2.7 4.6 7.3 8.4 6.1 3.6 1.9 2-1.6 2-2.4 .2-6-3.4-2-.1-4 2.3-8.5 7-3.5 1.9-2-.5-1.4-1.4 1.7-4-.1-2-2.2-1-2 0-2.4 1-2.4 6-1.5 2-3 2-9.5 2-5.2 2.4-4 .7-1.4-1.1 3.5-20 1.6-2 6.7-4 1.2-2 .5-4-.9-6-2.4-8-8.2-14-1.3-6-5.3-.8-8 .6-1.8 2.2-2.1 6-2.5 2-3.6 1.3-2 2.2-2-.3-1.3-1.2-.3-2 1.4-2 2.2-8.9 5.4-7.1 1.5-6 1.3-2 3.8-1.4 14-2.6 11-4zM1518.2 1874.5l2.4 .5 4 6.7 2-.4 2-1.5 4-.8 4 .8 2.8 2.7 .8 4-1.6 12 .4 2 3.6 6 .5 2-1 4-2.1 2-5.4 1.4-6 .5-4-1.1-2-1.6-1-5.2 1.9-8-.3-12-5-10-.7-2zM1466.2 1896.5l3.2 0 1.7 2-1.1 4-5.4 6-4 1.1-2-.7-2.2-2.4-.5-2 .8-2zM1628.3 1898.5l2.3-.6 1.2 .6 .2 2-1.4 .6-2-.4zM1130.3 1902.5l4.3-1 6 1 4-.5 10 4.5 4 3.4 4 .8 8-.3 5 2.1 3 2.4 2 3.6 .1 10-1.3 4-2.8 2-6 1.4-12 1-6-.8-10 .6-8.1 3.8-1.9 2-4 6.9-2 1.1-2 0-2-1.1-1.5-2.9 .7-2 3.7-4 .8-2-.1-2-7.6-16-2-1.2-4 .5-6 2.1-4-3.8-7-3.6-.7-2 1.7-2 4.3-2 5.7-.9 8 1.2 2-.3 6-1.8zM1613.4 1904.5l5.2-1.7 2 .5 .9 1.2 .9 10 5.4 8 1.2 4-.5 6-1.9 1.9-2-.2-14-5.2-2.8-2.5-2.5-4-.3-12 1.2-4 2.4-1.3zM1568.7 1908.5l3.9-1.4 4-.1 3.4 1.5 1.8 2 1 4-.6 2-3 4-2.6 1.9-4 1.3-12 1.6-2.1-.8-3.6-4-2.3-.8-1.1-1.2-.5-2 1.6-1.7zM1085.6 1914.5l3-1.2 4 1.2-2 7.7-2 2.4-2-1.2-2.4-4.9 0-2zM1316 1918.5l2.6-1.5 6-.2 4 .6 6 4.1 4 1.4 1.8 1.6 .4 2-.9 2-3.3 2.6-6 2.8-4 .3-2.7-1.7-7.3-8.6-1.2-3.4zM1372.8 1934.5l1.8-.8 1.6 .8 .4 2.3-.6 1.7-1.4 .8-2.4-.8-.3-2zM1007.1 1954.5l3.5-1.7 2 0 2.1 1.7 1.2 2 0 2-1.4 2-1.9 1.1-2 .6-2-.5-1.7-1.2-1.1-2-.1-2zM1087.5 2300.5l3.1-.6 2.5 .6 2.6 2 .9 3.1 4 1.3 1.9 1.6 2.1 3.6 8 1.8 4 1.9 4.3 4.7-.3 2-2 1.2-4 .4-1.3-1.6-2.7-.6-4-2.6-3.6-2.8-.4-1.6-4 3.6-2 .4-3.3 3.6-1.5 4 .6 12 1.4 4 .8 .9 2 .5 2-2.5 2-14.4 .6-.5 1.4-.7 4 3 2 0 4-2 2-.1 1.6 1.8 2.4 .4 6 3.1 3.3 2.5 1.4 2-.1 2-.6 .6-7.4 1.4 1.5 6-36.4 0-.5-2-3.2-.2-4 1.5-10 .2-6-2.7-4.1-2.8-1.2-2 .1-2 1.3-2 8.6-6-4.1-4-1.1-2 .8-4 5.7-5.9 4-2.4 8-3.1 9.4-.6-3.4-.2-1.5-1.8-.4-2zM1078.6 2328.4l-1.2 .1 1.2 2.1 3.2-.1 1.2-2z"/>
<path fill="#E60000" d="M1049.2 1848.5l3.4-.9 4 1.4 2.7 3.5 2.4 6-.1 6-4.3 10-.9 6-1.8 2.2-2 .2-5.2-2.4-4.8-3.2-6 0-6 1.1-4-1-5.3-2.9 .5-2-1.2-.9-6-.3-6-3.1-.7-1.7 .9-2 3.8-1.3 10-1.1 20-9.4zM1518.2 1876.5l.4-1.2 2 .7 6 10.4 2-4.4 4-1.5 4 1.3 1.7 2.7 .1 4-2.8 10 1 4 2.8 4 .5 2-.5 2-2 2-4.8 1.3-2 1.9-2-.2-1.4-1-2.6-4.3 .4-11.7-1.2-2 .2-8zM992.1 1888.5l2.5-1.3 1.2 1.3-.5 2-.7 .6-1.6-.6zM1037.2 1902.5l1.4-.2 6 2 6-.2 2 .6 2.3 1.8 7.7 9.7 2.2 4.3-.4 2-3.8 2.5-8-.1-8 .8-5 2.8-1 4.2-2-.6-2.3 2.4-1.7 .8-4.8-.8-1-2 1.7-4 2.1-2.8 4-3.4 1.7-3.8 .2-4-1-8 .1-2zM1134.8 1904.5l1.8-.6 8 .3 1 2.3-1 2 2.7 2 4.5 6 7.3 2 3.5 2.6 10 3 2.6 2.4 .7 2-.4 2-2.9 2.2-10 1.3-10-.4-4 1-8-.5-4 .8-4-.4-2-.8-4-4-6-10.1-2-1.9-6-.7-4 2.9-2 .1-2.5-3.5 1.6-2-.2-2 1.1-.8 8 .1 16-7zM1570.4 1910.5l4.2-1.4 4 1.5 1 1.9-.1 2-2.9 4.2-4 1.6-8 1-10-1.6-1.7-1.2-1.1-2 2.8-1.4 4-.1 2-1.7 5-.8zM1611.9 1920.5l2.7-1.2 4-.4 2.9 1.6 1.4 2 0 2-2.3 1.2-6 .6-3.2-1.8-.8-2zM1085.7 2302.5l2.9-1.7 2-.2 4.1 1.9-.5 2-1.6 1.2-2 .1-4-.7zM1079.9 2308.5l2.7-.7 6 0 6 1.8 2.4 2.9-.7 4-5.7 7.1-4 2-14 2-4-1.1-2.7-2-1.3-2-.3-2 .6-2 3-4 4.7-3.3zM1104.4 2314.5l2.2-.8 4 .5 5.3 2.3 2.6 2 1 2-.9 1.6-2 .5-4-1.1-5.2-3-2.2-2zM1109.3 2330.5l3.3-1.3 6 .8 7.7 4.5 1.3 2-.8 2-4.2 .7-8-2-5.2-4.7zM1063.6 2332.5l3-1.2 4-.5 12 1.2 4 1.2 1.6 1.3 1.6 2-.1 2-1.4 2-3.7 2.4-10 1.9-6-.4-5.3-1.9-2.9-2-1.3-2 .1-2 1.4-2zM1110.2 2346.5l2.4-1.5 2 .2 1.6 1.3z"/>
<path fill="#BE0000" d="M1049 1852.5l3.6-1.2 2 .7 2 2.5 .9 4 1.2 2-1.2 6-3.3 6-1.6 4.5-2 .2-4-3.7-4-1.5-10 .4-2-.6-.9-1.3 0-2 1.8-4 6.9-6zM1529.7 1884.5l2.9-1.8 2 .5 1.3 1.3 .6 2-1.9 5.9-2 2.1-2-.2-1.7-3.8 0-4zM1524.5 1890.5l.1-1.3 3.6 1.3-.1 4 1.2 2 1.3 9.6 2 .2 1.5 2.2-1.5 1-1.2 5-.8 .5-2.1-.5-1.3-6-1.5-2 .2-8-1.4-2zM1129.1 1908.5l3.5-1.4 4-.2 2 .9 .4 .7-1.1 2 4.7 2.1 2.4 3.9 1.2 8-1.6 1.7-8 3.2-2-.5-9.6-6.4-1.8-4 0-4 .6-2 2-2zM1043.8 1910.5l4.8-1.7 2 .1 2 1.2 2.2 4.4 0 2 1 2-.7 2-4.5 1.9-2 0-2-1.1-3.5-4.8-.6-2 .1-2zM1560.5 1914.5l3.4 0 4.7 1.1 1.1 .9-1.1 .7-6 .4-4 1.5-4-.2-2.1-2.4 6.1-.7zM1570.1 1914.5l4.5-.6 2.2 .6-6.2 .6zM1152.9 1926.5l1.7-1.2 2-.3 5.2 1.5 2.9 2-2.1 1.4-6 1-1.9-.4-2.3-2zM1086.7 2302.5l3.9-.9 3 .9-.7 2-2.3 .6-3.1-.6zM1076.5 2310.5l8.1-1.6 6 .6 2.4 1 1.8 2 0 4-4.8 6-4.3 2-11.1 1.9-4-.7-2.1-1.2-1.5-2-.2-4 3.8-5zM1106.7 2316.5l1.9-1.7 4 1 4.5 2.7 .9 2-1.4 .8-4-.6-3.9-2.2zM1111.9 2330.5l4.7-.2 4 1.7 4 2.5 1 2-3 1.4-6-1-4-2.4-1.5-2zM1066.1 2332.5l6.5-.8 10 1.7 4 1.7 1.2 1.4 0 2-1.5 2-5.7 2.3-8 .9-6-.8-4.1-2.4-1.5-2 .1-2 1.5-2z"/>
</g>
<defs>
<path id="mapl" d="M244.3 814.6L249.3 813.7 256.9 819.6 261.2 819.6 269.6 818.8 275.6 820.5 284.0 816.3 289.1 814.6 295.0 813.7 302.6 809.5 311.1 807.9 320.4 806.2 329.7 805.3 337.3 806.2 347.5 804.5 356.0 804.5 360.2 805.3 367.0 805.3 378.0 802.0 381.4 806.2 387.3 803.7 383.9 809.5 383.9 814.6 388.1 819.6 385.6 823.8 379.7 830.5 386.4 832.2 391.5 836.4 398.3 839.8 405.9 838.9 414.4 840.6 422.0 843.1 427.1 849.9 434.7 853.2 446.5 856.6 456.7 860.8 463.4 855.7 462.6 848.2 464.3 844.0 471.9 839.8 480.4 838.9 485.4 839.8 490.5 844.8 497.3 846.5 505.8 849.9 514.2 850.7 524.4 851.5 532.8 854.9 539.6 855.7 547.2 853.2 556.5 849.9 563.3 850.7 567.5 852.4 569.7 863.3 570.1 867.5 573.5 875.9 578.5 881.8 580.2 886.8 584.5 896.9 589.5 905.3 594.6 913.7 597.2 914.5 595.5 922.1 600.5 926.3 606.5 930.5 609.0 938.9 609.0 950.6 610.7 957.4 619.2 964.1 624.2 974.2 628.5 984.2 632.7 989.3 641.2 993.5 649.6 1001.9 655.6 1006.1 659.8 1010.3 658.9 1017.8 654.7 1018.7 660.6 1019.5 666.6 1027.1 675.0 1027.9 687.7 1024.5 696.2 1022.0 704.6 1020.3 713.1 1019.5 719.9 1018.7 728.3 1016.1 729.2 1027.9 725.8 1027.9 725.0 1031.3 724.1 1039.7 717.3 1048.1 713.1 1056.5 708.9 1064.9 704.6 1073.3 698.7 1081.7 687.7 1090.1 677.6 1098.5 666.6 1106.9 658.1 1115.3 653.9 1118.6 646.2 1129.5 640.3 1134.6 633.6 1142.1 630.2 1149.7 625.9 1154.7 625.1 1158.1 622.5 1165.6 626.8 1172.4 628.5 1178.2 626.8 1185.0 629.3 1190.8 630.2 1199.2 634.4 1201.8 636.9 1206.0 637.8 1216.0 636.9 1224.4 639.5 1237.0 638.6 1241.2 633.6 1251.3 625.1 1257.2 616.6 1260.5 606.5 1266.4 601.4 1274.0 589.5 1281.5 587.9 1287.4 591.2 1295.8 594.6 1300.9 594.6 1308.4 593.8 1316.0 590.4 1321.9 577.7 1326.9 570.1 1333.6 572.6 1340.3 570.1 1350.4 565.8 1357.1 556.5 1366.4 550.6 1375.6 541.3 1384.8 530.3 1392.4 519.3 1399.1 510.8 1400.8 504.1 1402.5 492.2 1401.6 481.2 1402.5 471.1 1404.2 463.4 1407.5 457.5 1405.8 450.8 1403.3 449.9 1400.0 449.1 1394.9 445.7 1392.4 449.1 1384.0 442.3 1371.4 438.1 1363.0 433.8 1355.5 427.1 1346.2 422.0 1338.7 420.3 1329.4 416.9 1316.8 416.9 1307.6 415.2 1300.0 407.6 1287.4 401.7 1274.8 394.0 1266.4 394.0 1260.5 394.0 1253.8 396.6 1242.9 398.3 1232.8 404.2 1222.8 408.4 1218.6 411.0 1207.6 408.4 1199.2 405.9 1189.2 407.6 1182.4 402.5 1174.0 398.3 1165.6 397.4 1161.4 394.0 1155.6 388.1 1148.8 378.8 1140.4 375.4 1135.4 368.7 1121.1 372.9 1118.6 373.7 1111.9 375.4 1106.9 377.1 1099.3 377.1 1095.9 378.0 1090.9 376.3 1081.7 369.5 1077.5 364.4 1076.6 353.4 1078.3 345.0 1079.1 339.9 1071.6 332.3 1062.3 323.0 1061.5 314.5 1062.3 304.3 1064.0 298.4 1066.5 292.5 1069.1 285.7 1071.6 276.4 1075.8 268.8 1072.4 260.3 1071.6 251.9 1072.4 243.4 1074.9 230.7 1078.3 229.0 1078.3 218.0 1073.3 209.6 1066.5 202.8 1062.3 196.9 1057.3 188.4 1053.1 182.5 1043.9 181.6 1039.7 178.2 1035.5 169.8 1027.1 167.2 1022.9 162.2 1015.3 152.9 1011.9 153.7 1002.7 152.0 997.7 146.1 991.8 151.2 985.1 154.5 980.9 156.2 972.5 158.8 963.2 157.1 955.7 154.5 952.3 156.2 947.3 150.3 940.6 150.3 934.7 151.2 930.5 158.8 916.2 167.2 909.5 171.5 896.0 180.8 887.6 185.0 880.9 196.9 877.6 207.9 868.3 212.9 859.9 211.2 854.9 211.2 850.7 216.3 844.0 222.2 836.4 229.9 833.1 236.6 829.7 240.9 821.3 244.3 814.6M711.4 1216.0L717.3 1228.6 721.6 1245.4 715.6 1253.8 712.3 1266.4 707.2 1283.2 702.9 1295.8 698.7 1308.4 692.8 1324.4 676.7 1330.3 666.6 1325.2 664.0 1312.6 660.6 1300.0 665.7 1289.9 669.9 1281.5 666.6 1270.6 666.6 1258.0 673.3 1251.3 686.0 1247.1 696.2 1239.6 700.4 1229.5 707.2 1220.2 711.4 1216.0M567.5 852.4L574.3 854.1 580.2 854.1 584.5 851.5 588.7 845.7 590.4 839.8 594.6 830.5 597.2 825.5 597.2 817.1 598.9 811.2 600.5 807.0M526.9 804.5L535.4 807.0 543.8 811.2 552.3 810.4 554.0 805.3M560.8 807.0L569.2 812.1 577.7 811.2 586.2 806.2M569.7 863.3L570.9 866.7 575.2 875.0 579.4 880.1 584.0 882.2 586.2 876.7 587.9 871.7 590.0 867.5M590.0 867.5L588.7 875.0 592.1 880.1 595.5 886.0 603.1 896.9 609.0 905.3 615.8 912.8 622.5 922.1 625.9 934.7 630.2 943.1 638.6 951.5 642.9 959.9 649.6 968.3 653.9 973.3 656.4 980.9 657.2 991.0 659.8 1003.5 662.3 1009.4 668.2 1009.4 675.0 1007.7 687.7 1002.7 700.4 997.7 709.7 993.5 721.6 989.3 736.0 984.2 736.0 976.7 743.6 975.4 752.0 972.5 762.2 968.3 772.3 959.9 782.5 955.7 782.5 943.1 789.3 943.9 793.5 934.7 800.3 926.3M800.3 926.3L790.1 917.0 780.8 914.5 774.0 910.3 770.6 900.2 770.6 895.2 768.1 898.6 762.2 902.8 754.6 909.5 747.0 912.8 739.3 912.0 730.9 911.2 727.5 908.6 730.9 905.3 730.0 902.8 730.9 897.7 727.5 896.0 724.1 901.1 724.1 907.0 719.0 900.2 718.2 893.5 713.9 886.8 707.2 882.6 703.8 875.5 700.4 868.3 699.6 864.1 705.5 864.1 708.9 860.8 713.9 862.5 719.0 862.5 724.1 872.5 730.0 880.9 739.3 885.1 747.0 891.0 757.1 892.7 763.9 888.5 770.6 886.8 776.6 890.2 779.1 898.6 783.3 900.2 793.5 901.9 802.0 902.8M275.6 820.5L279.0 829.7 279.8 835.6 284.0 842.3 283.2 845.7 269.6 846.5 263.7 849.0 262.9 855.7 252.7 859.1 247.6 864.1 239.2 866.7 229.9 868.3 220.6 874.2 220.6 882.9M182.5 882.9L220.6 882.9 220.6 896.9 192.6 896.9 192.6 918.3 184.2 922.1 183.3 936.1 150.3 936.1M220.6 886.0L253.3 905.3 303.9 938.0 304.3 941.4 309.4 944.8 321.3 949.0 322.1 955.7 330.2 954.4 343.3 951.5 357.7 939.7 395.5 917.7M253.3 905.3L238.5 905.3 243.7 951.5 247.6 976.7 249.1 978.1 247.6 985.1 215.5 985.1 203.6 985.9 196.9 984.2 194.3 990.1 190.9 991.0M395.5 917.7L391.5 911.2 380.9 908.6 378.0 902.8 373.7 895.2 378.0 892.7 378.0 884.3 377.1 877.6 378.0 871.7 374.6 861.6 371.2 854.9 370.9 845.7 364.4 842.3 357.7 831.4 360.2 828.0 363.6 822.1 364.4 817.1 363.6 808.7 367.0 805.3M374.6 861.6L381.4 855.7 381.4 849.0 383.9 846.5 391.5 843.1 391.5 836.7M507.5 850.7L503.2 863.3 505.8 870.0 505.8 930.5 505.8 947.3 497.3 947.3 497.3 951.5 497.3 983.4 488.0 985.1 484.6 996.0 481.2 1006.1 482.9 1009.4 488.0 1022.9 493.9 1032.1 493.1 1041.3 499.0 1045.5 507.5 1049.7 517.6 1059.8 526.1 1072.4 534.5 1079.1 545.5 1077.5 555.3 1085.9 565.0 1085.0 573.5 1083.3 581.9 1080.0 590.4 1076.6 598.0 1076.6M497.3 951.5L429.6 918.3 421.1 922.1 414.4 925.4 408.4 920.4 395.5 917.7M505.8 930.5L606.5 930.5M421.1 922.1L425.4 938.9 427.1 948.1 425.4 973.3 408.4 994.3 409.3 1000.2 413.5 1005.2M330.2 954.4L329.7 977.5 323.8 985.9 305.2 986.8 295.9 989.5 288.3 988.4 277.3 996.0 269.6 997.7 263.7 1003.5 257.8 1005.2 256.9 1010.3 249.3 1016.1 247.6 1027.9 241.7 1025.4 226.5 1029.6 223.9 1022.9 219.7 1017.8 215.5 1011.1 203.6 1014.5 197.7 1011.1 192.6 1000.2 190.9 991.0 185.0 987.6 180.8 980.0 173.2 975.8 167.2 975.0 156.2 976.7 154.5 980.9M152.9 1001.0L163.9 1001.0 166.4 999.3 172.3 1001.9 177.4 1001.9 177.4 1003.5 171.5 1004.0 166.4 1001.9 163.0 1003.5 160.5 1004.7 152.9 1005.5M152.9 1011.5L165.5 1008.8 178.2 1008.8 183.3 1010.3 189.2 1011.9 197.7 1011.1M178.2 1008.8L178.2 1017.0 169.8 1018.7 167.2 1023.3M181.6 1039.2L188.4 1032.1 199.4 1031.3 203.6 1037.1 207.0 1043.9 204.5 1049.7 196.9 1057.1M207.0 1043.9L213.8 1044.7 214.6 1053.1 222.2 1051.4 224.8 1043.9 227.3 1036.3 226.5 1029.6M222.2 1051.4L223.9 1060.7 230.7 1066.5 230.3 1078.3M267.9 1072.4L270.5 1064.9 267.1 1058.1 270.5 1048.1 273.0 1046.4 270.5 1036.3 271.3 1035.5 270.5 1022.9 289.1 1022.9 294.2 1022.0 301.8 1022.9 306.0 1019.5 314.5 1015.3 314.5 1011.9 324.7 1017.0 326.3 1024.5 320.4 1038.8 317.0 1049.7 317.0 1061.5M247.6 1027.9L254.4 1033.8 267.1 1032.1 271.3 1035.5M294.2 1022.0L298.4 1031.3 297.6 1039.7 299.3 1048.1 299.3 1056.5 304.3 1064.0M301.8 1022.9L306.0 1037.1 307.7 1057.3 308.0 1062.9M295.9 989.5L297.6 997.7 302.6 1002.7 302.6 1007.7 312.0 1008.6 314.5 1011.9M324.7 1017.0L328.9 1006.9 328.9 1001.9 340.7 998.5 352.6 1006.1 361.9 1003.5 370.4 1007.7 378.8 1004.4 387.3 1002.7 400.0 1005.2 409.3 1000.2M413.5 1005.2L417.7 1018.7 411.0 1022.9 405.9 1034.6 402.5 1041.3 397.4 1044.7 394.0 1055.6 388.1 1059.8 383.0 1056.5 377.1 1058.1 369.5 1065.7 367.0 1074.9M413.5 1005.2L420.3 1012.8 422.0 1024.5 426.2 1031.3 414.4 1031.4 412.2 1034.2 422.8 1045.5 425.4 1052.3 417.7 1063.2 416.9 1070.7 422.0 1081.7 430.4 1090.9 430.4 1096.8 428.7 1101.0 416.9 1096.8 406.7 1096.8 389.8 1096.8 377.1 1095.9M389.8 1096.8L389.8 1106.9 377.1 1106.9M406.7 1096.8L405.9 1104.3 414.4 1104.3 416.9 1109.4 411.8 1115.3 416.9 1120.3 416.1 1131.2 413.5 1135.4 404.2 1135.4 400.0 1132.0 392.4 1135.4 394.9 1144.6 388.1 1148.0M430.4 1096.8L433.8 1088.4 451.6 1085.9 447.4 1095.9 445.7 1106.9 444.0 1119.5 436.4 1125.3 431.3 1133.7 429.6 1144.6 423.7 1151.4 417.7 1156.4 412.7 1153.0 407.6 1155.6 405.1 1154.3 402.5 1152.2 395.7 1157.2M405.1 1154.3L400.0 1158.9 397.4 1163.5M425.4 1052.3L433.0 1050.6 444.0 1048.1 454.1 1041.3 466.8 1038.8 477.8 1026.2 488.0 1022.9M451.6 1085.9L459.2 1072.4 468.5 1078.3 483.8 1080.8 488.0 1074.9 500.7 1072.4 508.3 1071.6 526.1 1072.4M620.0 964.1L607.3 971.6 606.5 978.4 602.2 989.3 603.1 995.2 599.7 1008.6 591.2 1016.1 589.5 1024.5 584.5 1026.2 582.8 1035.5 582.8 1043.0 573.5 1048.9 586.2 1059.0 592.9 1069.9 598.0 1076.6M603.1 995.2L614.9 990.1 624.2 992.6 634.4 994.3 641.2 1001.0 653.0 1010.3 658.9 1008.6M653.0 1010.3L647.9 1017.0 647.9 1022.9 657.2 1023.0 660.6 1018.9M657.2 1023.0L663.2 1036.3 666.6 1040.0 691.9 1048.1 700.3 1048.1 674.6 1074.1 658.1 1075.8 649.6 1080.8 648.8 1081.8 641.0 1091.7 641.0 1122.4 645.9 1129.3M648.8 1081.8L639.5 1080.0 629.3 1085.9 616.6 1085.0 607.3 1078.3 598.0 1076.6M581.9 1080.0L585.3 1085.9 589.5 1094.3 586.2 1106.0 581.1 1114.4 581.1 1123.6 612.4 1140.4 613.2 1144.6 625.9 1154.7M555.3 1085.9L555.7 1095.1 559.1 1097.6 552.3 1105.2 547.2 1111.1 544.7 1119.5 544.7 1127.0 541.3 1129.5 539.6 1137.9 541.3 1143.0 542.2 1152.2M544.7 1127.0L552.3 1124.2 581.1 1123.6M552.3 1124.2L554.8 1134.6 552.3 1135.4 554.8 1143.0 548.1 1151.4 543.0 1152.6M539.6 1137.9L548.1 1135.4 552.3 1135.4M554.6 1184.1L556.5 1187.5 565.0 1191.7 572.6 1194.2 581.1 1195.0M590.1 1212.4L598.9 1213.5 611.5 1213.5 620.0 1211.0 628.5 1207.6 636.1 1203.4M587.9 1235.4L598.0 1240.4 597.2 1249.6 592.9 1258.9 585.3 1252.1 585.3 1241.2 578.5 1237.9 575.2 1232.8 570.9 1229.5 573.5 1221.1 576.8 1218.6 576.0 1212.7 576.0 1206.0 573.5 1195.9 572.6 1194.2M575.2 1232.8L560.8 1237.9 549.8 1241.2 551.5 1246.3 559.1 1249.6 572.6 1255.5 573.5 1262.2 571.8 1270.6 573.5 1279.0 569.2 1288.3 568.4 1294.1 559.1 1303.4 565.0 1321.0 565.0 1332.8 565.0 1340.3 572.6 1340.8M554.6 1184.1L538.8 1186.6 534.5 1193.4 537.1 1204.3 534.5 1214.4 539.6 1219.4 546.4 1217.7 546.4 1227.8 539.6 1227.8 534.5 1220.2 524.4 1214.4 514.2 1215.2 508.3 1209.3 500.7 1211.0 497.3 1206.8 497.3 1224.4 480.4 1224.4 480.4 1251.3 492.2 1263.1 508.0 1264.7 522.7 1266.0 537.9 1253.8 538.8 1248.8 551.5 1246.3M559.1 1303.4L543.0 1301.7 528.6 1287.4 515.9 1279.0 508.0 1264.7M394.0 1260.1L404.2 1258.0 412.7 1261.4 446.5 1261.4 450.8 1264.7 471.9 1266.4 492.2 1263.1M508.0 1264.7L501.5 1266.4 491.4 1266.4 471.9 1268.9 471.9 1300.0 463.4 1300.0 463.4 1323.5 463.4 1353.8 455.0 1358.0 446.5 1357.1 441.4 1355.5 433.8 1355.5M463.4 1323.5L469.4 1329.4 469.4 1341.2 480.4 1338.7 488.8 1327.7 505.8 1331.1 513.4 1322.7 521.8 1314.3 531.1 1307.6 543.0 1301.7M565.0 1332.8L559.1 1331.1 555.7 1336.1 555.7 1341.2 559.9 1344.5 565.0 1340.3M522.7 1363.9L528.6 1358.0 537.1 1355.5 543.0 1362.2 540.5 1367.2 532.8 1369.7 532.0 1372.2 526.1 1369.7 522.7 1363.9M398.3 1164.8L404.2 1164.8 434.7 1164.8 437.2 1174.0 442.3 1183.3 455.0 1182.4 458.4 1174.0 467.7 1174.0 468.5 1176.6 478.7 1176.6 479.1 1184.1 478.7 1195.9 482.9 1203.4 482.1 1209.3 496.5 1207.6 497.3 1206.8M584.0 852.4L589.5 867.5M590.4 867.5L593.8 854.9 595.0 843.1 595.5 836.4 591.2 837.3M590.4 868.3L599.7 870.0 604.8 864.1 611.5 863.3 615.8 859.1 607.3 850.7 624.2 846.5 625.9 845.2 636.1 847.3 650.5 854.1 672.5 870.0 686.9 871.2 688.1 870.9 696.2 871.7 697.9 875.6 703.8 875.5M595.5 840.6L605.6 844.0 622.5 834.7 625.9 845.2M622.5 834.7L641.2 826.3 642.9 816.3 644.6 808.7 653.0 803.7M595.5 836.4L598.0 834.7 603.9 828.0 602.2 824.7 598.9 824.2M688.1 870.9L695.3 863.3 697.9 862.5 700.4 863.3M700.4 863.3L700.4 859.1 697.9 854.9 699.6 848.2 694.5 842.3 684.3 838.1 678.4 829.7 679.2 825.5 685.2 820.5 683.5 815.4 678.4 812.9 673.3 803.7M656.4 977.5L659.8 969.1 666.6 969.1 686.9 970.8 696.2 971.6 702.1 962.4 709.7 959.0 734.3 955.7 743.6 975.4M734.3 955.7L759.6 947.3 765.3 930.5 761.3 924.6 739.3 922.9 730.7 911.6M761.3 924.6L766.4 913.7 768.1 906.1 771.5 906.1M724.1 907.4L727.5 908.6M563.3 1115.3L569.2 1112.7 576.0 1111.9 581.9 1113.6 584.5 1117.8 581.9 1123.6 580.2 1132.0 576.0 1136.2 570.1 1137.1 565.0 1136.2 562.5 1130.4 562.5 1122.0 563.3 1115.3M542.2 1143.8L544.7 1153.0 543.0 1161.4 546.4 1169.8 553.2 1178.2 557.4 1187.5 553.2 1188.3 549.8 1179.1 543.0 1170.7 540.5 1162.3 541.3 1152.2 540.5 1144.6 542.2 1143.8M581.9 1195.0L586.2 1203.4 589.5 1211.8 588.7 1220.2 591.2 1228.6 592.1 1236.2 587.9 1235.4 586.2 1228.6 584.5 1220.2 583.6 1211.8 581.9 1203.4 581.1 1195.9 581.9 1195.0M598.9 1077.5L599.7 1085.9 603.9 1094.3M555.7 1095.9L559.9 1101.0 554.8 1105.2M573.5 817.9L587.0 815.4 581.1 821.3 573.5 824.7 568.4 823.0 567.5 820.5 573.5 817.9M493.1 818.8L499.0 816.3 505.8 817.9 516.8 819.6 510.0 821.3 501.5 821.3 493.9 819.6 493.1 818.8" vector-effect="non-scaling-stroke"/>
<path id="mapt" d="M293.3 1062.3L295.0 1059.0 294.2 1055.6 291.6 1053.1 295.0 1050.6 290.8 1048.9 286.6 1047.2 290.8 1045.5 285.7 1043.0 289.1 1041.3M294.2 1055.6L297.6 1053.9 295.9 1051.4M522.7 1265.6L527.8 1261.4 532.8 1257.2 537.9 1254.7" vector-effect="non-scaling-stroke"/>
<g id="mapi"><ellipse cx="153.7" cy="877.6" rx="3.0" ry="1.7" transform="rotate(30 153.7 877.6)"/><ellipse cx="162.2" cy="880.1" rx="2.1" ry="1.8" transform="rotate(0 162.2 880.1)"/><ellipse cx="175.7" cy="876.7" rx="1.5" ry="4.2" transform="rotate(25 175.7 876.7)"/><ellipse cx="179.1" cy="871.3" rx="1.3" ry="2.1" transform="rotate(30 179.1 871.3)"/><ellipse cx="143.1" cy="874.2" rx="1.0" ry="1.7" transform="rotate(0 143.1 874.2)"/><ellipse cx="150.3" cy="840.2" rx="2.5" ry="0.8" transform="rotate(0 150.3 840.2)"/><ellipse cx="156.2" cy="837.7" rx="0.7" ry="0.7" transform="rotate(0 156.2 837.7)"/><ellipse cx="367.8" cy="1085.9" rx="1.7" ry="2.5" transform="rotate(30 367.8 1085.9)"/><ellipse cx="350.0" cy="1113.6" rx="1.3" ry="1.7" transform="rotate(0 350.0 1113.6)"/><ellipse cx="356.8" cy="1101.8" rx="0.7" ry="0.8" transform="rotate(0 356.8 1101.8)"/><ellipse cx="627.2" cy="1166.5" rx="1.3" ry="3.4" transform="rotate(10 627.2 1166.5)"/><ellipse cx="630.6" cy="1158.9" rx="1.0" ry="2.5" transform="rotate(0 630.6 1158.9)"/><ellipse cx="631.0" cy="1181.6" rx="1.0" ry="1.7" transform="rotate(-30 631.0 1181.6)"/><ellipse cx="661.1" cy="1213.5" rx="1.3" ry="2.5" transform="rotate(-10 661.1 1213.5)"/><ellipse cx="664.4" cy="1218.6" rx="0.8" ry="0.8" transform="rotate(0 664.4 1218.6)"/><ellipse cx="669.9" cy="1217.7" rx="1.7" ry="1.0" transform="rotate(0 669.9 1217.7)"/><ellipse cx="676.3" cy="1222.8" rx="1.3" ry="1.5" transform="rotate(0 676.3 1222.8)"/><ellipse cx="749.5" cy="1010.3" rx="5.1" ry="1.5" transform="rotate(5 749.5 1010.3)"/><ellipse cx="736.0" cy="1012.8" rx="1.0" ry="0.7" transform="rotate(0 736.0 1012.8)"/><ellipse cx="781.2" cy="1285.7" rx="1.2" ry="1.3" transform="rotate(0 781.2 1285.7)"/><ellipse cx="763.9" cy="1292.5" rx="1.4" ry="1.2" transform="rotate(0 763.9 1292.5)"/><ellipse cx="763.9" cy="1153.9" rx="0.7" ry="0.8" transform="rotate(0 763.9 1153.9)"/><ellipse cx="686.0" cy="1194.2" rx="1.3" ry="0.8" transform="rotate(0 686.0 1194.2)"/><ellipse cx="633.1" cy="982.6" rx="1.9" ry="2.5" transform="rotate(20 633.1 982.6)"/><ellipse cx="640.3" cy="975.0" rx="0.8" ry="1.0" transform="rotate(0 640.3 975.0)"/><ellipse cx="722.0" cy="896.5" rx="1.0" ry="2.1" transform="rotate(0 722.0 896.5)"/></g>
</defs>
<g clip-path="url(#cpa)" fill="none" stroke="#F6A312" stroke-linejoin="round" stroke-linecap="round"><use href="#mapl" transform="matrix(0.95186 0 0 0.97651 12.90 -724.21)" stroke-width="3.9"/><use href="#mapi" transform="matrix(0.95186 0 0 0.97651 12.90 -724.21)" stroke-width="2.5" fill="#F6A312"/></g>
<g clip-path="url(#cpb)" fill="none" stroke="#F6A312" stroke-linejoin="round" stroke-linecap="round"><use href="#mapl" transform="matrix(0.95201 0 0 0.97651 905.38 -724.21)" stroke-width="3.9"/><use href="#mapi" transform="matrix(0.95201 0 0 0.97651 905.38 -724.21)" stroke-width="2.5" fill="#F6A312"/></g>
<g clip-path="url(#cpc)" fill="none" stroke="#141414" stroke-linejoin="round"><use href="#mapl" transform="matrix(1.00000 0 0 1.00000 0.00 0.00)" stroke-width="1.35"/><use href="#mapt" transform="matrix(1.00000 0 0 1.00000 0.00 0.00)" stroke-width="2.6"/><use href="#mapi" transform="matrix(1.00000 0 0 1.00000 0.00 0.00)" stroke-width="1" fill="#1a1a1a"/></g>
<g clip-path="url(#cpd)" fill="none" stroke="#141414" stroke-linejoin="round"><use href="#mapl" transform="matrix(1.00058 0 0 0.99886 892.44 1.63)" stroke-width="1.35"/><use href="#mapt" transform="matrix(1.00058 0 0 0.99886 892.44 1.63)" stroke-width="2.6"/><use href="#mapi" transform="matrix(1.00058 0 0 0.99886 892.44 1.63)" stroke-width="1" fill="#1a1a1a"/></g>
<g clip-path="url(#cpe)" fill="none" stroke="#141414" stroke-linejoin="round"><use href="#mapl" transform="matrix(1.00000 0 0 1.00799 0.00 905.10)" stroke-width="1.35"/><use href="#mapt" transform="matrix(1.00000 0 0 1.00799 0.00 905.10)" stroke-width="2.6"/><use href="#mapi" transform="matrix(1.00000 0 0 1.00799 0.00 905.10)" stroke-width="1" fill="#1a1a1a"/></g>
<g clip-path="url(#cpf)" fill="none" stroke="#141414" stroke-linejoin="round"><use href="#mapl" transform="matrix(1.00000 0 0 1.00799 870.60 905.10)" stroke-width="1.35"/><use href="#mapt" transform="matrix(1.00000 0 0 1.00799 870.60 905.10)" stroke-width="2.6"/><use href="#mapi" transform="matrix(1.00000 0 0 1.00799 870.60 905.10)" stroke-width="1" fill="#1a1a1a"/></g>
<defs><marker id="ah" viewBox="0 0 10 10" refX="7.5" refY="5" markerWidth="7.2" markerHeight="6.2" markerUnits="userSpaceOnUse" orient="auto"><path d="M0 0.6L10 5L0 9.4L3 5z" fill="#0c0c0c"/></marker></defs>
<g clip-path="url(#cpa)"><g fill="none" stroke="#0c0c0c" stroke-width="1.5" stroke-linecap="round" stroke-linejoin="round" marker-end="url(#ah)">
<path d="M130.8 57.6l-8.1 32-2.1 14.8"/>
<path d="M150.1 51.2l-7.5 38.2-1.4 15"/>
<path d="M166.4 48.4l-5.7 41.6-.7 9 .3 9"/>
<path d="M179.4 47l-4.1 44.8 0 12 1.3 8.9"/>
<path d="M199.9 50.3l-5.1 38.7-.3 12 .8 8.9"/>
<path d="M223.3 51.3l-7.1 19.7-3.3 11.6-2.3 11.7-.6 9"/>
<path d="M248.1 56.5l-10 11.1-8.4 12.4-4.9 10.9-2.7 11.7"/>
<path d="M266.7 66.5l-7.8 4.5-9.3 7.5-7.8 9.1-4.6 7.7"/>
<path d="M279.8 78.1l-3 .1-5.8 1.5-7.9 4.3"/>
<path d="M287.8 78.9l-4.9-3.4"/>
<path d="M304.6 85.7l0-18"/>
<path d="M322.8 97.1l2.1-35.9"/>
<path d="M339.1 96.7l-1.7-35.9"/>
<path d="M359.5 100.1l-6.3-41.5"/>
<path d="M379.8 92.2l-5.6-29.5"/>
<path d="M395.5 87.6l-1.6-17.9"/>
<path d="M410 83l2.2-5.5"/>
<path d="M427 74l9.9 6.7"/>
<path d="M438.9 67.8l16.2 17.7"/>
<path d="M455.2 64.2l26.1 32.9"/>
<path d="M465.3 52.3l8.8 12.2 28.3 35"/>
<path d="M482.7 54.9l9.2 11.8 21.6 25 10.4 14.7"/>
<path d="M496.1 51.8l30.6 36.9 6.6 10 5.5 10.7"/>
<path d="M526.5 54.1l10 15 5.9 10.4 5 10.9 3.9 11.4"/>
<path d="M556.4 57.3l4.7 41.8"/>
<path d="M574.3 58.6l-2 20.9-.2 21"/>
<path d="M592 62.7l2.3 17.8 5 17.3"/>
<path d="M600.3 61.2l3.1 8.4 4.3 7.9 7.4 9.5 8.4 8.5"/>
<path d="M610.1 54.4l7.3 9.6 8.4 8.5 28.2 22.4"/>
<path d="M628.7 64.8l32.8 26.2"/>
<path d="M663.5 74.9l4.1 4.4"/>
<path d="M683.1 78.2l-5.8-1.3"/>
<path d="M704.4 81.3l-11.3-4.2"/>
<path d="M722.8 80l-5.9-1.4"/>
<path d="M741.3 78.2l-5.7 1.7"/>
<path d="M753 76l1.4 5.8"/>
<path d="M132.5 71.9l-4.3 17.5-1.7 11.9-.2 9 1.4 8.8"/>
<path d="M146.4 66l-4.4 20.5-1.9 14.9 .5 11.9 3.4 11.5"/>
<path d="M165.3 68l-3.1 20.8-.7 11.9 1 12 2.5 8.6"/>
<path d="M180.9 67.6l-2.3 20.8-.1 15 2 11.8 4.6 11.1"/>
<path d="M200.6 68.5l-3 20.8-.3 15 2.1 11.8 4.9 10.9"/>
<path d="M220.3 73.2l-4.6 14.3-2 11.8 .2 12 2.2 8.7"/>
<path d="M241.6 77.2l-6.9 9.8-4.9 10.9-1.9 8.8 .3 9"/>
<path d="M260.1 84.9l-6.6 6.1-3.7 4.7-4.3 7.9-1.5 5.8"/>
<path d="M276.4 95.3l-5.3 2.7-4.5 4"/>
<path d="M289.1 99.9l-2.7-5.4"/>
<path d="M305.1 105.6l1.1-18"/>
<path d="M322.1 107.2l1.4-24"/>
<path d="M342.6 115.9l-1.7-14.9-1.1-21"/>
<path d="M362.9 111.5l-5-29.6"/>
<path d="M382 107.7l-5.2-23.4"/>
<path d="M398.5 103.5l-2.1-8.8-1.1-8.9"/>
<path d="M411.4 99.1l-.2-6"/>
<path d="M429.9 94.4l4.7 3.7"/>
<path d="M443.7 90.6l5.6 7 4.4 7.8"/>
<path d="M454.6 81.9l12.8 16.7 4.4 7.8 2.2 5.6"/>
<path d="M468.7 80l11.1 14.1 6.6 10 4.1 8 2.8 8.6"/>
<path d="M483 74.1l22.5 28.1 6.3 10.2 4.6 11.1"/>
<path d="M502.8 75.9l11.8 13.6 7.2 9.6 6.3 10.2 4.8 11"/>
<path d="M525.5 78.9l7 9.7 6.2 10.4 4.9 10.9 3.6 11.4"/>
<path d="M554.7 78.6l5.9 35.5"/>
<path d="M577.1 79.2l-.4 15 .6 15"/>
<path d="M591.8 77.7l3.4 17.7 6.3 16.9"/>
<path d="M599.7 77.2l4.8 11 4.9 7.6 7.7 9.1 10.8 10.5"/>
<path d="M613.1 83.1l10.4 10.8 20.6 17.5"/>
<path d="M632.3 84.9l18.8 14.8 8.7 8.3"/>
<path d="M658.5 91l4.3 4.2 3.6 4.8"/>
<path d="M685.1 97.4l-5.7 2"/>
<path d="M708.5 98.1l-12-.7"/>
<path d="M720.6 97.8l-6 .3"/>
<path d="M737.5 98.2l-5.8 1.4"/>
<path d="M758.9 95.9l-5.7 1.7"/>
<path d="M124.3 89.2l-2.1 14.8 .6 12 2.5 8.6 5.9 10.5"/>
<path d="M144.4 86l-1.9 17.9 1.1 11.9 4.1 11.3 6.6 10"/>
<path d="M158.3 90.8l-.6 11.9 1.3 12 4.1 11.2 6.6 10"/>
<path d="M178.3 89.6l.1 15 2.2 11.8 3.4 8.3 6.8 9.9"/>
<path d="M193.3 89.1l-.2 15 2.1 11.8 3.4 8.3 6.8 9.8"/>
<path d="M216.3 87.6l-2.3 14.8 .9 12 1.7 5.7 2.5 5.4 9.2 11.8"/>
<path d="M237.5 98.5l-2.4 8.6-.1 9 2.7 8.5 5.1 7.4"/>
<path d="M253.3 107.9l-.9 8.9 3 8.4"/>
<path d="M267.3 111l-.4 5.9"/>
<path d="M286.8 116.4l.4-6"/>
<path d="M303.3 121.6l.8-18"/>
<path d="M324.7 127.1l-1.2-12-.1-12"/>
<path d="M343.4 130.2l-3.1-14.7-1.4-14.9"/>
<path d="M362.3 126.6l-3.5-11.5-3.3-17.7"/>
<path d="M381.7 127.7l-5.4-10.7-4.9-17.3"/>
<path d="M402.1 120.8l-5.5-7.1-3.6-8.2"/>
<path d="M416.6 114.3l-4.3-4.1"/>
<path d="M435.6 114.3l-5.5 2.3"/>
<path d="M447.1 111l-1.2 5.9"/>
<path d="M465.7 105.7l2.9 8.5 0 8.9"/>
<path d="M478.8 99.2l5.8 10.4 3.1 8.5 1 8.9-.8 6"/>
<path d="M490 96.5l6.6 10 5.3 10.7 2.5 8.6 .8 9"/>
<path d="M508.5 95l8.6 12.3 5.5 10.6 2.9 8.5 2 11.9"/>
<path d="M525.9 89.8l8.1 12.6 6.2 13.6 4 14.5 2.1 14.8"/>
<path d="M554 97.9l3 14.7 3.1 20.8"/>
<path d="M571.5 91.4l.8 21 2.4 20.9"/>
<path d="M590 102.2l3.4 14.6 5 14.2"/>
<path d="M602.2 97.3l7.9 12.8 13.8 15.8"/>
<path d="M612.9 99.9l29.3 30"/>
<path d="M633 102.5l15.8 13.8 5.9 6.8 3.2 5.1"/>
<path d="M664.4 109l4.5 11.1"/>
<path d="M681.7 111.3l-2 5.6"/>
<path d="M706.7 110.8l-5.4 2.6-4.8 3.6"/>
<path d="M726.3 112.7l-10.5 5.8"/>
<path d="M737.3 111.3l-5.5 2.2"/>
<path d="M755.8 116.4l-5.8 1.3"/>
<path d="M118.2 107.4l1.3 11.9 3.1 8.5 6.4 10.1 9.4 11.7"/>
<path d="M133.9 110.7l1.6 8.8 3.4 8.3 4.9 7.6 9.4 11.7"/>
<path d="M150.4 108l2.2 11.7 3.7 8.2 6.9 9.9 13.8 15.7"/>
<path d="M168 103.5l1.8 11.9 4.5 11.1 8.8 12 14.6 15.2"/>
<path d="M188.1 102.9l1.9 11.8 4.6 11 9.1 11.9 15.1 14.6"/>
<path d="M207 106.1l2.2 11.8 5.4 10.7 7.7 9.2 13.1 12.2"/>
<path d="M222.9 109.3l.6 5.9 1.6 5.8 4.3 7.9 7.8 9.1 11.2 10"/>
<path d="M242.6 116.8l1.6 5.7 4.7 7.7 6.1 6.5 9.4 7.5"/>
<path d="M260.8 127.7l6.5 6.3 7.6 4.7"/>
<path d="M286.6 134.8l3.7-4.7"/>
<path d="M303.3 138.5l-.3-12"/>
<path d="M326.8 144.1l-3.5-11.5-1.8-11.9"/>
<path d="M350.4 149.7l-4.1-8-3.9-11.3-2-8.8-1.7-11.9"/>
<path d="M370 149.8l-5.4-7.2-4.3-7.9-3.3-8.4-2.4-8.6"/>
<path d="M384.8 143.6l-4.3-4.1-5.5-7.2-6.3-13.6"/>
<path d="M408.6 138.8l-8.2-3.5-5-3.3-4.5-4-5.3-7.3"/>
<path d="M422.9 134.5l-11.7-2.6-5.5-2.5-5-3.3"/>
<path d="M442.1 128.4l-5.8 1.6-6 .7-11.9-1.1"/>
<path d="M459 126.9l-4.2 4.2-5.1 3.2-11.5 3.6"/>
<path d="M473.7 120.2l-.7 6-4.1 8-4.1 4.3-7.4 5.1"/>
<path d="M483.7 117.7l.6 8.9-1.1 5.9-2.3 5.5-5.2 7.3"/>
<path d="M498.9 114l3.1 8.5 1.3 8.9-.5 8.9-2 8.8"/>
<path d="M512.9 110.7l4.9 10.9 2.3 8.7 1.1 12-.9 14.9"/>
<path d="M533.7 109.4l4.5 11.1 2.3 8.7 2 11.8 1.2 15"/>
<path d="M555.4 114.7l5.1 35.6"/>
<path d="M571.5 117l2.1 17.8 3.1 17.8"/>
<path d="M589.5 117l3 11.6 5.7 17.1"/>
<path d="M601.9 118.7l15 25.9"/>
<path d="M618.3 120.6l11.8 13.6 6.5 10"/>
<path d="M637.4 124l7.7 9.2 5.7 10.5"/>
<path d="M657.2 120.5l4.4 7.9 4.5 14.3"/>
<path d="M684.6 125.5l-.8 8.9 .4 9"/>
<path d="M705.7 124.3l-4.1 8-1.9 8.8"/>
<path d="M726.1 125.3l-6.4 6.3-4.6 7.7"/>
<path d="M740.7 129.1l-9.9 6.6"/>
<path d="M758.8 130l-11.5 3.5"/>
<path d="M110.1 132.9l19.8 26.4 4.3 7.9 1.6 5.8"/>
<path d="M129.9 136l18.5 23.6 3.1 5.2 2.3 5.5"/>
<path d="M145.5 133.7l19 23.3 6.5 10"/>
<path d="M165.2 135.2l21.7 24.7 5.3 7.3"/>
<path d="M181.5 133.3l7.8 9.1 19 19.2 5.8 6.9"/>
<path d="M199.7 135.5l34.2 33.7"/>
<path d="M211.6 134l8.3 8.6 22.3 20.1 8.4 8.6"/>
<path d="M234.4 133.4l10.7 10.5 25.5 20.9"/>
<path d="M259.2 145.7l19.8 13.6"/>
<path d="M282.1 151.1l5.9 .6"/>
<path d="M304.5 155.8l-1.5-5.8"/>
<path d="M330.5 162.8l-6.7-9.9-4.6-11.1"/>
<path d="M353 165.7l-6.2-6.5-5.1-7.5-3.9-8.1-2.9-8.5"/>
<path d="M370.4 163.8l-7-5.7-5.8-6.9-4.7-7.7-3.6-8.2"/>
<path d="M394.6 160.8l-8.4-3.4-7.6-4.8-6.5-6.1-5.3-7.3"/>
<path d="M409.8 155.2l-8.7-2-8.4-3.2-7.7-4.7-6.5-6.2"/>
<path d="M432.6 150.8l-9 .2-8.9-.8-8.9-1.8-8.4-3"/>
<path d="M449 146.2l-8.8 2.2-11.9 1.1-12-.6-8.8-1.7"/>
<path d="M462.6 141.5l-7.8 4.5-8.5 2.9-8.8 1.8-9 .7"/>
<path d="M480.4 134.2l-4.7 7.6-6.4 6.3-10.2 6.3-11.3 4.1"/>
<path d="M491.5 131.9l-2.3 8.7-6 10.3-6.1 6.6-9.5 7.2"/>
<path d="M507.2 131.7l-.1 9-2.3 11.8-2.9 8.4-5.4 10.8"/>
<path d="M520.6 127.6l1.5 8.9 .2 12-1.1 11.9-2.8 14.8"/>
<path d="M532 122.4l2.8 11.6 1.4 11.9-.2 30"/>
<path d="M552.4 131.8l4.1 35.8"/>
<path d="M573.9 138.1l4.3 23.6"/>
<path d="M588.9 138.2l5.9 23.2"/>
<path d="M606.5 143.2l3.3 8.4 1.8 8.8"/>
<path d="M627 143.5l3.6 8.3 1.3 8.8"/>
<path d="M641.8 139.5l4.8 11 1.9 11.8"/>
<path d="M659.5 138.7l5.9 23.3"/>
<path d="M680.7 136.2l1.7 14.9 3.6 14.5"/>
<path d="M700.6 139.6l-.3 11.9 2.4 11.8"/>
<path d="M720.8 146l-1.6 5.7-.3 6"/>
<path d="M739.7 148.3l-3.9 4.5-2.2 5.6"/>
<path d="M762.9 146.5l-11.2 4.2"/>
<path d="M120.1 157.3l4.7 7.7 2.6 8.6-.6 5.9-2.4 5.5"/>
<path d="M136.4 156.6l4.8 7.6 3.1 8.4-.1 6-1.9 5.6"/>
<path d="M154.3 155.9l5.2 7.3 3.6 8.3 .5 5.9-1.6 5.8"/>
<path d="M169.1 157.8l5.1 7.4 3.2 8.3-.1 6-2.2 5.6"/>
<path d="M186.5 158l5.5 7.1 4.2 7.9 1.1 5.9-1.1 5.8"/>
<path d="M203.2 154.6l8.3 8.7 5.7 7 4.3 7.8 1.7 5.8"/>
<path d="M213.7 149.9l13.2 12.3 8.1 8.8 5.3 7.3 3.9 8.1"/>
<path d="M226.3 146.5l17.9 15.9 10.4 10.8 5.1 7.4 4.8 11"/>
<path d="M255.1 155l15.8 13.9 5.6 7 2.5 5.4"/>
<path d="M284.9 166.4l3.6 4.7"/>
<path d="M307.2 171.6l-5.6-2.3"/>
<path d="M327.8 173.9l-9.8-6.8"/>
<path d="M351.8 175.1l-10-6.6-8.2-8.7"/>
<path d="M371.3 175.7l-13.3-6.9-4.7-3.7-6.2-6.5"/>
<path d="M395.9 175.4l-8.8-1.9-8.6-2.8-8-4-7.3-5.3"/>
<path d="M421 172l-15-.8-11.8-2.1-11.4-3.7-7.9-4.3"/>
<path d="M441.6 165.8l-11.9 1.6-15 .1-14.9-2-11.5-3.4"/>
<path d="M450.7 164.7l-8.7 2.2-11.8 1.7-9 .3-12-.6"/>
<path d="M471.7 157.1l-10.3 6.2-11.1 4.5-11.6 2.8-12 1.4"/>
<path d="M481.7 154.8l-6.5 6.3-9.9 6.8-8 4-11.3 4.1"/>
<path d="M496.1 146.1l-3.8 8.2-6.9 9.7-8.5 8.5-12 9"/>
<path d="M510.5 147l-1.8 8.8-2.7 8.6-4.7 11.1-5.5 10.6"/>
<path d="M522.2 142.7l-.3 9-1.4 11.9-5.8 26.3"/>
<path d="M537.6 144.9l.5 15-.3 33"/>
<path d="M556.2 149.8l5.1 41.7"/>
<path d="M573 156.8l4 23.7"/>
<path d="M588.6 156.9l2.1 11.8 .5 12"/>
<path d="M610.4 160.1l0 6-1.2 5.9"/>
<path d="M631.1 161l-1.1 5.9-2.5 5.4"/>
<path d="M646.4 160.2l-.8 8.9-3.5 8.3"/>
<path d="M661.3 157.3l3.6 23.7"/>
<path d="M677.7 151.6l2.8 11.7 3 8.5 4.3 7.9 3.6 4.8"/>
<path d="M694.9 154.3l2.2 8.7 2.2 5.6 4.7 7.6 4.2 4.3"/>
<path d="M714.5 158.9l1.5 5.8 2.8 5.4 3.9 4.4 5 3.4"/>
<path d="M735.3 164.9l3.2 5"/>
<path d="M754.1 163.7l0 3 1.7 2.4"/>
<path d="M129.3 166.1l2.2 8.7-.2 3-1.9 5.7-3.2 5.1-3.9 4.5-6.8 5.9-7.3 5.3"/>
<path d="M144.3 170.9l.5 6-1.4 5.8-4.7 7.6-6.2 6.6"/>
<path d="M164.3 171.2l.6 5.9-.5 3-2.4 5.5-5.4 7.2-8.6 8.4"/>
<path d="M184 173.5l.1 6-2.1 5.6-5.4 7.2-6.5 6.2"/>
<path d="M197.6 170.9l1.9 5.7 .3 3-1.2 5.9-4.6 7.6-8.7 8.3"/>
<path d="M209.6 171l3.4 8.3 0 8.9-3.4 8.3-5.5 7.1"/>
<path d="M219.3 165.1l7.3 9.5 2.8 5.3 2 5.7 1.5 11.8-1.6 11.9"/>
<path d="M234.2 163.9l8.1 8.9 6.5 10 4.1 11.3 3.4 17.6"/>
<path d="M257.4 171.3l5.4 7.2 2.9 5.3 3.1 8.4 2.5 11.7"/>
<path d="M286 178.2l.8 5.9-.2 12"/>
<path d="M309.2 185.1l-4.8 3.4-3.7 4.8"/>
<path d="M333.9 186.7l-9-.4-8.9 1.2"/>
<path d="M352.2 187.5l-23.7-3.8"/>
<path d="M375.8 190.4l-29.6-5"/>
<path d="M393.2 190.1l-17.9-2.1-17.6-3.4"/>
<path d="M420.5 185.5l-24-.7-11.9-1.5-11.7-2.5"/>
<path d="M433.3 184l-20.9 1.5-21-1.4"/>
<path d="M450.5 184l-8.6 2.9-8.7 2-17.9 1.6"/>
<path d="M463.9 179.8l-16.1 7.9-8.6 2.7-8.8 1.7"/>
<path d="M482.9 169.1l-8.8 8.1-9.7 7.1-10.4 6-11.2 4.4"/>
<path d="M497.5 166l-6.3 10.2-7.3 9.5-8 8.9-8.8 8.3"/>
<path d="M508.5 171.1l-14.1 33.1"/>
<path d="M522.9 168.3l-6.1 35.5"/>
<path d="M537.1 167.5l-.5 27 1.1 14.9"/>
<path d="M554.6 169.6l2.3 20.9 2.7 14.8"/>
<path d="M572 172.8l4.1 29.7"/>
<path d="M590.6 172.8l.2 9-1.4 14.9"/>
<path d="M619.2 175.6l-14.8 18.9"/>
<path d="M636.8 179.7l-4.3 4.1-9.5 7.4"/>
<path d="M649.6 178.8l-4.8 7.5-6.6 6.2"/>
<path d="M663.9 178.3l2.9 17.7"/>
<path d="M674.2 173.7l3.3 8.3 3.1 5.2 3.7 4.7 6.8 5.9"/>
<path d="M686.6 170.4l6 10.3 6.3 6.4 7.6 4.9 11.2 4.2"/>
<path d="M700.4 176.4l6.3 6.4 7.7 4.7 11.4 3.7 11.9 1.5"/>
<path d="M723.1 185.4l11.7 2.7 17.9 .8"/>
<path d="M740.5 188.6l12 .2 18-1"/>
<path d="M145.4 180.7l-4.2 7.9-10.2 10.9-14.6 10.6-15.8 8.6"/>
<path d="M164.1 184.6l-5.2 7.4-10.8 10.3-14.4 10.8-15.3 9.5"/>
<path d="M180.3 188.6l-6 6.6-9.1 7.8-26.9 19.2"/>
<path d="M199 179.9l-.4 3-2.2 5.6-7.7 9.2-11.7 9.3-29.8 20.2"/>
<path d="M209.5 188.3l-4 8.1-6 6.7-9.4 7.5-14.9 10"/>
<path d="M222.5 189.8l-.9 6-3.3 8.3-5.4 7.2-8.8 8.1"/>
<path d="M229.1 183l1.8 8.8-.7 11.9-3.8 11.4-5 7.4"/>
<path d="M246.6 183.8l4.5 14.3 3.9 26.7"/>
<path d="M264 189.3l2.5 8.7 4.2 20.5"/>
<path d="M290.3 197.2l-2.1 17.9"/>
<path d="M307.2 202.2l-6.6 10"/>
<path d="M329.8 201.6l-8.5 2.6-7.8 4.5"/>
<path d="M354 202.5l-11.9 .1-11.9 1.6"/>
<path d="M374.5 203.4l-29.9-1.2"/>
<path d="M391 207.3l-23.9-1.9"/>
<path d="M412.5 205.8l-35.9-2.1"/>
<path d="M433.6 200.7l-17.9 1.7-24-.7"/>
<path d="M447.3 200.4l-14.3 4.1-15 1.5"/>
<path d="M465.6 196.3l-7.3 5.1-7.9 4.4-8.4 3.3-8.7 2.1"/>
<path d="M475.4 194.2l-11.2 10.1-12.5 8.2"/>
<path d="M490.9 193.2l-16.8 24.8"/>
<path d="M506.6 185.9l-8.2 22.5-3.2 11.6"/>
<path d="M522.9 188.3l-1.9 17.9 .4 11.9"/>
<path d="M536.3 190.5l.9 17.9 2.7 11.7"/>
<path d="M552.3 192.8l1.9 11.9 3.5 11.4"/>
<path d="M574.7 196.7l3.2 17.7"/>
<path d="M595.6 200.9l-2.8 11.7"/>
<path d="M615 196.9l-6.6 6.1-5.6 7.1"/>
<path d="M636.3 195.9l-19.7 13.7"/>
<path d="M651 196.4l-5.5 7.1-6.4 6.4"/>
<path d="M663.7 197.9l2.8 8.5 5.6 7"/>
<path d="M673.4 195.7l3.6 4.8 6.7 5.9 5.2 3 8.2 3.6"/>
<path d="M682 193.6l6.7 6 7.8 4.5 11.2 4.2 11.8 2.3"/>
<path d="M697.5 196.8l8.1 3.9 8.6 2.6 11.9 1.9 12 .5"/>
<path d="M712.7 199l8.8 2 11.9 1.2 27-.8"/>
<path d="M726.3 203.7l21 .4 32.9-2.8"/>
<path d="M147.1 208.6l-22.5 14.9-13.3 7.1-10.9 4.9"/>
<path d="M169.6 207.4l-27.3 18.6-23.2 13.8"/>
<path d="M183.3 207.2l-50.1 33.1"/>
<path d="M209.8 196.3l-5.5 7.1-9.1 7.8-52.1 35.4"/>
<path d="M218.3 199l-4.6 7.7-8.4 8.5-36.7 26.1"/>
<path d="M227.2 200.6l-2.8 8.5-6.7 9.9-8.8 8.1-11.9 9.1"/>
<path d="M236.2 211.9l-3.3 11.5-6.1 10.3"/>
<path d="M248.5 216l.6 12 1.6 5.7"/>
<path d="M268.3 219.1l2 5.7 3.8 4.6"/>
<path d="M285.4 221l2.1 5.5"/>
<path d="M306.7 221l-2.8 5.3"/>
<path d="M327.5 222.2l-6 .1"/>
<path d="M341.1 224.2l-5.8-1.6"/>
<path d="M366.7 222.8l-11.6-3"/>
<path d="M384.7 224.9l-11.3-3.9"/>
<path d="M401.9 222.2l-11.6-2.8"/>
<path d="M417.9 226.2l-11.6-3.3"/>
<path d="M436.5 222.1l-12 .2"/>
<path d="M455.4 217.5l-10.9 5.1"/>
<path d="M472.1 218.5l-7.6 9.3"/>
<path d="M486.5 215.3l-4.4 11.1"/>
<path d="M505.6 214.1l-.5 9 2.1 8.7"/>
<path d="M521.5 215.7l1.7 8.8 4.1 8"/>
<path d="M538.8 217.8l2.2 5.6 3.2 5.1"/>
<path d="M554.6 216.5l2.7 5.3 3.9 4.6"/>
<path d="M571.2 219.9l3.7 4.8"/>
<path d="M591.8 220.2l2 5.6"/>
<path d="M611 222.2l-2 5.6"/>
<path d="M631.7 217.9l-3.7 4.8-2 5.6"/>
<path d="M647.9 218.3l.2 5.9 3.1 5.1"/>
<path d="M658.2 216l1.3 2.8 3.9 4.5 7.5 4.9"/>
<path d="M668.5 210.9l4.2 4.2 7.6 4.8 8.3 3.5 11.5 3.2"/>
<path d="M675 209.4l10 6.6 14.1 5.2 14.7 2.8 17.9 1.2"/>
<path d="M687.4 217.7l11.3 3.9 14.8 2.9 14.9 1.1 18-.2"/>
<path d="M703.8 221.8l11.8 1.9 15 1 18-.4 20.9-1.7"/>
<path d="M711.4 224.2l15 1.3 18 0 50.7-4.6"/>
<path d="M145.3 225.9l-23.1 14-19 8.9"/>
<path d="M163.9 224.2l-27.5 18.2-18.2 10.4"/>
<path d="M181.1 226.7l-39.4 27.5"/>
<path d="M202.4 224.9l-48.2 35.7"/>
<path d="M216.8 224.2l-9.1 7.8-33.1 25.8"/>
<path d="M225.8 231.6l-8.5 8.4-14.1 11.3"/>
<path d="M234.2 238.5l-3.6 4.8"/>
<path d="M246.8 237l2.5 1.7 3 .3"/>
<path d="M265.5 240.9l11-4.9"/>
<path d="M282.9 247.4l12.7-12.7"/>
<path d="M302.1 245.6l7.1-9.7"/>
<path d="M319.3 246.6l5.9-10.5"/>
<path d="M338.8 245.7l3-5.1 1.8-5.7"/>
<path d="M357.9 244.4l3-5.1 1.1-5.9"/>
<path d="M372.4 243.5l3.2-5.1 .8-2.9-.2-3"/>
<path d="M391 247.2l4.3-4.1 3.6-4.8"/>
<path d="M410 244.7l4.2-4.3"/>
<path d="M427.6 244l4-4.4"/>
<path d="M445.8 244.4l4.4-4.1"/>
<path d="M462.9 244.1l5.2-2.9"/>
<path d="M483.7 238.7l5.6 1.9"/>
<path d="M497.9 236.8l4.7 3.7 5.3 2.9"/>
<path d="M517.3 236.7l4.7 3.7 5.3 2.8"/>
<path d="M532.1 241.2l5.7 1.8 5.9 .7"/>
<path d="M553 243.5l11.2-4.4"/>
<path d="M569.1 243.6l10.1-6.4"/>
<path d="M587.1 248.2l7.2-5.3 8.3-3.6"/>
<path d="M604.6 243.4l5.9-1.2 6 0"/>
<path d="M623.3 236.5l11.1 4.7"/>
<path d="M637.6 232.7l7.4 5.1 14 5.4"/>
<path d="M647.3 232.6l7.7 4.7 8.4 3.2 11.5 3.1 11.8 2.1"/>
<path d="M661.8 231.6l8.2 3.7 8.6 2.7 23.6 4.3"/>
<path d="M669.5 231.5l11.3 4 14.7 3.3 14.8 1.9 18 1"/>
<path d="M688.7 234.8l11.7 2.4 14.9 1.7 15 .7 18-.3"/>
<path d="M700.6 240l14.9 1.6 18 .5 18-.5 20.9-1.6"/>
<path d="M719.4 240.6l30 .1 35.9-3.1"/>
<path d="M139.2 252.7l-12.7 7.8-13.4 6.9"/>
<path d="M158.5 249l-17.1 12.2-12.6 8.1"/>
<path d="M176.2 244.4l-33.5 25.3"/>
<path d="M199.8 242.4l-37.5 29.9"/>
<path d="M213.4 244.9l-32.8 26.3"/>
<path d="M222.6 251l-19.4 14.1"/>
<path d="M234.2 262.4l1.5-5.8"/>
<path d="M246.5 267.2l6.7-10 7.8-9.1"/>
<path d="M257.9 269.1l10.7-14.5 8-9"/>
<path d="M277.7 273.8l21.5-28.8"/>
<path d="M293.4 277.5l25.1-33.6"/>
<path d="M312.9 272.2l15-18.7 6.9-9.8"/>
<path d="M329.2 271.6l20-22.3"/>
<path d="M350 267.6l21.9-20.4"/>
<path d="M363.9 267.6l23.8-18.3"/>
<path d="M378.2 270l30.5-19.1"/>
<path d="M400.5 264.2l20.7-12.2"/>
<path d="M422 265.5l20.2-12.9"/>
<path d="M442.9 264.4l14.4-10.7"/>
<path d="M458.6 265.6l12-8.9 7.7-4.6"/>
<path d="M477.6 261.1l7.9-4.2 8.6-2.8"/>
<path d="M494.3 260.5l8.8-1.7 9-.3"/>
<path d="M512.5 255.8l18 .7"/>
<path d="M535 258.3l11.6-3.1"/>
<path d="M548.9 263.9l7.4-5.2 6.7-6"/>
<path d="M564.6 270.7l20.4-22.1"/>
<path d="M580.2 268.9l12.5-12.9 9.9-6.7"/>
<path d="M596 269.3l7.1-5.6 5.2-2.9 5.6-2 8.9-1.6"/>
<path d="M613.8 260.6l11.8-2.1 18 .3"/>
<path d="M620.6 260l14.9-.9 33 1.7"/>
<path d="M645.3 253.6l20.9 2.6 20.9 1.1"/>
<path d="M652.8 257.3l27 1.6 32.9-.7"/>
<path d="M666.6 261.6l33-.8 38.9-3.1"/>
<path d="M681.9 259.8l36-1.4 35.8-3.2"/>
<path d="M701.8 258.6l35.9-2.2 35.7-4.3"/>
<path d="M722.5 260.9l32.8-3.8 32.6-5.2"/>
<path d="M132.8 272.7l-15.5 9.1"/>
<path d="M156.1 268l-24.7 17.1"/>
<path d="M171.9 267.4l-19.1 14.6"/>
<path d="M192.2 267.8l-23.8 18.2"/>
<path d="M203.6 269.7l-14.5 10.6"/>
<path d="M219 274.2l-5.8 1.2"/>
<path d="M230.3 283.1l5.3-10.7"/>
<path d="M240.9 288.9l16.9-24.8"/>
<path d="M256.5 289l21.3-29"/>
<path d="M277.5 292l22.2-28.3"/>
<path d="M288.7 293.3l26.7-32.4"/>
<path d="M307.1 290.6l28.2-31.2"/>
<path d="M324.4 292.9l31.2-28"/>
<path d="M341.5 293.2l19.2-14.5 19.8-13.6"/>
<path d="M359.1 288.5l17.6-11.5 18.1-10.7"/>
<path d="M376.7 287.7l31.5-17.3"/>
<path d="M394.3 287.2l37.1-19.8"/>
<path d="M415.2 286l18.3-10.2 12.5-8.3"/>
<path d="M434.6 287.7l12.4-8.5 16.7-12.8"/>
<path d="M455.2 284.2l18.9-14.8"/>
<path d="M470.8 283l14.7-10.3 10.9-5"/>
<path d="M490.7 281l11.1-4.3 11.8-2.2"/>
<path d="M509.8 280.4l23.7-3.6"/>
<path d="M528 281.1l11.7-2.7 10.9-5"/>
<path d="M543.7 282.2l10.5-5.8 13-12.4"/>
<path d="M560.5 290.4l9.1-7.7 16.1-17.9"/>
<path d="M578.8 291.7l16.4-17.5 9.3-7.6"/>
<path d="M597.2 285.4l11.1-10 5.2-3 8.4-3.2"/>
<path d="M613 281.6l5.1-3.2 8.2-3.6 14.7-3.2"/>
<path d="M628.9 282.1l14.1-5.1 20.6-3.9"/>
<path d="M643.7 282.3l14.3-4.5 26.4-5.6"/>
<path d="M661.5 286.5l8.2-3.7 11.4-3.9 26.1-6.8"/>
<path d="M673.2 282.6l22.9-7.2 29.3-6.7"/>
<path d="M687.9 291.2l10.5-5.7 13.9-5.7 17.2-5.5 20.3-5.3"/>
<path d="M708.6 291.1l10.6-5.7 13.8-5.8 37.2-11.7"/>
<path d="M730 290l21.6-10.5 34-11.8"/>
<path d="M133.8 285.7l-20.2 13.1"/>
<path d="M154 287.3l-20.1 13.2"/>
<path d="M169.8 289.9l-15.6 8.9"/>
<path d="M183.6 293.7l-5.8 1.4"/>
<path d="M196.9 294.9l-1.9-2.3-3-.5"/>
<path d="M212 295.2l2.3-5.6"/>
<path d="M227.8 305.1l14.3-19.3"/>
<path d="M242.9 306.8l18.9-23.3"/>
<path d="M258 305.8l19.5-22.8"/>
<path d="M272.7 307.7l24-26.8"/>
<path d="M294.4 306.3l21.1-21.3"/>
<path d="M309.2 303.4l21.9-20.5"/>
<path d="M326.8 305.2l28.5-22"/>
<path d="M345 303l24.9-16.8"/>
<path d="M359.8 307.5l17.8-11.1 18.4-10.2"/>
<path d="M378.3 303.5l36.8-20.2"/>
<path d="M399.8 300.3l26.3-14.6"/>
<path d="M413.2 304.7l30.3-19.4"/>
<path d="M438.5 304.8l23.2-19"/>
<path d="M456.1 303.8l18.2-15.6"/>
<path d="M475.7 299.8l9.8-6.9 10.7-5.4"/>
<path d="M490.7 302l11.1-4.5 17.8-3"/>
<path d="M507.5 296.1l23.8-3"/>
<path d="M524.9 294.9l14.8-2.2 8.6-2.7"/>
<path d="M545.4 299.3l8.4-3.2 5.3-2.8 11.6-9.4"/>
<path d="M561.2 304l12.2-8.6 10.6-10.7"/>
<path d="M584.3 303.6l19.9-22.5"/>
<path d="M606.2 305.9l5-10.9 3.4-4.9 4.3-4.3"/>
<path d="M623.3 302.3l3.3-8.3 6-6.7"/>
<path d="M641 307.5l2.5-8.6 3.3-5 4.3-4.2 7.7-4.6"/>
<path d="M652.3 306.8l4.1-8 4-4.4 7.3-5.4 10.7-5.3"/>
<path d="M663.1 314.2l6.5-10 8.6-8.3 12.7-8.1 13.6-6.1"/>
<path d="M676.8 314.8l7.9-9 11.5-9.7 12.7-7.9 16.4-7.4"/>
<path d="M691.6 315.4l12.9-12.5 14.5-10.6 15.9-8.6 16.6-6.8"/>
<path d="M713.1 315.3l12.8-12.6 11.9-9.1 12.9-7.7 16.3-7.6"/>
<path d="M734.6 317.3l7.8-9.1 11.1-10.1 12.3-8.6 15.8-8.6"/>
<path d="M136.5 306.3l-21 11.6"/>
<path d="M152.9 308.5l-16.5 7"/>
<path d="M163.6 315.3l-6-.3"/>
<path d="M179.2 316.3l-.8-5.9"/>
<path d="M192.5 318.8l4.2-11.3"/>
<path d="M209.6 322.8l9.1-15.5"/>
<path d="M225.3 323.5l6.7-10 11.1-14.1"/>
<path d="M243.1 321.7l15.6-18.3"/>
<path d="M260.8 323.3l16.4-17.5"/>
<path d="M279 319.3l17.1-16.9"/>
<path d="M295.4 320.5l22.3-20"/>
<path d="M311.2 320.3l18.7-15.1"/>
<path d="M329.3 321.2l19.5-13.9"/>
<path d="M346.2 319.7l25-16.4"/>
<path d="M365.4 318l20.3-12.9"/>
<path d="M384.2 318.5l25.3-16"/>
<path d="M401.2 320.4l24.7-17"/>
<path d="M420.8 322.2l18.5-15.3"/>
<path d="M435.4 320.9l21.9-20.5"/>
<path d="M457.4 325.6l9.8-11.3 11-10.2"/>
<path d="M475.5 322.5l8.7-8.3 10-6.5"/>
<path d="M488.9 317.9l7.6-4.8 5.6-2.3 14.5-3.5"/>
<path d="M508.2 316.2l23.5-4.9"/>
<path d="M526.5 314.3l17.6-3.7 11.3-3.9"/>
<path d="M544.2 316.4l13.9-5.3 12.8-7.9"/>
<path d="M562.7 319.2l12.3-8.6 10.8-10.4"/>
<path d="M583.6 324.7l7-9.7 9.5-15.3"/>
<path d="M612.7 320.3l.3-9 1.7-8.8"/>
<path d="M631.8 328.4l-2-17.9 .4-6 1.4-5.8"/>
<path d="M646.6 332.8l1.2-21 2.4-8.6 2.9-5.3"/>
<path d="M656.7 337.1l4.6-14.3 5.2-10.8 5.3-7.2 8.7-8.3"/>
<path d="M667 335.3l7.8-12.8 9.3-11.8 10.9-10.3 12.2-8.6"/>
<path d="M679.8 339.6l15.4-18.5 10.3-10.9 11.2-9.9 9.7-7.1"/>
<path d="M700.1 336.8l23.3-27.5 8.8-8.1 9.5-7.3"/>
<path d="M716.6 334.3l8.4-12.4 9.5-11.6 10.9-10.4 12.1-8.8"/>
<path d="M736 341.5l5.6-13.9 4.5-7.8 5.4-7.2 12.7-12.7 17.1-12.1"/>
<path d="M130.9 329.1l-11.7 2.6"/>
<path d="M148.8 328.7l-12 .6"/>
<path d="M164.2 334.8l-4.4-4"/>
<path d="M179.6 334.4l0-12"/>
<path d="M194.7 345.8l.6-6 2-8.8 5.5-13.9"/>
<path d="M210.1 343l5.2-14.1 7.4-13"/>
<path d="M226.7 341.7l5-10.9 6.5-10.1"/>
<path d="M245.9 338.7l6.3-10.2 7.6-9.3"/>
<path d="M261.7 341l6.7-9.9 7.9-9"/>
<path d="M280 336.8l12-13.4"/>
<path d="M297.2 337.3l12.6-12.8"/>
<path d="M316.8 337.2l13.5-11.9"/>
<path d="M333.5 335.1l14-11.3"/>
<path d="M352.3 335l14.1-11.2"/>
<path d="M367.1 337.5l18.5-15.4"/>
<path d="M385 338.2l8.7-8.3 9.3-7.5"/>
<path d="M405.1 337.4l17.5-16.4"/>
<path d="M425.6 342.2l15.2-18.6"/>
<path d="M442.7 340.5l10.3-14.8"/>
<path d="M459.8 338.8l6.4-10.1 7.6-9.3"/>
<path d="M480.6 338.9l5.2-7.4 6.4-6.3"/>
<path d="M496 337.4l9.1-7.7 10.8-5.3"/>
<path d="M512.8 338.5l10-6.5 11.1-4.7"/>
<path d="M528 333.9l21.9-9.8"/>
<path d="M548.5 338.4l19.6-13.8"/>
<path d="M565.1 340.5l20.5-21.9"/>
<path d="M586.6 339.8l10.2-21.7"/>
<path d="M609.3 348l0-30"/>
<path d="M629.1 346.1l-4.4-35.7"/>
<path d="M643.8 346.3l1.1-35.9"/>
<path d="M655.9 351.4l9.9-21.9 9.3-15.3"/>
<path d="M664.4 356.2l25.9-33 16.6-17.3"/>
<path d="M677 353l31.8-36 12.7-12.7"/>
<path d="M695.7 359.2l11.4-13.8 18.9-27.1 7.9-9.1 6.4-6.2"/>
<path d="M730.2 357.1l2.8-14.7 5.6-13.9 8-12.6 10-11.2"/>
<path d="M750 358.3l-.7-9 .4-5.9 2.9-11.7 6.9-13.2 5.5-7.2 6.2-6.5"/>
<path d="M128 349.4l-11.3-4.1"/>
<path d="M147.2 354.5l-9.8-6.8"/>
<path d="M167.6 355.2l-5-7.5-6.1-6.5"/>
<path d="M182.8 357.8l-4.1-17.5"/>
<path d="M198.6 362.7l-1.2-11.9 1-12"/>
<path d="M213.3 359.5l1-11.9 3.4-11.5"/>
<path d="M230.6 359l2.2-11.8 4.4-11.1"/>
<path d="M249.9 361.3l2.7-11.7 5-10.9"/>
<path d="M267.5 357.2l2.9-8.5 4.2-7.9"/>
<path d="M285.3 354.7l5.2-10.8"/>
<path d="M301.2 354.3l5.8-10.4"/>
<path d="M321.5 351.3l7.1-9.6"/>
<path d="M339.9 354.3l6.9-9.9"/>
<path d="M355.6 356l4.6-7.7 5.7-7"/>
<path d="M371.1 354.9l4.7-7.7 5.7-7"/>
<path d="M387.9 354.1l4.7-7.7 5.6-7"/>
<path d="M410 355.7l4.1-8 5.1-7.4"/>
<path d="M428.4 357.5l3.2-8.4 4.4-7.8"/>
<path d="M446.1 359.7l2.3-8.7 3.5-8.3"/>
<path d="M464.8 355.7l2.6-8.6 3.8-8.1"/>
<path d="M481.1 361.9l2.6-11.7 5.4-10.7"/>
<path d="M498.6 357.2l3.3-8.4 5.1-7.4"/>
<path d="M516.5 355.1l4.4-7.8 6.2-6.5"/>
<path d="M533.4 353.9l5.1-7.4 6.5-6.2"/>
<path d="M550.9 357.3l6.3-10.2 8.1-8.8"/>
<path d="M566.9 357.9l3.9-8.1 8.3-12.5"/>
<path d="M588 359.8l6.5-23"/>
<path d="M610 365.3l-.8-36"/>
<path d="M628.4 367.7l-.8-24-2.6-17.8"/>
<path d="M641.8 370.5l4-26.7 1-14.9"/>
<path d="M654.4 371l3.6-8.2 4.5-7.8 17.4-24.4"/>
<path d="M661.7 371.6l8.7-12.2 29.7-33.7"/>
<path d="M680.8 369.8l20.5-21.9 14.3-19.3"/>
<path d="M708.1 370.3l21.3-43"/>
<path d="M739.4 374.8l-1.7-14.9 .6-12 2.7-11.7 6.3-13.5"/>
<path d="M759.1 377.3l-4.9-17.3-1.1-8.9 0-6 2.3-11.7 2.2-5.6 4.3-7.9"/>
<path d="M131.8 370.4l-13.6-11.8"/>
<path d="M150.6 377.9l-8-9-8.6-8.3"/>
<path d="M168.2 376.3l-6.6-10-7.4-9.4"/>
<path d="M185.5 377.3l-8.7-22.3"/>
<path d="M199.5 377.4l-4.1-17.5"/>
<path d="M217.7 377.1l-1.4-8.9-.4-9"/>
<path d="M233 377.7l-1.2-8.9 .1-9"/>
<path d="M252.3 374l-.2-9 1.3-8.9"/>
<path d="M268.2 374.5l-.1-9 1.5-8.9"/>
<path d="M289.3 373.4l-.3-6 .7-5.9"/>
<path d="M305.6 374.3l-.5-6 .5-5.9"/>
<path d="M320.6 371.1l.2-5.9 1.4-5.9"/>
<path d="M340.7 370l.9-5.9"/>
<path d="M355.9 371.1l1-5.9 1.9-5.7"/>
<path d="M376.1 374.9l.9-8.9 2.8-8.6"/>
<path d="M393.9 375.6l.5-8.9 2.4-8.7"/>
<path d="M410.5 376.3l-.1-9 1.9-8.8"/>
<path d="M430 377.3l-.9-8.9 1.1-8.9"/>
<path d="M450.8 374l-.6-8.9 1.2-8.9"/>
<path d="M467.9 378.8l-1.7-11.8 1.2-11.9"/>
<path d="M484.2 380l-1.8-11.8 1.1-11.9"/>
<path d="M505.2 376.9l-.4-12 2.9-11.6"/>
<path d="M523.2 379.2l-.2-11.9 1.1-5.9 2-5.7"/>
<path d="M538.2 377.7l.4-9 2.1-8.7"/>
<path d="M558.3 381.4l-.1-9 1-5.9 1.6-5.8 3.8-8.2"/>
<path d="M574.3 380.2l.3-12 2.9-11.6"/>
<path d="M594.1 385.8l-1.5-8.9-.3-8.9 2.5-17.9"/>
<path d="M613.3 382.3l-2.3-14.8-.7-21"/>
<path d="M630.7 382.8l-1.1-12-.5-23.9"/>
<path d="M644.1 388.7l.2-9 1.2-8.9 7.1-29.1"/>
<path d="M656 395.3l2.5-11.7 5.3-10.8 7.1-9.6 16.3-17.6"/>
<path d="M664.3 388.7l4.1-7.9 5.4-7.3 28.5-30.8"/>
<path d="M687.6 386.6l18.1-23.9 9.3-15.4"/>
<path d="M708.8 386.5l14.4-39.5"/>
<path d="M739.3 390.2l-2.6-14.8-1.2-11.9 .3-12 1.5-8.9"/>
<path d="M766.4 394.1l-7.8-22.6-3.1-11.6-1.3-11.9 1.6-11.9"/>
<path d="M135.9 393.6l-17.5-16.5"/>
<path d="M152 392l-16.2-17.7"/>
<path d="M165.4 395.2l-14.5-19.2"/>
<path d="M184 396.6l-9.7-21.9"/>
<path d="M201.3 393.1l-5-17.3"/>
<path d="M215.8 392.8l-4.4-17.4"/>
<path d="M235.3 392.6l-3.3-8.3-2-8.8"/>
<path d="M256.3 394.1l-4.5-7.8-2.5-8.6"/>
<path d="M274.5 391l-4.3-7.9-2.1-8.7"/>
<path d="M291.2 392.7l-5.2-7.3-3.2-8.4"/>
<path d="M306.1 389.9l-3.5-4.9-2.6-5.4"/>
<path d="M326.1 389.6l-3.5-4.8-2.7-5.4"/>
<path d="M341.9 387.7l-2.8-5.4-1.7-5.7"/>
<path d="M360.2 390.3l-2.5-5.4-1.5-5.8"/>
<path d="M379.4 388.5l-1.7-5.8-.9-5.9"/>
<path d="M399.7 394.8l-3.6-8.2-2.1-8.8"/>
<path d="M416.7 395.1l-3.8-8.2-2.4-8.7"/>
<path d="M439 399.2l-6.6-13.4-2.6-8.7-.7-5.9"/>
<path d="M453.7 395.3l-5.1-10.9-2.9-11.6"/>
<path d="M472.1 396.1l-6.1-13.7-2.2-8.7-.5-6"/>
<path d="M490.6 398.2l-6.5-13.6-2.3-8.6-.8-6"/>
<path d="M508 396.7l-5.8-13.8-1.8-8.8-.3-6"/>
<path d="M528.1 397.3l-5.2-14-1.2-8.9 .1-6"/>
<path d="M542 397l-3.9-11.4-1.3-11.9"/>
<path d="M562.3 397.8l-3.5-11.4-.9-12"/>
<path d="M578.5 395.3l-3.1-11.5-.5-12"/>
<path d="M601.6 402.3l-4.3-7.9-2.9-8.5-1.5-8.9-.2-9"/>
<path d="M619.2 402.5l-4.6-7.7-3.3-8.4-2.1-8.7-1.2-8.9"/>
<path d="M635.5 403l-3.8-8.2-2.5-8.6-1.7-11.9-.6-12"/>
<path d="M648 404.5l-2.3-8.7-.7-9 1-11.9 2.6-11.7"/>
<path d="M660.5 408.8l-.3-12 2.2-8.7 5.6-10.6 9.5-11.6"/>
<path d="M673.7 406.1l2.2-8.7 4.1-8 7-9.7 11.7-13.7"/>
<path d="M688.4 410.7l2.1-8.7 3.6-8.3 18.2-31"/>
<path d="M713.7 409.3l2-14.9 6.5-32.3"/>
<path d="M742.2 406.1l-5-26.5-1.7-14.9"/>
<path d="M759.6 406.8l-10.2-34.5-2.5-11.7"/>
<path d="M137.3 409.4l-23.9-18"/>
<path d="M154.8 410.9l-21.8-20.7"/>
<path d="M168.7 410.5l-6.4-10.2-7.4-9.4"/>
<path d="M179.3 411l-6.7-16.7"/>
<path d="M198.7 409.3l-3.8-17.5"/>
<path d="M220.1 412.6l-5.7-17.1"/>
<path d="M237.9 405.9l-6.8-9.9"/>
<path d="M257 409.3l-7.2-5.4-6.1-6.6"/>
<path d="M279.8 408.8l-12.4-8.5-6.3-6.4"/>
<path d="M298 409.5l-10.1-6.5-9.2-7.7"/>
<path d="M317.5 412.4l-15.4-9.3-9.4-7.5"/>
<path d="M328.1 405.7l-14.6-10.6"/>
<path d="M348.3 409.5l-14.9-10.2"/>
<path d="M362.5 408.4l-9.1-7.9"/>
<path d="M385 413.4l-10-11.2-5.2-7.3"/>
<path d="M400 411.3l-7.1-9.7-5.9-10.4"/>
<path d="M424.8 418l-12.4-17-6.7-13.3"/>
<path d="M440.6 416.1l-12.1-17.1-6.5-13.5"/>
<path d="M460.8 416.4l-10.6-14.5-8.3-16"/>
<path d="M474.8 415.2l-10.6-14.5-8-16.1"/>
<path d="M497.5 420.3l-13.1-16.3-6.2-10.3-3.7-8.2"/>
<path d="M513.6 417.6l-7.5-9.3-6.7-9.9-4.2-8-3.1-8.4"/>
<path d="M533.6 418.6l-7.3-9.5-6.5-10.1-4-8.1-2.8-8.5"/>
<path d="M550.9 417.8l-11.4-17.6-5.5-13.9"/>
<path d="M567.3 419.7l-6.7-9.9-5.8-10.5-3.2-8.4-1.8-8.8"/>
<path d="M586 419.5l-7.1-9.7-4.6-7.8-3.5-8.2-1.7-5.8"/>
<path d="M603.7 419.3l-7.8-9.1-6.5-10.1-3.6-8.3-2.2-8.7"/>
<path d="M626.5 420.4l-10.6-10.6-7.2-9.6-4.2-8-3.4-11.5"/>
<path d="M641.4 418.4l-7.4-9.5-6.4-10.1-3.6-8.3-2.4-8.6"/>
<path d="M653.6 419.4l-5.6-10.6-3.3-8.4-1.4-5.8-1-8.9"/>
<path d="M668.5 422.7l-2.2-8.8-.6-8.9 1.5-8.9 3.5-8.3"/>
<path d="M679.6 423.4l-.8-12 1.6-8.8 3.4-8.4 6.4-10.1"/>
<path d="M700.5 422.6l-.1-6 1.1-8.9 2.3-8.7 4.3-11.2"/>
<path d="M721.3 421.9l-.9-14.9 1.9-27"/>
<path d="M737.9 425l-2.9-14.7-3.1-26.8"/>
<path d="M757.6 422.3l-9-34.8"/>
<path d="M133.5 427.8l-7.1-5.6-12.5-8.3"/>
<path d="M150 431.2l-8-8.9-9.3-7.6"/>
<path d="M166.6 429.7l-5.6-10.5-7.4-9.5"/>
<path d="M180.1 431.4l-2.6-11.7-3.9-11.4"/>
<path d="M196.5 430.7l-2.2-17.9"/>
<path d="M219.2 430.2l-5.3-17.3"/>
<path d="M239.2 424.7l-6.4-6.3-5.4-7.2"/>
<path d="M260.3 427.4l-10.5-5.8-9.8-7"/>
<path d="M279.7 424.1l-21.5-10.6"/>
<path d="M298.4 425.9l-21.5-10.8"/>
<path d="M316 425l-26.6-13.8"/>
<path d="M330.5 426.3l-16.3-7.6"/>
<path d="M352 424.5l-21.6-10.4"/>
<path d="M367.7 426.8l-20.9-11.7"/>
<path d="M387.1 428.5l-18.6-15.2"/>
<path d="M405.3 428.8l-20.4-21.9"/>
<path d="M423.9 431.5l-12.3-13.2-11-14.2"/>
<path d="M450.1 440.7l-9.3-7.6-10.5-10.7-9.5-11.6-6.7-9.9"/>
<path d="M466.1 438.7l-11.5-9.7-8.3-8.6-9.3-11.7-6.6-10.1"/>
<path d="M483 433.5l-15-14.6-12.7-16.7"/>
<path d="M500.5 436.5l-19.1-19.1-12.5-16.7"/>
<path d="M517.8 438.9l-20.5-21.9-11-14.3"/>
<path d="M534.7 437.7l-21.3-25.2-8.8-12.1"/>
<path d="M554 441.7l-22.3-28.2-10-15"/>
<path d="M575.4 442.8l-18.9-23.4-6.8-9.8-6-10.4"/>
<path d="M592.9 438.7l-10.4-10.9-7.5-9.3-6.8-9.9-4.3-7.9"/>
<path d="M611.7 439.1l-11.4-9.7-10.3-10.9-7.2-9.6-5.8-10.5"/>
<path d="M629.3 435.4l-20.7-17.3-8-8.9-5.1-7.4"/>
<path d="M644 432.8l-19.7-18.5-9.7-11.4"/>
<path d="M660.8 440.6l-21.7-24.8-8.9-12.1"/>
<path d="M671.6 434.9l-5.2-10.8-2.8-8.5-1.5-8.9 0-6"/>
<path d="M686.8 437.8l-3.4-8.3-1.9-8.8-.2-9 1.7-8.8"/>
<path d="M703.6 436.5l-2.7-8.6-.9-8.9 .7-9 2.1-8.7"/>
<path d="M722.4 438.8l-3.4-8.3-1.9-8.8-.5-12 1.1-11.9"/>
<path d="M742 438.4l-3.7-8.2-2.6-8.6-3.3-23.8"/>
<path d="M762.3 435.8l-4.4-11.2-4.5-17.4"/>
<path d="M130.4 446.1l-7.5-9.3-9.2-7.7"/>
<path d="M149.8 449.5l-2.4-5.5-4.8-7.6-10.5-10.7"/>
<path d="M164.3 448.4l-4-11.3-6.1-10.4"/>
<path d="M181.2 454.8l-2.7-17.8-2.6-11.7"/>
<path d="M197.1 455l-3.3-29.8"/>
<path d="M217.9 452.3l-5.5-23.4"/>
<path d="M235.5 447.3l-9.3-15.5"/>
<path d="M259.3 444.4l-14.3-11"/>
<path d="M277.4 442.1l-21-11.6"/>
<path d="M292.3 440.7l-16-8.4"/>
<path d="M314.9 442.9l-16-8.2"/>
<path d="M332.1 443.6l-16.5-7.1"/>
<path d="M351.4 444l-16.9-6.2"/>
<path d="M370.6 443.7l-21.9-9.6"/>
<path d="M384.8 442.8l-15.4-9.2"/>
<path d="M410 447.3l-28.1-22.6"/>
<path d="M431 453.5l-17.2-12.1-19.9-18.2"/>
<path d="M449.9 452.2l-7.9-4.4-9.7-7-9-7.9-10.5-10.8"/>
<path d="M470.2 453.5l-13.2-7-10-6.7-9.1-7.8-10.4-10.8"/>
<path d="M487.8 450.9l-22.1-15.6-15.2-14.4"/>
<path d="M504.7 454.2l-27.4-23.4-12.7-12.7"/>
<path d="M518.8 457.7l-9.9-11.2-27.9-27.2"/>
<path d="M534.8 456.8l-11-14.3-20.3-22.1"/>
<path d="M554.5 461l-14.3-19.3-19.2-23"/>
<path d="M576 463.3l-37.6-46.7"/>
<path d="M595.6 459.4l-18.8-19.4-16.9-21"/>
<path d="M606.1 452.6l-15.5-14.2-14-15.6"/>
<path d="M632.1 450.8l-23.8-18.2-13-12.5"/>
<path d="M648.6 456.8l-31.1-23.6-11.5-9.7"/>
<path d="M663.5 454.3l-31.6-27.6"/>
<path d="M680 452.8l-6.1-6.6-7.2-9.6-10.8-18"/>
<path d="M699.7 458l-8.4-8.6-6.8-9.8-4.9-11-2.3-11.7"/>
<path d="M712.3 452.1l-5.6-7-4.3-7.9-2.7-8.6-1.1-8.9"/>
<path d="M734.1 456l-8.1-8.8-4.9-7.6-3.5-8.3-2.3-11.7"/>
<path d="M745.9 454.9l-6.1-6.7-5.2-7.3-4-8.1-2.7-8.6"/>
<path d="M765.8 455.5l-7.9-9-4.9-7.5-3.9-8.1-3.6-11.5"/>
<path d="M127.8 476.8l-1.4-11.9-2.4-8.7-2.5-5.5-5-7.4"/>
<path d="M144.9 476.8l-1.1-12-1.9-8.8-3.3-8.3-3.1-5.2"/>
<path d="M161.7 469.4l-2.2-14.8-5-14.1"/>
<path d="M180.1 472.8l-1.3-14.9-2.3-14.9"/>
<path d="M196.6 479.9l-.5-12-3.3-29.8"/>
<path d="M215.8 473.7l-4.7-29.6"/>
<path d="M234.7 467.4l-3.2-11.6-4.5-11.1"/>
<path d="M255.1 464.3l-3.4-8.3-5-7.5"/>
<path d="M271.6 462.2l-2.3-5.6-3.5-4.8"/>
<path d="M287.1 458l-2.8-5.2"/>
<path d="M307.3 456.7l-3.6-4.7"/>
<path d="M326.5 459.8l-5-3.4"/>
<path d="M348.7 457.7l-11.5-3.5"/>
<path d="M366.2 457l-17.1-5.6"/>
<path d="M385 460l-16.6-7"/>
<path d="M406.3 462.4l-26.5-14.1"/>
<path d="M427.3 464.1l-13.5-6.7-17.7-11.3"/>
<path d="M448.3 465.9l-11.3-3.7-8.3-3.7-17.8-11"/>
<path d="M476.6 466.1l-31-11.3-8-4.2-9.9-6.8"/>
<path d="M490.7 469.1l-10.8-5.4-25-10.2-13.1-7.2"/>
<path d="M509.7 475l-8.7-8.2-7.1-5.5-33.3-20.3"/>
<path d="M521.4 476.3l-9.5-11.6-8.4-8.6-20.9-17.1"/>
<path d="M538.4 483.2l-11.8-17.3-9.1-11.9-8.1-8.9-12.9-12.6"/>
<path d="M555.7 482.8l-21.9-32.3-17.4-20.6"/>
<path d="M575.2 478.3l-36.7-47.4"/>
<path d="M593.7 478.3l-18.1-20-17.2-20.8"/>
<path d="M614.7 476.2l-21.9-20.5-16.5-17.4"/>
<path d="M624.9 470.2l-31.6-27.6"/>
<path d="M650.9 472.2l-42.7-33"/>
<path d="M663.9 469l-38.2-29"/>
<path d="M682.2 471.3l-14.6-10.7-22.9-19.3"/>
<path d="M696.8 468.3l-16.5-13-14-15.5"/>
<path d="M718.6 473l-12.5-8.4-9.3-7.6-8.2-8.6-5.2-7.4"/>
<path d="M736.6 469l-9.7-7.1-9-8-5.8-6.8-4.7-7.6"/>
<path d="M752.5 470.4l-9.7-7-9.1-7.9-6.2-6.5-5.2-7.4"/>
<path d="M771.2 471.6l-12.2-8.8-8.9-8-7.9-9-4.8-7.6"/>
<path d="M126.6 490.2l-1.4-20.9-1.8-8.8-1.9-5.7"/>
<path d="M142.8 491.9l-.5-21-2.7-14.7"/>
<path d="M162.1 491.4l.3-18-2.2-17.8"/>
<path d="M179.5 492.4l1.2-15-1.6-20.9"/>
<path d="M193.3 493.8l1.5-14.9-1.4-21"/>
<path d="M212.9 494.5l1-8.9 0-9-3-23.8"/>
<path d="M233 494.6l-.4-18-3.3-17.7"/>
<path d="M252.3 488l-.2-12-2-11.8"/>
<path d="M269.1 480.4l1.8-11.8"/>
<path d="M283.3 476.8l4.4-4"/>
<path d="M301.2 475.9l11.9-.7"/>
<path d="M317.5 472.2l5.9 .6"/>
<path d="M343.4 476.2l-3 .5-2.1 2.2"/>
<path d="M365.8 476l-11.9-1.4"/>
<path d="M390.5 476.8l-23.4-5.4"/>
<path d="M408 478.9l-28.9-8"/>
<path d="M429 477.9l-14.5-4-14.1-5.1"/>
<path d="M449.1 478.7l-17.6-3.4-17.2-5.4"/>
<path d="M469.9 480.4l-26.6-4.6-14.6-3.6"/>
<path d="M490.1 484l-16.9-6-29.4-5.9"/>
<path d="M506.5 489.4l-9.7-7.1-7.8-4.4-11.1-4.6-14.4-4"/>
<path d="M524.9 496.7l-14.4-15.2-11.2-10.1-9.9-6.7-16.1-8"/>
<path d="M541.1 499.1l-25.5-33.4-8-9-8.7-8.2"/>
<path d="M560 508.9l-34.3-49.2-11.4-13.9"/>
<path d="M576 497l-34.8-48.9"/>
<path d="M593.3 497l-37.3-47"/>
<path d="M609.1 493.2l-32.7-35.1"/>
<path d="M628.3 488.3l-15.9-13.7-19.6-18.5"/>
<path d="M645.2 485.3l-32.7-26.3"/>
<path d="M664.1 487.4l-17.3-11.9-21.3-16.6"/>
<path d="M684.1 486.7l-20.2-12.9-19.3-14.3"/>
<path d="M703.7 486.7l-20.7-12.1-19.5-13.9"/>
<path d="M729 488.4l-13.5-6.5-13-7.5-12.5-8.2-11.8-9.4"/>
<path d="M739.4 485.1l-21.2-11.2-19.6-13.8"/>
<path d="M758.7 487l-11-4.9-13.2-7.1-12.6-8.2-9.5-7.3"/>
<path d="M779.8 488l-13.7-6.1-13.2-7.2-12.5-8.2-11.7-9.4"/>
<path d="M126.2 508.2l-1.9-36"/>
<path d="M143.2 513.1l.4-27-.5-15"/>
<path d="M159.7 508.7l2.4-17.8 .4-18"/>
<path d="M174.3 511.7l3.4-8.3 2.3-8.7 1.3-8.9 .3-9"/>
<path d="M186.3 513.4l5.5-10.6 2.7-8.6 1.3-8.9 .2-12"/>
<path d="M207.5 510.4l3.5-8.3 2-8.8 .9-11.9-.6-12"/>
<path d="M227.9 515.3l1.8-8.8 1.3-11.9 .1-12-.7-9"/>
<path d="M250.9 510l1.4-30"/>
<path d="M264.6 502.1l4.7-17.4"/>
<path d="M282.5 493.5l5.2-3 5.6-2"/>
<path d="M296.5 494.9l9-.1 8.9 1.4"/>
<path d="M316.7 493.1l11.3 4"/>
<path d="M338.4 491.7l4 4.5"/>
<path d="M363.3 491.1l-5.5 2.4"/>
<path d="M380.3 491.8l-11.8 2.1"/>
<path d="M405.8 490.5l-18-.6"/>
<path d="M422.5 494.6l-24 .1"/>
<path d="M447.5 494.9l-35.9-1.9"/>
<path d="M471.9 496.5l-17.8-2.4-29.9-2.2"/>
<path d="M485.5 496l-17.4-4.4-23.9-2.7"/>
<path d="M510.8 505.5l-13-7.6-10.9-5-11.4-3.5-14.8-2.6"/>
<path d="M520.9 508.1l-24.9-16.8-8.1-3.9-8.4-3.1"/>
<path d="M542.4 512.5l-12.9-12.5-20.5-22-8.9-8"/>
<path d="M562 519.5l-20.3-26.1-22.7-31.7"/>
<path d="M575.1 518.6l-33.4-49.9"/>
<path d="M587.3 510.3l-27.9-39.1"/>
<path d="M604 508.1l-26.5-32.5"/>
<path d="M622.4 502.6l-11.2-10-14.7-15"/>
<path d="M640.6 499.2l-19-14.7"/>
<path d="M663.6 500.4l-29.4-20.7"/>
<path d="M683.7 505.4l-34.9-23.4"/>
<path d="M703.4 505.7l-18.2-10.5-22.9-14.4"/>
<path d="M730.4 505l-11.5-3.5-11-4.8-15.9-8.4-15.4-9.3"/>
<path d="M745.7 501.8l-11.6-3-11.3-3.9-13.6-6.2-13.2-7.2"/>
<path d="M768.6 499.9l-17.4-4.5-14.2-4.9-13.7-6.1-15.8-8.6"/>
<path d="M791 501.9l-20.4-4.8-17.2-5.3-14-5.5-16.1-8.1"/>
<path d="M129.8 533.7l-3.3-23.8-1.1-24"/>
<path d="M141.7 532.3l-.8-21 .1-27"/>
<path d="M155.4 530.8l4.9-26.6 1.8-14.9"/>
<path d="M170.2 530l13.4-23.4 4.6-14.2"/>
<path d="M187.7 523.9l10.5-14.6 3.8-8.1 2.2-8.7"/>
<path d="M201.5 528.2l7.5-9.3 4.5-7.8 3.1-8.5 2.1-11.8"/>
<path d="M229.4 534.1l2.9-8.5 2.4-11.8 1.6-14.9 .3-12"/>
<path d="M250.1 528.6l3.1-35.9"/>
<path d="M264.7 522.1l3.2-14.6 2.8-8.6"/>
<path d="M278.6 516l6.6-6.1 8.4-3.1"/>
<path d="M297.6 508.9l8.9 .5 8.7 2.2"/>
<path d="M308.9 504.7l11.5 3.4 10.6 5.6"/>
<path d="M334.5 506.9l8.9 8"/>
<path d="M359.7 504.9l-.4 6 .8 5.9"/>
<path d="M383.1 505.2l-4.8 3.5-3.7 4.8"/>
<path d="M402.5 505.2l-8.5 3.1-7.5 4.9"/>
<path d="M426.9 507l-11.8 1.8-11.4 3.8"/>
<path d="M444.2 509.7l-15 .5-14.7 3.1"/>
<path d="M470.4 512.8l-20.7-3.4-12-.4-9 .6"/>
<path d="M488.1 514.9l-23.3-6-11.8-1.8-12-.8"/>
<path d="M502.6 518.1l-25.8-7.9-14.7-3.1"/>
<path d="M523.3 520.2l-30.7-12.3-14.2-4.6"/>
<path d="M544.6 526.6l-46.9-26.7"/>
<path d="M554.8 526.5l-35.3-32.5"/>
<path d="M571.3 533l-32.7-42.9"/>
<path d="M585.1 527.5l-19.2-30.4"/>
<path d="M603 524l-20.4-29.7"/>
<path d="M619.8 516.3l-6.9-5.7-6.2-6.6"/>
<path d="M635.3 515.2l-10.5-5.7"/>
<path d="M653.2 515.5l-10.5-5.8"/>
<path d="M675.3 520l-11.6-9.5-12.4-8.5"/>
<path d="M697 521.6l-29.1-21.2"/>
<path d="M722.5 518.6l-8.7-2.5-8.2-3.6-25.7-15.5"/>
<path d="M747.6 516.4l-14.9-1.1-11.8-2.3-11.3-4-13.3-6.9"/>
<path d="M767.3 513.3l-23.9-1-14.9-2.1-11.5-3.1-13.8-6.1"/>
<path d="M789.9 512.9l-41.9-2-11.9-1.4-11.8-2.4"/>
<path d="M127.9 551.8l-5.8-26.3-2.8-20.9"/>
<path d="M144.9 550.4l-1.1-21-.1-21"/>
<path d="M155.3 546.3l2.8-14.7 5.2-20.3"/>
<path d="M165.9 548.7l7.4-13.1 14.6-19.1 4.8-7.5"/>
<path d="M178.1 543.4l20.6-21.7 5.4-7.3 4.2-7.9"/>
<path d="M198.6 545.6l10.9-10.4 7.3-9.5 4.2-7.9 3.7-11.4"/>
<path d="M219.2 553.6l7-9.7 5-10.9 3.8-14.5 1.9-14.9"/>
<path d="M242.2 552.2l3.3-8.4 2.9-11.6 2.8-26.9"/>
<path d="M261 543.7l10.6-34.4"/>
<path d="M278.2 534l4.4-4.1 5.2-3 5.8-1.6 5.9-.3"/>
<path d="M291.8 528.1l6-.6 8.9 1.2 5.7 1.8 8.1 3.9"/>
<path d="M307 521.9l8.6 2.8 8 4 7.3 5.2 6.5 6.2"/>
<path d="M332.7 521.3l6.8 5.9 5.7 6.9"/>
<path d="M355.4 519.3l5.6 17.1"/>
<path d="M377.3 519.8l-2.2 8.7-.8 9"/>
<path d="M401.8 521.3l-4.4 4.1-3.7 4.7-4.8 11"/>
<path d="M426.4 524l-8.2 3.6-5 3.3-4.5 4-5.3 7.2"/>
<path d="M446.3 524.3l-9 .6-5.9 1.2-8.4 3.2-5.2 3"/>
<path d="M462.6 528.8l-17.9-1.4-11.8 1.8"/>
<path d="M485.8 533.5l-26.7-4.6-14.9-.8"/>
<path d="M506.5 530.8l-14.8-2.1-32.3-6.8"/>
<path d="M521.2 532.7l-23.8-3-17.7-3.5"/>
<path d="M544.2 534.5l-16.7-6.6-29.1-7.5"/>
<path d="M553 539l-13-7.3-19.8-7"/>
<path d="M566 538l-10.2-11-10.9-10.3"/>
<path d="M581.8 539.1l-16.7-24.9"/>
<path d="M600.9 540.4l-5.7-6.9-7.9-12.8"/>
<path d="M614.9 532.5l-5-3.4"/>
<path d="M631.3 528.6l-5.9-.9"/>
<path d="M650.6 529.9l-5.7-1.9"/>
<path d="M673.5 532.8l-13.5-11.8"/>
<path d="M697.6 540l-27.1-23.7"/>
<path d="M716.8 536.4l-8.2-3.6-7.8-4.6-19.2-14.4"/>
<path d="M738.5 531.9l-11.9-1.1-8.8-2.1-8.4-3.2-10.4-5.8"/>
<path d="M759.3 530.5l-14.9 .6-12-.5-11.9-2-8.5-2.8"/>
<path d="M787.6 525l-41.9 2.5-12-.3-11.8-1.8"/>
<path d="M131.4 570.4l-7.5-29-3.7-17.6"/>
<path d="M144.8 569.9l-4.1-41.8"/>
<path d="M157.5 562.1l4-17.6 6.7-16.7"/>
<path d="M167 566.4l3.9-8.1 5.1-7.3 21.2-21.3"/>
<path d="M178 563.3l8.2-8.8 20.1-18 9.5-11.6"/>
<path d="M190 564.6l18.1-15.8 8.2-8.7 6.7-10 4.5-11.1"/>
<path d="M213.2 568.1l10.2-11 7.9-12.7 5.1-14.1 2.7-14.8"/>
<path d="M241 566.9l6.1-10.3 4.6-11.1 3.2-11.6 1.9-11.8"/>
<path d="M258.5 559.9l17.4-31.5"/>
<path d="M274.2 553.5l6.9-5.7 5.4-2.6 5.9-1.3 8.9 .4"/>
<path d="M286.2 547.4l8.8-1.4 8.9 1.2 11 4.6 9.7 7.2"/>
<path d="M309.2 538.7l8.2 3.7 7.4 5 6.6 6.2 5.4 7.2"/>
<path d="M328 537.1l6.7 6 3.9 4.6 3.3 5 3.9 8.1"/>
<path d="M352.2 531.6l5.5 13.9 3.1 14.7"/>
<path d="M380.1 533.5l-1.3 8.9-.9 15"/>
<path d="M400 533.7l-5.4 10.6-2.9 11.7"/>
<path d="M421.3 537.9l-4.5 4-3.8 4.7-2.9 5.2-2.1 5.6"/>
<path d="M446.7 540l-8.7 2.2-5.4 2.6-7 5.7-3.6 4.7"/>
<path d="M459.1 546.9l-11.9 1.8-5.6 2.1-5.1 3.2"/>
<path d="M481.2 547.8l-18 .1-11.9 1.3"/>
<path d="M500.8 545.4l-36-.6"/>
<path d="M525.6 544.7l-42 1"/>
<path d="M540.2 546.1l-14.8-1.9-21 .6"/>
<path d="M554.8 552.1l-14.1-5.1-14.9-1.8"/>
<path d="M571.5 556.3l-19.9-13.4-10.9-5"/>
<path d="M589.9 557.2l-4.9-3.3-6.8-6-13.7-15.9"/>
<path d="M600.2 555.5l-9.8-6.9-7.9-9"/>
<path d="M616.8 547.6l-5.8-1.4-5.4-2.7"/>
<path d="M634.6 545.3l-12 .2"/>
<path d="M654.8 548.7l-8.7-2.5-9-.6"/>
<path d="M673.4 554.2l-11.9-9.2-7.8-4.3"/>
<path d="M699.6 562l-30.4-29"/>
<path d="M715.1 559.9l-16.4-13.1-15.7-14"/>
<path d="M736 557.2l-21.8-10-15-9.8"/>
<path d="M752.6 546.7l-20.8-2.5-14.4-4.1"/>
<path d="M770.9 547.6l-21-.8-14.9-1.8"/>
<path d="M130.4 589.8l-3-14.7-10.2-37.6"/>
<path d="M145.6 589.2l-.8-15-3.8-32.7"/>
<path d="M157.2 586.6l4.5-23.6 2.6-8.6 3.7-8.2"/>
<path d="M166 583.7l4.8-11 6.5-10.1 6-6.7 11.1-10"/>
<path d="M175.9 589.8l11.3-13.9 24.5-22.2 9.8-11.3"/>
<path d="M189.6 586.9l24.4-22.3 8.1-8.8 6.6-10 5.7-13.8"/>
<path d="M207.2 588.3l15.5-14.2 9.4-11.7 7.2-13.1 4.6-14.2"/>
<path d="M229.7 588l10.3-11 8.9-12 7.2-13.2 5.3-14"/>
<path d="M245.6 587.2l29.5-29.9 7.5-4.9 8.6-2.5"/>
<path d="M265.4 577.2l12.5-8.3 8.5-2.8 6-.3 5.9 .7 11.2 4.4"/>
<path d="M282.4 563l8.8-1.7 6 .4 5.8 1.5 10.7 5.3 4.8 3.7 6.2 6.5"/>
<path d="M300.3 552.5l11.3 4 9.8 6.8 8 8.9 6 10.4"/>
<path d="M332.6 548.4l3.8 4.6 4.7 7.7 3.3 8.3 3.1 11.6"/>
<path d="M351.3 545.3l4.5 14.3 2.5 20.9"/>
<path d="M375.1 541.2l-1 42"/>
<path d="M399.9 548.2l-2.9 11.6-1 18"/>
<path d="M414 552.9l-3.7 11.3-1.1 11.9"/>
<path d="M438.6 556.3l-4.3 4.2-3.3 5-3.7 11.3"/>
<path d="M457.1 560.1l-5.5 2.6-4.9 3.4-4.1 4.3-3.2 5.1"/>
<path d="M476.9 563.1l-11.3 3.9-10.3 6.1"/>
<path d="M504.1 558.9l-26.4 5.5-14 5.4"/>
<path d="M522.9 563.1l-17.8 2.9-17.4 4.5"/>
<path d="M540.1 565.2l-18 .6-23.5 4.5"/>
<path d="M554.4 564.6l-14.7-2.4-15 .2"/>
<path d="M574.1 568.2l-22.8-7.6-11.8-2.1"/>
<path d="M594.3 572.1l-14.4-4.1-19.5-7.7"/>
<path d="M607.7 567.4l-8.8-1.8-8.5-2.9-8-4.1-7.4-5.1"/>
<path d="M622.9 563.5l-15-1.3-8.6-2.4"/>
<path d="M641.7 567.5l-29.9-1.9"/>
<path d="M662.1 571.5l-14.2-4.7-14.9-1.7"/>
<path d="M679.2 575.1l-14.9-10.1-11.1-4.7"/>
<path d="M697.9 583.5l-6-6.7-8.8-8.2-11.7-9.4-9.8-6.8"/>
<path d="M716.9 584.4l-4.7-7.7-5.7-6.9-21.5-20.9"/>
<path d="M730.2 583.3l-4.2-8-5.6-7-18-15.8"/>
<path d="M746.6 574.4l-3.5-4.8-4.4-4.2-15.1-9.7"/>
<path d="M765.7 578.1l-2.7-5.3-3.8-4.6-7.1-5.4-8-4.2"/>
<path d="M125.1 608l.4-9-.9-8.9-2.5-11.7-5-17.3"/>
<path d="M142.8 604.8l1-8.9-.2-12-3.5-26.8"/>
<path d="M154.9 606.8l9.5-34.7 4.4-11.1"/>
<path d="M169.5 601.4l6.2-10.2 5.3-7.3 14.7-15"/>
<path d="M174.4 608.5l7.3-9.6 8-8.9 30.6-28.7"/>
<path d="M184 608.9l10.4-10.8 28.7-26.4 7.5-9.4 6.1-10.3"/>
<path d="M209.9 606.1l16.3-13.3 10.7-10.5 9.6-11.5 8.1-12.6"/>
<path d="M217.2 611.2l21.4-16.4 32.7-31 9.7-7"/>
<path d="M245.9 599.9l19.9-13.4 10.7-5.3 5.8-1.6 6-.4 5.9 .7 5.8 1.7"/>
<path d="M263 591.4l13.6-6.3 8.9-1.4 5.9 .4 5.9 1.4 10.6 5.6"/>
<path d="M283.4 578.1l9 0 5.8 1.3 5.6 2.3 9.9 6.7 10 11.1"/>
<path d="M303.9 568.8l7.9 4.1 7 5.7 7.8 9.1 6.1 10.3"/>
<path d="M332.6 560.3l4.7 7.7 3.6 8.3 8.5 28.7"/>
<path d="M353 557.9l2.3 11.8 3.1 26.8 3.2 14.6"/>
<path d="M377.7 557.9l-.8 32.9 2.2 20.9"/>
<path d="M396.5 559.9l-1 17.9 1.7 23.9"/>
<path d="M411.8 566.6l-.8 15 1.3 20.9"/>
<path d="M433.5 567.6l-3.8 11.3-2.1 17.9"/>
<path d="M454.9 575l-4.1 4.4-3.4 4.9-4.8 11"/>
<path d="M480.4 574.8l-8 4.2-5 3.4-4.4 4-5.7 6.9"/>
<path d="M500.2 578.8l-14 5.3-7.8 4.6-4.7 3.7"/>
<path d="M519.7 578.1l-17.7 3.2-8.6 2.8-8.1 3.8"/>
<path d="M530.8 581.4l-12 .5-11.9 1.7"/>
<path d="M554.4 586.8l-17.9-2.2-12-.3"/>
<path d="M572.2 584.6l-20.8-3.1-14.9-1.3"/>
<path d="M590.8 585.6l-35.6-5.8"/>
<path d="M608.3 586.4l-35.6-5.4"/>
<path d="M630 585.4l-26.9-2.7-14.8-2.2"/>
<path d="M651.5 584.6l-14.7-3-32.9-3.1"/>
<path d="M666.7 589.9l-8.1-4-8.5-2.9-11.8-2.3-11.9-1.3"/>
<path d="M683.5 598.5l-8.9-8.1-10.1-6.4-11.1-4.5-11.7-2.6"/>
<path d="M695.3 600.7l-5.2-7.4-8.4-8.5-9.5-7.3-7.8-4.6"/>
<path d="M710.6 603.6l-3.1-8.5-4.4-7.8-7.4-9.5-8.5-8.5"/>
<path d="M722.5 603.2l-2.4-11.8-3.6-8.2-4.9-7.5-7.9-9.1"/>
<path d="M737.7 595.7l-1.3-8.9-1.9-5.7-2.8-5.3-5.5-7.1"/>
<path d="M754.4 597l-.3-12-1.5-5.8-2.7-5.4"/>
<path d="M118.7 621.6l3.1-8.4 1.2-8.9-.6-12-2.3-11.8"/>
<path d="M137.2 621.2l3.6-8.2 2.1-8.8 .9-11.9-.5-12"/>
<path d="M151.8 619.6l6.4-13.5 9.1-25.4"/>
<path d="M164.6 619.7l15.4-22.2 14.2-15.5"/>
<path d="M173.1 625.5l19.8-22.5 26.8-24.1"/>
<path d="M186.1 626.9l15-14.7 27.5-23.3 14.1-15.5"/>
<path d="M206.1 620.2l33.3-25.6 21.9-20.4"/>
<path d="M222.8 616.5l40.4-25.9 7.9-4.3 8.5-3"/>
<path d="M241.2 611.2l18.7-9.5 14.2-5 5.9-.9 6 .2 5.8 1.2 5.6 2.2"/>
<path d="M261.3 604.1l11.5-3.5 5.9-.7 6 .2 5.9 1.3 5.5 2.2 10 6.6"/>
<path d="M276.9 593.1l6-.6 5.9 .5 5.8 1.5 5.5 2.4 9.8 6.9 11.9 13.5"/>
<path d="M301.8 585l7.7 4.6 8.8 8.2 5.6 7.1 9.8 15"/>
<path d="M331.9 579.4l5.3 10.8 9 22.2 5.4 10.7"/>
<path d="M355 581l3.7 23.7 2.4 8.6 3.3 8.4"/>
<path d="M377.7 574.4l-.2 15 1.1 15 2.2 11.8 3.3 11.5"/>
<path d="M393.9 577.4l1 17.9 2.7 23.9"/>
<path d="M412.7 582.5l1.4 35.9"/>
<path d="M431.1 586.6l-3.1 29.9"/>
<path d="M457.7 586.7l-6.4 10.1-6 16.9"/>
<path d="M479.6 590.8l-6.8 5.8-4 4.5-3.4 4.9-4 8"/>
<path d="M492.8 594.4l-10.2 6.3-8.2 8.7"/>
<path d="M510 601.1l-9 .5-8.5 2.8"/>
<path d="M528.8 605.6l-8.3-3.5-8.8-1.8"/>
<path d="M555.1 603.2l-17.1-5.5-11.7-2.7"/>
<path d="M569.6 601.4l-29.2-6.7"/>
<path d="M595.6 605.8l-41.2-8.3"/>
<path d="M613.2 604.3l-41.4-7"/>
<path d="M633.3 607l-17.5-3.9-29.6-4.8"/>
<path d="M647.2 607.1l-17.3-4.9-23.6-4.1"/>
<path d="M664.3 610.2l-7.6-4.7-8.2-3.6-11.6-3.2-11.8-2.3"/>
<path d="M681.9 616.1l-7.4-9.5-9.4-7.3-10.8-5.3-11.5-3.3"/>
<path d="M691 612.8l-4.4-7.8-5.8-6.9-6.8-5.9-7.6-4.9"/>
<path d="M705.3 619.7l-1.5-8.9-3.1-8.4-4.4-7.9-5.5-7.1"/>
<path d="M716.8 623.9l.7-11.9-.9-9-2.3-8.6-5.3-10.8"/>
<path d="M734 614.1l1.6-14.9-.8-8.9-1.5-5.8"/>
<path d="M748.6 616.1l4.2-14.4 .9-8.9-.4-6"/>
<path d="M114.2 635.6l7.3-9.5 4.1-8 2.4-8.6 .6-12"/>
<path d="M132.5 631.9l5.3-7.3 4.2-7.9 3-8.5 1.6-8.9"/>
<path d="M149.2 636.6l11.4-13.9 13.1-20.1"/>
<path d="M155.8 643.1l10.3-10.9 21.3-25.2 12.8-12.6"/>
<path d="M177.4 638.4l18.6-19.5 20.6-17.5"/>
<path d="M185.9 644l10.6-10.7 11.2-9.8 34.2-24.5"/>
<path d="M203.2 638l9.4-7.4 12.7-8 18.7-9.6 16.5-7.1"/>
<path d="M216.8 635.7l7.8-4.5 10.9-4.8 11.4-3.9 11.7-2.6 8.9-.9 9 .6 5.8 1.4 8.2 3.7"/>
<path d="M232.3 627.7l11.3-4.2 11.6-3 8.9-1.3 9 0 5.9 .9 8.5 3 5.2 3 7.2 5.4"/>
<path d="M260.8 615l8.9-1.2 6 0 5.9 .8 5.7 1.8 10.5 5.9 11 10.1"/>
<path d="M281.7 606.2l5.9 1.2 5.6 2.2 10.1 6.4 8.6 8.4 11.3 14"/>
<path d="M301.9 599.3l7.3 5.3 8.3 8.7 23.4 31.2"/>
<path d="M327.8 596.2l14.8 26 10.1 14.9"/>
<path d="M348.7 590.5l3.7 14.5 4 11.3 5.3 10.8 10.7 18"/>
<path d="M370.7 593.4l1.3 11.9 1.8 8.8 11.3 31"/>
<path d="M391 596.2l6 47.6"/>
<path d="M410.5 597.9l.9 20.9-1.2 21"/>
<path d="M430.8 598.6l-1.9 17.9-3.1 17.7"/>
<path d="M455 603.6l-5 14.1-5 20.4"/>
<path d="M474.6 608.3l-5.9 10.4-3.6 11.4"/>
<path d="M490.8 614.2l-4.5 4-3.4 4.9"/>
<path d="M506 618.3l-5.1-3.1"/>
<path d="M520.9 624.1l-2-5.7-3.4-4.9"/>
<path d="M541 629.9l-4.5-11.1-3.5-4.9-4.2-4.3"/>
<path d="M567 626.5l-18.8-14.8"/>
<path d="M593 623.4l-33.2-13.8"/>
<path d="M610.3 623.7l-16.8-6.4-22.8-7.4"/>
<path d="M628.4 626.5l-16.6-7.1-22.8-7.2"/>
<path d="M648.4 630.3l-7.4-5.1-10.7-5.4-11.2-4.2-14.4-4.1"/>
<path d="M662 633l-6-6.7-7.1-5.5-10.7-5.5-11.3-3.9"/>
<path d="M674.4 632.6l-4.2-7.9-5.8-7-7-5.5-8-4.2"/>
<path d="M689 639.9l-1.9-11.8-2.9-8.6-4.5-7.7-8.3-8.7"/>
<path d="M700.4 638.7l.2-9-.7-8.9-2.1-8.8-3.7-8.2"/>
<path d="M712.6 640l2.6-11.8 1.2-11.9-.4-9-1.8-8.8"/>
<path d="M728.6 637.3l7.7-19.6 2.9-14.6"/>
<path d="M746.4 633l7.4-13 5.6-13.9"/>
<path d="M112.1 648.8l15.3-14.4 8.7-12.1"/>
<path d="M129 648.2l13.3-12.1 11.2-14.1"/>
<path d="M145.1 652l15.5-14.2 17.4-20.6"/>
<path d="M160 657.5l10.8-10.4 20.4-21.9 11-10.3"/>
<path d="M173.4 661.7l18.5-19.6 11-10.3 11.8-9.2 12.5-8.3"/>
<path d="M189.8 657.6l12.9-12.5 11.9-9.1 13-7.4 16.7-6.7"/>
<path d="M201.3 657.7l14.2-11 7.9-4.4 8.4-3.3 8.6-2.4 8.9-1.5 9-.5 8.9 .7"/>
<path d="M212.4 648.2l10.4-6.1 8.3-3.5 11.5-3.1 8.9-1.3 9-.3 8.9 1 8.7 2.4 8.1 3.9"/>
<path d="M243.9 638.2l14.9-.9 11.9 1.6 11.2 4.1 12.4 8.4"/>
<path d="M253.5 632.1l15 .4 8.8 2.1 5.5 2.3 5.2 2.9 7.3 5.3 6.5 6.2 7.8 9.1"/>
<path d="M281.6 618.6l10.9 4.9 9.5 7.3 10.3 10.9 12.6 16.8"/>
<path d="M304.2 616.1l12.4 13 25.6 33.3"/>
<path d="M324.4 610.4l17 24.7 18.7 23.5"/>
<path d="M340.4 613l10.7 18 22.5 31.9"/>
<path d="M366.6 613l4.1 11.2 10.2 21.7 4.5 11.2"/>
<path d="M392.5 615l3.7 26.7 1.3 21"/>
<path d="M414.2 617.6l-1.3 18-2.6 17.8"/>
<path d="M435.1 622.4l-7.2 29.1"/>
<path d="M453.2 618.6l-8.2 35"/>
<path d="M467.5 623.4l-2.9 11.7-1.7 11.8"/>
<path d="M485.1 632.8l-.7 5.9"/>
<path d="M501.4 641.7l1.2-5.9 .3-6"/>
<path d="M520 646.7l1-15-1.2-8.9"/>
<path d="M540.3 655.2l-1.5-21-2.1-8.7-2.2-5.6"/>
<path d="M561.6 651.8l-13.3-26.9"/>
<path d="M584.5 646.3l-17.9-16"/>
<path d="M603.4 645.9l-25.1-16.4"/>
<path d="M620.9 647.1l-25.7-15.5"/>
<path d="M644.3 650.5l-6.6-6.1-7.2-5.4-15.6-9"/>
<path d="M660.3 651l-6.7-9.9-6.3-6.4-7.2-5.4-10.5-5.8"/>
<path d="M672.3 649.4l-5.6-13.8-5.1-7.5-4.1-4.3"/>
<path d="M685.6 654l-2.1-17.9-3.5-11.4"/>
<path d="M700.3 656.3l2.6-20.9-.1-15"/>
<path d="M712 652.4l5.9-20.2 2.8-14.7"/>
<path d="M729.1 648.3l13.8-26.6"/>
<path d="M744 651.3l14.7-19 6.7-9.9"/>
<path d="M105.8 668.7l22-15.7 11.7-9.4"/>
<path d="M121.5 670.2l22.1-15.5 15.8-13.9"/>
<path d="M140.5 673.3l21.2-16.7 18.8-19.3"/>
<path d="M160.8 672.8l10.9-10.3 27.1-28"/>
<path d="M176.1 675.8l25-25.9 9.3-7.6 10-6.5"/>
<path d="M188.9 679.7l14.9-14.8 7.1-5.6 7.5-4.8 13.9-5.7 8.8-1.9 8.9-.8"/>
<path d="M204.7 670.2l7.1-5.5 7.7-4.8 5.4-2.5 8.6-2.7 14.8-1.9 9 .4 8.9 1.6"/>
<path d="M213.3 666.8l7.8-4.5 8.4-3.3 8.8-2 11.9-.8 11.9 1.2 8.7 2.3 8.4 3.4 7.7 4.7"/>
<path d="M228.2 656.3l8.8-2.2 8.9-1.1 12 .4 8.8 1.7 8.6 2.8 8 4 7.4 5.2 8.7 8.2"/>
<path d="M260.7 643.5l14.5 3.4 10.7 5.4 11.7 9.4 11.7 13.7"/>
<path d="M283.5 636.1l10.1 6.5 8.8 8.1 9.6 11.5 11.9 17.3"/>
<path d="M299.5 631.8l6.4 6.3 7.8 9.1 26.2 36.6"/>
<path d="M322 632.3l36.9 47.3"/>
<path d="M343.6 632.4l22 28.5 9.6 15.2"/>
<path d="M361.3 637l14.8 22.6 5.2 10.8 3 8.5"/>
<path d="M394.6 634.5l2.1 20.9 .4 21"/>
<path d="M418.5 639.5l-8.1 35"/>
<path d="M434.7 638.6l-5 17.3-6 16.9"/>
<path d="M454 640.2l-6.1 29.3"/>
<path d="M465.3 646.9l-1.7 17.9"/>
<path d="M482.5 652.7l2.7 5.3"/>
<path d="M498.7 662.3l6.1-16.9"/>
<path d="M518.6 674.4l4.2-23.6 1.2-11.9"/>
<path d="M541.8 675.8l-.9-27-1.5-14.9"/>
<path d="M568.4 671.7l-7.1-13.2-10.3-25"/>
<path d="M584.4 666.2l-12.1-13.3-10.5-14.6"/>
<path d="M605.9 666.7l-16.7-12.8-11.3-9.9"/>
<path d="M621.5 663.3l-24.4-17.5"/>
<path d="M643.8 664.7l-13.1-12.3-14.7-10.4"/>
<path d="M658.7 669.7l-10-15-6.1-6.6-6.8-5.9"/>
<path d="M670.3 669.8l-6-17-5.8-10.5"/>
<path d="M682.7 673.1l-2.3-20.9-3.1-14.6"/>
<path d="M698.4 677.7l5.8-41.6"/>
<path d="M710.5 673.7l4.6-14.3 9.8-25.1"/>
<path d="M724.9 671.8l9-15.7 13.5-19.8"/>
<path d="M743 669.3l9.6-11.6 14.3-15.3"/>
</g></g>
<g clip-path="url(#cpb)"><g fill="none" stroke="#0c0c0c" stroke-width="1.5" stroke-linecap="round" stroke-linejoin="round" marker-end="url(#ah)">
<path d="M1028.9 40.9l-5 17.3-15.3 39-2.1 8.8-.1 8.9"/>
<path d="M1040.2 50l-2.9 14.7-8.9 31.8-1.4 11.8"/>
<path d="M1051 58.4l.9 24 1.6 11.9"/>
<path d="M1064 70l3.6 4.8 4.4 4.1 5.1 3.1 5.7 2"/>
<path d="M1072.1 73.4l8 4.2 8.8 1.8 9 0 8.8-1.7"/>
<path d="M1084.1 82.1l12 .9 11.8-2.1 11.1-4.5 9.9-6.7"/>
<path d="M1105.6 85.5l8.5-2.8 10.6-5.7 7-5.5 8.5-8.5"/>
<path d="M1125.4 96.4l7.3-5.2 8.6-8.4 7.5-9.3 8.5-12.4"/>
<path d="M1146.1 100l10.9-14.2 15.7-25.6"/>
<path d="M1166 99.6l20.5-33.2 8.7-12.2"/>
<path d="M1178.6 105.1l22.7-31.6 8.4-8.6 7.3-5.2"/>
<path d="M1203.2 90.8l8.8-8.2 7.6-4.6 8.8-2 5.9 .8"/>
<path d="M1216 82.3l8.3-3.4 9 .2 8.3 3.3 7.2 5.4"/>
<path d="M1233 70.1l8.4 3.2 7.3 5.2 8.1 8.8 6.5 10.1"/>
<path d="M1259.8 57.3l6 10.4 5 10.9 4.1 11.3 2.9 11.6"/>
<path d="M1285.4 60.7l1.9 36"/>
<path d="M1305.6 55.4l-4.5 41.8"/>
<path d="M1321.6 62.6l3.2 35.9"/>
<path d="M1331.6 62.1l3.2 8.4 4.2 7.9 6.9 9.9 7.8 9.1"/>
<path d="M1343.8 61l12.2 13.2 23.3 18.9"/>
<path d="M1354.7 59.9l41.7 34.3"/>
<path d="M1372.3 59.2l23.2 19 16.6 17.3"/>
<path d="M1394.6 61.1l16.6 17.3 14.5 19.1"/>
<path d="M1417.2 55.9l11.6 17.5 16.3 28.7"/>
<path d="M1439.6 54.3l15.6 35.7 7.2 13.1"/>
<path d="M1459.6 61.4l10.1 25 7.5 13"/>
<path d="M1478.9 65.7l8.9 15.7 7.8 9.1"/>
<path d="M1491.4 70.5l6 6.6 4.8 3.6 5.2 2.9 8.5 3"/>
<path d="M1510 75.5l8.8 2.1 8.9 1"/>
<path d="M1531.9 75.8l8.9 .9 8.7 2.2"/>
<path d="M1555 74.5l4.6 3.8 4 4.5"/>
<path d="M1570.3 72.7l5 10.9"/>
<path d="M1593.5 73.1l-.3 6"/>
<path d="M1612.6 79.2l-2.9-.9-2.9 .5"/>
<path d="M1634.6 85.1l-10.1-14.9"/>
<path d="M1655.4 86.9l-11.9-20.9"/>
<path d="M1024.3 78.1l-5.1 14.1-3 11.6-.6 9 1.5 5.8"/>
<path d="M1038.9 73l-4.2 17.5-1.8 11.8 .4 9 2 5.7 1.7 2.5"/>
<path d="M1052.4 83.8l1.2 8.9 2.8 8.5 3.1 5.1 4.3 4.2"/>
<path d="M1060.1 87.1l4.6 7.7 4.3 4.2 5 3.2 8.5 3"/>
<path d="M1070.7 88.6l7.8 4.5 8.6 2.3 9 .5 8.9-.9"/>
<path d="M1085.8 96.8l8.9 .8 11.9-1.3 11.4-3.7 7.9-4.3"/>
<path d="M1107.4 104.4l11.4-3.4 8-4.2 7.2-5.3 8.5-8.6"/>
<path d="M1128.5 109.8l5.1-3.1 7-5.6 6.2-6.6 7.2-9.5"/>
<path d="M1146 114.7l6.6-6.1 7.5-9.3 17.4-28.1"/>
<path d="M1166.9 114.5l9.2-11.9 14.9-22.5"/>
<path d="M1186.2 109.6l15.1-18.6 8.5-8.5"/>
<path d="M1201.2 108.2l6.7-6 7.4-5.1 5.4-2.5 5.9-1.1"/>
<path d="M1219.9 96.3l5.9-1.3 5.9 .4 5.7 2 5 3.2"/>
<path d="M1236.1 82.4l7.9 4.2 8.8 8.1 6.7 9.9 3.4 8.3"/>
<path d="M1262.3 76.5l5.7 10.5 3.4 8.3 3.3 11.6 1.3 8.9"/>
<path d="M1285.6 82.6l1.3 30"/>
<path d="M1306.9 79.1l-3.4 35.9"/>
<path d="M1322.8 83.6l2.7 29.9"/>
<path d="M1332.2 79.6l5.9 13.8 10.2 18.3"/>
<path d="M1346.9 82.6l29.3 30"/>
<path d="M1363.2 82.3l20.9 17.1 10.6 10.5"/>
<path d="M1376.3 80.3l18.5 15.3 16.1 17.7"/>
<path d="M1401.5 79.2l12.1 13.3 14.6 19"/>
<path d="M1418.7 76.7l20 29.9 7.5 9.3"/>
<path d="M1441 79.8l10.9 21.3 5 7.5 6 6.6"/>
<path d="M1456.2 72.4l5.6 13.9 5.3 10.7 6.9 9.9 6.4 6.3"/>
<path d="M1476.6 76.3l5.7 10.5 5.2 7.4 6.3 6.4 9.6 7.1"/>
<path d="M1492.6 89.3l9.2 7.8 15.9 8.3"/>
<path d="M1510.9 91.4l22.8 7.6"/>
<path d="M1528.9 91.1l11.5 3.2 10.6 5.6"/>
<path d="M1546.1 90.1l5.3 2.8 4.7 3.6 8 9"/>
<path d="M1569.6 88.6l8.4 15.8"/>
<path d="M1590.4 90.6l2.8 11.7"/>
<path d="M1615.7 97l-3 .2-2 2.2"/>
<path d="M1635.4 100.4l-7.5-9.3"/>
<path d="M1651.9 100.2l-6.8-9.8"/>
<path d="M1018.5 105l-.3 6 1 5.9 2.8 5.2 4.5 4"/>
<path d="M1032.6 99.4l-.3 9 1.2 5.9 2.8 5.2 6.8 5.8"/>
<path d="M1047.9 104.4l3.7 8.1 4 4.4 5 3.3 8.4 3.3"/>
<path d="M1058.2 106l4.1 4.4 4.9 3.4 8.4 3.3 8.8 2"/>
<path d="M1070.7 107.3l8.3 3.3 8.9 1.8 8.9 .6 9-.6"/>
<path d="M1088.5 112.8l9 .4 9-.7 8.8-1.8 8.4-3.1"/>
<path d="M1108.4 118.8l14.5-3.6 8.2-3.8 5-3.3"/>
<path d="M1128.8 121.9l8.1-3.9 5-3.3 10.9-10.2"/>
<path d="M1150.2 125.9l5-3.3 6.8-5.8 9.6-11.5"/>
<path d="M1166.8 125.4l11.1-10 13.1-16.4"/>
<path d="M1188.8 120.9l17.9-16"/>
<path d="M1205.6 117.4l7.9-4.4 8.6-2.6"/>
<path d="M1229.5 111.6l5.3 2.8 4.2 4.2"/>
<path d="M1243.4 104.1l4.1 4.3 3.3 5 2.3 5.6 1 5.9"/>
<path d="M1263 102.3l4 11.2 1 6 .1 6"/>
<path d="M1285.3 103.8l.3 12-.7 12"/>
<path d="M1305.5 97.4l-2.3 29.9"/>
<path d="M1322 103.4l.8 24"/>
<path d="M1333.9 99.5l5.8 17.1 2.5 11.7"/>
<path d="M1349.9 99.6l12.7 16.7 4.3 7.9 2 5.7"/>
<path d="M1364.9 103.6l11.9 13.5 6.2 10.2"/>
<path d="M1380.1 98.4l14.8 14.8 12.4 17"/>
<path d="M1400.6 103.1l23 27.7"/>
<path d="M1418.1 97.6l16.6 21.3 6.4 6.3 4.8 3.6"/>
<path d="M1437.8 100l6.8 9.9 5.9 6.8 6.8 5.9 5.1 3.1"/>
<path d="M1454.9 101.8l5.2 7.4 6.2 6.5 7.1 5.4 7.9 4.4"/>
<path d="M1472.8 100.2l5.6 7 4.3 4.2 7.2 5.4 10.1 6.4"/>
<path d="M1484.9 103.2l8.9 7.9 24.9 16.8"/>
<path d="M1502.4 103.6l23.3 13.7 11.6 9.4"/>
<path d="M1521.7 106l10.6 5.6 7.4 5.1 6.8 5.9 8.2 8.8"/>
<path d="M1543.4 103.8l5 3.4 6.7 6 13.6 16"/>
<path d="M1565.9 101.9l16.7 24.9"/>
<path d="M1590 107l7.3 16.4"/>
<path d="M1613.4 113l.3 6"/>
<path d="M1633.5 115.5l-2.7 1.2-2.3 2"/>
<path d="M1649.3 114.7l-5.8-1.6"/>
<path d="M1001.1 126.9l11 4.7 17.6 3.9"/>
<path d="M1019.6 127.4l5.5 2.6 8.5 2.7 20.7 3.8"/>
<path d="M1037.4 124.5l5.2 2.9 8.5 3 20.6 3.9"/>
<path d="M1052.8 131.4l14.8 2.8 20.9 1.8"/>
<path d="M1069.3 131.8l17.9 1.9 18 .2"/>
<path d="M1091.1 132.5l18-.3 17.7-3.2"/>
<path d="M1108.1 134.9l14.9-2.1 14.3-4.3"/>
<path d="M1129.9 136.8l11.4-3.7 10.9-5"/>
<path d="M1152 135.6l16.1-8.1"/>
<path d="M1169.1 134.6l16.2-7.7"/>
<path d="M1195.3 132.8l6-.7"/>
<path d="M1213.5 131l2.7 1.4 1.9 2.3"/>
<path d="M1235 128.1l-.5 6"/>
<path d="M1253.3 127.5l-1.5 5.8-3 5.2"/>
<path d="M1272.4 125.7l-2 8.8-4.3 7.9"/>
<path d="M1287 119l-1 11.9-2.9 11.7"/>
<path d="M1304.5 119.2l-1.8 24"/>
<path d="M1325.4 122.3l.1 12-.7 12"/>
<path d="M1339 120.2l1.4 8.8 .2 6-2 14.9"/>
<path d="M1355.9 118.9l3.9 11.3 .7 11.9"/>
<path d="M1370.7 123.4l4.1 11.2 1.2 11.9"/>
<path d="M1386.1 120l6.1 10.3 7.5 16.4"/>
<path d="M1401.2 117.8l15.9 21.8 10.5 10.6"/>
<path d="M1417.9 121.3l7.8 9.1 6.5 6.3 7.4 5.1 5.4 2.6"/>
<path d="M1433.2 118.4l8.6 8.4 7.5 4.9 8.3 3.6 11.5 3.3"/>
<path d="M1447.5 124.6l5 3.3 8.1 3.9 25.7 8.1"/>
<path d="M1464.9 119.6l10.3 6.2 21.8 9.8 10.2 6.4"/>
<path d="M1484.9 120.9l23.3 13.7 7 5.6 8.5 8.5"/>
<path d="M1494.2 114.8l17.6 11.5 9.4 7.4 8.5 8.5 9.3 11.8"/>
<path d="M1515.4 114l10.1 6.5 9.2 7.7 8.2 8.7 11.3 14.1"/>
<path d="M1539.9 113.4l6.9 5.8 8.3 8.6 21 25.5"/>
<path d="M1560.9 115.1l25.7 33.2"/>
<path d="M1583.9 119.6l15.4 25.8"/>
<path d="M1611.5 124.5l3.4 17.7"/>
<path d="M1629.9 125.6l-2.2 8.6-1.1 9"/>
<path d="M1650.2 126l-4.2 4.2-3.2 5.1"/>
<path d="M1000.1 156.5l17.5-4.2 17.7-2.8"/>
<path d="M1015.9 156.6l20.6-4.4 20.8-2.4"/>
<path d="M1039.5 152.1l29.9-2.8"/>
<path d="M1056.9 148.9l30-1.1"/>
<path d="M1073.8 149.4l29.9-1.7"/>
<path d="M1094 150.5l15-1.5 14.7-2.6"/>
<path d="M1118.9 150.4l17.5-4.5"/>
<path d="M1138.6 153.7l11.4-3.7"/>
<path d="M1159.8 150.5l5.9-.9"/>
<path d="M1176.5 150.1l5.4 2.6"/>
<path d="M1196.3 146.1l2.8 5.2"/>
<path d="M1215.4 148.8l-2.1 5.6"/>
<path d="M1238.7 148.4l-9.4 7.4"/>
<path d="M1258.3 145.3l-7 5.6-12.8 7.8"/>
<path d="M1273.7 146.2l-6.1 6.5-7.4 5.2"/>
<path d="M1290 141.9l-2.7 8.6-4.3 7.8"/>
<path d="M1308.3 139.2l-1.2 12-2.6 11.7"/>
<path d="M1325.2 140.8l-1.4 11.9-2.7 11.7"/>
<path d="M1343.3 139.2l-2.2 11.8-3.9 11.3"/>
<path d="M1361.4 133.9l.2 6-1.1 8.9-4.9 14.1"/>
<path d="M1374.5 136.7l.7 6-.3 8.9-.9 6-2.7 8.6"/>
<path d="M1390.3 134.5l10.2 28.2"/>
<path d="M1404.3 136.9l9.8 15 8.5 8.4"/>
<path d="M1420.2 136.6l6.2 6.5 7.2 5.5 8 4.1 8.6 2.6"/>
<path d="M1431.4 140.1l7.5 5 8.3 3.5 23.5 4.8"/>
<path d="M1447.3 143.7l8.6 2.5 23.6 4.6 8.6 2.5"/>
<path d="M1457 144.8l20.6 4.1 11.5 3.3 10.7 5.4 7 5.7"/>
<path d="M1479.2 139.7l11.4 3.7 10.7 5.5 9.3 7.4 7.8 9.1"/>
<path d="M1500.8 133.2l9.9 6.7 10.9 10.4 8.9 11.9 5.5 10.7"/>
<path d="M1516.9 130.4l11 10.2 9.5 11.6 8.1 12.7 5.9 13.7"/>
<path d="M1541.4 127.8l19.5 22.8 7.1 9.7 6.3 10.2"/>
<path d="M1557.5 131.4l20.6 25.8 6.3 10.1 3.9 8.1"/>
<path d="M1581.5 131.6l13.3 19.9 7.5 16.3"/>
<path d="M1608.7 134.6l4.5 17.4 2.8 17.8"/>
<path d="M1631.6 137.8l-3 23.8"/>
<path d="M1655.3 138.7l-6.6 13.5-4.3 14.3"/>
<path d="M1006 176.5l9.9-6.6 16.6-7"/>
<path d="M1023 174.5l13.2-7.2 14.1-5.1"/>
<path d="M1043.3 172.6l10.7-5.5 11.3-4"/>
<path d="M1067.3 169.5l11-4.8"/>
<path d="M1084.7 173l4.4-4.1"/>
<path d="M1107 171l4.1-4.3"/>
<path d="M1122 169.8l3.9-4.5"/>
<path d="M1140.9 169.3l3.8-4.6"/>
<path d="M1158.6 167.7l2.7-1.3 3 .1"/>
<path d="M1180.5 165.3l-1.5 5.8"/>
<path d="M1200.1 160.9l-4.7 11"/>
<path d="M1222.8 163.3l-12.5 12.9"/>
<path d="M1245.7 162.9l-13.3 7-7.5 5"/>
<path d="M1260 164.3l-21.6 10.5"/>
<path d="M1277.3 159.4l-7 5.7-13.2 7.2"/>
<path d="M1293.4 158.7l-4.2 7.9-5.8 7"/>
<path d="M1306.3 158.5l-2.7 8.6-4 8.1"/>
<path d="M1327 161.4l-3 8.5-3.9 8.1"/>
<path d="M1347.8 158.6l-5.2 10.8-6.3 10.3"/>
<path d="M1363.9 156.3l-4.7 11-6.3 10.3"/>
<path d="M1378.5 156.7l-2.9 11.6-5.4 10.7"/>
<path d="M1394.6 163.3l3.2 11.5"/>
<path d="M1408.6 162.8l6.2 6.4 7.9 4.2"/>
<path d="M1422.5 165.8l8 4 14.5 4.1"/>
<path d="M1436.2 162.5l8.5 2.7 20.5 4.6"/>
<path d="M1448.1 165l26.3 6.2 8.2 3.6 5 3.3"/>
<path d="M1464 163l11.7 2.6 11.2 4.2 7.6 5 5.7 6.8"/>
<path d="M1488.9 160.4l8 4.1 6.8 5.8 5.3 7.3 2.5 8.6"/>
<path d="M1507.8 152l10.3 10.8 6.1 10.3 2 5.7 .7 5.9-1.9 8.8"/>
<path d="M1527.8 152.8l6.8 9.9 5.2 10.7 2.2 8.7-.4 9"/>
<path d="M1544.9 150.7l8.3 12.5 5.8 10.5 3.9 11.3 1.1 8.9"/>
<path d="M1561.9 148.3l8.9 12 6.3 10.2 4.8 11 2.2 8.7"/>
<path d="M1580.8 149l8.2 12.5 5.3 10.7 3.7 11.5 1.5 8.8"/>
<path d="M1604 147l3.2 8.5 3.1 11.6 3 20.7"/>
<path d="M1631.7 149.1l-1.7 14.9-1.1 20.9"/>
<path d="M1655.1 147.6l-3.5 8.3-3.6 11.4-3.9 20.6"/>
<path d="M1018.9 190.1l-1.5-2.6-.5-2.9"/>
<path d="M1037.6 193.1l-4.1-4.3-1.2-2.8 0-3"/>
<path d="M1055.4 191.4l-4-4.5-1.1-2.7 0-3"/>
<path d="M1074.7 189.9l-4.5-3.9-2.7-5.3"/>
<path d="M1094.7 189.8l-4.8-3.6-4.1-4.3"/>
<path d="M1113 190.2l-9.3-7.4-3.4-5"/>
<path d="M1132.9 191.1l-7.4-5-6.3-6.4"/>
<path d="M1149.2 187.9l-10.2-6.2"/>
<path d="M1169.5 185l-6 0-5.9-1.1"/>
<path d="M1185.7 186.6l-5.5 2.4-5.8 1.5"/>
<path d="M1203.8 182.8l-7.1 5.6-7.8 4.4"/>
<path d="M1223.5 179.9l-19.4 14.1"/>
<path d="M1241.7 180.4l-20.6 12.2"/>
<path d="M1264.7 179.8l-26.4 14.1"/>
<path d="M1279 180l-15.1 9.8"/>
<path d="M1292.9 178.1l-6.2 6.5-6.9 5.8"/>
<path d="M1311.1 182l-5.6 7-6.3 6.5"/>
<path d="M1326.9 179.9l-11.1 14"/>
<path d="M1345.7 174.8l-6.9 9.8-7.8 9.1"/>
<path d="M1362.9 180.3l-11.8 13.6"/>
<path d="M1380.4 184.3l-3.9 4.5"/>
<path d="M1393.4 182.3l.4 3 2.8-.8"/>
<path d="M1409.3 187l5.5-2.4"/>
<path d="M1425.4 185l11.9-.4"/>
<path d="M1442.9 185.8l8.4 3 7.5 5"/>
<path d="M1454.8 180.2l10.7 5.4 4.6 3.8 3.7 4.7"/>
<path d="M1472.8 179l7.3 5.2 3.9 4.5 2.7 5.3 1.7 8.9"/>
<path d="M1497.1 176.5l3.6 4.8 2.3 5.5 .6 6-.8 5.9"/>
<path d="M1520.5 175.8l1.6 5.8 .1 6-1.4 5.8-2.7 5.4"/>
<path d="M1536.1 170.3l2.9 8.5 .7 6-.7 5.9-3.4 8.3"/>
<path d="M1553.1 170.8l3.5 8.3 1.4 5.8 .7 9-.7 5.9"/>
<path d="M1565.9 164.3l5.9 10.5 4.1 11.2 1.6 11.9-1.4 11.9"/>
<path d="M1583.3 165.2l5.3 10.8 3.5 11.4 1.3 11.9-1.2 12"/>
<path d="M1604.8 165l2.4 8.7 2.1 11.8 .6 12-.7 8.9"/>
<path d="M1629 166.6l-2.1 35.9"/>
<path d="M1651.2 167.7l-2.8 11.6-3.7 23.7"/>
<path d="M1025.6 206l-17.6-3.4"/>
<path d="M1048.3 205.5l-11.7-3-11.3-3.9"/>
<path d="M1065.4 209l-23.5-4.8"/>
<path d="M1085 207.8l-17.4-4.7-11.3-4"/>
<path d="M1103.6 208.5l-28.4-9.5"/>
<path d="M1122.4 210.4l-33.6-13"/>
<path d="M1143.5 209.3l-16.8-6.6-16.1-7.9"/>
<path d="M1158.6 208.6l-17.2-5.2-16.4-7.6"/>
<path d="M1175 203.5l-11.9-.7-11.7-2.8"/>
<path d="M1191.9 202.1l-11.7 2.6-11.9 .3"/>
<path d="M1211.7 200.7l-13.6 6.2-14.6 3.3"/>
<path d="M1228.1 199.8l-13.1 7.4-8.2 3.7"/>
<path d="M1245 198.8l-20.7 12.1"/>
<path d="M1263 198.5l-25 16.7"/>
<path d="M1280.5 196.6l-23.8 18.3"/>
<path d="M1296.8 194.5l-22.7 19.6"/>
<path d="M1312 196.6l-17.7 16.2"/>
<path d="M1330.8 197.7l-17.7 16.2"/>
<path d="M1351.5 197.4l-17.5 16.4"/>
<path d="M1364.2 198.4l-13.5 11.9"/>
<path d="M1380.6 201.3l-5.4 2.5"/>
<path d="M1395.7 207.5l-1.3-5.9"/>
<path d="M1412.7 210.4l2.1-5.6 3-5.2"/>
<path d="M1430.8 207.9l5.6-1.9"/>
<path d="M1444.2 200.5l4.8 3.6"/>
<path d="M1462.8 195.8l4.5 7.8 1.9 8.8"/>
<path d="M1485.9 195.4l1.4 8.8-.7 9"/>
<path d="M1507.7 195.9l-3.2 8.4-6.5 13.5"/>
<path d="M1529.4 192.4l-4.3 7.9-9.8 11.3"/>
<path d="M1543.7 193.2l-2.1 5.6-3.2 5.1-8.2 8.8"/>
<path d="M1559.4 191.3l-.7 9-1.7 5.8-2.5 5.4-5.1 7.4"/>
<path d="M1573.2 183.5l2.1 11.8-.3 9-2 8.7-5.3 10.8"/>
<path d="M1589.8 178.8l2.9 11.6 .8 11.9-1.9 11.9-4.7 10.9"/>
<path d="M1611.7 184.9l.2 18-1.4 8.8-2.9 8.6"/>
<path d="M1633.1 191.6l-2.5 17.9-3.6 11.4"/>
<path d="M1648.3 192.1l-3 17.7-3.6 11.4"/>
<path d="M1035.8 219.2l-17.8 2.9-17.3 4.8"/>
<path d="M1051.4 221l-17.7 3.2-17.1 5.6"/>
<path d="M1071.2 220.1l-17.9 1.8-17.6 3.7"/>
<path d="M1085.6 221.2l-15 1-14.7 2.4"/>
<path d="M1108.6 222.3l-18-1.4-18 .6"/>
<path d="M1124.7 227.7l-17.8-2.7-18 .1"/>
<path d="M1151.5 228.7l-31.8-9-20.5-4.5"/>
<path d="M1167.4 231.5l-52-14.3"/>
<path d="M1180.4 225.2l-17.8-2.4-23.1-6.4"/>
<path d="M1200 223.1l-8.9 1.1-12 0-9-.9-11.7-2.3"/>
<path d="M1217 220l-8.6 2.8-8.8 1.9-17.9 .9"/>
<path d="M1229.8 216.2l-8 4.1-8.4 3.2-8.8 2.3-8.9 1.2"/>
<path d="M1244.6 216.5l-15.2 9.7-11 4.7"/>
<path d="M1261.6 213.4l-23.5 18.6"/>
<path d="M1281.7 212l-21.4 21"/>
<path d="M1298.7 212.1l-15.3 14.4-9.9 11.2"/>
<path d="M1316.1 211.9l-15.6 14-10.3 10.9"/>
<path d="M1333.9 216.1l-17.6 16.2"/>
<path d="M1354.8 211.9l-22 20.4"/>
<path d="M1369.8 215.5l-9.2 7.6-8.6 8.4"/>
<path d="M1382.1 220.8l-5.1 3.2"/>
<path d="M1399.8 223.9l-5.2-3.1"/>
<path d="M1412.4 224.3l-.5-5.9"/>
<path d="M1427.3 222.1l2.9 .3 .7 2.9"/>
<path d="M1446.7 216.1l.8 5.9-.5 6"/>
<path d="M1465.6 207.2l1 5.9-.2 9-3.8 14.5"/>
<path d="M1488 205.4l-2.4 14.8-7 19.7"/>
<path d="M1509.7 211.6l-6.8 9.9-5.5 10.6"/>
<path d="M1531.5 213.3l-10.7 10.4-5.5 7.2"/>
<path d="M1549 211.5l-15.9 17.9-3.5 4.9"/>
<path d="M1563.7 207.7l-5 10.8-11 14.3"/>
<path d="M1580 204.9l-1.9 8.8-3.6 8.2-5 7.5-9.9 11.3"/>
<path d="M1600.1 201.4l-1.7 11.8-3 8.5-4.6 7.7-8.1 8.8"/>
<path d="M1616.1 203.5l-1.6 8.8-2.9 8.5-4.4 7.8-5.8 7"/>
<path d="M1634.3 208l-4.6 14.3-4.4 7.8-3.7 4.7"/>
<path d="M1649.9 206l-4 14.5-3.9 8.1-3.3 5"/>
<path d="M1034.2 228.8l-8.2 3.6-7.8 4.4-9.6 7.2-8.9 8.1"/>
<path d="M1052.6 230.8l-13 7.3-7.1 5.6-8.7 8.3"/>
<path d="M1066.6 233l-12.6 8.1-14.9 14.8"/>
<path d="M1088.6 233.2l-5.6 2.2-7.7 4.6-6.9 5.8-8.1 8.8"/>
<path d="M1103.8 234.3l-8.8 2.2-8.1 3.8-7.3 5.3-6.4 6.3"/>
<path d="M1130.2 242.7l-12-.9-8.9 1.2-8.5 2.9-10.1 6.5"/>
<path d="M1144.8 243.3l-11.7-2.8-11.9-1.6-8.9 .2-8.8 1.8"/>
<path d="M1166.7 245.3l-29-7.9-17.7-3.2"/>
<path d="M1191.7 248.5l-20.7-3.8-37.7-10"/>
<path d="M1208.4 243.8l-12 .1-12-1.2-14.7-2.9-14.5-3.7"/>
<path d="M1223.1 235.2l-11.7 3-11.9 .9-15-.9-14.8-2.5"/>
<path d="M1234.7 234.9l-10.8 5.3-8.7 2.3-8.9 1-12-.2"/>
<path d="M1249.3 230.7l-9.3 7.6-7.5 4.9-8.2 3.7-5.8 1.6"/>
<path d="M1262.6 230.8l-12.3 13.1-9 7.9"/>
<path d="M1282.6 225.1l-8.1 8.9-15 18.7"/>
<path d="M1297.1 230.7l-10 11.2-9.1 11.9"/>
<path d="M1318.7 229.1l-12.5 12.9-11.6 13.8"/>
<path d="M1336.3 227.5l-24.8 26"/>
<path d="M1353.4 229.8l-20.4 21.9"/>
<path d="M1371.4 230l-19.9 22.4"/>
<path d="M1384.1 233.4l-11.2 14.1"/>
<path d="M1397.8 236.2l-6.5 10.1"/>
<path d="M1412.8 235.7l-2.7 5.4"/>
<path d="M1434.3 234.2l-4.1 11.2"/>
<path d="M1455.3 227.1l-3.4 11.4-7.8 16.3"/>
<path d="M1475.1 225.9l-5 14.2-9.9 18.4"/>
<path d="M1492.3 229.3l-12.1 27.4"/>
<path d="M1509.3 228.2l-5.2 10.8-5.2 17.2"/>
<path d="M1524.6 230l-3.2 5.1-2.3 5.5-2.8 11.7"/>
<path d="M1546.5 226.4l-9 12-2.6 5.3-2.6 8.7"/>
<path d="M1566.6 229l-15.2 18.5-5.5 10.7"/>
<path d="M1587.7 222.5l-3.1 5.1-5.6 7-19.5 18.7"/>
<path d="M1606.4 227.4l-3.5 4.8-6.3 6.4-21.7 16"/>
<path d="M1624.5 224.8l-5 7.5-8.4 8.6-9.6 7.1-12.8 7.8"/>
<path d="M1642.1 224.9l-2.9 5.2-5.5 7.2-6.4 6.3-9.5 7.3"/>
<path d="M1656.3 226.1l-2.8 5.3-5.2 7.3-10.6 10.5"/>
<path d="M1028.9 247.5l-25.5 25.4"/>
<path d="M1054.5 239.5l-8.9 8-24.9 26"/>
<path d="M1067.5 241.9l-8.6 8.4-19.9 22.4"/>
<path d="M1094 240l-7.7 4.6-6.8 5.8-23.8 27"/>
<path d="M1109.2 247.2l-8.3 3.4-7.5 5.1-6.6 6-10.3 10.9"/>
<path d="M1124.7 257l-8.9 .9-5.7 1.7-8.1 4-9.6 7.2"/>
<path d="M1142.4 261.6l-11.8-1.9-9-.1-6 .8-8.4 3"/>
<path d="M1168.1 266.7l-32-7.9-11.9-1-9 1"/>
<path d="M1184.8 266.1l-46.5-11.6"/>
<path d="M1211 260.7l-11.9-.2-11.9-1.6-14.7-3.2-20.2-5.6"/>
<path d="M1222.2 258.4l-8.9 1.5-12 0-11.9-1.3-14.7-3.1"/>
<path d="M1236.1 250.4l-8 4.2-8.6 2.5-11.9 1.2-12-.6"/>
<path d="M1248.3 247.2l-9.3 7.6-7.7 4.6-8.5 3-11.8 1.7"/>
<path d="M1267 241.2l-15.6 18.3-6.7 6-7.4 5.1"/>
<path d="M1280.5 243.9l-14.5 19.1-7.9 9"/>
<path d="M1300.2 242.1l-26.4 32.6"/>
<path d="M1320.5 241.3l-27.7 31.5"/>
<path d="M1335.9 247.8l-24.6 26.4"/>
<path d="M1354.3 245.2l-24.3 26.5"/>
<path d="M1366.8 249l-19.6 22.6"/>
<path d="M1384.4 246.1l-10.2 14.8-7.4 9.4"/>
<path d="M1402.3 243.6l-14.3 26.4"/>
<path d="M1419.2 245.4l-11.8 27.6"/>
<path d="M1434.3 247.4l-9.7 21.9"/>
<path d="M1456.7 242.7l-17.6 31.4"/>
<path d="M1475.6 241.7l-8.4 15.9-13.3 20"/>
<path d="M1492.1 243.9l-7 16.6-8.2 16"/>
<path d="M1509.2 243.3l-3.1 14.7-2.5 20.8"/>
<path d="M1526.7 242.3l-1.6 5.8-1.4 8.9 .1 20.9"/>
<path d="M1546.2 243.4l-3.9 8.1-2.5 8.6-1.2 8.9-.1 9"/>
<path d="M1570 250.4l-6.7 6-5.9 6.9-3 5.2-2.1 5.6"/>
<path d="M1587.5 246.5l-19.5 14-8.1 8.8"/>
<path d="M1606.8 249.8l-31.1 18.2"/>
<path d="M1627.5 245.8l-14.7 10.3-21.2 11.2"/>
<path d="M1643 245.3l-14 11.4-15.2 9.5"/>
<path d="M1658.2 251.5l-18 15.9"/>
<path d="M1033.7 260.3l-8.2 8.7-8.9 8.1-7.3 5.2-7.8 4.4"/>
<path d="M1049.3 264.6l-12.5 12.9-7.1 5.6-7.7 4.6"/>
<path d="M1068.2 256.5l-17.8 20.3-9.2 7.7-7.7 4.6"/>
<path d="M1085.2 258.6l-20.5 21.9-7 5.6-7.7 4.7"/>
<path d="M1105.7 266.1l-7.7 4.7-21.6 16.2"/>
<path d="M1126.7 272.5l-8.9 .7-5.9 1.4-8.3 3.4-10.6 5.7"/>
<path d="M1143.6 277.4l-11.9-1.6-12 .1-8.8 1.9-8.3 3.2"/>
<path d="M1164.9 282l-26.5-5.3-14.9-1"/>
<path d="M1185.8 280.6l-52.9-10.7"/>
<path d="M1198 280.3l-17.8-2.3-23.4-5.3"/>
<path d="M1216.3 274.7l-17.9 .1-17.8-2.6"/>
<path d="M1235.4 269.4l-8.2 3.6-8.8 2-12 .8-11.9-.7"/>
<path d="M1248.1 266.4l-7.2 5.4-5.2 3-5.5 2.4-8.7 2.4"/>
<path d="M1260.4 265.7l-10.8 10.4-7.5 4.9-5.4 2.7"/>
<path d="M1279.4 264.5l-11.7 13.6-9.2 7.7"/>
<path d="M1297.1 269.6l-10.2 10.9-6.7 6"/>
<path d="M1314.3 266l-12.4 13.1-9 8"/>
<path d="M1333.6 265l-14.9 14.8-11.5 9.6"/>
<path d="M1353.3 261.7l-12.4 13-13.6 11.8"/>
<path d="M1367 263.2l-10 11.2-11.1 10.1"/>
<path d="M1384.2 269.6l-7.3 9.4-8.7 8.2"/>
<path d="M1400.9 262.6l-9 15.6-7.8 9"/>
<path d="M1419.2 263.2l-6.4 13.6-4.7 7.6"/>
<path d="M1440.8 263.8l-8.9 15.7-6.7 9.9"/>
<path d="M1455.3 262.7l-16.8 24.8"/>
<path d="M1479.6 260.7l-10.7 18.1-12 17.1"/>
<path d="M1493.1 258l-6.4 16.8-7.6 16.3"/>
<path d="M1506.3 256.7l-4.4 41.7"/>
<path d="M1518.9 260.8l.3 18 1.8 17.9"/>
<path d="M1541.1 263.5l-1 14.9 2.1 14.8"/>
<path d="M1563.2 267l-3.6 4.8-2.6 5.4-1.5 5.8-.2 6"/>
<path d="M1586.3 269.7l-7.7 4.7-4.6 3.8-5.2 7.4"/>
<path d="M1604 269.3l-13.4 6.8-7.5 4.8"/>
<path d="M1619.5 272.7l-15.3 9.6"/>
<path d="M1637.6 267.2l-19.1 14.6"/>
<path d="M1651.9 271.2l-8.1 8.8-3.4 4.9"/>
<path d="M1032.8 289.6l-14 5.5-14.6 3.3"/>
<path d="M1052.7 289.9l-16.5 7.1-17.5 4.2"/>
<path d="M1073 284.4l-7.4 5-10.7 5.4-20 6.4"/>
<path d="M1088.3 285.3l-16 8.3-16.8 6.3"/>
<path d="M1101.3 287.6l-28.2 10.1"/>
<path d="M1126.2 293.8l-17.9 .3-17.7 3.1"/>
<path d="M1143.9 298.8l-20.9-2.3-15 0"/>
<path d="M1160.7 295l-35.7-4.2"/>
<path d="M1176.2 294.1l-29.8-3.6"/>
<path d="M1193.6 296.2l-24-.5"/>
<path d="M1209.8 292.6l-15 .8-15-.3"/>
<path d="M1232.2 289l-11.7 2.7-17.9 2"/>
<path d="M1247 293.4l-11.5 3.5-11.8 2.4"/>
<path d="M1260.9 292l-8.3 3.5-8.6 2.7"/>
<path d="M1276.2 293l-8.1 3.8-8.6 2.9"/>
<path d="M1295.7 288.8l-10.2 6.4-11.1 4.6"/>
<path d="M1314.5 288.5l-10 6.6-10.8 5.1"/>
<path d="M1334.6 285.2l-9.7 7-10.4 5.9"/>
<path d="M1347.2 292.6l-16.2 8"/>
<path d="M1368.9 289.9l-15.8 8.5"/>
<path d="M1383 287.2l-7.3 5.3-7.9 4.3"/>
<path d="M1401.8 290.6l-9.9 6.8"/>
<path d="M1416 290.1l-4.2 4.2-4.9 3.5"/>
<path d="M1436.7 285.1l-5.5 7.1-6.4 6.4"/>
<path d="M1454.7 285.9l-7.5 9.4-8.2 8.8"/>
<path d="M1477.2 282.3l-15.6 25.6"/>
<path d="M1490.7 275.9l-15.8 38.9"/>
<path d="M1503.6 273.8l-3.1 29.8-.6 12"/>
<path d="M1521.4 274.8l2.3 20.8 4.1 14.4"/>
<path d="M1538.8 283.4l2.3 11.7 2.1 5.6 3 5.2"/>
<path d="M1555.7 284.6l.7 8.9 2.5 5.5 1.8 2.4"/>
<path d="M1576.2 293.5l1.4 2.7 2.1 2.1"/>
<path d="M1592.4 295l4.9 3.3"/>
<path d="M1612 292.2l1.4 2.6 2.2 2"/>
<path d="M1625.7 294.2l4.4 4.1"/>
<path d="M1648.5 290.8l2.6 5.3"/>
<path d="M1041.2 314.7l-23.9-.2-23.9-2.5"/>
<path d="M1057.9 310.6l-23.9 2-24-.3"/>
<path d="M1076.1 312.4l-41.9 2.4"/>
<path d="M1094.3 311.6l-15 .1-26.9 1.9"/>
<path d="M1105.7 314.8l-15-1.3-15 .1"/>
<path d="M1123.5 317l-17.7-3-18-1.2"/>
<path d="M1141.7 316.2l-29.6-5"/>
<path d="M1157 316l-23.7-3.1"/>
<path d="M1171.9 314.9l-18-.5"/>
<path d="M1187.9 311.9l-18 1.4"/>
<path d="M1208 308.9l-17.9 2.4"/>
<path d="M1225.6 310.5l-17.9 2.1"/>
<path d="M1240.4 314.9l-18 .4"/>
<path d="M1258 315.5l-17.9-1.2"/>
<path d="M1274 310.7l-12-.2"/>
<path d="M1295 310.8l-12-.2"/>
<path d="M1311.5 310.1l-12 .5"/>
<path d="M1329.9 313.4l-12-.2"/>
<path d="M1346.1 313.8l-12 .2"/>
<path d="M1362.7 314.6l-6 .1"/>
<path d="M1381.5 311.1l-6 .4"/>
<path d="M1395.9 314.9l-6-.3"/>
<path d="M1414.8 311.1l-5.9 1.2"/>
<path d="M1437.4 306.8l-9.7 6.9"/>
<path d="M1453.6 307.6l-11.8 13.6"/>
<path d="M1474.8 302l-11.1 21.3"/>
<path d="M1489.2 300l-6.6 23.1"/>
<path d="M1502.7 298.7l-.4 18 .7 6 1.6 5.8"/>
<path d="M1519.2 301.7l2.2 8.7 2.2 5.5 5.5 7.1"/>
<path d="M1533.2 303.8l2.7 5.4 3.6 4.8 4.6 3.7 5.5 2.5"/>
<path d="M1550.8 306.6l7.2 5.2 8.7 2.4"/>
<path d="M1564.7 311.8l8.9 1.4 15-.4"/>
<path d="M1583.3 310.4l18-.7"/>
<path d="M1600.6 315l17.9-1.9"/>
<path d="M1618.2 310.7l18 .2"/>
<path d="M1639.8 309.5l17.9 1.3"/>
<path d="M1044.1 334.8l-26.7-4-26.1-6.8"/>
<path d="M1056.3 330.4l-20.9-1.6-20.8-3.1"/>
<path d="M1075.6 330.7l-41.9-2.8"/>
<path d="M1091.1 330.6l-15-1.5-26.9-1.4"/>
<path d="M1105.5 333.9l-17.7-2.9-18-1.4"/>
<path d="M1122.1 336.7l-14.5-4-14.8-2.7"/>
<path d="M1134.8 335.2l-23-6.7"/>
<path d="M1150.7 334.7l-17.3-5"/>
<path d="M1169.1 331.3l-17.8-2.5"/>
<path d="M1186.6 329.7l-12 .4"/>
<path d="M1203.7 327.9l-17.9 1.5"/>
<path d="M1223.9 331.2l-18-.5"/>
<path d="M1241.8 331.3l-8.6-2.4-9-1.2"/>
<path d="M1254.9 332.6l-10.9-4.9"/>
<path d="M1275.8 338.9l-5.9-6.8-7.5-5"/>
<path d="M1288.8 334.5l-3.8-4.7-4.6-3.8"/>
<path d="M1308.1 339.3l-4.3-7.9-6.3-6.4"/>
<path d="M1327.3 335l-3.6-4.8-4.3-4.1"/>
<path d="M1343.5 331.7l-5-3.4"/>
<path d="M1363.9 330.7l-5.7-1.6"/>
<path d="M1382.1 330.3l-6-.5"/>
<path d="M1398.3 331.9l-6 .4"/>
<path d="M1413.4 331.1l-5.4 2.7"/>
<path d="M1431.7 329.4l-3.7 4.6"/>
<path d="M1452.3 323.6l-5.8 10.5"/>
<path d="M1470.5 320.5l-5.9 17"/>
<path d="M1485.3 316.9l-2.9 14.8-.1 8.9"/>
<path d="M1500.4 325.4l1.6 5.8 3.2 5"/>
<path d="M1515.8 324.5l3.9 4.5 2.5 1.7 8.5 2.7"/>
<path d="M1528.5 328.9l8.7 2.3 15-.3"/>
<path d="M1542.8 334.3l11.8-1.8 17.6-3.9"/>
<path d="M1555.7 334l40.6-10.7"/>
<path d="M1576.8 334.8l17-5.9 17.2-5"/>
<path d="M1590.6 335.6l19.8-7.1 20.3-5.4"/>
<path d="M1612.6 337.4l16.7-6.5 17.2-5.4"/>
<path d="M1629.2 339l16.5-7.2 16.9-6.1"/>
<path d="M1035.3 354l-20.6-4.1-19.9-6.6"/>
<path d="M1062.7 350.6l-15-.5-11.9-1.3-11.9-2.1-14.5-3.8"/>
<path d="M1079.2 348.1l-27-.4-20.8-2.3"/>
<path d="M1087.3 348.8l-36-.5"/>
<path d="M1106.7 349.8l-14.9-1.7-21-.3"/>
<path d="M1119.1 353.4l-11.5-3.1-11.9-1.5"/>
<path d="M1132.4 355l-8-4.1-8.4-3.1"/>
<path d="M1148.7 351.8l-15.9-8.5"/>
<path d="M1168.7 354.5l-15.8-8.7"/>
<path d="M1189.9 349.1l-17.4-4.6"/>
<path d="M1204.4 350.4l-17.6-4"/>
<path d="M1219.9 351.2l-11.3-3.8"/>
<path d="M1233.7 350.5l-5-3.4"/>
<path d="M1251.9 353.5l-3-5.2-4-4.4"/>
<path d="M1273 357.2l-2.2-8.7-4.1-8"/>
<path d="M1287.9 365.4l-.8-8.9-1.9-8.9-2-5.6-2.9-5.3"/>
<path d="M1307.2 358.6l-1.7-11.8-4.1-11.3"/>
<path d="M1322.1 355.6l-1.1-8.9-2.6-8.6"/>
<path d="M1339.5 349.4l-1.2-5.9"/>
<path d="M1362.7 349.5l-2-2.2 2 2.2"/>
<path d="M1374.8 345.3l1.7 5.7"/>
<path d="M1395.8 346l1.8 5.7"/>
<path d="M1410.7 344l1.1 5.9"/>
<path d="M1431.8 344.4l1.5 11.9"/>
<path d="M1451.6 341.2l-.7 9 .8 9"/>
<path d="M1468.3 340.4l0 11.9"/>
<path d="M1481.3 343.9l1.7 5.7 3.2 5.1"/>
<path d="M1498.6 346.5l5.8 1.3"/>
<path d="M1509.3 356.3l27.4-12.3"/>
<path d="M1524.6 358.3l15.1-9.7 16.2-7.8"/>
<path d="M1536.1 362.9l9.3-7.6 10-6.7 21.4-10.7"/>
<path d="M1551.7 364.2l9.2-7.8 12.4-8.4 13.2-7.1 16.5-7.2"/>
<path d="M1572.7 365.7l9.1-7.8 9.8-6.9 12.9-7.6 13.5-6.5"/>
<path d="M1589.6 365.4l9.2-7.7 12.4-8.5 10.3-6 13.5-6.7"/>
<path d="M1606.4 367.5l11.4-9.7 12.2-8.8 12.8-7.8 13.3-6.9"/>
<path d="M1622.5 371.1l10.9-10.3 14-11.3 14.8-10.1 13.1-7.5"/>
<path d="M1038.8 366.5l-20.9-2.4-20.2-5.4"/>
<path d="M1055.6 366.2l-20.9 .1-20.8-3"/>
<path d="M1067.7 364.9l-14.9 1.3-15 .1"/>
<path d="M1090.7 364.7l-35.7 4.1"/>
<path d="M1106.2 369.1l-12-.4-17.8 2.2"/>
<path d="M1116.7 368.7l-11.7-2.6-12-.3"/>
<path d="M1133.7 371.1l-9.8-6.8-11.2-4.3"/>
<path d="M1148.8 369.3l-8.7-8.2"/>
<path d="M1166.4 371.9l-8.4-8.6"/>
<path d="M1184.7 370.8l-14.4-10.8"/>
<path d="M1203.6 372l-9.6-7.1"/>
<path d="M1218.4 371.2l-4.1-4.4-4.7-3.7"/>
<path d="M1233.9 371.5l-2-5.7-3.2-5"/>
<path d="M1252 376.8l-.1-9-1.6-8.8"/>
<path d="M1266.7 377.2l.1-12-1.8-11.8"/>
<path d="M1286.2 381l0-12-1-11.9"/>
<path d="M1306.9 380.1l.1-15-1.4-14.9"/>
<path d="M1323.1 378l1.5-17.9"/>
<path d="M1341.7 371l3.4-5"/>
<path d="M1356.6 363.7l5.5 2.3"/>
<path d="M1377.4 362.7l3.5 4.8"/>
<path d="M1390.4 363.1l6.6 10.1"/>
<path d="M1409.9 356.8l7.9 16.1"/>
<path d="M1426.3 358.7l6.5 16.8"/>
<path d="M1448.4 358.1l3.7 17.6"/>
<path d="M1465.4 358.8l3.2 11.6"/>
<path d="M1484.5 363.9l5.5 2.2"/>
<path d="M1496.9 369.6l15.6-8.9"/>
<path d="M1504.8 378.9l17.9-16 14.5-10.6"/>
<path d="M1521.3 390.9l8.7-12.2 9.9-11.3 11.2-10 12.3-8.5"/>
<path d="M1539.8 393.3l7.6-12.9 11.6-13.7 11.3-9.9 15-9.9"/>
<path d="M1556.1 386.4l6.6-10 7.9-9 11.3-9.9 12.3-8.4"/>
<path d="M1576.5 395.5l1.7-5.8 2.5-5.4 8.8-12.1 13.2-12.3 17.2-12"/>
<path d="M1598.2 390.6l3.9-8.1 7.4-9.4 10.7-10.4 14.2-11.2"/>
<path d="M1614 385.2l5.1-7.4 8-9 20.3-17.7"/>
<path d="M1632.7 386.8l4.8-7.6 7.5-9.3 19.3-19"/>
<path d="M1031.1 381.4l-15 1.4-15 0"/>
<path d="M1046 381.5l-23.3 5.5"/>
<path d="M1068.2 380.6l-17 5.9-10.9 5.2"/>
<path d="M1083.9 379.1l-11.6 3.1-11.3 4.1"/>
<path d="M1100.3 382.1l-9 .8-8.8 1.9"/>
<path d="M1115.6 388.7l-8.6-2.6-9-.5"/>
<path d="M1129.5 389.9l-6.7-6-7.9-4.2"/>
<path d="M1146.5 393.2l-4.7-7.7-5.6-7"/>
<path d="M1163.2 391.8l-9.2-15.4"/>
<path d="M1187.1 393.3l-6.1-10.3-7.7-9.2"/>
<path d="M1199.6 391.6l-4.2-7.9-5.7-7"/>
<path d="M1219.1 389.8l-1.6-5.8-2.5-5.5"/>
<path d="M1231.3 392.3l-.4-9-1.7-8.8"/>
<path d="M1250.8 396.1l2.2-23.8"/>
<path d="M1265.2 397.2l2.6-23.9"/>
<path d="M1286.6 392.7l.8-18"/>
<path d="M1302.5 394.5l1.1-23.9"/>
<path d="M1323.8 388.5l3.2-11.6"/>
<path d="M1339.4 385l5.4-2.5"/>
<path d="M1355 385.5l5.1 3.2"/>
<path d="M1375.7 378.9l7.8 9.1"/>
<path d="M1390.1 375.3l10.6 14.5"/>
<path d="M1406.9 376.7l12.5 20.4"/>
<path d="M1424.9 374.2l7.6 16.3"/>
<path d="M1447.2 376.3l3.9 17.5"/>
<path d="M1467.4 377.4l3.2 11.6"/>
<path d="M1484 385.4l3 .2 2.9-.8"/>
<path d="M1494.4 388.6l13.2-12.2"/>
<path d="M1507.9 399.8l9.6-15.1 15.9-18"/>
<path d="M1527.7 411.7l3.4-11.5 6.8-13.3 10.6-14.5 10.6-10.6"/>
<path d="M1547.3 409.3l2.3-11.7 4.8-11 8.4-12.4 10.4-10.8"/>
<path d="M1569.6 408.7l-.5-8.9 1-5.9 2.1-5.7 6.1-10.3 9.9-11.2"/>
<path d="M1590.4 408.1l-1.7-8.8 .7-6 1.9-5.6 6.3-10.2 10.2-11"/>
<path d="M1609.3 402.8l-.5-6 2.4-8.6 4.6-7.7 7.7-9.2"/>
<path d="M1623.5 402.2l-.6-5.9 2.8-8.5 4.7-7.7 7.6-9.3"/>
<path d="M1644.2 400.9l-.4-5.9 1.7-5.8 4.1-8 5.1-7.4"/>
<path d="M1023.3 395.3l-6.8 5.9-4.6 7.7"/>
<path d="M1043.8 393l-4.7 3.7-3.8 4.7-2.5 5.4-1.1 5.9"/>
<path d="M1059.9 394.4l-6.4 6.3-3.7 8.2"/>
<path d="M1079.4 396.9l-7.4 5.1-5.2 7.3"/>
<path d="M1096.4 400.7l-5.9 1.1-5.6 2.3"/>
<path d="M1113.4 402.9l-5.5-2.5-5.8-1.2"/>
<path d="M1126.4 408.1l-3.6-4.8-4.4-4.1"/>
<path d="M1146.1 411l-3.1-8.4-4.2-8"/>
<path d="M1166.4 419.5l-2.7-14.7-5.5-14"/>
<path d="M1180.6 410.3l-2.1-8.8-3.3-8.4"/>
<path d="M1200.8 415.9l-1.1-11.9-3.2-11.6"/>
<path d="M1213 416.2l-.5-15-1.6-8.8"/>
<path d="M1231.4 419l1.8-30"/>
<path d="M1250 416.3l3-23.8"/>
<path d="M1267.6 412.1l2.6-17.8"/>
<path d="M1285.5 406.8l1-5.9"/>
<path d="M1301.3 405l3.7-4.7"/>
<path d="M1321.1 401l4.1 4.4"/>
<path d="M1338.8 400.6l4.1 4.4"/>
<path d="M1354.9 401.6l4.1 4.5"/>
<path d="M1370.8 400l7.9 9"/>
<path d="M1387.3 397.2l11.2 14.1"/>
<path d="M1406.2 393.1l8.3 12.5 4.4 7.9"/>
<path d="M1427.5 391.3l4.8 11 3.4 11.5"/>
<path d="M1447 391.8l1.3 8.9 .2 9"/>
<path d="M1470.3 401.5l-2 5.6"/>
<path d="M1487.2 405.4l-2.2-2.1-2.5 1.6"/>
<path d="M1503.1 413.9l1.7-8.9 3.7-8.1"/>
<path d="M1519 419.3l1.4-8.8 2.7-8.6 3.8-8.1 4.7-7.8"/>
<path d="M1538.8 421.9l.1-9 2.3-11.7 3.2-8.4 5.9-10.4"/>
<path d="M1562.2 424.8l-2.4-5.5-1.6-5.7-.7-6 .3-6 3.3-11.5 5.8-10.5"/>
<path d="M1583 419.6l-4.4-7.8-2.1-8.7 .7-8.9 3.1-8.4"/>
<path d="M1598.7 416l-5-7.4-1.8-5.8-.2-5.9 2.3-8.7"/>
<path d="M1617.1 411.2l-3.6-4.7-1.2-2.7-.8-2.9 .1-6"/>
<path d="M1635.8 410.2l-4.4-4.1-1.6-2.6-.9-2.8 0-6"/>
<path d="M1652.7 407.9l-4-4.4-1.8-5.7"/>
<path d="M1017.8 406.8l-1.6 5.7-.1 9 1.3 5.8 3.7 8.2"/>
<path d="M1033.9 408.4l-.7 6 .6 5.9 1.7 5.8 2.5 5.4"/>
<path d="M1053.2 413.3l1.1 8.9 3.7 8.2"/>
<path d="M1073.7 413.6l-.9 5.9 1.4 5.9"/>
<path d="M1089.2 419.6l-.5 3 .9 2.9"/>
<path d="M1108.8 426.1l-.1-3-1.3-2.7"/>
<path d="M1126.1 427.5l0-6-1.7-5.8"/>
<path d="M1140.8 429l0-9-2.1-8.7"/>
<path d="M1159.2 430.6l.4-9-1.2-8.9"/>
<path d="M1177.5 430.5l.1-11.9-1.8-11.9"/>
<path d="M1196.1 434.7l.7-11.9-.4-12"/>
<path d="M1215.7 434.2l.8-29.9"/>
<path d="M1232.2 436.2l1.6-29.9"/>
<path d="M1252.8 434.4l-.2-12 1.1-11.9"/>
<path d="M1269.3 425.9l.5-12"/>
<path d="M1288.9 416.5l.3 3-1.2 2.7"/>
<path d="M1304.6 419.2l-.5 6"/>
<path d="M1321.1 414.2l.6 12"/>
<path d="M1337.8 412.7l2.8 11.7"/>
<path d="M1354.7 416.5l2.3 5.5 1.5 5.8"/>
<path d="M1375 417.3l5.5 10.6"/>
<path d="M1393.9 415.6l6 10.4"/>
<path d="M1408.9 412.1l4.3 7.9 3 8.5"/>
<path d="M1429.1 413.6l1.9 8.8 0 9"/>
<path d="M1452.5 410.2l-2 8.8-2.9 8.5"/>
<path d="M1472.3 414.5l-7.5 9.4"/>
<path d="M1487.6 421.8l-5.8 1.7"/>
<path d="M1504.7 427.2l-1.7-5.8-.7-5.9"/>
<path d="M1520.6 430.5l-.6-8.9 1-9"/>
<path d="M1540.6 434.6l-2.2-8.7-.6-6 .1-5.9 1.4-8.9"/>
<path d="M1568.8 435.4l-5.8-6.8-4.1-8-2.2-8.7-.1-9"/>
<path d="M1588.7 431.9l-7.2-5.5-5.7-6.9-3.8-8.1-1.4-8.9"/>
<path d="M1604.9 427.4l-7.9-4.2-4.5-3.9-5.3-7.3-2.2-5.6"/>
<path d="M1624.7 422l-5.8-1.3-5.6-2.3-4.9-3.3-4.1-4.5"/>
<path d="M1641.4 421.2l-12-.5-5.9-1.1-5.6-2"/>
<path d="M1653.8 421.4l-18 1.1"/>
<path d="M1009.2 421.3l2 8.8 3.9 8.1 5.6 7 6.7 6"/>
<path d="M1027.4 418.5l2.2 8.7 5.8 10.4 6.1 6.6 9.7 7"/>
<path d="M1045.3 424l4 8 5.7 7 6.9 5.6 7.9 4.4"/>
<path d="M1061.5 432.3l4 4.5 4.7 3.7 10.6 5.5"/>
<path d="M1078.8 436.6l8 4.1 8.6 2.3"/>
<path d="M1102.3 437.4l5.9-.9"/>
<path d="M1121 443.3l5.3-2.9 4.3-4.2"/>
<path d="M1137.3 444.7l4.4-3.9 3.3-5.1"/>
<path d="M1155.8 445l3.4-4.9 2.1-5.6"/>
<path d="M1176.7 445.9l3.2-8.4 1.2-8.9"/>
<path d="M1194.5 448.9l2.2-8.7 1.1-8.9"/>
<path d="M1212.3 446.8l1.1-17.9"/>
<path d="M1233.2 449.2l-1.2-8.9 0-15"/>
<path d="M1253.1 449.1l-2.9-8.5-1-14.9"/>
<path d="M1268.5 442.8l-2.5-5.5"/>
<path d="M1290.7 437.6l-4.7 3.6"/>
<path d="M1306.5 430.6l-1.6 5.8-2.5 5.4"/>
<path d="M1325.2 431.4l-1.3 5.9-2.2 5.6"/>
<path d="M1345.1 433.4l-1.8 5.8-2.9 5.2"/>
<path d="M1361.2 430.3l-.6 6-2.4 5.4"/>
<path d="M1378.6 435.6l-1.8 5.7"/>
<path d="M1395.8 437.5l-1.8 5.6"/>
<path d="M1410.7 431l.4 6-1.7 5.7"/>
<path d="M1432.3 432.3l-1.6 5.8-2.7 5.4"/>
<path d="M1453.9 428.7l-9.7 15.2"/>
<path d="M1473.4 434.8l-12.6 12.8"/>
<path d="M1492 438.3l-5.7 1.7-5.2 3"/>
<path d="M1507.2 439.9l-3.5-4.9"/>
<path d="M1526.8 449.3l-3.4-8.3-2.4-8.7"/>
<path d="M1544.5 449.7l-4.4-7.8-2.2-5.6-2.2-8.7-.6-6"/>
<path d="M1571.4 451.8l-7.7-4.7-6.5-6.1-5.2-7.4-3.4-8.3"/>
<path d="M1593.1 445.1l-8.6-2.5-7.9-4.3-6.9-5.8-5.5-7.1"/>
<path d="M1611.3 438.7l-8.9-.2-8.8-2.2-8-4.1-6.9-5.7"/>
<path d="M1626.7 434.6l-14.8 2.6-8.9-.5-5.8-1.4"/>
<path d="M1645.2 431.2l-22.5 8.3-11.6 3.1"/>
<path d="M1661.2 432.1l-15.9 8.3-14.5 10.6"/>
<path d="M1002 445.2l4.2 4.3 7.1 5.5 7.7 4.5 11.1 4.8"/>
<path d="M1020.4 442.9l4.2 4.3 7 5.5 7.9 4.5 11 4.6"/>
<path d="M1031.8 445.4l9.5 7.2 10.8 5.4 14.2 4.6 14.7 3.2"/>
<path d="M1052.6 445.8l7.6 4.7 8.3 3.6 11.5 3.4 11.7 2.3"/>
<path d="M1069.7 450.7l17.2 5.1 11.8 1.9 12 1"/>
<path d="M1086.2 455.1l20.8 2.8 20.9-.1"/>
<path d="M1108.4 457.6l18-.2 17.7-3"/>
<path d="M1129.3 457.1l8.9-1.3 8.7-2.3 5.5-2.3 5-3.4"/>
<path d="M1154.8 457.9l8.5-2.9 7.5-5"/>
<path d="M1176.1 459.3l5.3-2.7 4.3-4.2"/>
<path d="M1196.7 460.7l3.3-5"/>
<path d="M1217.5 459.8l-1-5.9"/>
<path d="M1234.8 461l-3.5-4.9"/>
<path d="M1258.3 460.8l-5.1-3.2-4.1-4.3"/>
<path d="M1272.9 460.1l-5.7-1.8-5.3-2.8"/>
<path d="M1295.1 453.6l-5.7 2-5.9 .9"/>
<path d="M1309.7 448.7l-6.9 5.7-8.2 3.7"/>
<path d="M1328.5 449.2l-6.8 5.9-7.8 4.5"/>
<path d="M1349.1 450.6l-15.9 8.4"/>
<path d="M1365.5 451.3l-16.8 6.6"/>
<path d="M1382.8 452.8l-11.6 3.2"/>
<path d="M1403 453.8l-17.6 3.7"/>
<path d="M1418.2 453.9l-11.4 3.7"/>
<path d="M1439.6 448.6l-9.2 7.6-11.1 4.5"/>
<path d="M1459.3 448.2l-10.4 10.8-7 5.5"/>
<path d="M1479.4 445.7l-6.7 5.9-14.8 14.9"/>
<path d="M1494.2 452.9l-8 4-7 5.6"/>
<path d="M1508.8 461.7l-5.2-2.8-5.9-.8"/>
<path d="M1525.6 464.8l-9.8-15"/>
<path d="M1547.8 468.9l-4.2-4.3-5.5-7.1-7-13.2"/>
<path d="M1571.6 462.3l-8.3-3.4-5-3.3-4.6-3.9-5.7-6.9"/>
<path d="M1594.5 457l-9 0-8.8-1.7-8.3-3.4-7.4-5.1"/>
<path d="M1612 450.1l-8.6 2.7-8.9 1.3-9-.4-8.7-2.3"/>
<path d="M1629 445.6l-20.5 12.4-11.2 4.5"/>
<path d="M1647.3 441.8l-13.8 11.5-16.3 17.7"/>
<path d="M1662.2 441.5l-9.2 7.7-5.9 6.8-6.8 9.9-7.6 12.9"/>
<path d="M995.8 472.3l23.6 4.7 23.7 3.2"/>
<path d="M1008.6 464.7l22.9 7.1 29.6 5.1"/>
<path d="M1026.6 464.7l11.4 3.7 14.6 3.4 32.7 4.5"/>
<path d="M1043.3 469.5l23.6 4.5 29.8 3.2"/>
<path d="M1056.9 468.8l23.7 4 41.7 4.2"/>
<path d="M1075.1 471.8l59.6 6.7"/>
<path d="M1103.6 472.8l29.9 2.9 17.7 2.9"/>
<path d="M1117.7 471.5l29.9 2.9 17.7 3.3"/>
<path d="M1141 473.7l20.7 3.4 14.3 4.5"/>
<path d="M1170.3 474l8.7 2.2 8.4 3.3"/>
<path d="M1192.8 474.7l5.4 2.6"/>
<path d="M1214.8 472.7l-.2 5.9"/>
<path d="M1233.8 475.5l-5.6 1.9"/>
<path d="M1258.5 474.3l-12 1.1"/>
<path d="M1280.2 475.3l-17.7 3.2"/>
<path d="M1295.2 472l-17.7 3.3"/>
<path d="M1313 472.1l-17.5 4.5"/>
<path d="M1336.4 472.7l-29 7.5"/>
<path d="M1358.4 470.5l-29.3 6.3"/>
<path d="M1374.4 474.6l-14.9 1.8-14.7 2.9"/>
<path d="M1394.2 473.1l-15 .4-14.9 1.5"/>
<path d="M1408.7 472.9l-30 .2"/>
<path d="M1429.4 472.4l-11.8 1.8-18 .1"/>
<path d="M1445.3 470.1l-5.2 3-8.5 3.1-14.8 1.9"/>
<path d="M1459.7 466l-6.7 6-7.3 5.2-11.1 4.6"/>
<path d="M1479.5 465.9l-15.4 14.2-7.1 5.6"/>
<path d="M1496.8 469.4l-8.2 3.6-12 9"/>
<path d="M1506.8 474.5l-5.7-1.5-6 .8"/>
<path d="M1528.9 479.9l-12.1-13.4"/>
<path d="M1551 485.4l-5-3.3-6.7-5.9-9.6-11.6"/>
<path d="M1569.1 479.2l-8.6-2.5-5.4-2.6-5-3.3-6.6-6.2"/>
<path d="M1586.7 472.9l-11.9 .2-11.7-2.9"/>
<path d="M1608.7 467.1l-7.6 4.7-8.3 3.5-8.8 1.9-9 .2"/>
<path d="M1623.2 465.6l-12.3 13.1-9.5 7.2"/>
<path d="M1639.6 456.7l-17.4 24.4-7.7 9.3"/>
<path d="M1659 455.7l-7.9 12.7-14.8 29.5"/>
<path d="M998.7 494.8l41.9-2.5"/>
<path d="M1011 496.1l47.9-3.3"/>
<path d="M1022.9 491.9l60-1.6"/>
<path d="M1041.1 491.6l38.9-1 21 .3"/>
<path d="M1057.1 496.2l21-1.6 18-.5 14.9 .7 11.9 1.9"/>
<path d="M1078.7 492.6l30 .5 11.9 1.5 11.6 2.9"/>
<path d="M1094.7 490l18 1.1 14.8 2.6 14.2 4.6 10.6 5.7"/>
<path d="M1114.4 485.3l14.8 2.3 14.5 3.9 11 4.8 10.2 6.3"/>
<path d="M1140.7 483.6l11.6 3.3 8.3 3.4 8 4.2 9.8 6.8"/>
<path d="M1165.6 484.8l13.3 6.9 11.7 9.2"/>
<path d="M1192.1 486.4l6.6 6.1 5.7 7"/>
<path d="M1216.7 488.5l1.1 5.9"/>
<path d="M1235.6 488l-3 5.1-1.7 5.8"/>
<path d="M1259.6 488.2l-7.1 5.4-5.4 7.1"/>
<path d="M1278.1 487.7l-8 4.1-7.1 5.5"/>
<path d="M1296.6 487.8l-11.1 4.6-10 6.5"/>
<path d="M1321.3 488.8l-16.9 6.2-10.5 5.9"/>
<path d="M1333.3 489.7l-11.3 3.9-11 4.7"/>
<path d="M1356.8 486.8l-14.5 3.9-14.1 5.1"/>
<path d="M1374.7 488.8l-17.6 3.8-16.9 6.2"/>
<path d="M1397.1 490.6l-17.9 1-17.6 3.9"/>
<path d="M1411.9 493.7l-21 .2-14.8 1.9"/>
<path d="M1432.1 491.9l-11.9 1.1-24 0"/>
<path d="M1450.3 487.9l-8.2 3.7-8.7 2.1-9 1-15 .3"/>
<path d="M1463.3 483.3l-7.2 5.3-7.8 4.5-8.5 3-8.8 1.5"/>
<path d="M1477.6 481.3l-14.2 11-10.4 6.1"/>
<path d="M1496.1 489.9l-8.7 2.5-13.3 6.8"/>
<path d="M1510.7 496.7l-8.3-3.4-8.9-.3"/>
<path d="M1532.8 499.5l-18.7-14.9"/>
<path d="M1553.3 499l-5.4-2.6-7.5-5-11.2-10"/>
<path d="M1570.5 497.3l-8.8-1.7-5.7-1.9-5.4-2.5-7.5-5"/>
<path d="M1587.7 491.3l-5.9 .9-9 .1-8.9-1.3-5.7-1.8"/>
<path d="M1607.9 484.9l-7.5 5.1-5.4 2.5-5.7 1.8-8.9 1.3"/>
<path d="M1620.1 481.5l-10.3 10.9-4.8 3.5-8.2 3.9"/>
<path d="M1635.1 477.9l-9.3 15.4-8 9"/>
<path d="M1651.9 477.6l-8.8 19.1-4.6 7.8"/>
<path d="M997.4 515.2l20-6.6 20.4-4.9"/>
<path d="M1014.3 518.7l19.6-7.4 20.3-5.6"/>
<path d="M1035.2 519.8l19.5-7.8 20.1-5.9"/>
<path d="M1049.8 518.5l13.8-5.7 11.4-3.7 11.7-2.8 8.9-1.2"/>
<path d="M1064.8 519.4l13.7-5.9 14.5-3.9 11.9-1.3 12 .9"/>
<path d="M1084.6 517.4l11.5-3.5 8.9-1.2 12 .7 8.6 2.6"/>
<path d="M1105.2 505.2l12 1 8.7 2.3 8.2 3.7 9.9 6.8"/>
<path d="M1121.9 504l8.6 2.8 8 4.1 9.7 7.1 8.6 8.3"/>
<path d="M1146.5 500.2l7.7 4.6 7.1 5.5 17.2 16.7"/>
<path d="M1162.4 498.1l12.1 8.9 15.2 14.4"/>
<path d="M1188.8 498.3l10.5 10.7 9.5 11.7"/>
<path d="M1208.6 502.9l9 15.6"/>
<path d="M1232.4 500.4l-.4 8.9 1.1 9"/>
<path d="M1258.8 499.6l-3.4 4.9-3.2 8.4-1.1 5.9-.3 9"/>
<path d="M1277.8 500l-6.1 6.5-3.2 5.2-2.3 5.5-2.2 8.7"/>
<path d="M1301.1 500.3l-7.3 5.3-4.3 4.3-3.6 4.7-4.3 8"/>
<path d="M1316.5 503.6l-7.3 5.3-4.4 4.2-3.8 4.5-4.9 7.6"/>
<path d="M1339.8 499.5l-7.9 4.2-7.5 5-6.7 5.9-5.9 6.8"/>
<path d="M1357.9 500.1l-8.1 3.9-7.5 4.9-6.8 5.9-6.1 6.6"/>
<path d="M1373.4 503.1l-8.3 3.5-7.6 4.8-6.8 5.9-5.9 6.7"/>
<path d="M1394.3 506l-8.8 1.9-8.4 3.1-7.8 4.4-7 5.7"/>
<path d="M1408.1 506.9l-17.8 2.3-11.3 4"/>
<path d="M1433.7 511.1l-24 1.8-11.9 1.6"/>
<path d="M1446.5 509.8l-11.9 1.7-17.9 1.3"/>
<path d="M1459.8 510.1l-17.5 3.8"/>
<path d="M1475.6 508.9l-17.5 4.5"/>
<path d="M1492.8 513.5l-8.9-.9-9 .7"/>
<path d="M1512.6 516.9l-13.6-6.2-8.8-1.6"/>
<path d="M1533.9 518.2l-20.8-11.9"/>
<path d="M1552.4 514.9l-11-4.7-10.3-6.2"/>
<path d="M1569.6 514.9l-14.6-3.3-13.7-6"/>
<path d="M1590.3 509.1l-14.9 .2-14.8-2.3"/>
<path d="M1603.3 508.8l-8.8 1.7-9 .7"/>
<path d="M1614.7 509.1l-11.5 3.3"/>
<path d="M1629.5 510.8l-5.4 2.6"/>
<path d="M1649 509.7l-4.6 3.9"/>
<path d="M1000.3 537.4l15.2-9.6 16-8.2"/>
<path d="M1013.3 542.4l19.8-13.5 21.3-11.1"/>
<path d="M1040.7 540.2l14.6-10.5 15.4-9.2"/>
<path d="M1056.2 538.7l19.5-14 8-4.2 8.3-3.2"/>
<path d="M1073.4 542.8l9.2-7.7 10.2-6.4 8.4-3.2 8.8-1.5"/>
<path d="M1091.3 535.8l7.9-4.2 8.7-2.5 8.9-.2 8.7 2.5"/>
<path d="M1109.9 523l5.9 .3 8.7 2.4 8 4.1 9.6 7.2"/>
<path d="M1124.8 515.5l8 4 7.4 5.2 21.7 20.6"/>
<path d="M1142.8 508.9l11.8 9.3 27.2 27.9"/>
<path d="M1164.1 512l29.8 29.6"/>
<path d="M1185 512.8l14.7 15.1 13.5 16"/>
<path d="M1204.7 513.1l10.6 14.6 9.6 15.2"/>
<path d="M1227.6 515.3l4.4 14.3 5.4 14"/>
<path d="M1250.6 513.9l-.8 6-.1 9 2.3 14.8"/>
<path d="M1272.5 511.1l-3.6 8.2-2.1 8.7-.8 9 .4 9"/>
<path d="M1295.4 517.2l-3.2 5-3.7 8.2-3.6 14.6"/>
<path d="M1317.6 514.3l-6 6.7-5 7.5-4 8.1-3 8.5"/>
<path d="M1336.3 512.3l-6.4 6.3-7.4 9.5-4.7 7.7-5 10.8"/>
<path d="M1353.5 515.3l-9.9 11.3-10.6 18.1"/>
<path d="M1371.2 517.8l-4.7 3.7-6.2 6.6-5.3 7.2-6 10.4"/>
<path d="M1391.7 523.4l-5.5 2.5-7.4 5-4.4 4-5.8 6.9"/>
<path d="M1410.8 526.8l-14.6 3.4-8.2 3.7-4.9 3.4"/>
<path d="M1427.1 527.5l-12 .8-11.8 2"/>
<path d="M1442.1 530.5l-24 .8"/>
<path d="M1456.3 528l-18 .3"/>
<path d="M1474.4 527.2l-11.9-.8"/>
<path d="M1492.3 530.2l-11.5-3.3"/>
<path d="M1513.5 531.5l-16.5-7.1"/>
<path d="M1535.1 534.7l-11.2-4.3-16.4-7.5"/>
<path d="M1554.4 534l-14.4-4.3-13.8-5.8"/>
<path d="M1572.8 532.9l-17.6-3.7-11.5-3.5"/>
<path d="M1588.2 529.2l-23.7-3.8"/>
<path d="M1603.2 533.8l-8.6-2.9-8.8-1.7"/>
<path d="M1613.7 534.3l-4.9-3.3-5.6-2.2"/>
<path d="M1631.5 528.9l-4.5-4"/>
<path d="M1646.6 530.7l-3-5.2"/>
<path d="M997.2 561.3l20.9-17.2 17.1-12.2"/>
<path d="M1021.3 557.2l28-22.6"/>
<path d="M1034.5 565l36-31.7"/>
<path d="M1056 565.2l23.5-23.1 12.1-8.9"/>
<path d="M1071.7 563.3l10.6-10.6 9-7.9 7.5-5 5.5-2.5"/>
<path d="M1093.2 557l7.2-5.3 8-4.2 5.8-1.5 6-.2"/>
<path d="M1111.9 549l5.9-.9 6 .3 11.5 3.5"/>
<path d="M1128.6 536.6l10.3 6.1 19.4 14.2"/>
<path d="M1146 529.9l19.3 18.9 15.9 13.8"/>
<path d="M1160.6 531.7l12.4 13 21.7 20.7"/>
<path d="M1176.1 525.8l23.2 23.6 13.8 15.7"/>
<path d="M1197 530.7l13.8 15.8 16.5 21.4"/>
<path d="M1223.9 532.7l17.5 31.4"/>
<path d="M1249.7 521.7l.5 12 2.3 11.8 3.6 11.4 4.8 11"/>
<path d="M1267.3 527l-1 8.9 .6 12 1.6 8.8 3.4 11.5"/>
<path d="M1296.6 524.3l-4.8 10.9-2.8 11.7-.9 11.9 .9 12"/>
<path d="M1314.6 526.7l-5.8 10.4-4.3 11.2-2.5 11.8-.9 11.9"/>
<path d="M1329.3 531.6l-8.4 16-5.6 17"/>
<path d="M1352 533.1l-7.4 13.1-8.6 19.1"/>
<path d="M1368.4 533.2l-8.6 12.2-9.9 18.6"/>
<path d="M1381.9 539.4l-6.3 6.4-5.4 7.2"/>
<path d="M1403.5 542.3l-8.5 3-7.6 4.8"/>
<path d="M1421.9 547.7l-9 .2-8.9 1.4"/>
<path d="M1439 545.7l-17.9-.8"/>
<path d="M1458.9 546.9l-18-1.2"/>
<path d="M1474.9 549.6l-17.9-1.7"/>
<path d="M1492.3 546.9l-11.7-2.7"/>
<path d="M1515.7 549.1l-23.1-6.5"/>
<path d="M1537.1 550l-28.9-8.1"/>
<path d="M1549.8 549.3l-23.3-5.8"/>
<path d="M1567.4 549.5l-23.4-5.3"/>
<path d="M1584.4 549.8l-17.3-5.1"/>
<path d="M1596.9 550.1l-5.1-3.3-5.4-2.4"/>
<path d="M1612.7 551.4l-2.9-5.2-3.9-4.6"/>
<path d="M1628.3 550.5l-3.1-11.6"/>
<path d="M1648 556.6l-.9-18"/>
<path d="M999.3 581.6l35.8-31.9"/>
<path d="M1015.8 579.8l35.5-32.3"/>
<path d="M1035.6 576.8l30.4-29"/>
<path d="M1056.5 580.2l29.7-29.7"/>
<path d="M1075.1 578.5l19.8-18.3 12.5-8.2"/>
<path d="M1093.6 577.2l9.4-7.4 7.8-4.6 8.4-3.1 5.9-.9"/>
<path d="M1110.6 568.7l8.3-3.4 5.9-1.2 6-.3 8.9 1"/>
<path d="M1127.4 563.3l6 .2 8.9 1.5 8.6 2.5 11.2 4.5"/>
<path d="M1141.9 552.8l23.4 13.5 12.5 8.2"/>
<path d="M1159.7 549.4l25.4 21 11 10.3"/>
<path d="M1176 545.3l23.6 23 17.7 20.3"/>
<path d="M1195.3 542.5l14.2 15.6 20.9 25.5"/>
<path d="M1219.9 542.1l14.9 22.5 12.4 16.9"/>
<path d="M1239.4 543.1l8.8 19.1 14.1 22.9"/>
<path d="M1266.8 546.1l1.4 8.9 2.3 8.7 8.8 22.3"/>
<path d="M1288.6 545.7l-.9 8.9 .4 12 1.3 8.9 2.8 11.7"/>
<path d="M1312.3 545.6l-4.8 17.3-1.1 9-.1 9"/>
<path d="M1329.1 544.3l-7.7 19.5-2.7 11.7-1.1 8.9"/>
<path d="M1349.1 549l-12.2 27.4"/>
<path d="M1364.9 553.6l-14.4 26.3"/>
<path d="M1382.3 557.9l-7.3 9.5"/>
<path d="M1397.4 564l-5.2 3"/>
<path d="M1416.8 564.3l-5.6-2.1"/>
<path d="M1435.5 564.8l-5.7-1.9"/>
<path d="M1450.2 563.3l-6 .1"/>
<path d="M1475.9 563.9l-17.8 2.6"/>
<path d="M1496.7 563.2l-23.9 1.5"/>
<path d="M1513.3 563.9l-24-.6"/>
<path d="M1534 566.1l-23.9-2.3"/>
<path d="M1549.3 564.6l-23.7-4"/>
<path d="M1566.3 567.8l-17.2-5"/>
<path d="M1582 570.6l-4.8-3.6-5.3-2.9"/>
<path d="M1595.4 567.9l-3.5-4.9-4.5-3.9"/>
<path d="M1614.1 570.4l-1.9-11.8"/>
<path d="M1626.9 574.4l.9-9-.2-9"/>
<path d="M1646.9 575.9l2.1-17.9"/>
<path d="M1004.3 596l30.3-29"/>
<path d="M1020.8 600.9l34-33.9"/>
<path d="M1038.7 599.8l33.4-34.4"/>
<path d="M1053.4 600.3l18.4-19.7 15-14.8"/>
<path d="M1074.9 596.6l17.1-16.8 14.3-10.9"/>
<path d="M1092.2 591.7l9.2-7.7 7.4-5.1 8-4.3 5.6-2"/>
<path d="M1102.5 592l10-6.8 10.8-5 11.7-2.6 12 .1"/>
<path d="M1117.9 587.3l11.3-4.1 11.8-1.8 12 .8 11.6 3.1"/>
<path d="M1136.1 581l11.9-.2 11.8 2.2 11.2 4.4 10.2 6.3"/>
<path d="M1154.7 571.7l13.8 5.8 10.2 6.2 9.5 7.4 10.8 10.4"/>
<path d="M1172.7 565.2l11.8 9.2 8.9 8 10.4 10.9 11.7 13.6"/>
<path d="M1189 558l16.7 17.3 31 36.7"/>
<path d="M1214.6 557.4l41.7 51.2"/>
<path d="M1233.5 562.7l32.4 43.2"/>
<path d="M1256.6 554.8l8.4 19.2 19.4 33.8"/>
<path d="M1284.9 561.4l1.8 11.8 2.9 11.7 3.9 11.3 4.8 11"/>
<path d="M1307 566l-.7 9 .2 9 1.1 8.9 2 8.8"/>
<path d="M1329.7 565.4l-4.7 17.3-1.1 9 0 9"/>
<path d="M1345.7 568.9l-6.9 16.6-3.2 11.6"/>
<path d="M1362.9 570.5l-12 20.8"/>
<path d="M1378 582.3l-4 4.5"/>
<path d="M1396.2 583.3l0-3-2.7-1.5"/>
<path d="M1409.7 586l2.5-5.5"/>
<path d="M1429.2 587.1l-.2-6"/>
<path d="M1452.5 582.6l-5.9 1.2"/>
<path d="M1475.7 577.7l-17.3 5.1"/>
<path d="M1501.1 580.7l-14.8 2.8-14.4 4.1"/>
<path d="M1512.7 580l-11.9 1.2-11.8 2.2"/>
<path d="M1534.8 584.2l-12-.7-12 .5"/>
<path d="M1543.8 585.6l-11.8-1.8"/>
<path d="M1560.6 584.1l-11.1-4.5"/>
<path d="M1577.7 583.1l-3.9-4.6"/>
<path d="M1595 585.4l-1-6"/>
<path d="M1607.8 586.7l1.1-11.9"/>
<path d="M1627.9 589.6l3.1-8.5 2-8.7"/>
<path d="M1645.1 589l3.6-11.4"/>
<path d="M999.3 616.8l33.4-34.5"/>
<path d="M1020.9 614.5l28.8-30.6"/>
<path d="M1034.6 621.9l36.1-40.1"/>
<path d="M1052.2 623.5l19.5-22.9 16.8-17.1"/>
<path d="M1068.9 619.3l9.8-11.4 10.4-10.7 9-8 9.6-7.1"/>
<path d="M1087.2 615.5l10.9-10.2 9.5-7.4 10.3-6.1 8.3-3.5"/>
<path d="M1100.7 615.8l12.1-8.7 13.5-6.6 11.5-3.2 12-1"/>
<path d="M1116.2 611.2l13.8-5.8 11.7-2.7 9-.4 6 .4 11.6 3"/>
<path d="M1139.2 602l12-.9 11.9 1.8 11.1 4.4 10.1 6.5"/>
<path d="M1156.6 592.3l8.7 2.2 10.9 5 9.8 6.9 11 10.2"/>
<path d="M1171 580l12.5 8.3 11.2 9.9 12.2 13.2 15.1 18.7"/>
<path d="M1188.8 573.8l18.7 19.4 32.3 39.5"/>
<path d="M1211.9 573.9l46.2 55.2"/>
<path d="M1230 576.4l41.7 51.1"/>
<path d="M1250.6 573.3l31 44.2 10.9 14.3"/>
<path d="M1276 570.4l5.3 14 7.4 16.4 7.2 13.2 6.6 10"/>
<path d="M1299.9 577.5l1.1 9 2.8 11.6 4 11.3 4 8.1"/>
<path d="M1325.7 589.2l-.4 12 1.9 11.8"/>
<path d="M1342.1 592.3l-2.8 8.6-1.6 8.8"/>
<path d="M1361.4 594.9l-7.7 9.3"/>
<path d="M1380.7 599.9l-5.9 1.1"/>
<path d="M1395 601.5l-.1-6"/>
<path d="M1413.4 602.5l1.9-5.7"/>
<path d="M1431.8 602.7l-.8-5.9"/>
<path d="M1451.4 602.3l-6 0"/>
<path d="M1475.5 596.1l-17.3 4.6"/>
<path d="M1496.9 598.5l-23.5 4.8"/>
<path d="M1510.2 602.2l-18 1.4"/>
<path d="M1528.6 600.2l-17.9-1"/>
<path d="M1544.6 605.5l-5.4-2.7-5.7-1.8"/>
<path d="M1560.6 607.5l-3.3-5.1-4.3-4.1"/>
<path d="M1574.6 605.7l-1-5.9-2.1-5.7"/>
<path d="M1591.9 609.3l2.7-8.6 1.6-8.8"/>
<path d="M1605.1 610.4l8.6-15.8"/>
<path d="M1622.9 607.4l5.4-7.2 4.6-7.7"/>
<path d="M1639.5 606.5l5.4-7.2 4.4-7.9"/>
<path d="M997.3 637.9l36.2-40.1"/>
<path d="M1017.7 635.3l31.6-36.1"/>
<path d="M1038.4 638.7l30.8-36.8"/>
<path d="M1055.7 637.2l18.9-23.3 12.3-13.2"/>
<path d="M1074.3 638.5l18.1-20 16.2-13.3"/>
<path d="M1090.5 630l15.9-13.7 10.1-6.4 8.2-3.8"/>
<path d="M1104.8 628.7l10.1-6.5 10.9-5 11.5-3.2 12-1.1"/>
<path d="M1119.7 624.7l14.1-4.8 11.9-1.6 9 .2 5.9 .9 11.4 3.8"/>
<path d="M1136.6 620.4l11.9-1.2 11.9 1.2 11.4 3.7 10.4 6.1"/>
<path d="M1146.7 610.5l9 .3 5.9 1 5.7 1.7 8.2 3.7 12.3 8.6 14.9 14.7"/>
<path d="M1170.3 600.6l10.4 5.9 11.6 9.5 12.4 13 13.2 16.4"/>
<path d="M1187.6 586.1l10.8 10.3 10 11.2 33.6 42.3"/>
<path d="M1207.3 586.2l53.3 64.9"/>
<path d="M1222.7 585.6l54 64.4"/>
<path d="M1248.9 592.8l31.8 39.9 14 15.6"/>
<path d="M1272.2 593.8l19.9 30.1 7.4 9.4 8.2 8.7"/>
<path d="M1297.6 596.1l4.4 11.2 5.6 10.6 6.7 9.9 8 9"/>
<path d="M1317.3 606l4.1 11.2 6.1 10.3"/>
<path d="M1340.5 613.2l-.3 6"/>
<path d="M1362.5 622.2l-5.5-2.3"/>
<path d="M1383.2 623.8l-4-4.5-4.6-3.7"/>
<path d="M1397.7 624.8l-6-10.4"/>
<path d="M1415.2 620.9l-2.1-5.6"/>
<path d="M1433.6 621.5l-3.8-4.7"/>
<path d="M1449.9 621.2l-5.5-2.5"/>
<path d="M1473 617.5l-11.9-.9"/>
<path d="M1490.8 617.2l-12-1"/>
<path d="M1512.3 624.1l-8.3-3.5-8.7-2.2"/>
<path d="M1530.7 622.9l-7.6-4.8-8.4-3.3"/>
<path d="M1541.3 621.5l-4.3-4.2-4.9-3.3"/>
<path d="M1559.7 627.7l-2.2-8.7-3.9-8.1"/>
<path d="M1575.5 625.5l2.1-17.9"/>
<path d="M1588.9 628.3l7.9-16.2"/>
<path d="M1603.6 629.6l19.5-22.7"/>
<path d="M1621 625.8l17.6-16.4"/>
<path d="M1636.2 624.5l11.4-9.7 6.1-6.6"/>
<path d="M995.8 662.1l43.4-49.7"/>
<path d="M1013.3 657.6l38.8-45.8"/>
<path d="M1035.9 659.5l38.1-46.3"/>
<path d="M1054.2 662l24.7-30.2 14.4-15.3"/>
<path d="M1075.2 655.6l18.3-19.9 9-7.9 7.3-5.2"/>
<path d="M1085.7 654.7l10.7-10.5 11.8-9.2 10.4-6 11.2-4.2"/>
<path d="M1100 652.8l12.3-8.6 10.8-5.2 14.5-3.8 12-.8"/>
<path d="M1121.5 639.9l11.4-3.6 11.9-1.6 12 .5 11.6 2.8"/>
<path d="M1133.5 639.6l14.9-1.6 12 1.1 11.4 3.5 13 7.5"/>
<path d="M1145.1 629.3l14.9 1.1 8.6 2.4 5.5 2.4 12.6 8.1 15.2 14.5"/>
<path d="M1174.9 617.4l10 6.6 9 7.9 10.3 10.9 13.2 16.4"/>
<path d="M1187.8 605.6l8.7 8.2 10.1 11.2 35.1 44.9"/>
<path d="M1207.3 602.4l52.9 65.3"/>
<path d="M1228.7 608.2l34.2 41.8 16.2 17.7"/>
<path d="M1248.7 608.6l28.6 34.7 18.8 19.3"/>
<path d="M1261.9 604l18.3 23.8 11.6 13.7 10.6 10.6 11.6 9.4"/>
<path d="M1289.8 617.9l9 12.1 10 11.1 9 7.9 10.2 6.3"/>
<path d="M1314.5 627.7l8 8.9 9.6 7.2"/>
<path d="M1336.7 634.2l2.5 1.6 3 .7"/>
<path d="M1363.5 639.9l-6.4-10.1"/>
<path d="M1382.3 645l-10.3-14.7"/>
<path d="M1402.3 642.3l-10.8-14.4"/>
<path d="M1419.6 639.2l-7.8-9.2"/>
<path d="M1434.4 639.5l-8.4-8.5"/>
<path d="M1454.6 642.8l-9-7.8"/>
<path d="M1471.8 639.6l-9.6-7.1"/>
<path d="M1493.8 643.8l-6.5-6.2-7.3-5.2"/>
<path d="M1505.4 639l-9.5-7.3"/>
<path d="M1528.8 642.5l-5.7-6.9-6.8-5.9"/>
<path d="M1543.2 644.8l-4.1-8-5.3-7.3"/>
<path d="M1557.1 645.6l-4-17.5"/>
<path d="M1572.3 646.1l4.1-23.6"/>
<path d="M1584.8 655.2l7.7-16.2 9.8-15.1"/>
<path d="M1600.2 650.5l9.6-11.5 15.5-14.2"/>
<path d="M1615.2 651.5l11.6-9.6 21.8-15.9"/>
<path d="M1634.9 646.2l24.5-17.3"/>
<path d="M996.1 676.9l18.5-19.7 21.5-25"/>
<path d="M1015.6 673.7l16.1-17.8 19.2-23.1"/>
<path d="M1036.2 672.7l15.7-18.1 18.8-23.4"/>
<path d="M1053.7 676.9l27.2-32 12.4-13"/>
<path d="M1070.4 676.2l22.5-24.1 9.1-7.8 7.3-5.3"/>
<path d="M1089.3 668.6l11.2-9.9 9.8-6.9 7.9-4.3 11.3-4.1"/>
<path d="M1097.4 671.8l14.7-10.3 13.7-6.2 8.7-2.3 8.9-1.3 14.9 .4"/>
<path d="M1110.6 663.4l13.5-6.4 8.6-2.5 8.9-1.5 9-.4 8.9 .7 8.8 2.1 5.6 2.1"/>
<path d="M1132 655.1l14.8-2 12 .6 11.6 2.8 13.3 6.9"/>
<path d="M1148.7 645.6l14.8 1.7 11.3 4 12.7 8 13.2 12.3"/>
<path d="M1172.3 639.6l10.4 5.9 9.4 7.5 10.5 10.6 13.3 16.3"/>
<path d="M1192.3 629.2l16.2 17.7 25.7 33.2"/>
<path d="M1214.8 629l25.7 33.2 15.4 18.4"/>
<path d="M1230 625.1l28.2 35 18.4 19.8"/>
<path d="M1245.5 624.1l28.9 34.5 12.7 12.8 11.3 9.8"/>
<path d="M1267.5 627.5l13.5 16.1 10.3 10.9 11.1 10 12.1 8.9"/>
<path d="M1283.4 630.5l11.8 13.5 10.9 10.3 12 9 10.8 5.2"/>
<path d="M1314.4 646.9l12.3 8.5 8.6 2.5"/>
<path d="M1338.4 654.1l2.7-1.2 2.2-2.1"/>
<path d="M1358.5 661.1l-3.1-11.6"/>
<path d="M1382.2 663l-12.3-20.7"/>
<path d="M1403.7 663.4l-15-18.8"/>
<path d="M1419.4 662.9l-16.4-17.5"/>
<path d="M1435.6 660l-12.8-12.7"/>
<path d="M1453.4 660.2l-7.4-9.4"/>
<path d="M1470.6 658.2l-6.8-9.8"/>
<path d="M1486.6 662.2l-6.3-10.2"/>
<path d="M1511.8 663.4l-14.7-19"/>
<path d="M1528.9 664.1l-6.3-10.2-7.4-9.5"/>
<path d="M1543.6 664.2l-4.7-11-5.9-10.5"/>
<path d="M1559.7 664.2l-2.7-23.9"/>
<path d="M1570.6 670.3l2.6-17.8 3.7-17.6"/>
<path d="M1584.8 676l8.9-19 4.8-7.6 7.3-9.5"/>
<path d="M1596.7 669.7l6.9-9.8 5.8-6.8 15.7-14"/>
<path d="M1612.9 667l13.5-11.9 19.6-13.8"/>
<path d="M1631.3 667.2l29.5-20.6"/>
</g></g>
<rect x="708.6" y="597.4" width="58.6" height="41.7" fill="#A020F0"/>
<text x="716.01" y="612.6" font-size="13.5" textLength="43.11" lengthAdjust="spacingAndGlyphs" fill="#1a0a2a">10 m/s</text>
<path d="M712.6 624.9H760.6" stroke="#1a0a2a" stroke-width="1.4" fill="none" marker-end="url(#ah)"/>
<rect x="1601.1" y="597.4" width="58.6" height="41.7" fill="#A020F0"/>
<text x="1608.51" y="612.6" font-size="13.5" textLength="43.11" lengthAdjust="spacingAndGlyphs" fill="#1a0a2a">12 m/s</text>
<path d="M1605.1 624.9H1653.1" stroke="#1a0a2a" stroke-width="1.4" fill="none" marker-end="url(#ah)"/>
<path d="M292.9 668.3L292.9 689.8M534.6 668.3L534.6 689.8M115.7 610.9L94.2 610.9M115.7 364.8L94.2 364.8M115.7 118.8L94.2 118.8" stroke="#000" stroke-width="3.2" fill="none"/>
<path d="M131.8 668.3L131.8 678.8M212.4 668.3L212.4 678.8M373.5 668.3L373.5 678.8M454.0 668.3L454.0 678.8M615.1 668.3L615.1 678.8M695.7 668.3L695.7 678.8M115.7 528.9L105.2 528.9M115.7 446.9L105.2 446.9M115.7 282.8L105.2 282.8M115.7 200.8L105.2 200.8" stroke="#222" stroke-width="1.6" fill="none"/>
<rect x="115.7" y="69.6" width="652.5" height="598.7" fill="none" stroke="#000" stroke-width="3"/>
<text x="28.96" y="128.8" font-size="29.5" textLength="50.06" lengthAdjust="spacingAndGlyphs">30N</text>
<text x="28.96" y="620.8" font-size="29.5" textLength="48.49" lengthAdjust="spacingAndGlyphs">30S</text>
<text x="62.39" y="374.8" font-size="29.5" textLength="14.43" lengthAdjust="spacingAndGlyphs">0</text>
<text x="285.71" y="729.5" font-size="29.5" textLength="14.43" lengthAdjust="spacingAndGlyphs">0</text>
<text x="509.62" y="729.5" font-size="29.5" textLength="50.08" lengthAdjust="spacingAndGlyphs">30E</text>
<rect x="804.6" y="75.7" width="40.3" height="58.7" fill="#FF0000" stroke="#2a2a2a" stroke-width="1.2"/>
<rect x="804.6" y="134.4" width="40.3" height="58.7" fill="#FF7300" stroke="#2a2a2a" stroke-width="1.2"/>
<rect x="804.6" y="193.0" width="40.3" height="58.7" fill="#FFDC00" stroke="#2a2a2a" stroke-width="1.2"/>
<rect x="804.6" y="251.7" width="40.3" height="58.7" fill="#AEE30C" stroke="#2a2a2a" stroke-width="1.2"/>
<rect x="804.6" y="310.3" width="40.3" height="58.7" fill="#3FC213" stroke="#2a2a2a" stroke-width="1.2"/>
<rect x="804.6" y="369.0" width="40.3" height="58.7" fill="#0A8A46" stroke="#2a2a2a" stroke-width="1.2"/>
<rect x="804.6" y="427.7" width="40.3" height="58.7" fill="#0631B3" stroke="#2a2a2a" stroke-width="1.2"/>
<rect x="804.6" y="486.3" width="40.3" height="58.7" fill="#2219FF" stroke="#2a2a2a" stroke-width="1.2"/>
<rect x="804.6" y="545.0" width="40.3" height="58.7" fill="#8C8CFF" stroke="#2a2a2a" stroke-width="1.2"/>
<rect x="804.6" y="603.6" width="40.3" height="58.7" fill="#FFFFFF" stroke="#2a2a2a" stroke-width="1.2"/>
<text x="852.31" y="146.0" font-size="32" textLength="50.45" lengthAdjust="spacingAndGlyphs">100</text>
<text x="861.21" y="204.6" font-size="32" textLength="33.64" lengthAdjust="spacingAndGlyphs">95</text>
<text x="861.16" y="263.3" font-size="32" textLength="33.64" lengthAdjust="spacingAndGlyphs">90</text>
<text x="861.26" y="321.9" font-size="32" textLength="33.64" lengthAdjust="spacingAndGlyphs">85</text>
<text x="861.22" y="380.6" font-size="32" textLength="33.64" lengthAdjust="spacingAndGlyphs">80</text>
<text x="861.14" y="439.3" font-size="32" textLength="33.64" lengthAdjust="spacingAndGlyphs">75</text>
<text x="861.10" y="497.9" font-size="32" textLength="33.64" lengthAdjust="spacingAndGlyphs">70</text>
<text x="861.15" y="556.6" font-size="32" textLength="33.64" lengthAdjust="spacingAndGlyphs">65</text>
<text x="861.10" y="615.2" font-size="32" textLength="33.64" lengthAdjust="spacingAndGlyphs">60</text>
<text x="813.43" y="700.3" font-size="25" textLength="36.95" lengthAdjust="spacingAndGlyphs">(%)</text>
<rect x="408.7" y="228.3" width="266.8" height="122.4" fill="none" stroke="#ED1C24" stroke-width="6.2"/>
<path d="M1185.4 668.3L1185.4 689.8M1427.2 668.3L1427.2 689.8M1008.2 610.9L986.7 610.9M1008.2 364.8L986.7 364.8M1008.2 118.8L986.7 118.8" stroke="#000" stroke-width="3.2" fill="none"/>
<path d="M1024.3 668.3L1024.3 678.8M1104.9 668.3L1104.9 678.8M1266.0 668.3L1266.0 678.8M1346.6 668.3L1346.6 678.8M1507.7 668.3L1507.7 678.8M1588.3 668.3L1588.3 678.8M1008.2 528.9L997.7 528.9M1008.2 446.9L997.7 446.9M1008.2 282.8L997.7 282.8M1008.2 200.8L997.7 200.8" stroke="#222" stroke-width="1.6" fill="none"/>
<rect x="1008.2" y="69.6" width="652.6" height="598.7" fill="none" stroke="#000" stroke-width="3"/>
<text x="921.46" y="128.8" font-size="29.5" textLength="50.06" lengthAdjust="spacingAndGlyphs">30N</text>
<text x="921.46" y="620.8" font-size="29.5" textLength="48.49" lengthAdjust="spacingAndGlyphs">30S</text>
<text x="954.89" y="374.8" font-size="29.5" textLength="14.43" lengthAdjust="spacingAndGlyphs">0</text>
<text x="1178.24" y="729.5" font-size="29.5" textLength="14.43" lengthAdjust="spacingAndGlyphs">0</text>
<text x="1402.18" y="729.5" font-size="29.5" textLength="50.08" lengthAdjust="spacingAndGlyphs">30E</text>
<rect x="1697.1" y="75.7" width="40.3" height="58.7" fill="#FF0000" stroke="#2a2a2a" stroke-width="1.2"/>
<rect x="1697.1" y="134.4" width="40.3" height="58.7" fill="#FF7300" stroke="#2a2a2a" stroke-width="1.2"/>
<rect x="1697.1" y="193.0" width="40.3" height="58.7" fill="#FFDC00" stroke="#2a2a2a" stroke-width="1.2"/>
<rect x="1697.1" y="251.7" width="40.3" height="58.7" fill="#AEE30C" stroke="#2a2a2a" stroke-width="1.2"/>
<rect x="1697.1" y="310.3" width="40.3" height="58.7" fill="#3FC213" stroke="#2a2a2a" stroke-width="1.2"/>
<rect x="1697.1" y="369.0" width="40.3" height="58.7" fill="#0A8A46" stroke="#2a2a2a" stroke-width="1.2"/>
<rect x="1697.1" y="427.7" width="40.3" height="58.7" fill="#0631B3" stroke="#2a2a2a" stroke-width="1.2"/>
<rect x="1697.1" y="486.3" width="40.3" height="58.7" fill="#2219FF" stroke="#2a2a2a" stroke-width="1.2"/>
<rect x="1697.1" y="545.0" width="40.3" height="58.7" fill="#8C8CFF" stroke="#2a2a2a" stroke-width="1.2"/>
<rect x="1697.1" y="603.6" width="40.3" height="58.7" fill="#FFFFFF" stroke="#2a2a2a" stroke-width="1.2"/>
<text x="1744.81" y="146.0" font-size="32" textLength="50.45" lengthAdjust="spacingAndGlyphs">100</text>
<text x="1753.71" y="204.6" font-size="32" textLength="33.64" lengthAdjust="spacingAndGlyphs">95</text>
<text x="1753.66" y="263.3" font-size="32" textLength="33.64" lengthAdjust="spacingAndGlyphs">90</text>
<text x="1753.76" y="321.9" font-size="32" textLength="33.64" lengthAdjust="spacingAndGlyphs">85</text>
<text x="1753.72" y="380.6" font-size="32" textLength="33.64" lengthAdjust="spacingAndGlyphs">80</text>
<text x="1753.64" y="439.3" font-size="32" textLength="33.64" lengthAdjust="spacingAndGlyphs">75</text>
<text x="1753.60" y="497.9" font-size="32" textLength="33.64" lengthAdjust="spacingAndGlyphs">70</text>
<text x="1753.65" y="556.6" font-size="32" textLength="33.64" lengthAdjust="spacingAndGlyphs">65</text>
<text x="1753.60" y="615.2" font-size="32" textLength="33.64" lengthAdjust="spacingAndGlyphs">60</text>
<text x="1705.93" y="700.3" font-size="25" textLength="36.95" lengthAdjust="spacingAndGlyphs">(%)</text>
<rect x="1294.0" y="228.3" width="265.2" height="122.4" fill="none" stroke="#ED1C24" stroke-width="6.2"/>
<path d="M294.2 1426.0L294.2 1447.5M294.2 812.9L294.2 791.4M548.1 1426.0L548.1 1447.5M548.1 812.9L548.1 791.4M108.0 1367.2L86.5 1367.2M793.5 1367.2L815.0 1367.2M108.0 1115.3L86.5 1115.3M793.5 1115.3L815.0 1115.3M108.0 863.3L86.5 863.3M793.5 863.3L815.0 863.3" stroke="#000" stroke-width="3.2" fill="none"/>
<path d="M124.9 1426.0L124.9 1436.5M124.9 812.9L124.9 802.4M209.6 1426.0L209.6 1436.5M209.6 812.9L209.6 802.4M378.8 1426.0L378.8 1436.5M378.8 812.9L378.8 802.4M463.4 1426.0L463.4 1436.5M463.4 812.9L463.4 802.4M632.7 1426.0L632.7 1436.5M632.7 812.9L632.7 802.4M717.3 1426.0L717.3 1436.5M717.3 812.9L717.3 802.4M108.0 1283.2L97.5 1283.2M793.5 1283.2L804.0 1283.2M108.0 1199.2L97.5 1199.2M793.5 1199.2L804.0 1199.2M108.0 1031.3L97.5 1031.3M793.5 1031.3L804.0 1031.3M108.0 947.3L97.5 947.3M793.5 947.3L804.0 947.3" stroke="#222" stroke-width="1.6" fill="none"/>
<rect x="108.0" y="812.9" width="685.5" height="613.1" fill="none" stroke="#000" stroke-width="3"/>
<text x="17.42" y="873.6" font-size="30.5" textLength="51.99" lengthAdjust="spacingAndGlyphs">30N</text>
<text x="17.42" y="1377.5" font-size="30.5" textLength="50.38" lengthAdjust="spacingAndGlyphs">30S</text>
<text x="52.25" y="1125.5" font-size="30.5" textLength="15.01" lengthAdjust="spacingAndGlyphs">0</text>
<text x="286.68" y="1488.8" font-size="30.5" textLength="15.01" lengthAdjust="spacingAndGlyphs">0</text>
<text x="522.68" y="1488.8" font-size="30.5" textLength="50.92" lengthAdjust="spacingAndGlyphs">30E</text>
<rect x="408.7" y="1000.1" width="266.8" height="122.0" fill="none" stroke="#ED1C24" stroke-width="6.2"/>
<path d="M1186.8 1426.0L1186.8 1447.5M1186.8 813.6L1186.8 792.1M1440.8 1426.0L1440.8 1447.5M1440.8 813.6L1440.8 792.1M1000.5 1367.3L979.0 1367.3M1686.4 1367.3L1707.9 1367.3M1000.5 1115.6L979.0 1115.6M1686.4 1115.6L1707.9 1115.6M1000.5 863.9L979.0 863.9M1686.4 863.9L1707.9 863.9" stroke="#000" stroke-width="3.2" fill="none"/>
<path d="M1017.4 1426.0L1017.4 1436.5M1017.4 813.6L1017.4 803.1M1102.1 1426.0L1102.1 1436.5M1102.1 813.6L1102.1 803.1M1271.5 1426.0L1271.5 1436.5M1271.5 813.6L1271.5 803.1M1356.2 1426.0L1356.2 1436.5M1356.2 813.6L1356.2 803.1M1525.5 1426.0L1525.5 1436.5M1525.5 813.6L1525.5 803.1M1610.2 1426.0L1610.2 1436.5M1610.2 813.6L1610.2 803.1M1000.5 1283.4L990.0 1283.4M1686.4 1283.4L1696.9 1283.4M1000.5 1199.5L990.0 1199.5M1686.4 1199.5L1696.9 1199.5M1000.5 1031.7L990.0 1031.7M1686.4 1031.7L1696.9 1031.7M1000.5 947.8L990.0 947.8M1686.4 947.8L1696.9 947.8" stroke="#222" stroke-width="1.6" fill="none"/>
<rect x="1000.5" y="813.6" width="685.9" height="612.4" fill="none" stroke="#000" stroke-width="3"/>
<text x="909.92" y="874.2" font-size="30.5" textLength="51.99" lengthAdjust="spacingAndGlyphs">30N</text>
<text x="909.92" y="1377.6" font-size="30.5" textLength="50.38" lengthAdjust="spacingAndGlyphs">30S</text>
<text x="944.75" y="1125.9" font-size="30.5" textLength="15.01" lengthAdjust="spacingAndGlyphs">0</text>
<text x="1179.29" y="1488.8" font-size="30.5" textLength="15.01" lengthAdjust="spacingAndGlyphs">0</text>
<text x="1415.44" y="1488.8" font-size="30.5" textLength="50.92" lengthAdjust="spacingAndGlyphs">30E</text>
<rect x="1306.7" y="1000.1" width="266.6" height="122.0" fill="none" stroke="#ED1C24" stroke-width="6.2"/>
<path d="M294.2 2342.5L294.2 2364.0M294.2 1724.5L294.2 1703.0M548.1 2342.5L548.1 2364.0M548.1 1724.5L548.1 1703.0M108.0 2283.2L86.5 2283.2M793.5 2283.2L815.0 2283.2M108.0 2029.3L86.5 2029.3M793.5 2029.3L815.0 2029.3M108.0 1775.3L86.5 1775.3M793.5 1775.3L815.0 1775.3" stroke="#000" stroke-width="3.2" fill="none"/>
<path d="M124.9 2342.5L124.9 2353.0M124.9 1724.5L124.9 1714.0M209.6 2342.5L209.6 2353.0M209.6 1724.5L209.6 1714.0M378.8 2342.5L378.8 2353.0M378.8 1724.5L378.8 1714.0M463.4 2342.5L463.4 2353.0M463.4 1724.5L463.4 1714.0M632.7 2342.5L632.7 2353.0M632.7 1724.5L632.7 1714.0M717.3 2342.5L717.3 2353.0M717.3 1724.5L717.3 1714.0M108.0 2198.6L97.5 2198.6M793.5 2198.6L804.0 2198.6M108.0 2113.9L97.5 2113.9M793.5 2113.9L804.0 2113.9M108.0 1944.6L97.5 1944.6M793.5 1944.6L804.0 1944.6M108.0 1860.0L97.5 1860.0M793.5 1860.0L804.0 1860.0" stroke="#222" stroke-width="1.6" fill="none"/>
<rect x="108.0" y="1724.5" width="685.5" height="618.0" fill="none" stroke="#000" stroke-width="3"/>
<text x="17.42" y="1785.6" font-size="30.5" textLength="51.99" lengthAdjust="spacingAndGlyphs">30N</text>
<text x="17.42" y="2293.5" font-size="30.5" textLength="50.38" lengthAdjust="spacingAndGlyphs">30S</text>
<text x="52.25" y="2039.6" font-size="30.5" textLength="15.01" lengthAdjust="spacingAndGlyphs">0</text>
<text x="286.68" y="2405.6" font-size="30.5" textLength="15.01" lengthAdjust="spacingAndGlyphs">0</text>
<text x="522.68" y="2405.6" font-size="30.5" textLength="50.92" lengthAdjust="spacingAndGlyphs">30E</text>
<rect x="408.7" y="1914.8" width="266.8" height="121.7" fill="none" stroke="#ED1C24" stroke-width="6.2"/>
<path d="M1164.8 2342.5L1164.8 2364.0M1164.8 1724.5L1164.8 1703.0M1418.7 2342.5L1418.7 2364.0M1418.7 1724.5L1418.7 1703.0M978.6 2283.2L957.1 2283.2M1664.1 2283.2L1685.6 2283.2M978.6 2029.3L957.1 2029.3M1664.1 2029.3L1685.6 2029.3M978.6 1775.3L957.1 1775.3M1664.1 1775.3L1685.6 1775.3" stroke="#000" stroke-width="3.2" fill="none"/>
<path d="M995.5 2342.5L995.5 2353.0M995.5 1724.5L995.5 1714.0M1080.2 2342.5L1080.2 2353.0M1080.2 1724.5L1080.2 1714.0M1249.4 2342.5L1249.4 2353.0M1249.4 1724.5L1249.4 1714.0M1334.0 2342.5L1334.0 2353.0M1334.0 1724.5L1334.0 1714.0M1503.3 2342.5L1503.3 2353.0M1503.3 1724.5L1503.3 1714.0M1587.9 2342.5L1587.9 2353.0M1587.9 1724.5L1587.9 1714.0M978.6 2198.6L968.1 2198.6M1664.1 2198.6L1674.6 2198.6M978.6 2113.9L968.1 2113.9M1664.1 2113.9L1674.6 2113.9M978.6 1944.6L968.1 1944.6M1664.1 1944.6L1674.6 1944.6M978.6 1860.0L968.1 1860.0M1664.1 1860.0L1674.6 1860.0" stroke="#222" stroke-width="1.6" fill="none"/>
<rect x="978.6" y="1724.5" width="685.5" height="618.0" fill="none" stroke="#000" stroke-width="3"/>
<text x="888.02" y="1785.6" font-size="30.5" textLength="51.99" lengthAdjust="spacingAndGlyphs">30N</text>
<text x="888.02" y="2293.5" font-size="30.5" textLength="50.38" lengthAdjust="spacingAndGlyphs">30S</text>
<text x="922.85" y="2039.6" font-size="30.5" textLength="15.01" lengthAdjust="spacingAndGlyphs">0</text>
<text x="1157.28" y="2405.6" font-size="30.5" textLength="15.01" lengthAdjust="spacingAndGlyphs">0</text>
<text x="1393.28" y="2405.6" font-size="30.5" textLength="50.92" lengthAdjust="spacingAndGlyphs">30E</text>
<rect x="1283.6" y="1914.8" width="265.3" height="121.7" fill="none" stroke="#ED1C24" stroke-width="6.2"/>
<rect x="116.8" y="1508.7" width="55.7" height="55.4" fill="#FFFFFF" stroke="#1a1a1a" stroke-width="1.2"/>
<rect x="172.5" y="1508.7" width="55.7" height="55.4" fill="#F4FBEC" stroke="#1a1a1a" stroke-width="1.2"/>
<rect x="228.2" y="1508.7" width="55.7" height="55.4" fill="#DFF2D8" stroke="#1a1a1a" stroke-width="1.2"/>
<rect x="283.9" y="1508.7" width="55.7" height="55.4" fill="#C9E9C2" stroke="#1a1a1a" stroke-width="1.2"/>
<rect x="339.6" y="1508.7" width="55.7" height="55.4" fill="#A4DAB3" stroke="#1a1a1a" stroke-width="1.2"/>
<rect x="395.3" y="1508.7" width="55.7" height="55.4" fill="#7BCBC3" stroke="#1a1a1a" stroke-width="1.2"/>
<rect x="451.0" y="1508.7" width="55.7" height="55.4" fill="#79CBC2" stroke="#1a1a1a" stroke-width="1.2"/>
<rect x="506.7" y="1508.7" width="55.7" height="55.4" fill="#4EB1D1" stroke="#1a1a1a" stroke-width="1.2"/>
<rect x="562.4" y="1508.7" width="55.7" height="55.4" fill="#2C8CBF" stroke="#1a1a1a" stroke-width="1.2"/>
<rect x="618.1" y="1508.7" width="55.7" height="55.4" fill="#0A68AD" stroke="#1a1a1a" stroke-width="1.2"/>
<rect x="673.8" y="1508.7" width="55.7" height="55.4" fill="#0B3F84" stroke="#1a1a1a" stroke-width="1.2"/>
<rect x="729.5" y="1508.7" width="55.7" height="55.4" fill="#061D3B" stroke="#1a1a1a" stroke-width="1.2"/>
<text x="155.55" y="1600.8" font-size="29.5" textLength="32.81" lengthAdjust="spacingAndGlyphs">10</text>
<text x="211.29" y="1600.8" font-size="29.5" textLength="32.81" lengthAdjust="spacingAndGlyphs">15</text>
<text x="267.33" y="1600.8" font-size="29.5" textLength="32.81" lengthAdjust="spacingAndGlyphs">20</text>
<text x="323.07" y="1600.8" font-size="29.5" textLength="32.81" lengthAdjust="spacingAndGlyphs">25</text>
<text x="378.91" y="1600.8" font-size="29.5" textLength="32.81" lengthAdjust="spacingAndGlyphs">30</text>
<text x="434.65" y="1600.8" font-size="29.5" textLength="32.81" lengthAdjust="spacingAndGlyphs">35</text>
<text x="490.53" y="1600.8" font-size="29.5" textLength="32.81" lengthAdjust="spacingAndGlyphs">40</text>
<text x="546.27" y="1600.8" font-size="29.5" textLength="32.81" lengthAdjust="spacingAndGlyphs">45</text>
<text x="601.68" y="1600.8" font-size="29.5" textLength="32.81" lengthAdjust="spacingAndGlyphs">50</text>
<text x="657.42" y="1600.8" font-size="29.5" textLength="32.81" lengthAdjust="spacingAndGlyphs">55</text>
<text x="712.92" y="1600.8" font-size="29.5" textLength="32.81" lengthAdjust="spacingAndGlyphs">60</text>
<rect x="1009.4" y="1508.7" width="47.8" height="55.4" fill="#FFFFFF" stroke="#1a1a1a" stroke-width="1.2"/>
<rect x="1057.2" y="1508.7" width="47.8" height="55.4" fill="#AAAAFF" stroke="#1a1a1a" stroke-width="1.2"/>
<rect x="1104.9" y="1508.7" width="47.8" height="55.4" fill="#6868FF" stroke="#1a1a1a" stroke-width="1.2"/>
<rect x="1152.7" y="1508.7" width="47.8" height="55.4" fill="#1F14FF" stroke="#1a1a1a" stroke-width="1.2"/>
<rect x="1200.4" y="1508.7" width="47.8" height="55.4" fill="#0820C8" stroke="#1a1a1a" stroke-width="1.2"/>
<rect x="1248.2" y="1508.7" width="47.8" height="55.4" fill="#0A5A82" stroke="#1a1a1a" stroke-width="1.2"/>
<rect x="1295.9" y="1508.7" width="47.8" height="55.4" fill="#0B9440" stroke="#1a1a1a" stroke-width="1.2"/>
<rect x="1343.7" y="1508.7" width="47.8" height="55.4" fill="#2EBE18" stroke="#1a1a1a" stroke-width="1.2"/>
<rect x="1391.5" y="1508.7" width="47.8" height="55.4" fill="#78D60F" stroke="#1a1a1a" stroke-width="1.2"/>
<rect x="1439.2" y="1508.7" width="47.8" height="55.4" fill="#C3EE0A" stroke="#1a1a1a" stroke-width="1.2"/>
<rect x="1487.0" y="1508.7" width="47.8" height="55.4" fill="#FFEE00" stroke="#1a1a1a" stroke-width="1.2"/>
<rect x="1534.7" y="1508.7" width="47.8" height="55.4" fill="#FF9E00" stroke="#1a1a1a" stroke-width="1.2"/>
<rect x="1582.5" y="1508.7" width="47.8" height="55.4" fill="#FF5000" stroke="#1a1a1a" stroke-width="1.2"/>
<rect x="1630.2" y="1508.7" width="47.8" height="55.4" fill="#FF0000" stroke="#1a1a1a" stroke-width="1.2"/>
<text x="1031.75" y="1600.8" font-size="29.5" textLength="49.71" lengthAdjust="spacingAndGlyphs">100</text>
<text x="1127.80" y="1600.8" font-size="29.5" textLength="49.71" lengthAdjust="spacingAndGlyphs">500</text>
<text x="1223.21" y="1600.8" font-size="29.5" textLength="49.71" lengthAdjust="spacingAndGlyphs">900</text>
<text x="1310.01" y="1600.8" font-size="29.5" textLength="66.28" lengthAdjust="spacingAndGlyphs">1300</text>
<text x="1405.52" y="1600.8" font-size="29.5" textLength="66.28" lengthAdjust="spacingAndGlyphs">1700</text>
<text x="1501.42" y="1600.8" font-size="29.5" textLength="66.28" lengthAdjust="spacingAndGlyphs">2100</text>
<text x="1596.93" y="1600.8" font-size="29.5" textLength="66.28" lengthAdjust="spacingAndGlyphs">2500</text>
<rect x="117.3" y="2425.8" width="83.5" height="55.5" fill="#FFFFFF" stroke="#1a1a1a" stroke-width="1.2"/>
<rect x="200.8" y="2425.8" width="83.5" height="55.5" fill="#9BD7F5" stroke="#1a1a1a" stroke-width="1.2"/>
<rect x="284.3" y="2425.8" width="83.5" height="55.5" fill="#4A8CCB" stroke="#1a1a1a" stroke-width="1.2"/>
<rect x="367.8" y="2425.8" width="83.5" height="55.5" fill="#4CB748" stroke="#1a1a1a" stroke-width="1.2"/>
<rect x="451.3" y="2425.8" width="83.5" height="55.5" fill="#F9E556" stroke="#1a1a1a" stroke-width="1.2"/>
<rect x="534.7" y="2425.8" width="83.5" height="55.5" fill="#F46E25" stroke="#1a1a1a" stroke-width="1.2"/>
<rect x="618.2" y="2425.8" width="83.5" height="55.5" fill="#D7212A" stroke="#1a1a1a" stroke-width="1.2"/>
<rect x="701.7" y="2425.8" width="83.5" height="55.5" fill="#8E1419" stroke="#1a1a1a" stroke-width="1.2"/>
<text x="184.26" y="2519.0" font-size="29.5" textLength="32.81" lengthAdjust="spacingAndGlyphs">25</text>
<text x="267.77" y="2519.0" font-size="29.5" textLength="32.81" lengthAdjust="spacingAndGlyphs">26</text>
<text x="351.37" y="2519.0" font-size="29.5" textLength="32.81" lengthAdjust="spacingAndGlyphs">30</text>
<text x="435.00" y="2519.0" font-size="29.5" textLength="32.81" lengthAdjust="spacingAndGlyphs">31</text>
<text x="518.39" y="2519.0" font-size="29.5" textLength="32.81" lengthAdjust="spacingAndGlyphs">35</text>
<text x="601.90" y="2519.0" font-size="29.5" textLength="32.81" lengthAdjust="spacingAndGlyphs">36</text>
<text x="685.54" y="2519.0" font-size="29.5" textLength="32.81" lengthAdjust="spacingAndGlyphs">40</text>
<rect x="988.0" y="2425.8" width="55.6" height="55.5" fill="#FFFFFF" stroke="#1a1a1a" stroke-width="1.2"/>
<rect x="1043.6" y="2425.8" width="55.6" height="55.5" fill="#D4E0FC" stroke="#1a1a1a" stroke-width="1.2"/>
<rect x="1099.2" y="2425.8" width="55.6" height="55.5" fill="#B6C8FB" stroke="#1a1a1a" stroke-width="1.2"/>
<rect x="1154.8" y="2425.8" width="55.6" height="55.5" fill="#8098FA" stroke="#1a1a1a" stroke-width="1.2"/>
<rect x="1210.3" y="2425.8" width="55.6" height="55.5" fill="#7088F0" stroke="#1a1a1a" stroke-width="1.2"/>
<rect x="1265.9" y="2425.8" width="55.6" height="55.5" fill="#059A1E" stroke="#1a1a1a" stroke-width="1.2"/>
<rect x="1321.5" y="2425.8" width="55.6" height="55.5" fill="#40B540" stroke="#1a1a1a" stroke-width="1.2"/>
<rect x="1377.1" y="2425.8" width="55.6" height="55.5" fill="#B4F56C" stroke="#1a1a1a" stroke-width="1.2"/>
<rect x="1432.7" y="2425.8" width="55.6" height="55.5" fill="#FFF514" stroke="#1a1a1a" stroke-width="1.2"/>
<rect x="1488.2" y="2425.8" width="55.6" height="55.5" fill="#E60000" stroke="#1a1a1a" stroke-width="1.2"/>
<rect x="1543.8" y="2425.8" width="55.6" height="55.5" fill="#BE0000" stroke="#1a1a1a" stroke-width="1.2"/>
<rect x="1599.4" y="2425.8" width="55.6" height="55.5" fill="#000000" stroke="#1a1a1a" stroke-width="1.2"/>
<text x="1027.49" y="2519.0" font-size="29.5" textLength="32.81" lengthAdjust="spacingAndGlyphs">43</text>
<text x="1082.85" y="2519.0" font-size="29.5" textLength="32.81" lengthAdjust="spacingAndGlyphs">44</text>
<text x="1138.62" y="2519.0" font-size="29.5" textLength="32.81" lengthAdjust="spacingAndGlyphs">45</text>
<text x="1194.24" y="2519.0" font-size="29.5" textLength="32.81" lengthAdjust="spacingAndGlyphs">46</text>
<text x="1249.91" y="2519.0" font-size="29.5" textLength="32.81" lengthAdjust="spacingAndGlyphs">47</text>
<text x="1305.40" y="2519.0" font-size="29.5" textLength="32.81" lengthAdjust="spacingAndGlyphs">48</text>
<text x="1361.04" y="2519.0" font-size="29.5" textLength="32.81" lengthAdjust="spacingAndGlyphs">49</text>
<text x="1416.25" y="2519.0" font-size="29.5" textLength="32.81" lengthAdjust="spacingAndGlyphs">50</text>
<text x="1471.97" y="2519.0" font-size="29.5" textLength="32.81" lengthAdjust="spacingAndGlyphs">51</text>
<text x="1527.58" y="2519.0" font-size="29.5" textLength="32.81" lengthAdjust="spacingAndGlyphs">52</text>
<text x="1583.07" y="2519.0" font-size="29.5" textLength="32.81" lengthAdjust="spacingAndGlyphs">56</text>
<text x="73.42" y="49.0" font-size="36.5" textLength="40.96" lengthAdjust="spacingAndGlyphs" fill="#1c1c1c">(a)</text>
<text y="50.2" font-size="26.5" fill="#1c1c1c"><tspan x="119.21" textLength="60.16" lengthAdjust="spacingAndGlyphs">ERA5</tspan> <tspan x="191.49" textLength="59.09" lengthAdjust="spacingAndGlyphs">Wind</tspan> <tspan x="256.09" textLength="86.23" lengthAdjust="spacingAndGlyphs">Vectors</tspan> <tspan x="348.72" textLength="16.78" lengthAdjust="spacingAndGlyphs">&amp;</tspan> <tspan x="382.30" textLength="32.65" lengthAdjust="spacingAndGlyphs">Rh</tspan> <tspan x="419.88" textLength="22.01" lengthAdjust="spacingAndGlyphs">at</tspan> <tspan x="448.64" textLength="44.40" lengthAdjust="spacingAndGlyphs">850</tspan> <tspan x="497.71" textLength="40.79" lengthAdjust="spacingAndGlyphs">hPa</tspan> <tspan x="587.80" textLength="57.22" lengthAdjust="spacingAndGlyphs">0618</tspan> <tspan x="662.70" textLength="28.42" lengthAdjust="spacingAndGlyphs">06</tspan> <tspan x="696.05" textLength="16.48" lengthAdjust="spacingAndGlyphs">h</tspan></text>
<text x="955.62" y="49.0" font-size="36.5" textLength="46.97" lengthAdjust="spacingAndGlyphs" fill="#1c1c1c">(b)</text>
<text y="50.2" font-size="26.5" fill="#1c1c1c"><tspan x="1008.61" textLength="60.16" lengthAdjust="spacingAndGlyphs">ERA5</tspan> <tspan x="1081.39" textLength="58.67" lengthAdjust="spacingAndGlyphs">Wind</tspan> <tspan x="1145.59" textLength="86.23" lengthAdjust="spacingAndGlyphs">Vectors</tspan> <tspan x="1238.11" textLength="16.89" lengthAdjust="spacingAndGlyphs">&amp;</tspan> <tspan x="1272.20" textLength="32.65" lengthAdjust="spacingAndGlyphs">Rh</tspan> <tspan x="1309.27" textLength="22.12" lengthAdjust="spacingAndGlyphs">at</tspan> <tspan x="1337.93" textLength="44.62" lengthAdjust="spacingAndGlyphs">700</tspan> <tspan x="1387.21" textLength="40.79" lengthAdjust="spacingAndGlyphs">hPa</tspan> <tspan x="1477.30" textLength="57.22" lengthAdjust="spacingAndGlyphs">0618</tspan> <tspan x="1552.10" textLength="28.53" lengthAdjust="spacingAndGlyphs">06</tspan> <tspan x="1586.01" textLength="15.95" lengthAdjust="spacingAndGlyphs">h</tspan></text>
<text x="57.71" y="782.2" font-size="37" textLength="41.18" lengthAdjust="spacingAndGlyphs" fill="#1c1c1c">(c)</text>
<text x="104.50" y="782.0" font-size="36.5" textLength="249.39" lengthAdjust="spacingAndGlyphs">ERA5 0618 06h</text>
<text x="569.99" y="775.4" font-size="36.5" textLength="225.70" lengthAdjust="spacingAndGlyphs">PWAT kg/m^2</text>
<text x="944.30" y="782.6" font-size="37" textLength="45.41" lengthAdjust="spacingAndGlyphs" fill="#1c1c1c">(d)</text>
<text x="996.59" y="782.4" font-size="36.5" textLength="250.72" lengthAdjust="spacingAndGlyphs">ERA5 0618 06h</text>
<text x="1517.28" y="775.8" font-size="36.5" textLength="172.92" lengthAdjust="spacingAndGlyphs">CAPE J/kg</text>
<text x="58.35" y="1693.1" font-size="37" textLength="44.29" lengthAdjust="spacingAndGlyphs" fill="#1c1c1c">(e)</text>
<text x="104.50" y="1692.9" font-size="36.5" textLength="249.39" lengthAdjust="spacingAndGlyphs">ERA5 0618 06h</text>
<text x="675.70" y="1692.9" font-size="36.5" textLength="118.08" lengthAdjust="spacingAndGlyphs">K index</text>
<text x="933.68" y="1693.1" font-size="37" textLength="39.83" lengthAdjust="spacingAndGlyphs" fill="#1c1c1c">(f)</text>
<text x="974.89" y="1692.9" font-size="36.5" textLength="250.31" lengthAdjust="spacingAndGlyphs">ERA5 0618 06h</text>
<text x="1511.42" y="1692.9" font-size="36.5" textLength="153.16" lengthAdjust="spacingAndGlyphs">TTs index</text>
<path d="M30.7 102.2a1.1 1.1 0 1 0 2.2 0a1.1 1.1 0 1 0-2.2 0M56.5 106.3a1.1 1.1 0 1 0 2.2 0a1.1 1.1 0 1 0-2.2 0M30.7 594.3a1.1 1.1 0 1 0 2.2 0a1.1 1.1 0 1 0-2.2 0M56.5 598.4a1.1 1.1 0 1 0 2.2 0a1.1 1.1 0 1 0-2.2 0M52.9 348.3a1.1 1.1 0 1 0 2.2 0a1.1 1.1 0 1 0-2.2 0M77.4 352.3a1.1 1.1 0 1 0 2.2 0a1.1 1.1 0 1 0-2.2 0M273.8 703.5a1.1 1.1 0 1 0 2.2 0a1.1 1.1 0 1 0-2.2 0M301.3 708.0a1.1 1.1 0 1 0 2.2 0a1.1 1.1 0 1 0-2.2 0M511.5 703.5a1.1 1.1 0 1 0 2.2 0a1.1 1.1 0 1 0-2.2 0M536.0 708.0a1.1 1.1 0 1 0 2.2 0a1.1 1.1 0 1 0-2.2 0M923.2 102.2a1.1 1.1 0 1 0 2.2 0a1.1 1.1 0 1 0-2.2 0M949.0 106.3a1.1 1.1 0 1 0 2.2 0a1.1 1.1 0 1 0-2.2 0M923.2 594.3a1.1 1.1 0 1 0 2.2 0a1.1 1.1 0 1 0-2.2 0M949.0 598.4a1.1 1.1 0 1 0 2.2 0a1.1 1.1 0 1 0-2.2 0M945.4 348.3a1.1 1.1 0 1 0 2.2 0a1.1 1.1 0 1 0-2.2 0M969.9 352.3a1.1 1.1 0 1 0 2.2 0a1.1 1.1 0 1 0-2.2 0M1166.3 703.5a1.1 1.1 0 1 0 2.2 0a1.1 1.1 0 1 0-2.2 0M1193.8 708.0a1.1 1.1 0 1 0 2.2 0a1.1 1.1 0 1 0-2.2 0M1404.1 703.5a1.1 1.1 0 1 0 2.2 0a1.1 1.1 0 1 0-2.2 0M1428.6 708.0a1.1 1.1 0 1 0 2.2 0a1.1 1.1 0 1 0-2.2 0M44.5 850.1a1.1 1.1 0 1 0 2.2 0a1.1 1.1 0 1 0-2.2 0M44.5 1354.0a1.1 1.1 0 1 0 2.2 0a1.1 1.1 0 1 0-2.2 0M67.4 1102.8a1.1 1.1 0 1 0 2.2 0a1.1 1.1 0 1 0-2.2 0M298.6 1466.0a1.1 1.1 0 1 0 2.2 0a1.1 1.1 0 1 0-2.2 0M551.0 1466.0a1.1 1.1 0 1 0 2.2 0a1.1 1.1 0 1 0-2.2 0M937.0 850.7a1.1 1.1 0 1 0 2.2 0a1.1 1.1 0 1 0-2.2 0M937.0 1354.1a1.1 1.1 0 1 0 2.2 0a1.1 1.1 0 1 0-2.2 0M959.9 1103.1a1.1 1.1 0 1 0 2.2 0a1.1 1.1 0 1 0-2.2 0M1191.2 1466.0a1.1 1.1 0 1 0 2.2 0a1.1 1.1 0 1 0-2.2 0M1443.7 1466.0a1.1 1.1 0 1 0 2.2 0a1.1 1.1 0 1 0-2.2 0M44.5 1762.1a1.1 1.1 0 1 0 2.2 0a1.1 1.1 0 1 0-2.2 0M44.5 2270.0a1.1 1.1 0 1 0 2.2 0a1.1 1.1 0 1 0-2.2 0M67.4 2016.8a1.1 1.1 0 1 0 2.2 0a1.1 1.1 0 1 0-2.2 0M298.6 2382.5a1.1 1.1 0 1 0 2.2 0a1.1 1.1 0 1 0-2.2 0M551.0 2382.5a1.1 1.1 0 1 0 2.2 0a1.1 1.1 0 1 0-2.2 0M915.1 1762.1a1.1 1.1 0 1 0 2.2 0a1.1 1.1 0 1 0-2.2 0M915.1 2270.0a1.1 1.1 0 1 0 2.2 0a1.1 1.1 0 1 0-2.2 0M938.0 2016.8a1.1 1.1 0 1 0 2.2 0a1.1 1.1 0 1 0-2.2 0M1169.2 2382.5a1.1 1.1 0 1 0 2.2 0a1.1 1.1 0 1 0-2.2 0M1421.6 2382.5a1.1 1.1 0 1 0 2.2 0a1.1 1.1 0 1 0-2.2 0M853.9 752.5a1.1 1.1 0 1 0 2.2 0a1.1 1.1 0 1 0-2.2 0M871.9 975.0a1.1 1.1 0 1 0 2.2 0a1.1 1.1 0 1 0-2.2 0M855.4 1197.0a1.1 1.1 0 1 0 2.2 0a1.1 1.1 0 1 0-2.2 0" fill="none" stroke="#9a9a9a" stroke-width="0.7"/>
</svg>
</body></html>
